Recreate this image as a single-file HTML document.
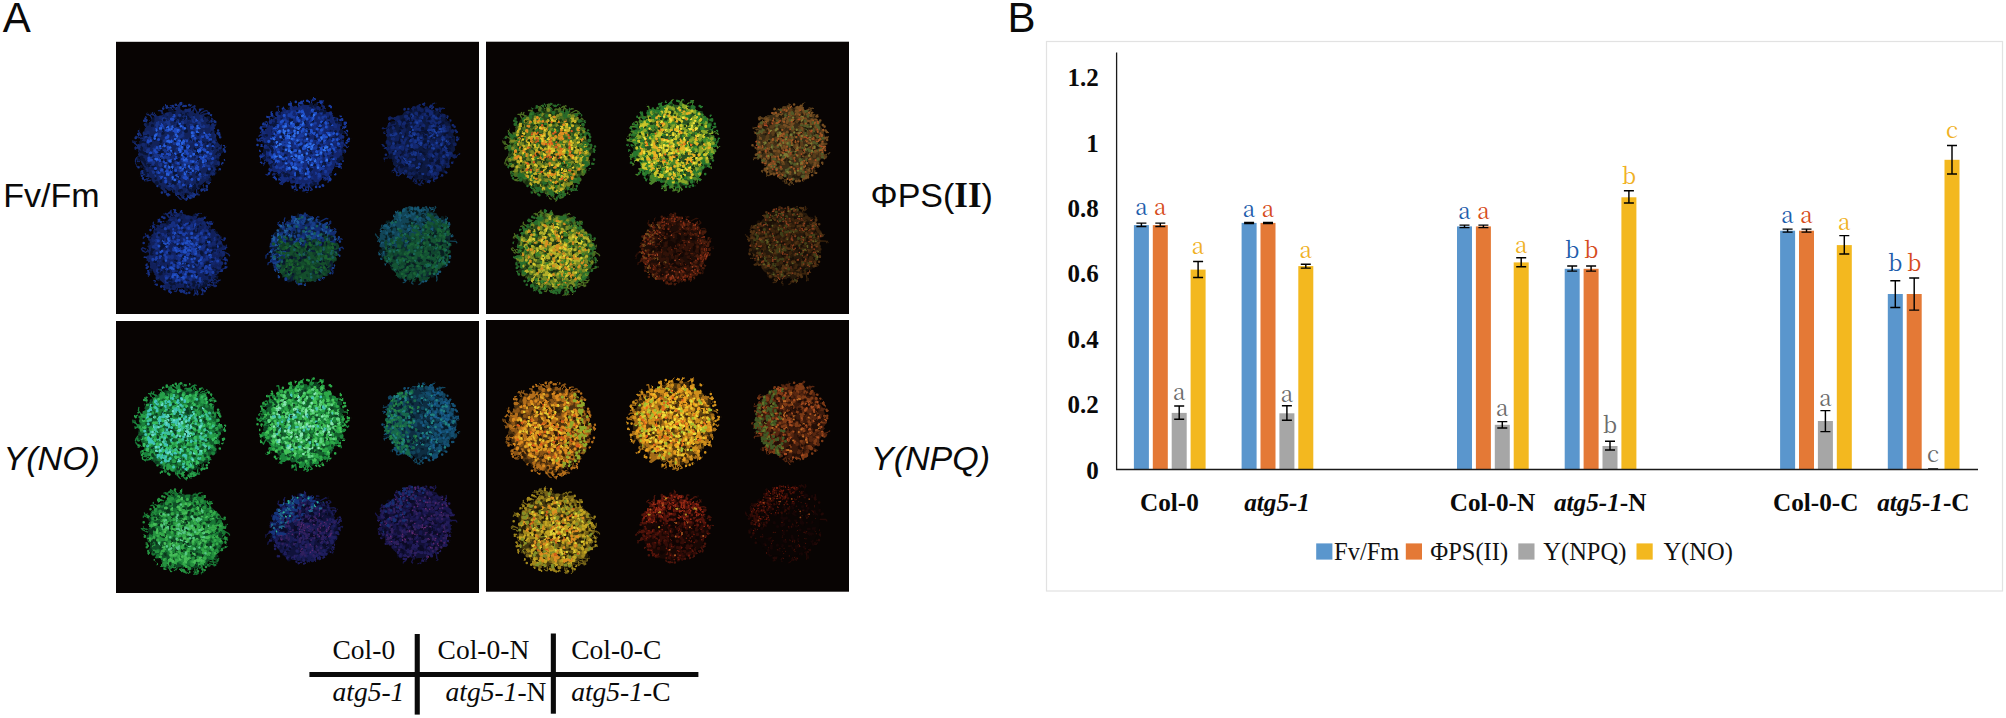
<!DOCTYPE html>
<html lang="en"><head><meta charset="utf-8"><title>Figure</title>
<style>
html,body{margin:0;padding:0;background:#fff;}
body{width:2006px;height:718px;overflow:hidden;}
svg{display:block;}
.sans{font-family:"Liberation Sans", sans-serif;fill:#0a0a0a;}
.serif{font-family:"Liberation Serif", serif;fill:#0a0a0a;}
.song{font-family:"Noto Serif CJK SC", "Liberation Serif", serif;font-weight:400;font-size:22.5px;text-anchor:middle;}
.ylab{font-family:"Liberation Serif", serif;font-weight:bold;font-size:25px;text-anchor:end;fill:#0a0a0a;}
.xlab{font-family:"Liberation Serif", serif;font-weight:bold;font-size:25.2px;text-anchor:middle;fill:#0a0a0a;}
.leg{font-family:"Liberation Serif", serif;font-size:24.5px;fill:#111;}
.tbl{font-family:"Liberation Serif", serif;font-size:27.5px;fill:#0a0a0a;}
.eb{stroke:#000;stroke-width:1.45;fill:none;}
</style></head><body>
<svg width="2006" height="718" viewBox="0 0 2006 718">
<rect width="2006" height="718" fill="#fff"/>

<defs><filter id="bl" x="0" y="0" width="100%" height="100%" color-interpolation-filters="sRGB"><feTurbulence type="fractalNoise" baseFrequency="0.16" numOctaves="2" seed="3" result="n"/><feDisplacementMap in="SourceGraphic" in2="n" scale="2.8" xChannelSelector="R" yChannelSelector="G"/><feGaussianBlur stdDeviation="0.6"/></filter></defs>
<rect x="116" y="41.8" width="363.0" height="272.2" fill="#080403"/>
<rect x="486" y="41.7" width="363.0" height="272.3" fill="#080403"/>
<rect x="116" y="321" width="363.0" height="272.0" fill="#080403"/>
<rect x="486" y="320" width="363.0" height="271.7" fill="#080403"/>
<g filter="url(#bl)" stroke-linecap="round" fill="none">
<rect x="116" y="41.8" width="363.0" height="272.2" fill="none" stroke="none"/>
<g transform="translate(179.4 150.7)"><path d="M39.9 0L39.7 3.9L40 8L36.9 11.2L37 15.3L34.9 18.7L33.5 22.4L30.9 25.3L29.1 29.1L25.5 31.1L22.7 33.9L18.9 35.4L16.4 39.6L12.3 40.5L8.3 41.9L4.3 43.3L0 42.4L-4.2 42.6L-7.8 39L-11.9 39.2L-15.2 36.7L-19.1 35.7L-22.8 34.1L-26.2 31.9L-27.8 27.8L-31.3 25.7L-32.4 21.6L-34.5 18.4L-36.2 15L-38.3 11.6L-38.8 7.7L-41.5 4.1L-40.1 0L-40.7 -4L-39.3 -7.8L-37.4 -11.3L-36.6 -15.2L-35.5 -19L-34.6 -23.1L-31.6 -26L-29.6 -29.6L-26.7 -32.5L-23 -34.5L-18.7 -35L-15.3 -36.9L-11.6 -38.4L-7.8 -39.2L-4 -40.2L0 -42.1L3.9 -39.6L7.8 -39.4L12.1 -39.8L15.5 -37.5L19.6 -36.6L23.9 -35.8L27.4 -33.4L29.3 -29.3L31.1 -25.5L34.1 -22.8L35 -18.7L36.2 -15L37.3 -11.3L38.6 -7.7L39.3 -3.9Z" fill="#12225a"/><path d="M14 -39.9L15.1 -45L16.8 -44.5M-17.3 -37L-17.2 -40.1L-19 -40.1M-30.6 27.2L-34 30L-35.5 28.9M-2.3 -41.7L1.1 -45.8L2.7 -46.7M1.2 43.6L5.7 48.8L7.1 49.9M-3.9 42.6L.1 47.9L1.8 48.6M-24.2 -33.8L-26.2 -36.5L-25.5 -38.2M-27.5 -31.9L-29.6 -36.3L-31.4 -36.2M30.5 -29.6L32.3 -32.4L33.6 -31.1M-16.2 37.2L-15 41.4L-13.6 42.5M-37.5 16.3L-43 13.9L-43.7 12.2M24 34.2L23 39.3L21.9 40.7M-22.8 -34.6L-28.5 -36.5L-27.8 -38.1M-3 -41.6L-7.3 -44.9L-9.1 -45M-35.4 20.2L-38.3 21.5L-38.6 23.3M-16.5 -37.4L-19.1 -40.3L-20.9 -40.1M-28.5 29.5L-32.4 30.2L-33.7 28.9M-.8 -41.8L-.9 -45.9L.8 -46.5M-6.6 -40.9L-10.2 -42.9L-12 -43M-15.7 37.4L-13.1 41.6L-14.8 41.9M9.6 42.6L13.1 46.9L11.3 47.3M-41.3 6L-43.5 9.1L-44 10.8M18.1 38.3L18.4 44.1L20.2 44.1M-38 -15L-41.1 -19.6L-40.5 -21.4M12.5 41.4L17.4 43.7L15.8 44.6M10.2 -40.8L13.2 -43.9L15 -44.2M-40.7 -4.8L-46.2 -7.9L-46.5 -9.7M19.3 -38.3L22.1 -41.9L23.9 -41.8M23.2 -36.4L29.3 -37.3L28.3 -38.8M21.3 -37.4L25.8 -39.9L27.6 -40M-41 -3.4L-44.2 -7.4L-44.5 -9.2M-40.9 -3.9L-44.2 -1.5L-44.4 -3.3M17.4 -38.9L15.3 -42.8L14.3 -44.3M-38.9 -11.9L-43.3 -14.4L-43.8 -12.7" stroke="#14286c" stroke-width="1.3" stroke-linejoin="round"/><path d="M4.3 -44.7h0M14.4 45.9h0M1.5 -46.6h0M38.2 -17.3h0M35.9 -28.7h0M-37 22h0M-41.1 -16.7h0M22.8 38.8h0M40.8 -13.5h0M-36.4 27.7h0M45.6 -4.1h0M42.9 13.2h0M13.8 43.5h0M32.2 -29.3h0M29.3 32.5h0M11.6 44.5h0M-6.6 -44.7h0M25 38.8h0M38.7 -20.1h0M22.1 39.3h0M-8.5 -42.3h0M-35.2 -29.9h0M3.6 45.3h0M6.3 -44.7h0M-40.8 16.5h0M9.9 -45.6h0M-37.4 25h0M45.5 .9h0M44.6 9h0M44.4 -1.3h0M35.1 -29.3h0M40.4 18.6h0M44.9 -.2h0M9.1 45.7h0M31.7 -35.4h0M10.8 47.2h0M-21.9 35.3h0M39.7 -17.4h0M-2.2 -43.2h0M-43.7 -12.8h0M27.5 38.1h0M-33.9 -32.1h0M-16.2 -42.1h0M15.5 44h0M4 45.1h0M-17.5 41.9h0M40 -15.6h0M-32.9 -29.5h0M-11.3 43.6h0M-10 44.7h0M20.7 -40.9h0M-35.1 23.8h0M7.3 48.1h0M-2.8 44.1h0M-3.6 -46h0M29.5 -37.3h0M27.4 35.4h0M-40.9 16.5h0M-12.7 -43.1h0M-12.6 -44.3h0" stroke="#183488" stroke-width="2.6"/><path d="M37.8 9.4h0M35.2 22.1h0M-11.3 5.8h0M15.5 12.7h0M-22.7 32.5h0M-1.9 -8.3h0M24 .7h0M-3.3 -28.3h0M28.6 9.4h0M29.7 19.8h0M17.6 31.2h0M14.6 38.1h0M-7.3 35.7h0M-32.3 -15.1h0M20.6 22.2h0M-7.6 19.1h0M25.4 12h0M-16.8 -18h0M12.3 19.6h0M1.7 -36.1h0M7.8 2.2h0M38.8 12h0M-7 17.5h0M1.9 1.9h0M9.1 40.3h0M1.9 -31.7h0M4.4 2.4h0M20.6 -12.5h0M-26.9 -13.9h0M15 4.8h0M1 27.9h0M6.5 -19.7h0M17.6 -15.3h0M9.1 -10.6h0M-31.5 23.1h0M41.6 1h0M7.7 -34.5h0M-16.2 17.1h0M5.6 5.1h0M18.5 21.8h0M28.8 -28.2h0M1.2 -6.3h0M4.1 31.7h0M37.8 -3.5h0M29.1 7.2h0M-30.3 -5.8h0M-19.3 -9.2h0M-7.5 .9h0M-37.8 6.8h0M-26.9 -30.2h0M25.2 13.3h0M-4.9 32.3h0M7.6 -36.6h0M23.1 -33.8h0M-10.8 21.1h0M-34.6 2.3h0M-12 -24.6h0M-29.3 15.3h0M9.6 21.9h0M-13.7 -34.5h0M-5.8 30.5h0M-18.9 .5h0M30.1 29.1h0M-32.9 -16.2h0M-5.8 -38.5h0M-27.4 14.8h0M-35.1 -9.2h0M-4.4 22.5h0M19.4 -1.1h0M-36.5 1h0M27.1 -2.7h0M9.9 22.3h0M29.1 -8h0M7.4 -30.3h0M-.2 9.2h0M-25.6 23.6h0M-38.5 -9h0M6 -26h0M-9.4 -40.7h0M16.6 8.4h0M37.5 4.4h0M14.2 -11.3h0M23.9 -9.7h0M-36.4 8.2h0M-33.7 24.3h0M16.6 -24.4h0M22.6 -.7h0M-33.1 2.9h0M36.3 -5.7h0M14.8 -33.9h0" stroke="#0a1434" stroke-width="4.2"/><path d="M26.9 24.2h0M-14.2 -9.7h0M-40.5 -3.3h0M39.6 3.7h0M16.9 -19.4h0M31.9 1.5h0M20.8 -26.6h0M1.9 20.9h0M32.7 -22.3h0M8.4 -7.3h0M-34.9 -17.5h0M-19 10h0M29.7 -10.5h0M27.7 14.6h0M27.1 -13.1h0M28.8 3.4h0M35.7 6h0M6.2 -28.8h0M28.3 6.7h0M-7.1 4.7h0M2.1 -5.4h0M9.5 -11.1h0M11.7 -9.1h0M-3 2.1h0M5.5 14.6h0M-31.7 24.5h0M-4.6 -9.9h0M-8.8 -19.4h0M-14.9 -27.8h0M27.3 -16.8h0M13.6 -14.6h0M-3.4 -25.6h0M4.8 25.1h0M7.9 23.8h0M9.1 -32.5h0M8.8 20.5h0M9.9 -40.4h0M-13.4 -27h0M27.5 -24.1h0M.8 26.8h0M12.3 -23.2h0M-23.8 -3.4h0M19.2 -13.2h0M18.2 6.5h0M35.2 19.4h0M27.8 -2.7h0M31.2 -4.4h0M-14.3 30.1h0M18.4 -7h0M14.9 8.6h0M27.1 7.5h0M27.6 -4.5h0M29.8 15.5h0M33.7 23.4h0M-24.6 -12.9h0M-1 -42.6h0M-7.1 -12.8h0M-11 35.2h0M-31.4 -10.1h0M-7.3 -30.6h0M-14.4 -23h0M21.1 -5.7h0M28.4 -12.7h0M1.1 -12.6h0M10.7 2.4h0M12.2 -32.5h0M25 26.8h0M-14.7 -25h0M3 36.1h0M-7.2 7.3h0M-7.9 26.7h0M20 9.1h0M10.5 8.9h0M-.6 42.5h0M31.2 -9h0M35 -15h0M-20.2 11.8h0M9.5 10.7h0M13 -12.5h0M-37.9 -11.4h0M-16.2 26h0M7.1 25.2h0M-5.1 -10.7h0M-24 17.8h0M-20.9 6.2h0M30.1 7.4h0M8.2 28.6h0M-27.3 21h0M-19.8 25.9h0M-33.2 19.5h0M22.1 -25.5h0M15.3 -22.1h0M15.7 14.9h0M21.8 -30.7h0M-36.1 -5.9h0M11.3 30.8h0M31.9 -5.1h0M-.2 32.7h0M-27.5 21.3h0M35.1 -7.6h0M31.4 4.7h0M6.7 -40.2h0M2 -28.1h0M11.1 -.7h0M40.5 -2.9h0M19.6 -7.8h0M2.3 -24.9h0M19.2 -13.1h0M.7 -16.7h0M.5 42h0M2.2 11h0M-19.2 -27.8h0M31 17.2h0M15.5 13.4h0M-21.8 -19.9h0M21.4 -16h0M15.9 28.7h0M-20.2 28.1h0M-34.9 -1.2h0M-6.6 15h0M-4.4 37.8h0M-21.6 -15.9h0M-6.3 35.6h0M38.6 12.3h0M22.1 -11.5h0M14 -29.6h0M-34.2 -2.2h0M7.2 39.7h0M-28.7 16.3h0M20.9 -11.9h0M13.1 -33.2h0M26.6 -15.8h0M18.8 8.9h0M-31.5 -18.2h0M-15 30.2h0M-20.6 -16h0M13 -29.5h0M3.2 27.7h0M17.2 27.4h0M3.5 30.8h0M22 -7.1h0M3.6 -14.6h0M4.3 -10.5h0M25.4 15.1h0M30 16.1h0M8.3 -30.6h0M-2 -23.5h0M-25.1 -21.4h0M-17.6 -20.4h0M8.7 -32.7h0M5.2 -5.7h0M-19.6 -18.2h0M11.3 -10.5h0M-8.1 24h0M-40.9 9.7h0M21.8 -34.2h0M-26.9 12.5h0M9.6 10.1h0M-12.6 -5.2h0M-30 4.3h0M33.6 16.6h0M-8.2 2.5h0M-29.9 11h0M15.9 -15.1h0M34.2 7.6h0M2.9 -6.8h0M-6.5 40h0M17.8 -7.2h0M-20.8 -26.4h0M-13.1 -9.6h0M19.5 26h0M-12.5 -36.1h0M33.5 -25.8h0M-19.2 -33.2h0M28.3 1.1h0M20.6 -13h0M21.2 16.8h0M-5.1 -29.9h0M-34.7 -11.3h0M-39.9 -2.7h0" stroke="#14286c" stroke-width="4.0"/><path d="M30 8.5h0M-8.3 2.8h0M8.7 5h0M-14.7 -9.8h0M1.2 17.9h0M-18.1 18.6h0M12.2 -25h0M-22.5 -25.5h0M-25.6 1.7h0M-26 11.7h0M-5.1 -7.3h0M-10.4 -26.2h0M-19.5 13.9h0M-13.9 -29.5h0M-9.3 -21.5h0M-28.3 6.1h0M-17.7 -21.6h0M15.7 -.5h0M-15.4 8.2h0M-18.9 14.6h0M.9 -13.6h0M30.1 -5.7h0M11.1 2.7h0M-17.3 8.2h0M12.5 16.9h0M-16.3 -30.7h0M-24.3 5.2h0M-.6 33.4h0M3.9 -32.3h0M-12.2 18.3h0M17 6.4h0M17.6 12.7h0M-7.1 -31.2h0M29 14.9h0M19.7 -27.9h0M-26.6 -1h0M-11 6.8h0M15.3 -33.4h0M-16.8 21.7h0M2.8 -15.3h0M-12.3 -12.9h0M13.8 12.2h0M-13.7 29.9h0M17.4 21.2h0M-4.5 27.7h0M9.8 12.6h0M5.8 35.4h0M-11 -27.5h0M-.4 -11.1h0M16.9 -21.3h0M2.5 14.2h0M29 -12.8h0M2.6 -9.1h0M3.4 -6.4h0M.2 -3.1h0M-21.7 -25h0M4.5 25.4h0M-2.1 -1.7h0M.8 36.4h0M3.3 -3.2h0M13 17.7h0M2.6 8.7h0M5.6 22.2h0M-3.1 -8.3h0M-3.5 17.9h0M-32 -.3h0M32.5 11.5h0M-21.8 21.4h0M-.2 16.7h0M-12.2 -28.9h0M-15 -31.9h0M-2.3 -8.3h0M24 8.5h0M-26.1 21.7h0M-21.9 -23.2h0M-5.5 -34.8h0M4.4 -22h0M20.3 -25.3h0M-5.1 27.6h0M21 -24.9h0M-21 3.6h0M-23.8 -15h0M-13.7 6.1h0M10.1 -1.2h0M4 -28.2h0M-14.5 -32.4h0M31 -15h0M22.7 -30.7h0M2.4 15h0M-15.3 -22.9h0M19 25.6h0M-3.3 -22h0M-29.2 9.6h0M-21.6 6.4h0M21.6 26.5h0M-34 -.8h0M.3 -.8h0M12.3 -11.1h0M23.9 14h0M-6.7 35.2h0M18.1 13h0M17.7 13h0M-2.1 -29.6h0M-10.9 20.8h0M34.6 -8.7h0M-20.4 -1.2h0M2 1h0M3.6 25.7h0M25.1 13h0M29.8 -13.2h0M-33.4 -13.1h0M25.5 24.5h0M.3 -35.4h0M-15.8 -32h0M26.3 14.2h0M-24.9 25.3h0M17.4 .9h0M-11 21.8h0M-29.5 -12.6h0M3.3 -17.7h0M-19.7 -15.2h0M-24.9 -1.7h0M13 -29.8h0M5 11.7h0M-31.2 -11.5h0M5.7 -2h0M24.2 -24.3h0M-7.8 -23.4h0M-11.9 8.7h0M-30.4 -1h0M-10.2 32.5h0M-21.9 -27.3h0M-10.3 34.5h0M-30.3 -8.6h0M21 2.4h0M-3.1 12h0M-14.8 .2h0M29.8 7.3h0M-4.1 -21.9h0M33 -.9h0M8.6 -25.9h0M-13.3 12.6h0M7.8 12.1h0M27.7 5.6h0M7.6 1.1h0M-4.6 -14.9h0M-14.8 18.2h0M.5 19.7h0M21.8 -12.5h0M-10.8 -29.3h0" stroke="#183488" stroke-width="3.6"/><path d="M-6.6 -27.4h0M-10.3 38.5h0M23.7 27.2h0M34 5.2h0M-16.1 38.1h0M-34 -26.3h0M38.2 6.1h0M11.3 28.5h0M41.2 -5.1h0M2.9 44.4h0M-28.9 22.3h0M10.1 39.8h0M16.5 34.1h0M27.8 31.2h0M-30.2 -6.7h0M19 38h0M4.7 39.1h0M-15.6 29h0M12.9 -38.2h0M35.5 15.3h0M-26.9 24.6h0M-34.8 -1.4h0M37.9 -6.4h0M10.4 42.5h0M1 41.8h0M3.5 40.1h0M24.9 -10.5h0M-29.2 -25.2h0M25.3 1.3h0M-1.7 38.5h0M-17.4 37h0M-26.2 25.9h0M28.1 -1.1h0M33.3 -15h0M-9.8 21.4h0M-14.3 24.9h0M-28 -1h0M-8.7 -35.9h0M17 -34.2h0M10.5 34.9h0M30.8 -12.4h0M36.2 10.5h0M29.1 -19.7h0M8.6 41.7h0M19.8 -24.4h0M-13 -23.6h0M34.9 -2.6h0M18.2 -37.6h0M-33.5 4.9h0M27.3 -5.4h0M27.6 -20.8h0M-6.8 -25.2h0M4 -37.9h0M30.1 -29.5h0M31.4 9.9h0M-17.7 23.2h0M23.9 12.7h0M8.3 -26.4h0M18.1 26.1h0M37 -4.7h0M-31 -24.1h0M19 34.5h0M-32.9 -11.6h0M11.7 -37.6h0M-14.1 -34.6h0M-22.5 -33h0M24.4 -35.6h0M-1 -41.9h0M23.4 23.8h0M8.8 -35.9h0" stroke="#12225a" stroke-width="3.4"/><path d="M22.1 1.7h0M-23.2 -12.8h0M9.1 35.2h0M33.2 -6.1h0M-24.7 15.7h0M-40.7 9h0M5.1 35.8h0M9.7 -2.7h0M39 2h0M-16 18.5h0M11 39.7h0M-21.7 8.8h0M15.4 36.4h0M1 13.7h0M14.5 40.2h0M-38.1 15.6h0M26.5 -4.7h0M18.6 -16.7h0M8.9 37.4h0M-34.3 20.4h0M9.3 -32.2h0M-23.7 -12.9h0M-1.4 30.9h0M-34.6 21.7h0M-11.9 33h0M18.6 -10.1h0M39.1 2.7h0M-18.5 1.2h0M2.5 -5.2h0M-16.3 -21.1h0M18 -.8h0M5.5 -3.4h0M-38.8 -10.4h0M-6.2 40h0M-9.2 3.5h0M-1.6 -6h0M9.4 15.5h0M-34.7 11h0M-37.8 -2.3h0M-18.9 -5h0M12 26.7h0M-15 18.8h0M32.2 18h0M27.3 -4.7h0M-1.2 4.6h0M13.9 38.9h0M-1.2 25h0M7.7 -34.4h0M17.5 23.6h0M18.5 8.3h0M9.5 22.1h0M-15 -30.6h0M-28.6 -7.7h0M-3.4 -30.2h0M31.4 -11.8h0M-18.5 30.2h0M15.7 -2.2h0M28.2 .6h0M28 22h0M19.3 1.7h0M19.9 35.4h0M-36.6 9.3h0M-1.6 -25.1h0M-24 19.1h0M-.5 4.7h0M-27.2 -25.3h0M15.1 34.5h0M-8.6 15.6h0M-30.5 14.4h0M28.4 -33.1h0" stroke="#0a1434" stroke-width="3.0"/><path d="M-21.9 9.6h0M13.2 -22.7h0M33.1 7.7h0M-2.8 24.9h0M21 6.5h0M7.9 -2.5h0M16.6 -10.7h0M-13.7 -6.1h0M-19.7 9.9h0M3.2 9.3h0M-23 1.6h0M30.6 -11.1h0M22.4 -6.2h0M-22.3 -21.2h0M21 -3.1h0M-31.3 -8.8h0M11.2 22.5h0M30.1 -16.9h0M-14 11.8h0M-17.8 3.8h0M4 34.2h0M-21.6 9.4h0M21.2 -8.9h0M29.9 18.3h0M7.4 -9.9h0M19.1 28.6h0M4.2 6.5h0M-6.5 -31.4h0M13.9 -17.8h0M-30.5 7.5h0M7.2 10.3h0M17.4 -30.6h0M-11.6 -20.3h0M31.3 3.1h0M16.6 17.8h0M.9 -5.3h0M16.4 -6.1h0M26.3 10.3h0M23.2 -14.1h0M2.7 -2.2h0M-3.7 19.7h0M-20.8 -11.2h0M5.3 16.9h0M-11.5 -13.9h0M18.6 18.9h0M-12.6 2.8h0M-.4 -20.5h0M-18.6 -3.6h0M-11.3 2.7h0M26.2 5.5h0M11.5 34.3h0M8.4 -4.8h0M-24.4 -.2h0M-8 19.5h0M23.6 9.2h0M5.4 .3h0M22.3 8.4h0M-20.4 21.8h0M-.2 31h0M-7.3 -10.1h0M-13.2 -12.9h0M28.3 1.3h0M-22.5 -3.1h0M-.6 -8h0M-8.3 9.6h0M7 .8h0M-10.9 -1.9h0M24.3 14.9h0M-17.2 -25.3h0M17.4 16h0M-8.4 21.3h0M6.5 27.7h0M16.4 10.6h0M12.5 28.6h0M-17.2 6.6h0M-15.3 10.8h0M14.2 4.1h0M-23.9 17.7h0M20.5 23.5h0M-13.6 31.3h0M-17.3 19.1h0M-28.9 -10h0M-30.5 9.6h0M-7.9 -31.7h0M21.3 7.8h0M-1.2 12.5h0M-10.5 3.8h0M1.2 -4.5h0M1 -.2h0M-12.5 20.4h0M-3.1 -19h0M20.3 -1.3h0M26.8 -15.4h0M-3.9 -21.3h0M-13.2 -20.9h0M-28 9.3h0M15.6 -12.4h0M-11.3 -3.3h0M25.5 -.5h0M-5.5 -34.7h0M28 -13.3h0M3 -23.7h0M6.4 26.2h0M-14.6 -6h0M-3.3 7h0M12 10.8h0M7.5 9.3h0M33.6 -4h0M-18.8 26.7h0M-14.1 28h0M-10.6 22.1h0M-28.8 2.1h0M-5.7 -19.3h0M2.4 20.3h0M4.8 26.9h0M6.2 -33.3h0M17.7 21.9h0M8.1 2.8h0M6.7 6.1h0M24 -1.4h0" stroke="#1e48bc" stroke-width="3.2"/><path d="M-38.6 1.2h0M29.5 21.7h0M31.1 -8.9h0M4.9 18.6h0M-26.7 -25h0M10.1 27.3h0M-33.6 13.9h0M13.8 13.8h0M4.4 .6h0M2.1 39.7h0M36.3 15.2h0M-9.5 13.2h0M3.1 -32.4h0M16.6 29.2h0M-24.9 -10.8h0M5.3 -2.2h0M11.3 -11.8h0M-28.5 4.7h0M15.4 3.6h0M5.9 -33.1h0M-23.8 27.9h0M-35.2 17.8h0M-6.9 10.5h0M1.6 -11h0M-13.8 9.4h0M-4.4 -9.7h0M-26.1 -32.2h0M17.5 2.2h0M8.1 43.7h0M17.4 -10.1h0M5.8 -23.6h0M2.3 -9.5h0M-31.4 -26.3h0M-4.1 26.6h0M-13.3 -6.5h0M6.3 5.5h0M-17.3 9.2h0M-34.2 12.1h0M-19.9 35.6h0M-1.6 -33h0M32.1 -18.4h0M33.1 -1.5h0M.7 40.4h0M17.9 22.3h0M-7.4 18.5h0" stroke="#0a1434" stroke-width="2.6"/><path d="M3.6 18.7h0M-4.4 -16.1h0M13.4 20h0M-22.5 -20.3h0M28.1 -3.8h0M8.9 -3.5h0M23.7 11.6h0M.6 -1h0M-23.8 8.3h0M-24.6 -12.1h0M-7.1 16.2h0M4.9 3.2h0M2.8 4.4h0M-9.1 -3.2h0M-.6 -7h0M2.8 -7h0M1.5 -24.4h0M6.7 8.6h0M-.2 .2h0M5.6 23.5h0M-1.5 -20.7h0M7.9 21.1h0M.7 1h0M-8 -9.3h0M-9 10.7h0M.3 -26.9h0M20 -22.8h0M-4.6 29.3h0M12.7 -17.4h0M16.7 -5.7h0M-4.2 3.2h0M-9.9 -8.6h0M11.2 17.6h0M-11.2 -23.7h0M2.6 -3.5h0M21 -.3h0M-1.9 -6.1h0M9.5 15.7h0M-18.9 -3.2h0M28.1 1.5h0M5.4 -22.4h0M-.1 -1.8h0M11.3 5.6h0M-9.9 10.2h0M-12 -9.5h0M-10.7 -9.5h0M-3.6 -11.4h0M4.2 -8.8h0M4.9 9.5h0M20 1.3h0M-14.1 15.7h0M-10.7 -9.9h0M-23.1 -16.1h0M1 17h0M-6.7 26.7h0M-6.9 -24.1h0M-14.9 -4.8h0M17.9 -22.4h0M14.5 3.4h0M-18.3 -22.3h0M3.3 3.7h0M-22.1 8.7h0M17.6 -19h0M-10 16.7h0M13.6 10.8h0M-2.2 -14.3h0M.5 -9.9h0M-8.2 -.1h0M14 -14.9h0M19.4 .2h0M5.5 14h0M-10.4 -21.2h0M-24.4 -14.8h0M-11.1 24h0M24.1 -18h0M12.6 -18.2h0M18.1 -24.7h0M23.9 7.2h0M-7.8 -21.7h0M13.1 -14.7h0" stroke="#2860de" stroke-width="2.6"/></g>
<g transform="translate(303.5 144.5)"><path d="M39.6 0L39.3 3.9L39.5 7.9L38.4 11.7L34.4 14.2L33 17.6L31.4 21L30.2 24.8L27.7 27.7L25.2 30.7L22.2 33.2L18.5 34.7L15.5 37.4L11.6 38.2L7.6 38.4L4.1 41.4L0 40.9L-3.9 39.7L-7.6 38.4L-11.8 38.8L-14.6 35.2L-18.2 34.1L-21.4 32L-25.2 30.7L-27.8 27.8L-31.2 25.6L-33.5 22.4L-34.8 18.6L-37.7 15.6L-37.7 11.4L-37.9 7.5L-39.8 3.9L-39 0L-39.3 -3.9L-39.5 -7.9L-38 -11.5L-36.7 -15.2L-34.6 -18.5L-33.7 -22.5L-29.9 -24.6L-27.5 -27.5L-24.8 -30.2L-22 -32.9L-17.7 -33.2L-14.4 -34.9L-10.9 -36.1L-7.5 -37.9L-3.8 -38.7L0 -39.8L3.9 -39.4L7.8 -39.3L11.9 -39.3L15.3 -37L19.3 -36L22.1 -33L26.2 -32L29.4 -29.4L31.5 -25.9L34.7 -23.2L36.3 -19.4L37 -15.3L38.6 -11.7L38 -7.6L40.5 -4Z" fill="#13256a"/><path d="M-29 -28.4L-33.6 -28.2L-35 -27M24.4 32.1L25.9 35.1L27.5 34.3M-38.6 -12.9L-41.5 -13L-43 -12.1M38.5 -12.4L42.7 -11.3L43.8 -9.9M-37.8 16.1L-40 20.5L-41 19M-38.9 11.8L-43 10.3L-43.8 11.8M-35.4 -19.3L-36.7 -22.9L-38.4 -22.3M-36.4 -17.4L-42.7 -17.9L-43.5 -16.3M-39.8 -9.5L-43.2 -9.6L-44.5 -8.3M-39 11.3L-42.8 13.5L-42.5 15.3M40.9 -.4L44 3.7L45.2 2.3M5.1 40.9L4.9 46.7L3.4 47.7M5.3 40.9L8.8 45.2L7.1 45.9M32.1 21.6L37.5 22.2L37.8 23.9M12.6 -39.7L18.3 -43.4L20.1 -43.7M19 -37L18 -41.8L19.7 -42.2M-16.9 35.9L-22.3 39.7L-23.9 38.9M24.6 32L24 36.1L23.5 37.9M-32.3 26.1L-35.8 30.7L-37.5 30M34.1 18.3L36.9 19.3L36.4 21.1M-40.6 -6.1L-46.2 -3.7L-46.2 -5.5M-35.3 -19.4L-41 -19.7L-40.2 -21.4M-40.9 -2.8L-45.9 -3.9L-46.7 -5.5M-18.1 35.3L-22.2 36.5L-23.7 35.5M-24 -32.3L-24.9 -38.1L-26.6 -37.7M2.8 41.2L1.7 45.8L3.5 45.8M-2 41.4L1 46.3L-.8 46.4M-33.2 -23L-34.3 -27.9L-36 -27.4M-8.1 40.1L-7.2 45.9L-9 46.1M-7.8 40.2L-10.2 43.4L-11.8 44.2M7.4 -40.6L8.5 -44.3L10 -45.2M-.5 -39.9L-1.3 -43.2L0 -44.4M-17.7 35.5L-23.6 38.5L-22.3 39.8M24.1 32.5L26 35.6L27.7 35.1" stroke="#152c7c" stroke-width="1.3" stroke-linejoin="round"/><path d="M-31.8 -31.9h0M-28.6 33.2h0M38.6 -25.2h0M-41.1 -14.4h0M-2.1 -42.4h0M-31.8 -30.2h0M17 -43.3h0M-41.9 .9h0M38.6 -23.8h0M-20.6 -35.8h0M26.2 -38.4h0M-40.3 11.5h0M39.5 16.1h0M-3.4 43.1h0M-12.6 -39h0M19.2 40.8h0M37.2 -20.1h0M-34.5 29h0M36.9 -24.5h0M31.7 29.7h0M-37.6 -18.9h0M-14.3 -40.1h0M35.7 22.1h0M37.3 -28.6h0M-39.9 -20.6h0M-31.3 -30h0M41.7 -17.7h0M20 -37.7h0M-42.6 12.2h0M-1.9 -41.3h0M39.8 -17h0M45.4 -5.6h0M-44.3 6.2h0M19.6 41.3h0M35.7 19.5h0M43.5 -13.4h0M-27.2 34.7h0M12.6 42.4h0M5.3 -43.2h0M-12.7 -40.9h0M-36.1 -27.7h0M16.2 42.2h0M-4.1 -41.2h0M41.3 -20.6h0M-4.5 -39.8h0M10.2 -45.1h0M27.6 -37.4h0M-46 .5h0M-42.4 18.2h0M35.7 22.2h0M3.7 -43.7h0M-10.9 42.2h0M44.9 -3.5h0M-7.7 -42.6h0M25.1 32.8h0M-42.5 -16.5h0M26.5 35.6h0M18.7 -41.8h0M43 -1.8h0M-22.9 34.5h0" stroke="#193a9c" stroke-width="2.6"/><path d="M-29.2 -11.6h0M-38.5 6.1h0M-38.5 -2.6h0M11.9 -38.8h0M36.5 -20.8h0M-3.3 26.1h0M20.4 -32h0M-40.1 -6.2h0M14.1 5.7h0M-39.4 -3.5h0M14.3 -32.6h0M34.8 15.4h0M21.6 11.3h0M15.7 17.5h0M20.7 32.6h0M8.4 40.2h0M12.7 -32.1h0M-32.9 -20.5h0M-30.4 7.1h0M-30.3 -12.9h0M15.8 -10.5h0M-30.8 13.9h0M10.6 30.3h0M31.6 -6h0M-18.8 -24.2h0M-4.8 12.5h0M-2.2 16.7h0M7.6 -37.2h0M-38.3 13.3h0M-19.9 33.4h0M-21.9 -24.1h0M17.3 -18.1h0M-16.4 32.2h0M22.7 10.3h0M-13.2 25.1h0M.5 -24.3h0M-9.6 -26.3h0M-19.3 -.5h0M28.9 -5.1h0M17.2 -34h0M-29 18.5h0M-9 14.1h0M22.9 4.9h0M17.8 -10.8h0M-10 -22.2h0M24.8 -27.4h0M7.3 4.7h0M-23.9 30h0M.2 2.8h0M33.6 -9.6h0M7.4 32.4h0M6.4 2.6h0M28.3 -14.5h0M20.4 19.3h0M-12.6 -19.4h0M14.2 -35.3h0M-24 -6.7h0M38.3 -12.3h0M23.9 -6.5h0M19.7 22.2h0M7.6 25.4h0M-2 28.5h0M18.4 -2.4h0M28.2 13.7h0M11.4 -31.7h0M-6.3 31.1h0M4 21.2h0M-11.8 32.9h0M-6 28.5h0M-21.1 -.6h0M-8.3 17.4h0M-16.6 15.7h0M.8 -20.1h0M38 13.1h0M-2.6 40.5h0M-37.1 -1.5h0M-6.9 -20.6h0M-26.8 -22.3h0M3.8 7h0M-10.3 -19.4h0M-11.4 -24.6h0M3.9 -14.4h0M3.3 -13.7h0M-3.7 -1h0M-21.9 32.5h0M-26.4 21.6h0M-28.1 -4h0M7.8 -40h0M8.6 37.4h0M-30.4 -19.2h0" stroke="#0b163a" stroke-width="4.2"/><path d="M-26.4 -11.8h0M31.7 14.1h0M23.8 -17.4h0M11.3 -18.2h0M-13.7 -3.2h0M-4.2 24.2h0M12 23.3h0M17.3 1.1h0M-5.9 2.5h0M14.8 24h0M15.6 20.7h0M-3.6 1.6h0M33.1 -24.9h0M-39.9 10.1h0M15.1 14.2h0M-24 22.6h0M3.1 7.7h0M40.8 6.8h0M-20 28.9h0M17.5 13.9h0M31.4 -5.1h0M24.5 -23.3h0M-2.4 15h0M25.8 18.6h0M-24.1 -6.4h0M-.3 18.5h0M23.9 5.6h0M-32.9 11.8h0M-3.6 21.4h0M23.4 -28.2h0M3.6 14h0M25.4 24.8h0M-24.9 -28.2h0M-13.9 14.5h0M-19.3 16.2h0M-16.6 33.9h0M26.4 15.6h0M-34.1 1.5h0M-15.9 14.2h0M12.5 38.7h0M19 -11.7h0M-17 -17.6h0M-17 -32.7h0M-7.6 -23.4h0M-20.2 35.1h0M-4.3 10h0M7.5 -19.9h0M4.3 40h0M-12.1 32.9h0M-28.7 8.1h0M16 -11.2h0M-24.5 19.1h0M-13.9 -19.2h0M8.7 3.7h0M-13.7 10.8h0M30.5 -25.8h0M7.8 -31.8h0M31.1 -20.2h0M-41.3 -5.8h0M24.8 29.6h0M-30.5 21.6h0M-5.2 34h0M18.3 -22.2h0M33.5 18.4h0M-33.2 25.1h0M-9.8 -20h0M-20.3 -12.6h0M-25.3 -10.8h0M2.9 -2.1h0M2.2 19.3h0M10.5 19.9h0M-33 -22.6h0M5.6 31h0M9.5 -1.6h0M17.6 -24.6h0M-39.2 -11.7h0M-4.8 -14.2h0M.2 -28.4h0M36.6 6.2h0M-21.5 -18h0M15 -2.4h0M-12.1 -36.7h0M38.4 -.9h0M-6 36.9h0M21.6 34.3h0M16.1 4.3h0M16 -13.9h0M.7 17.4h0M3.1 12.6h0M8.6 2h0M22.6 29.5h0M-8.6 -24.6h0M-1.8 41.8h0M-24.7 -7.7h0M-21.5 -13.8h0M-38.1 -3.4h0M-10.4 2.7h0M-24.7 -24.4h0M-23.4 18.3h0M-27.2 -10.7h0M21.7 20.3h0M-32.9 18.3h0M2.5 22.6h0M-7.5 -24.3h0M-25 17.3h0M31 -3h0M9 -27.5h0M-3 -4.7h0M-11 -34.2h0M-9.7 -1.6h0M-24.7 21.5h0M20.9 -26.2h0M26.2 24.5h0M8.8 32.8h0M-19 7.2h0M11.5 -16.2h0M-18.8 -25.6h0M-2.9 -28.2h0M10.8 -5h0M-24.8 27.6h0M-18 21.2h0M-20.9 3.4h0M-38.1 2h0M-2.8 37.2h0M-9.2 -33.3h0M-15.4 .1h0M-4 -23.6h0M6.8 -1.3h0M-8.7 15.4h0M-3.1 -8.1h0M39 -7.4h0M15.3 33.6h0M5.9 -10.7h0M5.9 -34.4h0M23.2 -1.3h0M-4 15.3h0M-34.4 2.6h0M9 7.7h0M-11.5 -29.2h0M23.6 -28.5h0M-20.6 32.8h0M2.7 0h0M-3.6 37.2h0M-3.2 -21.2h0M-3.5 -5.6h0M32 -18.3h0M5.4 -35.8h0M.1 40.3h0M-25 -23h0M-3 -36.2h0M15.6 7.2h0M12.7 -31.6h0M-25 16h0M-35.7 9h0M-28.8 -3.6h0M-10.8 -32.9h0M-9.1 1.2h0M-29.5 -26.9h0M-28.9 -15.7h0M13.5 38.9h0M26.3 -21.9h0M6 36.3h0M-30 -12.6h0M-20.3 30.6h0M18.6 -6.6h0M26.7 -4.1h0M-19.3 26.4h0M-7.7 33h0M.5 30.2h0M-32.5 17.7h0M29.8 -12.8h0M-12.6 -13h0M-2.4 -9.5h0M27.2 -31.3h0M-40.3 -5.4h0M-31.7 20.3h0M-10.1 27.9h0M10.5 38.3h0M11.7 -20.6h0M-26.3 -31.3h0" stroke="#152c7c" stroke-width="4.0"/><path d="M-20.4 .1h0M19.8 -6.2h0M-.1 -24.8h0M-7.4 19h0M-16.9 -2.6h0M-22 -12.8h0M18.7 -6.5h0M-26.2 -17.3h0M-19.8 -29.1h0M-5.2 20.6h0M-14.5 17.3h0M-6.1 -26h0M-22.5 -21h0M-5.9 -5.4h0M-26.2 13.4h0M-3.7 24.3h0M-5.9 1.2h0M17.1 -11.7h0M-17.6 -10.1h0M-3.2 34.1h0M14.5 1h0M16.2 -32.6h0M4 -2.2h0M19.5 23.7h0M-1.1 -8.8h0M1.6 -3.7h0M19.2 -15.4h0M-6.2 15.8h0M20.8 -1.9h0M-17.1 -24.2h0M-15.3 -13.7h0M-26.8 22.7h0M-23.9 8.7h0M-28.2 -4.5h0M19.2 3h0M-20.7 21.9h0M-23.1 24h0M9.5 23.9h0M27.2 17.9h0M6.3 -27.5h0M-4.2 12.4h0M-5.9 -24.5h0M.4 -25.5h0M17.5 -31.4h0M-2.5 19.7h0M14.3 18h0M35.5 -4.1h0M11.7 28.8h0M-30.2 5.1h0M-10.1 -19.8h0M-26.8 15.3h0M-18 -24.5h0M-11.3 -27.7h0M-2.3 20.3h0M-25.5 5.3h0M-17.5 -2.5h0M32.6 3.9h0M15.5 30h0M-.1 -13h0M11.8 -21.9h0M22.7 13.3h0M-13.8 -19.3h0M-9.7 -27.6h0M20.9 -8.3h0M20.3 -26.7h0M5.7 -.9h0M-13.4 -29h0M2.9 34.5h0M-1.1 -33.6h0M-20.9 9.8h0M17 23.5h0M-32.2 7.6h0M10.1 3.6h0M-11.5 -31.8h0M-17.4 .8h0M28.2 18.2h0M15 14.9h0M-2.5 28.4h0M15.3 -26.6h0M-20.7 -2h0M-8.7 -13.1h0M-6.6 6.3h0M21.7 -22.7h0M27.4 -9.6h0M-8.1 18.8h0M-25.7 13.8h0M7.7 -23.6h0M29.1 2.3h0M-16.5 -23.2h0M30.5 4.6h0M-16.3 24h0M-6.9 11.8h0M-27.1 -12.8h0M10.8 15h0M.3 -19.5h0M-20.9 -5.5h0M20 22.7h0M-17.2 -4.5h0M-5.4 -33.3h0M-28.5 3.2h0M16.7 13.4h0M14.2 -1.7h0M8.7 -18.7h0M31.5 3.8h0M22 27.1h0M-27.7 -9.5h0M25.3 19.5h0M-.4 -12.6h0M-10.9 7.5h0M9.8 10.3h0M-9.7 -10.9h0M-26.7 -17.8h0M-24.9 12.4h0M21.3 -26.9h0M-11.8 -18.1h0M-33.5 9.4h0M22.3 -27.2h0M19.5 -26.9h0M26.5 -10.9h0M-14.2 -12h0M13.1 18.6h0M-4.4 -7.8h0M11.7 -29.4h0M-5.2 14.1h0M8.8 14.1h0M16.4 6.8h0M20.2 -3h0M6.8 12.5h0M-13.2 -9.3h0M-10.7 9.8h0M-13.3 -29.7h0M.4 3h0M-31.9 12.4h0M-8 -31.2h0M9.3 -20.6h0M22.4 10h0M5.9 -13.9h0M31.2 6.9h0M36.2 1.2h0M-2.7 23.6h0M15.8 32.4h0M-30.6 1.7h0M8.2 2.1h0M-9.4 -4.3h0M27.9 6.5h0M12.4 3.6h0M25.7 9h0M-7.7 -4.5h0M-2.7 -4.3h0M10.1 28.3h0" stroke="#193a9c" stroke-width="3.6"/><path d="M29.6 19.2h0M24.5 -29.3h0M3.2 42h0M2.1 32.1h0M-24.5 -6.2h0M25.9 13.3h0M35.1 -18.3h0M10.9 31.7h0M-36 -10.5h0M-15.6 36.1h0M-10.1 -36.3h0M-29.2 -22.8h0M10.4 26.5h0M35.5 -1.1h0M36.1 -19.4h0M26.8 27.5h0M-36.3 -17.6h0M-25.4 13.9h0M7.4 37.6h0M-4 -28.4h0M-1.2 36.3h0M-9 30.3h0M14.4 -37.1h0M-36.5 3.5h0M-37.4 -13.2h0M24.7 16.5h0M11.4 24.1h0M28.7 21.9h0M3.3 37.3h0M-33.4 2.5h0M10.2 28.9h0M2.3 29.5h0M-4.1 36.7h0M5.1 -34.5h0M28.3 -21.1h0M-27.8 -18.1h0M19.2 27h0M-7.9 -35.9h0M6.7 -36.1h0M-31.8 -17.3h0M-9.3 -31.1h0M18.1 -18.9h0M-8.1 -37h0M-17.3 21.8h0M12.6 -26.2h0M5.6 34.6h0M15.5 -29.8h0M-21.7 -29.8h0M-17.2 31.1h0M-29.4 29.6h0M-23.3 26.1h0M12.6 -27.6h0M21.7 -25.6h0M19.6 -37.2h0M-28.1 18.9h0M27.7 10.6h0M38.6 .8h0M-36.7 -3.4h0M29.7 16.4h0M-9.3 30.9h0M14.4 -36.3h0M-15.4 -25.8h0M28.1 -15.7h0M-11.8 37.6h0M-20.1 28.5h0M-19.7 -34.1h0M33.5 4.8h0M-40.7 -9.2h0M-19.7 -28.5h0M-9.3 -30h0" stroke="#13256a" stroke-width="3.4"/><path d="M-12.6 7.3h0M-6.7 6.6h0M10.9 -11.4h0M-34.6 .5h0M-28.7 -19.6h0M-28.9 11.6h0M-14.4 22.6h0M19.4 20.9h0M-31.9 3.6h0M11.1 20.6h0M15.3 10.6h0M31.7 -25.5h0M-11.5 -21.5h0M11.3 39.2h0M-23.8 -30.9h0M11.7 38.5h0M11.7 -6h0M-30.7 -.2h0M-29.4 10.3h0M-21.4 -10.8h0M-2.3 -18.5h0M2.3 -14.6h0M14.3 -32.6h0M-14.9 30.6h0M16.7 -33.6h0M15.7 1.4h0M9.5 -23.2h0M1.4 32h0M32.9 -22.5h0M-3.4 2.1h0M3 -1.1h0M-18.1 11.1h0M2.2 26.3h0M9.4 -11.6h0M-32.3 20h0M-4.8 -20.1h0M24.5 2.7h0M-30.1 -26.9h0M-10 34.5h0M-15.8 -10.2h0M-38.9 8.7h0M37.8 -14.2h0M-28.4 -11.8h0M-28.9 20.9h0M-35.4 5.4h0M-31.4 -2.9h0M-13.2 -21h0M-18.7 31h0M2.9 40.4h0M-20.1 16.2h0M4.8 -8.4h0M25.6 16.3h0M40.1 8.1h0M18.8 -22h0M15.3 1.2h0M-17.1 29h0M34.5 16.5h0M35 3.3h0M32 -12.9h0M20.8 21.5h0M39.3 4.7h0M21.2 -24h0M26.9 30.3h0M12.7 38.9h0M37.7 -4h0M17.6 -33.6h0M-3.2 -28.1h0M-27.7 -23.9h0M6.3 13.2h0M8.3 -29.4h0" stroke="#0b163a" stroke-width="3.0"/><path d="M22.4 2.2h0M-2.4 13.8h0M-11.3 -20.6h0M1.1 1.9h0M-17.7 -9.9h0M10.5 -33.3h0M1.1 -27.5h0M8.7 19h0M-2.7 -19.2h0M-9.8 6.1h0M-9.2 14.9h0M22.6 -21.2h0M-25 8.5h0M20.1 -8h0M-17.2 -6.6h0M17.1 9.4h0M-21 -23.6h0M-7.9 10.7h0M-7.7 23.7h0M20.1 -8.8h0M12.8 -30h0M-34.7 -3.1h0M-10.3 -5.3h0M-3.4 25.4h0M4.8 27.3h0M4.1 -.2h0M34.9 -1h0M20.2 21.1h0M1.5 3.5h0M6.9 2.3h0M18 -14.4h0M-1.7 -32.8h0M4.4 29h0M-3.7 15.2h0M3.2 -13.6h0M18.3 4.8h0M13.7 -15.5h0M-8.1 29.2h0M28.3 -19h0M-.2 -15.1h0M-6.1 -16.4h0M13.1 7h0M-7.8 6h0M-16.3 -10.3h0M5 13.9h0M-10 -19.7h0M-19.3 -28.1h0M29.5 -11h0M7.9 -3.7h0M8.9 -34.3h0M26.6 5.1h0M-.2 -30.9h0M24.7 5.8h0M-17.4 18.8h0M14.5 21.1h0M-10.4 -9.2h0M-17.7 -20.4h0M-29.6 -10.4h0M9.7 -11h0M21.4 -4.5h0M13.3 -8.6h0M22.9 -7.5h0M-29.3 10.2h0M7.7 -14.2h0M17.7 4.1h0M-14.5 4.2h0M13.2 7.2h0M16.8 -19h0M33.9 -5h0M-1.8 11.9h0M30 15h0M9.4 -26.1h0M-30.8 12.5h0M-4.5 -23.9h0M-25.3 17.1h0M-29 -6.6h0M-8.4 20h0M-14 24.4h0M-27.1 16.9h0M-25.5 -19h0M22.7 -17.6h0M7.9 -12.9h0M-24.1 -12.3h0M-20.2 -17.9h0M-16.1 24.1h0M-20.1 14.4h0M-25.3 -11.9h0M-.6 -20.2h0M-29.4 12.7h0M-2.9 14.5h0M24.8 -11.2h0M23.1 16.3h0M5.7 32.3h0M17.6 17.3h0M-30.4 -6.2h0M33.6 -10.4h0M-15.9 -10.6h0M3.5 -25.6h0M-22.2 -22.7h0M-4.9 -33.1h0M4.9 5.3h0M-28.1 -16.7h0M30 4.9h0M-3.7 7.7h0M-20.6 14.2h0M17.1 -22.4h0M-7.9 -1h0M15.6 -4.4h0M-11.9 18.8h0M-15.6 1.1h0M-4.2 .3h0M29.6 -5h0M0 4.1h0M-16.5 13.5h0M-32.1 -6.6h0M-5.7 -27.2h0M4.1 24.3h0M-2.4 -.9h0M-1.4 -13.2h0M27.9 0h0" stroke="#2050c8" stroke-width="3.2"/><path d="M10.1 38.1h0M21.7 18.8h0M-20.3 -7.7h0M-31 -8.5h0M17.5 -20.9h0M-20.5 6.5h0M-36.8 -9.1h0M35.9 -3.3h0M17.6 26.9h0M28.6 6.1h0M-2.7 4.9h0M18.3 -4.2h0M-17.5 -11.9h0M-33.9 13h0M5.3 -13.7h0M20.5 3.7h0M-33.3 2.5h0M-5.6 -14.9h0M11.4 -33.1h0M28 8.3h0M25.6 -22.2h0M-4.3 30.5h0M-30.9 5.4h0M-6.2 -33.8h0M21.7 -33.6h0M-11.8 -10.2h0M-21.7 -4.8h0M-11.2 5.4h0M-19.9 3.1h0M-32.3 22.9h0M-33.1 -.6h0M-14.5 -9.1h0M15.1 4.1h0M27.1 -19.9h0M-7.4 -19.5h0M7.8 8.3h0M-8.5 -16.7h0M-31.2 7.9h0M5.9 4.7h0M8.5 24.9h0M-19.9 28.5h0M-15.3 -35.8h0M-28.5 -3.9h0M36.7 -12.9h0M.4 10.8h0" stroke="#0b163a" stroke-width="2.6"/><path d="M-9.9 22.9h0M3.6 -5.4h0M-27.1 2.2h0M-24.6 -12.8h0M-17.5 5.3h0M-15 -6.5h0M1.8 29.4h0M25.9 -9.4h0M20.7 5.6h0M14.1 10.2h0M-15.8 -8.8h0M-22.8 -.3h0M-5.1 -15.7h0M-7.1 24.2h0M-19.7 -12h0M5.1 17.6h0M-15.1 -13.9h0M7.9 4.5h0M-4.2 11.8h0M10.2 .6h0M-18.7 -18h0M3.4 9.1h0M-5.7 -11.4h0M-22.7 12.5h0M21.7 3.2h0M-18.4 -13.2h0M-1.4 -20.3h0M-8.3 -17h0M-23.7 11.9h0M-6 -4h0M-7.5 23.4h0M-7.3 11.4h0M-1.3 -28.5h0M17.7 8.1h0M-3.9 6.3h0M6.9 -.7h0M-13.7 6.5h0M-8.9 -11h0M23.4 15.4h0M-4.7 -16.9h0M-29.8 -5.1h0M-.8 -22h0M2.2 1.4h0M-25.1 .6h0M-14.5 1.7h0M-19.6 -14.6h0M-22.9 -7.6h0M-4.6 13.2h0M6.9 15.3h0M27.9 .3h0M-11 -21.8h0M-11.8 -5.7h0M-14.8 -7.3h0M-17.3 19.8h0M8.1 19.8h0M-26.7 -2.5h0M-10.4 22.8h0M3.2 .7h0M23.7 2.7h0M9.4 2.4h0M7.9 -19.8h0M-9.2 -8.3h0M-23.9 -13.4h0M3 15.3h0M-1.9 17.7h0M2.3 -10.1h0M-14.2 -1.9h0M17.9 -6.9h0M-11.8 12.4h0M-9 -13.7h0M-14.2 23.2h0M-1.4 10.6h0M10.6 -28.6h0M5.4 2.6h0M14.5 23.3h0M-28 12h0M11.6 16.8h0M-17.8 -18.2h0M-14.4 6.4h0M-12.3 7.9h0" stroke="#3070ea" stroke-width="2.6"/></g>
<g transform="translate(421.0 143.1)"><path d="M33.7 0L33.7 3.3L34.3 6.8L31.8 9.6L31.1 12.9L29.6 15.8L28.4 19L26.9 22L24.3 24.3L22.1 26.9L19 28.4L16.2 30.4L13.5 32.5L10.3 34L7.3 36.8L3.6 36.8L0 36.2L-3.6 36.4L-6.8 34L-9.7 31.9L-13.2 31.8L-16.5 30.8L-19.3 28.9L-21.4 26.1L-23.3 23.3L-26.7 21.9L-28.3 18.9L-30.1 16.1L-32.1 13.3L-32.4 9.8L-34.6 6.9L-33.9 3.3L-34.9 0L-34.5 -3.4L-34 -6.8L-33.2 -10.1L-32.8 -13.6L-31.3 -16.7L-29.5 -19.7L-26.9 -22.1L-25.9 -25.9L-22.7 -27.7L-18.8 -28.2L-16.7 -31.3L-13.5 -32.5L-9.8 -32.4L-6.8 -34.1L-3.4 -34.4L0 -35.8L3.4 -34.9L6.6 -33.3L10.3 -33.9L13.4 -32.4L17.1 -32.1L19.5 -29.2L22.9 -27.9L24.9 -24.9L27.1 -22.3L29.1 -19.5L30 -16L31.7 -13.1L33.1 -10L34.1 -6.8L34.3 -3.4Z" fill="#0d1940"/><path d="M-32 -15.8L-37.8 -14.6L-37.5 -16.3M-5 35.9L-7.9 38.1L-6.3 38.8M-27.2 -24.5L-31.3 -26.2L-32.6 -25M-31.4 14.8L-37 15L-36.5 16.7M19.6 -31.1L18.2 -35.1L20 -34.7M-24.2 24.9L-24.4 30.5L-24.1 32.3M-5.2 35.8L-4 40.1L-5.8 40.2M-23.4 25.8L-28.7 27.5L-28.6 29.2M1.4 37.4L-2.6 41.4L-1 42.1M-3.4 -35.3L-.6 -38.2L-2.2 -39M10.8 -34.1L12 -39.6L13.8 -40M-27.4 -24.2L-30.8 -24.5L-30.4 -26.3M-1.8 36.9L.9 39.6L2.4 40.6M31.6 14.8L35.7 13.2L35 14.9M32.3 12.6L37.5 10.9L38.7 9.6M18.2 -31.8L21.1 -34.9L22.9 -34.6M-17.9 29.8L-22.3 32.7L-23.9 32" stroke="#10205a" stroke-width="1.3" stroke-linejoin="round"/><path d="M-10.8 34.5h0M-12.5 33.4h0M11.9 -34.8h0M16 34.5h0M35.8 -11h0M12.1 37.3h0M31.8 -17.9h0M31.2 19.7h0M-36.5 -10.3h0M-12.6 -34.1h0M23.2 28.1h0M-25.6 27.4h0M36.1 -3h0M-38.5 2.3h0M13.3 35.5h0M-26.1 25.8h0M-16.5 -33.7h0M33.6 -16.4h0M-17.3 30.9h0M-36.2 4.7h0M7.9 37.6h0M-20.2 30.9h0M34.5 -12.5h0M8.7 38h0M21.2 32.3h0M-31.6 -23.8h0M26.4 -26.5h0M-16.3 -34.1h0M-24.1 29.1h0M14.9 35.1h0M3.1 -38.5h0M33.4 15.1h0M25.3 29.4h0M16.5 -33.5h0M9.1 -36.2h0M36.2 -5.5h0M29.3 -22.5h0M-35.1 11.7h0M32 -17.9h0M10 -37.2h0" stroke="#132870" stroke-width="2.6"/><path d="M21.1 -5.2h0M8.2 -21.3h0M-8.7 29.6h0M28.3 .1h0M13.3 -14.3h0M-12.5 -28.6h0M21.3 27.1h0M-20.3 9.6h0M29.9 -4h0M3 34h0M10.4 -10.5h0M.6 -31.4h0M-4.9 33.3h0M20.2 -17h0M25.5 -10.9h0M-15.9 5.5h0M-21.5 23.9h0M-27.4 -16.8h0M-15.8 21.4h0M-8.7 6.6h0M3.6 4.5h0M-9.1 -13.6h0M-7.6 16.7h0M26.2 22.5h0M-4.6 -34.8h0M7.1 .2h0M-16.5 -21h0M-17.8 -22.6h0M11.4 13.6h0M7.4 32.1h0M1.8 -6.5h0M-21.9 26.2h0M-6.5 16.4h0M7 33.4h0M15.8 24.2h0M3.4 3.5h0M-28.5 8.9h0M-25 8.7h0M20.4 26.4h0M.1 21.4h0M25 6.3h0M-10.1 -4.1h0M13.2 12.9h0M-7.7 -4.7h0M-16 18.9h0M14.9 18.6h0M16.9 25.3h0M8.1 29.8h0M7.1 -26.1h0M-22.1 14.8h0M18.5 7.7h0M4.1 -.7h0M-3 14h0M19.1 .2h0M23.3 9.1h0M-21.3 14.3h0M-18 15.7h0M11.3 7.5h0M28.2 .5h0M-19.4 -19.9h0M4.8 -11.2h0M-15 -21.9h0M-24.2 10.7h0M18.1 19.8h0M-10.1 -25.4h0M5.3 3.8h0M26.3 3.7h0M16.3 -14.7h0M-20.9 16.8h0M19.5 -26.9h0M15.1 23.7h0M-31.9 -15.9h0M-16.7 -8.3h0M2.1 -32.8h0M23.4 -1h0M-2.3 -10.2h0M24.1 -6.5h0M-13.2 21.7h0M21.8 27.4h0M14.9 19.1h0M-8.3 -8.7h0M-19.7 -16.1h0M10.9 1h0M-.2 -18.9h0M8.1 14.5h0M1.7 -13h0M8.5 26h0M29.6 2.5h0M20.9 -28h0M22.5 4.7h0" stroke="#091130" stroke-width="4.2"/><path d="M-18.9 -.4h0M12.2 -12.5h0M26.4 -15.6h0M-4.1 8.6h0M12.3 33.8h0M11.7 22.1h0M-7.1 -35.1h0M-5.3 2.8h0M-2.4 -34.1h0M19.9 -3.3h0M.9 -32.9h0M-24 -5.1h0M6.9 -33.7h0M11.1 25.4h0M-7 -2.3h0M-2 -1.8h0M-22.8 23.7h0M25.6 -7.1h0M-31.7 -16.9h0M-24.5 -4h0M-22.8 2.2h0M32.8 13.1h0M-17.9 -11.5h0M-25.8 -24.4h0M-26.4 -11.5h0M8.1 13.4h0M.8 -25h0M12.6 -10.2h0M25.1 8.9h0M-2.7 28.7h0M-16.6 -20h0M18.9 -21.4h0M20 -11.6h0M-20.7 -1.5h0M22.9 -27.4h0M10.1 9h0M-2.6 11.7h0M-27.8 -19.7h0M6.9 -25.8h0M-21.8 24.9h0M-24.6 10.5h0M8 -23.7h0M-11.1 30.6h0M15.2 13.9h0M25.8 -14h0M1.8 -14.1h0M5.3 -34.9h0M-30.7 9.3h0M-.4 -20.8h0M8.7 -29.6h0M-19.3 -1.2h0M-15 4.5h0M10.9 -26.2h0M8.4 12.3h0M13 -10.8h0M33.8 1.2h0M.3 0h0M9.7 -16.3h0M-33.2 -8.2h0M-21.7 5.4h0M-21.4 9.1h0M.9 14.7h0M-7.3 30.1h0M18.1 5.8h0M-13.9 -23.5h0M27.1 9h0M.4 -5.9h0M29.1 -5.3h0M25.2 10.2h0M-5.3 .2h0M16.9 -2.6h0M8.3 29.7h0M-.8 11.9h0M16.6 26.3h0M-9.5 -16.4h0M-13.3 -30.4h0M12.6 20.7h0M11.9 20.1h0M2.2 -28.6h0M29.6 12h0M5.7 -27h0M-23.1 -25.7h0M-2 13.8h0M.3 -6.6h0M16.6 -19h0M18.7 -9.1h0M-18 -8.8h0M25.3 -2.2h0M-9.9 34.5h0M21.6 -.1h0M-23.4 -6.9h0M-33 -12.7h0M-18.3 16.2h0M16.6 30.2h0M-13.4 18h0M31.3 -12h0M23.2 -6.2h0M-9.9 16.6h0M8.2 -13.5h0M6.4 -27.1h0M12.8 -31.4h0M-30.2 -18.6h0M17.6 -10.1h0M23.3 13.2h0M7.6 31.1h0M22.6 -13h0M-20.1 3.3h0M-17 -17.6h0M26.4 -13.2h0M26.6 20.2h0M-18.6 21.3h0M-14.3 10.6h0M6.6 -22.5h0M-19.8 24.6h0M10.6 23.6h0M-8.8 1.4h0M-20.9 28.6h0M21.1 -5h0M11 8h0M-.7 -26.5h0M-30.2 -17.6h0M-2.7 -22.6h0M-22.8 -22.8h0M10.5 -23.1h0M18.7 2h0M14 4.3h0M12 -24.2h0M-13.8 7.7h0M1 -19h0M-31.2 -18.5h0M3.1 3.2h0M-27 -1.1h0M-6.5 -9.6h0M1.3 11.7h0M19.8 15.9h0M.4 -32.5h0M10.9 -.7h0M23.1 18.4h0M-31.8 -10.4h0M6.1 22.8h0M15.5 -10.9h0M-5 8.4h0M-10.9 24.4h0M-21.6 3.1h0M-17.4 19.8h0M17 -3h0M-2.8 -36h0M-12.2 9.5h0M-23.1 25h0M23.5 -4.1h0M-24.4 6.2h0M15.6 31.7h0M-6.3 -25.5h0M-23.4 12.1h0M-17.6 13.8h0M-13.8 12.7h0M14 -18.2h0M19.1 26.3h0M-16.4 -13h0M19.8 19h0M-.7 14.8h0M-7.9 -33.7h0M-14.3 -4.7h0M-8.2 -14.5h0M11.9 9.6h0M-32.4 -8.2h0M-28.8 6.2h0M-20.7 11.1h0M-33.5 -1h0M20.3 9.3h0M5.9 1.4h0M27.2 23.1h0M-17.9 2.7h0M-7.3 -13.6h0M-21.5 4.6h0M-33.1 5.3h0M-31.9 .6h0M27.7 15.6h0M11.2 7.5h0M8.9 9h0" stroke="#10205a" stroke-width="4.0"/><path d="M8.7 -30.6h0M14.2 30.3h0M-14.2 6.6h0M16.7 -19h0M22.4 7.2h0M-16.6 -19.7h0M-15.2 -3h0M14 -17.3h0M-8.6 22.6h0M10.3 -20.9h0M-2.9 -19h0M-5.3 -2.2h0M.8 -15.9h0M9.2 -16.2h0M1 -4.2h0M-28.3 3.1h0M7 -29.4h0M-8.1 -2.9h0M30.8 -4.5h0M21.3 20h0M-6.9 4.1h0M-26.6 4.3h0M5.9 -32.3h0M22.3 7.3h0M-.4 -25.7h0M-10.9 -7.6h0M-7 -1.7h0M-18.3 5.8h0M-2.6 -21.4h0M28.1 .6h0M-23.2 5.1h0M2.7 -17.2h0M-5.7 -15.3h0M-10.6 -20.4h0M-22 -21.4h0M-21 -19.1h0M8.3 -30.3h0M-20.2 13.4h0M-19.7 -2.6h0M-27.8 -15.1h0M9.8 24h0M28.3 10h0M-21 -20.7h0M5.1 -7.5h0M-18.1 18.8h0M-27.8 -15.2h0M4.6 -28.6h0M9.2 -31.5h0M-7 16.5h0M-15.2 18.5h0M-15.3 11.6h0M-1.2 -13.5h0M24.6 -12.4h0M-17.2 -.3h0M-14.6 16.5h0M-26.4 -9.4h0M-6.7 -21.6h0M-4.5 -29.5h0M.2 -15.3h0M16.3 23.2h0M-3 -.5h0M17.9 -16.8h0M-9 1.5h0M21.5 18h0M-15.3 28.2h0M-5.5 -22.3h0M17.8 -25.2h0M14.7 -19.3h0M-8.3 -24.9h0M-3.9 -14.2h0M-1.5 10h0M-5.3 3h0M-22.9 17.5h0M13.9 17.2h0M-27.6 -4.2h0M11.4 -26h0M14.8 -25.8h0M-3 -8.7h0M-20.1 -11.9h0M18.7 24.4h0M22.1 -14.3h0M4.6 2.1h0M11.2 -30h0M-19.9 12.4h0M4.8 4.2h0M10.5 -6.3h0M-15.4 -26.6h0M-1.9 -2.3h0M-4 3.9h0M22.7 -17.3h0M12.1 2.3h0M-24.7 14.5h0M12.8 -21.4h0M8.9 17.2h0M8.1 -5.4h0M-6.3 -21.1h0M22.4 -6.6h0M11.4 31.2h0M-5.9 -.6h0M15.8 11h0M15.1 .3h0M10.9 25.9h0M18.7 -20.7h0M19.1 -27.2h0M11 -21.5h0M-29.1 4.4h0M10 11.8h0M-4.9 -29.8h0M10.4 -5h0M18.1 24.9h0M7.2 3.4h0M-.4 -2.1h0M16.2 2.8h0M9.1 -11.5h0M-.7 -.6h0M-17.3 17.4h0M24.5 6.8h0M-12.6 -24.4h0M-3.4 -17.7h0M7.7 -31.8h0" stroke="#132870" stroke-width="3.6"/><path d="M15 -11.6h0M-6.5 -6.4h0M-.7 24.8h0M6 3.7h0M18 -28h0M-4.7 -.6h0M-21.4 -.5h0M-7.8 -22.2h0M-12.2 -28.5h0M-30.3 -16h0M25.2 -22.9h0M13.8 -31h0M-12.2 -22.1h0M-1 30.4h0M8.4 -24.6h0M6.6 -29.4h0M-21.5 22.4h0M1.8 -15.1h0M13 9.3h0M-12.2 8.2h0M2 -14h0M10.6 -4.5h0M-21 -12h0M-30.2 13.1h0M.6 9.7h0M-10 -32.7h0M25.7 17.1h0M5.4 38h0M-28.3 -20.5h0M-1.3 -30.2h0M23.5 -8.4h0M16.7 -18.1h0M17.5 7.1h0M-32.2 13.3h0M11.2 24.1h0M3.5 10.9h0M-19.8 11.6h0M-19.3 23h0M-4.8 8.2h0M28.1 -21h0M-14.5 -17.5h0M14.6 -7.7h0M11.8 4.9h0M-19.7 23.9h0M9.2 -12.5h0M22 -20.1h0M-.5 9h0M2.6 10.1h0M29.1 -3.8h0M-24.2 25.3h0M28.3 7h0M-5.1 -6.5h0M1.1 -14.5h0M-29.7 -20.2h0M9 17.4h0M31.9 -4.9h0M-12.6 19.4h0M11.2 17.3h0M-25.9 -.2h0M-16.3 16.2h0M.4 20.2h0M.3 -4.7h0M-22 -2.9h0M17.1 -26.8h0M4.7 -6.6h0M-.8 -22.8h0M22.8 9.4h0M-15.6 21.8h0M-28.4 17.5h0M-3.7 27.2h0" stroke="#091130" stroke-width="3.0"/><path d="M12.6 -27h0M13 -13h0M-1.5 20.8h0M7.9 22.7h0M-9.3 -7.1h0M22.1 -14.7h0M-5.7 11.3h0M-24.9 -9.4h0M-14.1 19.4h0M15.2 -25.2h0M-8.6 11.1h0M-2.8 -5.3h0M.9 -25.3h0M20.5 .1h0M10.4 24.3h0M11 1.9h0M21.7 -5.4h0M11.4 -17.1h0M-1.6 .6h0M-2.2 24.3h0M-6.8 -9.7h0M-5.4 -1.2h0M-10.5 -2h0M-1.4 -22.3h0M-11.7 21.1h0M9.8 28.6h0M10.6 -13.4h0M22.8 -4h0M2.8 16.2h0M-20.9 4.1h0M-27.5 .3h0M25.3 4.7h0M-.2 11.2h0M-5.4 9.7h0M-.4 1.9h0M7.3 -1.9h0M-26.9 10.5h0M8 -13.2h0M11.4 4.9h0M-3.6 23.6h0M-13.2 2.7h0M10.6 28.1h0M-9.1 -27h0M-26.6 -8.1h0M-.7 -.2h0M1.8 30.7h0M.3 -5.4h0M-5 -21.2h0M22.5 13.5h0M23.1 -12.1h0M-2.7 -3.5h0M26.3 9h0M-.7 .6h0M17.6 -11h0M-9.4 2.5h0M12.2 13.1h0M26.8 12.1h0M-29.1 -8h0M-11.1 -10.5h0M-9.2 -28.4h0" stroke="#17348a" stroke-width="3.0"/><path d="M20.4 1.9h0M15.7 -.4h0M-15.8 16h0M12.8 5.4h0M-10.6 18.9h0M19.7 -14.2h0M13.2 -4.9h0M16.3 -7.6h0M-25.5 8.1h0M20.3 -11.7h0M-8.2 -13.2h0M9.3 -7.1h0M12.8 5.4h0M-9.5 -16h0M10.6 -8.8h0M21.2 -2.8h0M12.6 -11.7h0M-20.4 -9.7h0M-4.5 24.3h0M-3.8 -20.4h0M.2 .1h0M-5.6 -8.4h0M25.6 -1h0M14.5 -10.3h0M-18.2 -6.3h0" stroke="#1c40a0" stroke-width="2.4"/></g>
<g transform="translate(185.1 253.0)"><path d="M37.1 0L37.2 3.7L36 7.2L36.9 11.2L36.2 15L33.8 18.1L32.3 21.6L29 23.8L26.7 26.7L23.8 28.9L21.1 31.5L17.7 33.2L14.7 35.5L10.8 35.5L7.2 36.1L3.5 35.5L0 34.9L-3.4 34.7L-7 35.4L-10.6 35L-14.4 34.9L-18.3 34.3L-20.7 31.1L-23.4 28.5L-26.3 26.3L-28.7 23.6L-31.3 20.9L-32.7 17.5L-35.2 14.6L-34.4 10.4L-36.1 7.2L-37.4 3.7L-35.4 0L-36.3 -3.6L-37.2 -7.4L-35.3 -10.7L-34.5 -14.3L-33.8 -18.1L-30.7 -20.5L-29.8 -24.4L-26.4 -26.4L-23.9 -29.2L-20.1 -30.1L-17.3 -32.4L-14.9 -35.9L-11.2 -36.8L-7.7 -38.8L-3.8 -38.9L0 -37.5L3.7 -37.7L7.3 -36.8L10.8 -35.6L13.7 -33.2L17.5 -32.8L20.3 -30.3L22.1 -26.9L24.2 -24.2L27.6 -22.7L30.4 -20.3L32 -17.1L34.5 -14.3L36.7 -11.1L38.2 -7.6L37.4 -3.7Z" fill="#11205a"/><path d="M22.2 31.4L23.3 34.3L24.9 33.4M-37.3 -3L-42.5 -5.3L-43.7 -4M38.5 -4.4L41 -6L41.2 -7.8M-21.4 -31.4L-25.5 -32.8L-26.9 -31.7M35.5 16.6L40.7 15.1L42 14M-15.8 -35.5L-18.1 -38.6L-16.6 -39.6M-14.7 -36.2L-12.4 -40.2L-14 -41M27.5 27.3L29.1 33.6L30.7 32.9M24.8 -26L24.7 -31.5L26.5 -31.5M24.1 -26.7L25.8 -30.5L24.6 -31.7M11.4 36.3L13 41.3L11.4 42.1M9.6 36.6L10.4 41.7L8.7 42.1M-3.6 36.2L-1.9 39.4L-.2 40M28 26.8L32.8 28.3L34 27M10.7 -36.1L14.5 -39.4L16.3 -39.1M22.4 31.2L28.8 32.7L30.5 32.1M35.7 -14L39.2 -12.4L39.4 -14.2M38.5 -1.5L43.6 1.3L44.5 2.8M-27.6 -26.2L-31.9 -29L-31.7 -30.8M-16.1 -35.4L-19.3 -39.5L-21.1 -39.1M17.1 34.4L17.7 40.5L16.3 41.5M-35.6 -15.8L-40.1 -17.6L-40.7 -19.3M-12.2 -37.3L-16.2 -40.5L-14.5 -41.2M-37.3 -.1L-42.6 -2.5L-43.7 -3.9M-7.7 36L-8.9 38.6L-10.7 38.2M-36.2 -13.9L-41 -16.5L-41.8 -14.9M-10 -38L-15 -41.2L-14 -42.7M37.8 6.7L41.9 6.3L42.4 8M-30.4 -23.6L-32.5 -27L-34.2 -26.5M24.9 29.4L30.8 29.9L32.6 29.5" stroke="#13266a" stroke-width="1.3" stroke-linejoin="round"/><path d="M39.6 -14.4h0M-36.6 20.8h0M22.4 -30.2h0M-2.3 37.9h0M-26 -31.8h0M40.4 10.4h0M22.3 -30.5h0M26.7 -29.3h0M-22.8 -36h0M-38.6 11.3h0M-5.1 37.5h0M-31.6 -25.5h0M-37.3 13.7h0M-23.5 33.2h0M17.3 37h0M-20.6 36.5h0M-4 -42.1h0M-23.9 33.6h0M-10.2 -40.8h0M-41.4 -10h0M36.8 17.7h0M-.7 39.2h0M10.5 40.7h0M-37.7 -17.4h0M36 17.7h0M19.6 38.1h0M-28.3 31.8h0M-40.3 4.6h0M-10.1 -42.7h0M-36.8 18.8h0M-31.8 -25.2h0M40.6 7.1h0M4.2 39.8h0M-36.9 -15.3h0M23.5 -29.5h0M40 5.4h0M-15.8 38h0M39.9 -4.5h0M-14 39.8h0M10.6 -38.1h0M-15.5 38.7h0M-1.2 38.2h0M1.3 40.3h0M-20.7 -35.1h0M20.9 34.7h0M-4.2 -39.6h0M-34.6 -22.9h0M12.9 39h0M-26.3 -33.2h0M19.6 -35.3h0M-24.5 -32h0M-38.3 15h0M-4 38.8h0M-30.5 28.2h0M-36.2 21.5h0M40.6 14.2h0" stroke="#162f82" stroke-width="2.6"/><path d="M-1.9 6.6h0M-9.6 -3.4h0M9.5 -37h0M-21.8 -7.9h0M-17.1 -12.8h0M-7.1 18.9h0M11 26.1h0M11.1 -22.1h0M8.5 29.9h0M12.4 -25.3h0M31.3 24.4h0M-28.5 8.8h0M-.5 17.3h0M-18.6 34.4h0M-32.2 -3.4h0M0 19.2h0M11.5 28.6h0M29.1 16.1h0M2.6 26.1h0M-7.5 7.9h0M-20.9 1.9h0M-6.4 22.4h0M3.5 -6.3h0M-22.2 -8.9h0M6.1 35.7h0M32.9 -10.7h0M-17.5 -2.9h0M-17.4 19.2h0M-12.4 11h0M-6.8 -36.3h0M2.2 11.5h0M-21.6 .8h0M-17 6h0M7.7 -12.5h0M29.8 25.2h0M7 22.4h0M-7.3 16.5h0M23.7 -22h0M20.5 -8.9h0M-24 2.3h0M16 -14.8h0M-25.2 -6.6h0M-17.3 -6.3h0M-1.5 -23.4h0M31.2 18.7h0M-33.2 .5h0M-16.5 -16.5h0M-20.4 -12.4h0M-14.1 -13.9h0M-8.4 6.2h0M-5.3 -37.5h0M-1.7 15.8h0M16.5 -21.6h0M-34.2 17.7h0M-27.3 9.8h0M24.8 -12h0M23.8 -12.8h0M33.3 17.3h0M-16.9 -21.1h0M-6.1 -27.9h0M-10.5 31.7h0M38.7 .6h0M23.8 -21.4h0M-23 -26.2h0M-3.5 -31.7h0M-19.8 17.8h0M-5.8 10.1h0M20.4 12.6h0M-4.9 -26.5h0M3.6 -.5h0M19.4 19.3h0M-17.8 -30.3h0M32.4 17.8h0M35.8 .5h0M-4.8 -1.9h0M9.3 -36.4h0M-6.9 28.2h0M21.9 -14.8h0M-7.7 15.9h0M-5.7 21h0M-5.9 -6.6h0" stroke="#0a1434" stroke-width="4.2"/><path d="M-17 15.8h0M.5 21.5h0M-3.9 -39.2h0M-3.6 -1.6h0M14.1 29.9h0M37.2 -4.6h0M8 7.3h0M1.5 24.4h0M14.6 31.5h0M25.6 17.3h0M12.2 .5h0M5.6 -6.6h0M13.5 -13.4h0M19.3 -14.3h0M5.9 31.7h0M33.6 -8.8h0M28.4 6.4h0M-1.8 -18.8h0M13.7 9h0M-19.2 14.6h0M-20.5 -1.2h0M-16.3 -12.3h0M-14.7 -32.6h0M-14 -27h0M-3.2 16.3h0M19.9 -25.9h0M-25.9 8h0M24 -16.8h0M-6.7 -4.9h0M31 -18h0M17.6 -3.7h0M21.4 -11.4h0M-12.3 2.1h0M1.8 33h0M15.5 -13.9h0M28.5 10h0M-3.9 -21.2h0M-9.2 3.8h0M-20.9 -13.4h0M-4.6 29.7h0M9.2 -11.9h0M-15.8 -14.4h0M-6.6 20.5h0M-6.5 22.9h0M5 8.9h0M-29.8 -20.9h0M12.1 -7.6h0M-28.8 -19.6h0M34.9 -10.5h0M1.9 -35.6h0M6.8 -33.9h0M12.4 .1h0M-1.1 8.6h0M33.2 7h0M-10 18.8h0M8 -15.6h0M-15.6 -14.9h0M-23.5 -27.3h0M-25.3 -2.7h0M32.6 9.2h0M2.7 22.8h0M2.4 29.4h0M3 8h0M8.5 -1.4h0M26.4 26h0M11.1 -4.4h0M2.5 -14.1h0M3.9 30.5h0M36.3 10.3h0M14.1 -33.5h0M-25.9 10.1h0M6.7 -32.9h0M-14.2 5.3h0M-17.6 3h0M-17.8 19.2h0M32 -7h0M-27.4 -4h0M20.1 19.5h0M-3 -13.9h0M9.9 -29.8h0M24.4 25.3h0M-19.9 -11.9h0M20.3 -8.9h0M-4.9 12h0M13.1 15.7h0M18.5 7.1h0M-16.6 -1.4h0M17 28.5h0M31.7 .4h0M10.1 -22.8h0M3.7 25h0M-13.4 33.2h0M1.5 -20.6h0M17 -33.8h0M18.6 27.3h0M35.9 -3.4h0M-7.8 25.5h0M-9.9 -22.2h0M3.8 -25.6h0M-.8 15.8h0M-15.1 35.3h0M5.1 -9.2h0M20.4 25h0M-27 2.8h0M-6.2 -8.8h0M-31.9 -12.7h0M-16.3 1.7h0M5.6 -25.9h0M7.9 13h0M16.5 -21.2h0M30.6 .5h0M18.8 -30.1h0M28.9 -4.1h0M-8.3 -32.9h0M3.6 -2.3h0M-27.1 18.6h0M-1.5 29.9h0M11.2 -9.4h0M-17.2 8h0M33.7 14.8h0M1.5 13.7h0M21.1 18.1h0M21.3 -22.5h0M3.1 -35.6h0M-8.5 -38h0M7.7 -29.8h0M38 1.8h0M35.5 3h0M-5 13.1h0M12.5 27.9h0M29 19.4h0M-34.7 4.4h0M-14.3 -28.5h0M3.1 -23.4h0M28.4 -9.5h0M-26.4 -13.9h0M18.6 -28.4h0M-15.7 21.2h0M-27.6 24.3h0M37.8 -.3h0M20.8 -22.1h0M4.8 -23h0M25.4 -7.8h0M14.3 19.8h0M-32.8 11.2h0M36.4 .3h0M-20.4 33.5h0M3.8 6.8h0M4.9 -19.9h0M16.8 -11.5h0M14.6 34.5h0M.4 32.9h0M4.6 30h0M3.8 -24.9h0M-7 -34.6h0M-.3 -15.3h0M8.3 6.3h0M2.4 30.5h0M2.3 7.4h0M-11.8 11.5h0M-16.1 .2h0M23.4 15.3h0" stroke="#13266a" stroke-width="4.0"/><path d="M-26.7 10.3h0M-4.6 12.7h0M-28.3 -11.7h0M17.2 -5.1h0M-24.3 -1.9h0M22.1 18.6h0M18 7.5h0M12.5 2.1h0M9.8 -31.1h0M-11.8 26.3h0M-3.1 25.5h0M-10.2 -27.2h0M12.2 29h0M23.8 -9h0M-27.6 18.7h0M-19.1 23.6h0M-27.2 -16.4h0M-3.1 2.2h0M-24.7 17.5h0M2.1 -25h0M5.6 26.3h0M7.3 -24.4h0M-19.2 -.1h0M-12.9 3.5h0M-10.7 -4.4h0M28.9 -13.4h0M20.7 6.1h0M25.3 18.9h0M-6.3 24.8h0M-.2 -12.2h0M1.5 -.4h0M-28.9 -4.8h0M-14.9 -29.9h0M.4 22.8h0M-16.4 -25.6h0M-22.3 -18.4h0M17 12.5h0M12 -10.9h0M22.3 -1.1h0M16.3 -7.5h0M-27.4 17.1h0M-7.1 2.6h0M-17.1 -10.5h0M-11.7 16.8h0M15.1 -28h0M14.1 -18.7h0M6.4 -28h0M-17.6 -7.1h0M-12.2 24.4h0M17.9 -22.1h0M14 -4.9h0M8.3 23.9h0M28.2 -1.5h0M12.4 10.4h0M-1.4 27.4h0M-16.9 24.1h0M-6.9 -10.5h0M-26.4 -19.8h0M18.4 17.2h0M-11.9 -30.1h0M14 2.2h0M-15.7 4.1h0M8.1 -.8h0M14.9 14.4h0M1.7 -3.4h0M-11.5 -29.9h0M-12.6 -12.6h0M20.6 -15.6h0M11 -25.9h0M18.2 -12h0M-2.1 19h0M11.5 22.5h0M-6.6 13.7h0M26.4 -2.1h0M-31.5 -6.1h0M6.6 -19.8h0M-16 -14.6h0M19.3 -6.2h0M-8.7 24.5h0M-18.9 27.8h0M21 13.8h0M-6 8.6h0M-2 21.7h0M13.9 30.1h0M29.4 6.4h0M32.9 -4.5h0M18.4 -13.5h0M8.1 -7.7h0M-2.2 -25.2h0M-17.2 27.5h0M-5.4 -20.7h0M14.7 -5.3h0M32.3 -7.2h0M-27.5 -16.3h0M-17 -2.6h0M8.5 .7h0M7.4 22.9h0M-17.2 -6h0M-9.8 -11.3h0M-28.2 -12.3h0M24.9 22.1h0M31.5 -1.4h0M4.1 -25.9h0M15.8 -4.8h0M-13.6 9.8h0M21.9 -21.8h0M2.6 15.1h0M9.5 -15h0M-4.9 -8.1h0M-5.7 23.5h0M17.3 10.8h0M-31.9 7.5h0M-2.6 24.9h0M10.7 11.7h0M-19.2 -16.8h0M-29.1 -8.4h0M29.7 7h0M-13.1 26.9h0M-17.1 4.1h0M-5.5 19.3h0M-6.3 5.1h0M17.3 -16.2h0M-18 28.8h0M22.1 3.6h0M22.8 -3.6h0M-13.6 -27.2h0M-5.4 -4.8h0M7 23.1h0M-13.4 -12.5h0M-9.8 -4.9h0M-19.3 6.3h0M-6.9 -16.7h0M24.6 9.3h0M3.8 32.5h0M-1.3 -26.3h0" stroke="#162f82" stroke-width="3.6"/><path d="M7.2 34.1h0M-27.2 -26.8h0M-14.2 25.6h0M27.1 -13.5h0M-33.1 13.5h0M-1.7 -31.4h0M34.8 -15.8h0M-12.1 35.2h0M10.4 -35.2h0M-18.5 32.5h0M38.6 -6h0M-26.7 9.5h0M-29.8 -1.6h0M29.5 24.2h0M-28.5 2.7h0M32.7 19.1h0M-10.5 35.4h0M-12.5 33.9h0M33.8 -17.5h0M-31.6 -.2h0M20.4 25.5h0M35.7 -4.3h0M-37.8 6h0M28.9 -18.6h0M-8.2 24.5h0M25.2 13.5h0M17.2 23.9h0M6.2 -35.2h0M6.2 -32.8h0M-23.4 -28.1h0M35.5 2h0M-11.2 28h0M35.2 1.5h0M9.6 -35.6h0M26 11.6h0M-33.7 13.7h0M-37.4 4.1h0M10.9 27h0M17.7 -27h0M33.9 -7.4h0M-36.2 7.8h0M-5.6 -37.8h0M31.9 -1.6h0M36 4.6h0M-25 14.7h0M-11.1 33.5h0M-19.3 -21.1h0M22.8 -25.5h0M-35.4 -12.8h0M-33.5 9.9h0M-32.7 12h0M-35.7 -1.5h0M-23.8 -2h0M-1.9 -25h0M27.7 -22.5h0M28.9 -18.1h0M-18 34.7h0M26.5 5.1h0M13.8 -24.7h0M33.4 -5h0M-36 -7.4h0M34.6 12.6h0M29 17.1h0" stroke="#11205a" stroke-width="3.4"/><path d="M1.4 36.8h0M4 -29.6h0M23 9.9h0M13.2 30.5h0M22.2 21h0M-1.1 3.4h0M21.6 28.5h0M30 19.5h0M-4 22.2h0M34 -6.4h0M27 -.4h0M-27.6 1.2h0M-.3 6.2h0M-10.7 -10.6h0M9.3 13.2h0M1.4 36.8h0M-18.2 -9.9h0M-2.7 16.4h0M9.2 3.1h0M30.7 -5.6h0M-22.1 -13.2h0M3.5 21.2h0M5.1 -5h0M-13.6 31.3h0M-25.9 -18.1h0M-6.9 -34.7h0M14.9 -6.7h0M4.6 19.2h0M21.5 -10h0M-23.6 20.2h0M20.4 31.6h0M-9.2 20.3h0M15.4 -8.6h0M35.5 -6.9h0M11.5 9.8h0M-15.1 29.7h0M21.1 21.8h0M-6.9 22h0M-1.8 4.1h0M-3.3 -7.3h0M.1 34.4h0M-26.7 26.6h0M24.6 24.1h0M16.3 .2h0M-30.3 8.5h0M-9.6 -9.8h0M35.4 4.7h0M13.5 -5.4h0M4.4 19h0M.8 -3.4h0M-6.9 28.9h0M-3.2 17.9h0M-15.3 -30.6h0M-16.5 18.6h0M-25.1 21h0M-6 -7.5h0M14.9 35.3h0M9.4 -22h0M31.1 -7.1h0M-7.7 .5h0M20.3 28.3h0M-6.8 26.8h0M-21.2 8.1h0M.8 31.3h0M8.5 32.3h0M12.5 -26.6h0M31.3 -20.5h0M-15.4 .2h0M-4.7 -19.1h0M27.9 -4.9h0" stroke="#0a1434" stroke-width="3.0"/><path d="M-1.3 15.4h0M23.9 -19.1h0M-.5 -18.3h0M21.5 19.4h0M1.7 -5.8h0M-10.3 -10.9h0M-18.4 15.8h0M3.7 -24.7h0M-32.2 6.3h0M25.7 4.5h0M-5.9 -32.8h0M-18.7 25.1h0M-11.7 21.3h0M-20.5 -10.1h0M-26.4 -7.2h0M2.1 -30h0M9.5 -2h0M-28.9 6.4h0M10.8 -28h0M32.3 -6.5h0M27.9 19.4h0M-14.5 27h0M-18.1 -.8h0M-11.5 -16.1h0M-15.3 -8.7h0M9.9 1.2h0M25.6 11.7h0M12.4 -16.9h0M8.8 -7.5h0M8.3 19.1h0M25.5 -1.9h0M4.6 18.2h0M-26.8 -12.2h0M6.5 18.3h0M-8.8 28h0M16.3 18.6h0M-7.1 -27.9h0M8.4 -4.1h0M-7.2 -5h0M16.2 -19.8h0M-7.2 14.3h0M32.6 8h0M6.3 -19.6h0M-28.5 4.7h0M-1 -2.3h0M-13.2 10.4h0M-4.1 18.3h0M15.1 28h0M-9.3 21.3h0M-11.4 -3h0M-12 -20.4h0M-4.6 2.7h0M-2.8 -24.8h0M2.7 -5.5h0M13.8 -3.8h0M1.2 19h0M-8.2 -2.3h0M3.9 .8h0M-6.4 11.1h0M27.3 7.5h0M-24.5 3.5h0M-8.2 26.6h0M-4.1 -20.3h0M24.8 15.4h0M-20.3 2.2h0M-7.3 -12.8h0M16.5 4.7h0M1.1 -10.2h0M1.1 -19.5h0M10.1 22h0M-19.7 -24.3h0M.1 29.1h0M16.2 10.2h0M-1 5.2h0M20.8 -.4h0M-14.5 14.5h0M1.3 -10.2h0M-18.9 4.4h0M-28.1 .2h0M-.5 -1h0M.1 29.1h0M-1.4 -13.1h0M21.2 13.7h0M-3.6 -1.4h0M-11.2 13h0M-22.5 14.1h0M.2 23.8h0M15 25.7h0M20.3 15h0M20.9 -15.4h0M-8.8 22.1h0M-5.9 27.1h0M-3 -1.3h0M-12.5 -23.7h0M.6 29.8h0M-8.1 10.7h0M5.1 -6h0M12.5 -13.6h0M7.2 -4.2h0M-.2 -28.5h0M-1.9 8h0M-2.3 -10.2h0M6.8 -15.4h0M7.8 9.1h0M-6.1 -25.1h0M2.5 2h0M-1.5 -18.7h0M3.4 -9.2h0" stroke="#1b3ea6" stroke-width="3.2"/><path d="M-25.3 -.3h0M6.2 -32.9h0M26.6 6.6h0M-1.6 16.4h0M32.8 -15.7h0M11 35.6h0M12.5 -3.8h0M28.5 -1.9h0M20.7 -19.9h0M-25.8 17.9h0M-35.9 -9h0M11.6 20.8h0M17.7 15h0M-4.1 -38.8h0M-22.8 -5.5h0M2.9 13.4h0M23.3 .8h0M19.2 33.2h0M21.9 9.7h0M21.7 -4.1h0M15.6 -28h0M16.2 33.4h0M11.9 34.1h0M-6.3 -28.4h0M-33.5 -.9h0M-14.2 34.3h0M-24.8 13.9h0M-.2 10h0M-5 -6.2h0M-17.6 27.7h0M21.6 -5.6h0M-29.4 -21.4h0M17.3 1.5h0M-16 26.9h0M0 31.8h0M-9.4 10.8h0M-13.7 27.4h0M28.4 6.5h0M-34 -15.9h0M25 11.4h0M5.8 2.3h0M-24.3 -3.7h0M-3.3 29.6h0M4 31.7h0M-18 13.9h0" stroke="#0a1434" stroke-width="2.6"/><path d="M1.7 16h0M11.4 -9.4h0M2.3 5.3h0M-11.8 15.8h0M3.1 -2.6h0M-9.2 -3h0M.4 -9.9h0M15.6 6.7h0M.2 -1.6h0M.3 21.3h0M-26 -6.7h0M-12.2 22.7h0M6.6 6.3h0M7.2 -9.3h0M10.7 .6h0M-19.6 -6.2h0M-17.4 -10h0M11.3 24h0M9.5 5.5h0M0 -3.3h0M11.6 -1.8h0M-16.7 -14.4h0M-23 -1.9h0M6.3 -9.2h0M-21.8 -12.2h0M2.3 -11.9h0M10.3 24.4h0M1.7 -10h0M14 -6.3h0M.8 -4.4h0M-8.4 -1.5h0M-.5 5.4h0M6.9 23.1h0M-.2 4.1h0M8.4 13.8h0M.6 -.7h0M-5.7 -2.6h0M-.6 10.5h0M5.3 -2.5h0M-13.3 14.8h0M-7.6 -9h0M10.4 -15.3h0M-15.9 -12.2h0M-7.6 23.9h0M-10.3 21.8h0M-9.2 -5.1h0M24.2 -11h0M24.8 12.2h0M6.7 -19.5h0M-9.9 -19h0M-1.9 11.3h0M22.6 -3.4h0M4.6 -11.4h0M25.4 2.2h0M.4 -5.6h0M2 -14.9h0M15.1 -6.3h0M-24.6 -.8h0M11.2 -3.8h0M-.9 -.7h0M-2.4 -9.1h0M3.5 12.6h0M-20.6 -9.2h0M-.7 -1.9h0M.3 7.5h0M14 8h0M-1.5 25.4h0M-22.6 14.5h0M-5.3 10.3h0M-12.5 23.9h0M-19.2 7.6h0M-1.9 24.4h0" stroke="#2250c4" stroke-width="2.6"/></g>
<g transform="translate(304.4 249.8)"><path d="M33.8 0L33.5 3.3L31.1 6.2L31.4 9.5L29.3 12.1L28.9 15.5L26.4 17.7L25.3 20.8L22.1 22.1L19.7 24.1L18 26.9L15 28L11.8 28.4L9.1 29.9L6 30.3L3.2 32.1L0 31.7L-3.2 32.4L-6.2 31.3L-9.4 31.1L-12.7 30.6L-16.2 30.3L-18.8 28.2L-21.3 26L-23.4 23.4L-25.5 20.9L-27.6 18.4L-28.6 15.3L-29.6 12.3L-31.1 9.4L-32 6.4L-32.6 3.2L-32.1 0L-32 -3.2L-31.6 -6.3L-31.3 -9.5L-30.2 -12.5L-28.7 -15.4L-26.9 -18L-25.6 -21L-22.7 -22.7L-20.5 -24.9L-17.3 -25.8L-14.5 -27.1L-12.3 -29.8L-9.3 -30.6L-6.4 -32.2L-3.3 -33.1L0 -32.4L3.2 -32.8L6.4 -32.3L9 -29.6L12.2 -29.5L14.5 -27.2L18 -26.9L19.9 -24.2L22.9 -22.9L25.3 -20.8L27.3 -18.2L28.6 -15.3L30.6 -12.7L31.5 -9.6L32.3 -6.4L32.9 -3.2Z" fill="#0d2038"/><path d="M26.6 19.3L28.7 22.3L28.2 24M34.2 -1.2L37.8 -2.6L38.9 -1.1M25.7 -20.8L29.7 -21.3L31.3 -20.4M22.7 -23.9L26.5 -26.8L25.4 -28.2M-30.8 11.2L-36.2 13L-36.5 14.8M32.9 -9.4L35.2 -11.4L36.7 -10.5M-33 2.4L-38.4 5.5L-38.5 7.3M15.8 -28.2L21.8 -31.4L23.5 -30.9M-19.9 -25.5L-20.1 -30.2L-19.5 -32M-23.9 -22.4L-26.6 -26.4L-25.6 -28M11.6 -30L12.7 -33.1L14.5 -32.8" stroke="#122c70" stroke-width="1.3" stroke-linejoin="round"/><path d="M22.2 24.9h0M34.9 -.5h0M25.9 23.3h0M-29.3 20h0M-34.5 2.7h0M-12.6 -32.9h0M15.7 29.7h0M30.6 15.8h0M29.6 -18.2h0M-21.2 -26h0M30.6 -17.4h0M34.9 5h0M-33.7 -3.3h0M-32.6 10.3h0M-25.5 27.3h0M35.5 -8.2h0M34.4 -11.5h0M-31.9 -13.1h0M-24.8 -24.6h0M19.6 28.4h0M14.7 29.1h0M.6 -35.9h0M28.3 18.3h0M31 -18.1h0M35.1 .2h0M29.1 18.6h0M15.1 29.9h0M-3.3 33.9h0M-7.9 32.6h0M-5.6 34.3h0M22.4 -26.6h0M-33.2 11.2h0M10.6 30.7h0M.4 34.5h0" stroke="#173e88" stroke-width="2.6"/><path d="M-27.8 2.2h0M-8.7 -1h0M-29.4 10.5h0M-10 -25.9h0M-25.1 10.6h0M11.5 21.3h0M-3.8 -7h0M31.8 2.4h0M15.4 -12h0M5.1 22.1h0M-19.7 -19.4h0M14.4 20.5h0M6.3 -17.9h0M.6 20.8h0M-20.7 .5h0M-2.6 16.6h0M-20.4 24.9h0M4.1 -22.6h0M-8.5 2h0M-9.1 16.1h0M-18.6 18h0M24.4 -14.5h0M6.1 12.2h0M-13.6 -26.1h0M-5.9 -29.3h0M13.9 -28.8h0M5.6 -.4h0M-6.6 1.4h0M2.6 -8.4h0M8.2 -4.1h0M-30.7 -12.5h0M-27 .5h0M-12.3 -12.7h0M-20 14.2h0M22 18.7h0M-14.7 -15.9h0M19.1 -3.4h0M4.7 -12.8h0M21.1 22.5h0M-20.9 -3.1h0M24.8 -5.5h0M-.2 10h0M-3.8 -9.5h0M-18 -7.7h0M2.3 6.5h0M-21.2 -9.9h0M18 6.3h0M-3.5 -.5h0M-31.5 5h0M-20.8 -2.7h0M17.5 5h0M-7.6 -9.1h0M13.6 1.3h0M-10.3 -14.4h0M15.8 -17.3h0M-15.6 30.5h0M-3.8 25.8h0M22.7 16.1h0M16.2 -21.3h0M-.5 -22h0M-9.1 1h0M-6.6 -22.3h0M26.7 0h0M26.4 -4.6h0M-3.8 -7.2h0M-32.8 7h0M-24.6 -15.9h0M-16.7 21h0M14.5 22.1h0M22.3 24.1h0M4.9 8.6h0M-8.2 -14.7h0M-16.1 -13h0M19.8 11.3h0M9.3 7.5h0M-8.2 -1.7h0M10.8 8.1h0M7 -15.4h0M-5.4 -33.6h0M-23.2 10.7h0" stroke="#0a1628" stroke-width="4.2"/><path d="M-27.1 -13.2h0M11.6 -8.7h0M-12.5 -22.1h0M12.9 -24.8h0M-21.1 -10h0M-16.9 -18.5h0M4 -4.7h0M-4.9 -23.1h0M11.8 -20.7h0M5.9 -31.3h0M.1 -33.7h0M13.9 -4.9h0M-30.3 9.3h0M-29.9 10h0M-14.1 -19.7h0M-.7 -13.9h0M25.3 -19.6h0M19.1 -23.9h0M21.8 -15.3h0M20.5 -19.6h0M4.4 -18.2h0M-28.8 9.6h0M-25.7 9.2h0M22.1 -6.9h0M19 -21.6h0M15.1 -20.7h0M14 -17.2h0M-28 -11.3h0M6.6 -21.3h0M-3.7 -34.1h0M14.5 -8.4h0M-4.4 -28.2h0M-29.8 -11.6h0M1.1 -26.2h0M-22.4 -11.3h0M24.1 -8.3h0M-30.8 7h0M-14.4 -16.1h0M-2.4 -26h0M-18.8 -16.5h0M-10 -31.3h0M.7 -26.7h0M-6.1 -27.6h0M-11 -16.7h0M-28.4 -13.2h0M-28.3 11.6h0M-27.6 3.3h0M14.4 -22h0M.3 -33.4h0M-24.8 -6h0M.4 -16.4h0M-13.9 -27.4h0M3 -17.4h0M-1.2 -13.9h0M28 -16.5h0M-32.8 -5.6h0M10.5 -15.6h0M-21.1 7.7h0M-26.2 7.5h0M5.6 -25.7h0M9.9 -21.4h0M-28.1 12.7h0M-15.2 -23.9h0M3 -20.8h0M4.3 -30.8h0M-10.7 -20.6h0M-30.9 10h0M-14.3 -26.7h0M12.4 -7.6h0M-21 -13.3h0M-3.2 -12.7h0M-1 -5.8h0M-27.2 14h0M-25.7 .7h0M-15.8 -18.5h0M-29.9 9.1h0M-30.6 9.1h0M-4.4 -30.3h0M28.8 -7h0M-9.4 -7.8h0M-8.6 -8.9h0M-32.1 -4.7h0M-13.7 -18.8h0M-22.6 -17.7h0M29 -9.3h0M28.8 -16h0M11.3 -26.4h0M12.8 -20.8h0M4.4 -31.8h0M15.1 -12.9h0M-5.7 -22h0M-25.8 17.9h0M3.4 -13.8h0M25.8 -9.7h0M7.5 -32.1h0M-20.8 -21.5h0M-29.1 17h0M11.5 -15.6h0M6.9 -24.1h0M5.7 -12.6h0M-22.4 -12.4h0M-5.4 -13.9h0M-3.7 -22.9h0M24 -22.3h0M-25.4 -11.1h0M.3 -7.6h0M-16.5 -26.9h0M-11.7 -23.2h0M-19.7 2.8h0M19.1 -21.5h0M10.7 -24.3h0M9.6 -10.2h0M-.3 -16.5h0M-30.2 -5h0M-.5 -22.1h0M15.4 -5.4h0M-20.6 -12.7h0M-10.5 -20.6h0M6.2 -10.2h0M7.4 -11h0M-6 -25.9h0M-.8 -12.5h0M-12.4 -15.8h0M-30.2 12h0M-13.8 -16.3h0M21 -21h0M-24.2 9.9h0M-32.2 -.5h0M-15 -26h0M21.6 -15h0M-31.8 10.1h0M11.2 -7.3h0M-1.9 -31.6h0M14.1 -25.6h0M-15.6 -25.9h0M29.5 -16.8h0M5.8 -14.3h0M-20.9 -12.8h0M-14.6 -15.7h0M9.5 -25.3h0M-5.6 -20.2h0M12.5 -15.3h0M-21.6 9.7h0M-19.8 -7.3h0M13.5 -24.4h0M-6.7 -10.5h0M-1.3 -12.6h0M2.1 -16.1h0M12.6 -10.9h0M18.9 -9.5h0M-7.1 -6.4h0M-25.2 17h0M-26.9 10.8h0M2.4 -24h0M-25.6 -9.8h0M-13.4 -10.9h0M12.6 -16h0M2.7 -32.6h0M8.3 -10.5h0M13.6 -5.5h0M-2.8 -30.7h0M-8 -8h0M-12.1 -27.2h0M-24.4 6.1h0M-15.1 -17.6h0M-13 -15.2h0M-24.6 -18h0M29.5 -5.6h0M-5 -22h0M22.3 -20.5h0" stroke="#122c70" stroke-width="3.8"/><path d="M-26.1 12h0M-10.8 -31.7h0M-21.7 -22.9h0M19.4 -23.2h0M16.9 -12.5h0M28.7 -12.4h0M-23 -15.1h0M-29.2 -7.9h0M-22.2 -8.9h0M26.1 -8.5h0M-9.5 -23.5h0M22.1 -7.6h0M-10.1 -13.6h0M8.5 -24.8h0M-22.4 -8.2h0M.5 -31.1h0M9.3 -13.2h0M-19.8 2.5h0M25 -16.1h0M19.4 -19.4h0M-4.3 -7.5h0M14.8 -15h0M-15.2 -21.4h0M6.9 -27.8h0M-31.7 -8.6h0M-30.3 -13.9h0M-30.5 8h0M9.3 -25.3h0M-28.6 8.6h0M-7.3 -30.9h0M-28.9 13.5h0M-14.3 -13.3h0M-18.3 -16.9h0M19.1 -23.8h0M8.3 -31.6h0M-5.7 -10.7h0M-9.9 -13.1h0M-12.1 -30h0M23.1 -13.2h0M-23.5 -12.3h0M20.5 -23.9h0M-.3 -27.3h0M-19.6 4.4h0M9.3 -2.5h0M-2.5 -7.1h0M-7.6 -25.2h0M22.4 -15.9h0M15.4 -26h0M-25.6 10.2h0M-27.6 -15.7h0M-31.5 6.5h0M11.6 -14.9h0M29.9 -12.9h0M-23.1 -5.5h0M-31.9 1.8h0M-2.3 -27.8h0M-9.7 -18.2h0M9 -26.7h0M7.6 -23.5h0M-13 -11.7h0M12.6 -29.5h0M19.2 -24.4h0M-.9 -18.5h0M-9 -7.9h0M9 -26.1h0M6.4 -27.7h0M-18.5 29.8h0M-24.2 5.1h0M13.4 -17.6h0M-22.9 -15.4h0M-23.6 17.8h0M-5.9 -14.5h0M-1.4 -33.7h0M-29 -15.8h0M-22.4 -14.6h0M-5.4 -18.7h0M7.8 -11h0M-5.7 -24.5h0M22.6 -22.4h0M-30.9 2.7h0M-21.6 4.2h0M-.1 -28.7h0M-9.9 -26.9h0M14.1 -27.6h0M14.7 -10.2h0M-25 -6.1h0M-17.1 4.9h0M-29.7 3.8h0M.7 -27.8h0M-12 -14.5h0M25.2 -17.5h0M-1.7 -11.9h0M-18.5 -15.8h0M21.1 -25.4h0M-23.1 4.5h0M7.8 -22.3h0M7.5 -23.3h0M-15.2 -23.8h0M18.3 -12.6h0M7.3 -17.7h0M-28 .8h0M-24.9 16.1h0M-26.1 18.5h0M-25.1 -14.5h0M-31.5 -4.8h0M-19.3 -10.4h0M10.3 -12.6h0M20.7 -22.4h0M-14.1 -21h0M17.7 -13h0" stroke="#173e88" stroke-width="3.2"/><path d="M-8.1 -10h0M1.8 -17.7h0M-10.1 -17.5h0M23.6 -14.2h0M-4.3 -6.5h0M-15.4 -14.9h0M-23.8 -12.9h0M8.4 -15.7h0M-26.4 -15.8h0M-12.9 -13.6h0M-23.3 -23.8h0M-17.1 -24.3h0M-23 -7.5h0M-8.4 -29.8h0M13.7 -13.9h0M21.9 -17.9h0M-26.3 21.9h0M-6.3 -27h0M-24.4 4.6h0M-30.5 7.6h0M-30.3 -12.4h0M2.7 -14.2h0M-20 -18.7h0M-29.7 7.7h0M-20.7 -15h0M-6.3 -27.4h0M7.8 -21.6h0M-19.8 -18.9h0M-32.6 3.3h0M4.4 -30.3h0M6 -12.2h0M31 -10.7h0M-30.3 -11.4h0M-28.7 -4.8h0M-26.7 -19.3h0M-9.1 -28.2h0M-30.6 -10.2h0M-27.6 -15.4h0M6.9 -30.7h0M-19.9 -6.4h0M-30.5 -10h0M-26.4 -9.6h0M-17.7 -19.3h0M26.2 -19.1h0M17.5 -20.2h0" stroke="#1f5c9a" stroke-width="2.6"/><path d="M-19 17.5h0M26.9 7h0M15.5 -1.1h0M-2.6 16.6h0M31.3 -3.6h0M-17.7 15.7h0M-9.7 17.4h0M14.7 .7h0M-11.3 -2.8h0M15.2 -8.2h0M5 4.7h0M28.1 10.4h0M-12.8 2.5h0M26.9 -.2h0M27.7 -12h0M-16 27.8h0M-16 14.8h0M2 -.9h0M-11.6 24.3h0M16.6 26.2h0M-27.3 1.8h0M-5.2 19.2h0M-2.2 5.2h0M-5 13.9h0M-2.7 -.1h0M-24 14.6h0M-1.4 14h0M.5 29.5h0M-1.5 28.2h0M25.1 -5.6h0M30.6 9.7h0M28.4 2.9h0M-18.1 -2.9h0M-21 -5.8h0M-12.5 .2h0M1.4 17.1h0M.4 -1.1h0M-25.2 3h0M-14.3 -4.3h0M24.3 21.4h0M-21.1 23.6h0M16.4 3.8h0M.9 -3.6h0M9.4 -9h0M27.8 6.6h0M11.8 14.5h0M9.1 26.4h0M-20.2 26.7h0M15.6 8.9h0M9.3 -5.3h0M8.5 -2.4h0M-16 -5.6h0M5.9 13.8h0M-14.7 25.9h0M-6.7 31.8h0M5 -4.5h0M5.3 27.6h0M20.7 9.6h0M24.3 -2.5h0M-11.7 22.9h0M22.3 12.2h0M4.1 9.1h0M11.4 -10.5h0M29.1 -2.3h0M3.6 21h0M-5.8 -5.5h0M6.7 16.4h0M21.4 2.4h0M21.4 -7.5h0M-22.5 -1.7h0M2.7 10.6h0M-7.3 30.4h0M21.5 22.9h0M-17.3 9.6h0M21.3 -11.8h0M-20.5 -2.1h0M2.4 14.3h0M17.1 7.3h0M-10.4 18.2h0M13 22.6h0M13.2 14.5h0M28.2 11.3h0M-8 15h0M-3.6 31h0M21.2 24.6h0M29.9 -1.6h0M-24.9 3.3h0M-9 20.9h0M-10.5 -.4h0M-11.3 12.5h0M-15.5 5.3h0M14.9 -1.4h0M13.1 20.7h0M-1.3 10.6h0M4 11h0M-3.3 31.4h0M12 27.5h0M19.9 19.3h0M8.8 29.6h0M-1.8 23.7h0M-6.1 8.4h0M-7.4 22.9h0M-13.2 14.5h0M14.1 4.4h0M-7.9 25.9h0M10.6 26.3h0M-7.3 .4h0M18.7 14.6h0M-25.2 -12.6h0M29.1 7.7h0M20.5 -5.2h0M-20.7 16.5h0M21.7 2h0M33.1 -2.7h0M-3 2.7h0M25.2 4h0M-7.1 25.7h0M18.5 13.8h0M4.1 -8.7h0M8.9 -3.8h0M2.7 15.6h0M6.8 20.2h0M7.6 16.9h0M-19.5 20.9h0M-10.5 10.1h0M1.8 16.8h0M10 17.6h0M9 -7.9h0M3.8 11.2h0M-15.1 11.4h0M13.8 14.9h0M-12.6 12.8h0M11 21h0M10.3 19.3h0M10.3 29.9h0M-1.2 18.9h0M15.3 7.5h0M-9.3 1h0M-7.1 22.7h0M.6 30.8h0M21 -6.8h0M7.1 11.1h0M3.4 -9.1h0M4.2 25.1h0M7.3 24.4h0M24.7 15.5h0M13.8 -2.7h0M1.1 5.7h0M.7 9.9h0M1.7 23h0M24.1 -1.8h0M-14.8 5.1h0M12.4 7.4h0M4.1 18.7h0M-5.8 13.2h0M2.8 8.9h0M.6 25.7h0M1 12h0M10.2 28.5h0M23.5 -.6h0M-13.3 -.7h0M8.6 6.5h0M12.8 11h0M-17 -4.5h0M12.8 19.7h0M5.5 16.6h0M24.9 -13.6h0M10.5 10.4h0M-1.4 5h0M-10.8 5.4h0M26.9 9.5h0M-2.4 -.7h0M-23.6 -9.5h0M13.8 .6h0M-8.2 27h0M-6.8 2.6h0M7 11.5h0M7.7 4.5h0M13.3 -2.9h0M31.6 -3.8h0M-7.3 14.2h0M-10.9 -4.1h0M1 1.6h0M25.8 -5.9h0M-7.9 5.2h0M-13 3.6h0M-19.1 9.5h0M-22.4 7.8h0M6.1 23.2h0M11.5 -1.1h0M-23.1 -4h0M-24.9 -7.8h0M5.3 -10.3h0M11.9 15.2h0M-6.3 .6h0M-5.2 27h0M32.1 -5.2h0M-16.3 18.5h0M-9.7 28.7h0M9.7 3.8h0" stroke="#103e28" stroke-width="3.8"/><path d="M18.8 6.1h0M-6.3 5.9h0M5.4 26.3h0M-11.7 1.5h0M-26 15.9h0M27.7 9.8h0M10.8 -.2h0M10.1 13.8h0M15.2 19.7h0M19.7 -2.3h0M-25 2.7h0M29.9 -5.1h0M-20.8 3.4h0M7.1 18.6h0M6.9 19.2h0M2.3 22.5h0M29.7 8.8h0M4.8 0h0M4.2 30.3h0M-7 -4.5h0M-26.1 8.9h0M4 2.6h0M-17.5 -5.8h0M4.4 23.5h0M16.7 21.3h0M25.2 11.2h0M6.1 3.5h0M-30.9 -5.9h0M-1.7 16.5h0M3.8 9.2h0M21.1 17.7h0M-23.3 21.4h0M6.7 7.2h0M-3.8 26.2h0M11.5 9.8h0M1.1 -1.1h0M32 4.6h0M-15.8 24.5h0M-5.9 8.1h0M14.2 12h0M-7.8 28.7h0M-3.6 3.5h0M3.5 7.7h0M17.8 22.2h0M-6.7 23.3h0M-14.2 3.4h0M-5.4 21.5h0M-19.6 -12h0M-4.9 -2.4h0M17 8.1h0M16 13.3h0M24.2 -8h0M15.1 9.5h0M-8.5 3.6h0M5.1 8.3h0M16.5 .3h0M-.2 30.4h0M13.6 26.1h0M19 13.9h0M3.6 8h0M-23.9 15.7h0M-3.3 12.1h0M-13.1 -10.5h0M-21.8 21.5h0M-18.2 26h0M-7.6 19.5h0M25.6 1.4h0M4.6 8.7h0M.5 26.6h0M21.3 -7h0M9.8 -4.7h0M-11.8 -2.5h0M-14.6 11.5h0M32 -1.8h0M-18.5 14.2h0M3.5 28.6h0M-15.9 24.2h0M13.5 -6.4h0M-12.7 -.6h0M17 10.7h0M-7 4.4h0M-.7 14.1h0M-2.4 .6h0M8.9 -5.7h0M17.5 13.8h0M-17.9 6.3h0M-9.3 0h0M-6.7 1.2h0M1.8 -5.1h0M30.4 8.5h0M-4.9 23h0M16.2 -.8h0M8.1 6.4h0M1.4 8.9h0M.6 28.7h0M15.3 2h0M13.5 10.4h0M4 14.1h0M7.4 15.1h0M-21.6 20.8h0M-18.2 -11.4h0M22.6 16.3h0M-18.7 26.5h0M3.1 14h0M-13.3 4h0M-8.1 5.4h0M19.5 24.3h0M19.9 -13.9h0M-7.8 11.4h0M-23.3 18.1h0M-17.3 10.7h0M21.1 14h0M-3.2 2.7h0M-14.4 21.6h0M2.9 19.1h0M-7.3 1.7h0M3 29.7h0M-4.6 18.2h0M-1.9 13.8h0M19.8 15.1h0M6.1 30.3h0M-17.6 3.7h0M7.7 -1.6h0M21.2 20.5h0M-23.3 3.1h0M-17.1 -5.7h0M-5.2 3.9h0M.3 24.4h0M17.7 5h0M24.8 -3.3h0M6.8 3.4h0M-12.2 10h0M-16.5 21.7h0M28.2 2.2h0M5.4 24.6h0M-1.8 25.5h0M-7 -5.4h0M21.8 6.2h0M-4.4 26.6h0M-20.6 -1.1h0M10.6 8.5h0M-3.6 20.5h0M6 4.3h0M-18.9 -1.9h0M28.5 -5.4h0M25.8 -.4h0M23.7 0h0M7.2 16.1h0M17.5 6h0M22.3 -.8h0" stroke="#144e2c" stroke-width="3.4"/><path d="M-1.7 -7.8h0M21.5 -15h0M-33.5 -1.4h0M-24.3 17.8h0M-26.2 .1h0M-10.1 -17.9h0M21.4 16.1h0M22.9 -23.4h0M13.2 -25.9h0M-27 9.7h0M28.3 -11.4h0M-11.1 -15.1h0M-11.5 -12.2h0M-28.7 -15.8h0M-15.2 22.1h0M26.9 12.2h0M-18.3 18.5h0M-12.7 -23.9h0M1 -26.6h0M-25.4 14.3h0M18.2 -6.1h0M-23.9 -19h0M14.4 -29.2h0M28.1 -4.4h0M3.8 -2.9h0M33.5 .4h0M9.9 19.3h0M22.6 -6.4h0M25.3 -13h0M-21.3 -15.5h0M15.3 23.5h0M-2.2 21.5h0M-15.2 -28.6h0M12.3 -4h0M18.8 -13.7h0M26.9 -9.9h0M3 -.6h0M-4.2 10.6h0M17.1 -17h0M-29.7 2.8h0M16.1 11.7h0M2.9 -32.1h0M-20 10.6h0M23.8 -22.5h0M-11.6 24.5h0M-9.9 -10.2h0M-7.4 3.4h0M.7 30.5h0M5.3 -6.8h0M-18.7 -23.6h0M-28.9 -14.6h0M-14.7 -17.4h0M30.6 -2.6h0M1.8 -28h0M9.4 -6.2h0M-7.3 -31.9h0M1.1 7.5h0M-12.8 7.4h0M33.7 1.9h0M0 7.5h0" stroke="#0a1628" stroke-width="2.8"/><path d="M-7.8 -4.7h0M13.7 3.9h0M-16.9 -3h0M7.9 17.3h0M22.4 8.8h0M-14.1 9.3h0M26 9.3h0M-17.8 -1.8h0M-25.3 -3.7h0M1.2 -3.3h0M.9 10.6h0M-15.1 14.3h0M-4.6 18.5h0M-3.6 4.5h0M28.1 -2.9h0M-20.4 19.7h0M25.3 -2.1h0M-6.3 -2.7h0M11.7 19.4h0M28.5 -1.9h0M-18.2 16.9h0M-7 14.5h0M-17.2 11.1h0M-2.3 28.1h0M-11.3 17.4h0M-22.5 -7.6h0M16.5 1h0M27.9 4.5h0M21.4 6.4h0M12.6 2.1h0M12.2 -7.1h0M14.8 8.9h0M9.4 18.2h0M23.8 8.4h0M-13 10.6h0M-12.6 19.9h0M28.1 -5.8h0M-12.3 14.9h0M-15.6 14.2h0M-3.7 -10.3h0M14.7 -7.3h0M14.5 5.9h0M-13.6 23.4h0M19.7 17.7h0M-1.6 17.1h0M23.5 2.4h0M20.8 8h0M12.6 22.4h0M5.3 -5.8h0M5 12.8h0M6.2 -4.8h0M3.2 11.7h0M12.1 22.6h0M-5.6 18.7h0M16.6 17.9h0" stroke="#1a602e" stroke-width="2.8"/><path d="M-9.6 -6.2h0M-14.3 -4.1h0M3.3 -13h0M-26.1 -1.2h0M28.3 7.7h0M16.8 21.5h0M12.8 -6.4h0M22.3 -22.7h0M-.7 -18.4h0M-10 -.1h0M-22.8 2.7h0M-15.3 24.5h0M-1.1 -8.8h0M-26.8 15.1h0M-14.5 -22.9h0M27.8 1.3h0M5.9 .6h0M1.6 -21.8h0M13 11.4h0M16.9 9.1h0M31.4 2.9h0M-3.2 -9h0M10.2 -16.3h0M-.7 4.6h0M26.6 3.7h0M5.5 -10.5h0M8.5 12.4h0M19.2 -.3h0M5.3 -18.6h0M-30.1 6.9h0M4.8 7.8h0M16.9 -15.4h0M-4.6 4.7h0M-16.1 5.4h0M14.3 4.3h0M-22.6 11.9h0M5.4 -13.7h0M6.1 24.2h0M12.4 -4.4h0M15.8 -14.6h0M6.8 27.5h0M22.6 -10.3h0M-3.3 30.6h0M-7.6 -23.2h0M-4.9 -31h0M12.5 -23.7h0M-2.3 -32.5h0M-24.9 16.6h0M-20 -12.3h0M17.1 4.1h0" stroke="#185c5a" stroke-width="2.8"/></g>
<g transform="translate(416.2 243.9)"><path d="M33.8 0L33.6 3.3L32.4 6.5L31.2 9.5L30.7 12.7L29.6 15.8L27.9 18.6L26.7 21.9L24.5 24.5L21.8 26.5L19.1 28.6L16.9 31.6L13.4 32.4L10.1 33.3L7 35.1L3.4 34.7L0 35.4L-3.4 35L-6.7 33.9L-10.1 33.3L-14 33.8L-16.5 30.8L-19.5 29.2L-22.5 27.4L-24.5 24.5L-25.7 21.1L-28.5 19.1L-31 16.6L-31.5 13L-34.3 10.4L-34.1 6.8L-34.8 3.4L-35.6 0L-35.6 -3.5L-34.7 -6.9L-33.7 -10.2L-33.3 -13.8L-29.9 -16L-27.8 -18.6L-26 -21.3L-24 -24L-21.4 -26.1L-19.1 -28.6L-16 -30L-13.3 -32.1L-10 -32.9L-6.9 -34.9L-3.5 -35.7L0 -35.2L3.5 -35.6L7 -35.3L10.2 -33.5L13.6 -32.7L16.9 -31.5L20.4 -30.6L22.2 -27L25.4 -25.4L26.9 -22L29.4 -19.7L32.3 -17.3L33.7 -13.9L34 -10.3L34.2 -6.8L33.6 -3.3Z" fill="#0d2c30"/><path d="M6.5 35.4L4.3 39.7L2.7 40.6M29 -21.8L30.4 -25.9L30 -27.7M-9.4 35L-11.3 38.3L-13 38.7M-35.5 -4.1L-39.9 -8.3L-40.7 -9.9M-3 35.5L-4.6 39L-3.2 40.1M34 -2.8L39.8 -2.6L40.7 -1.1M-31.2 -16.8L-34.9 -17.2L-34.2 -18.8M-31.3 -16.6L-34.9 -15.5L-36 -14.1M19.8 29.9L20.9 35.4L20.3 37.1M17.2 -32.3L19.7 -35.7L19.1 -37.4" stroke="#114456" stroke-width="1.3" stroke-linejoin="round"/><path d="M-37.3 -3.4h0M9.7 37.1h0M36.4 -8.4h0M-11.4 35.8h0M-22 -28h0M-34.8 -12.5h0M-34.8 14.9h0M14.6 -35.7h0M17 -35.4h0M21.6 29.9h0M30 -24.1h0M30.3 21h0M1.9 -36.4h0M-36.7 8.8h0M29.5 21.5h0M9.9 -36.3h0M10.6 35.5h0M-36.6 10.3h0M33.7 12.5h0M-35.2 -11.8h0M32.8 18h0M29.6 -24.2h0M-30.4 20.6h0M-31.9 -17.5h0M7 37.6h0M33 -19.5h0M-10.4 36.2h0M9.7 35.7h0M29.8 -23.3h0M23.8 27.9h0M35.6 -7.8h0M-19.8 -31.5h0" stroke="#165672" stroke-width="2.6"/><path d="M-10.4 -7.9h0M-14.8 26h0M5.7 -15.3h0M18.6 9.8h0M-29.2 -2.4h0M6 15.1h0M21.8 -13.9h0M23.3 12.7h0M19.3 -27h0M12.3 24.1h0M11.9 17.8h0M15.1 -2.6h0M-28.2 2.9h0M.4 -32.6h0M26.1 12h0M-20.5 3.7h0M10.1 3.9h0M25.9 19.1h0M24.3 11.4h0M7.4 -17.4h0M-2 18.8h0M-7.6 -12h0M-33.1 13.2h0M-19.7 .9h0M6 -31.6h0M12.1 17.2h0M-11.1 -33.4h0M-15.7 33.4h0M16.3 -15.5h0M9.1 -22.8h0M8.4 -35h0M4.6 23.9h0M-17.4 31.8h0M-35.3 7.4h0M-29.4 -6.2h0M9.1 -7.6h0M-4.5 2.4h0M6.2 4h0M25.6 .1h0M-4.7 -21.1h0M20.6 -17.7h0M-3.4 -.9h0M-14.6 19.3h0M12.1 -25.3h0M28.2 -10.8h0M-11.8 -32.1h0M20.5 -11h0M-25.3 -14.7h0M7.9 -9.2h0M-29.8 -5.8h0M-2.8 9h0M-23.8 14.2h0M-17.3 17.2h0M-2.6 11.8h0M-27.6 -21.5h0M-18.8 -18.5h0M6.6 3.2h0M25.9 -25.7h0M-7.4 28h0M17.9 24.9h0M13.8 7.7h0M23 6.9h0M-16.5 -12.3h0M-3.8 23.4h0M15.3 31.8h0M-8.8 23.1h0M-14.8 23.8h0M3 5.2h0M-17.9 28.2h0M-13.4 -23.1h0M27.1 22h0M20.2 -6.2h0M-21.4 22h0M27.1 6.4h0M-17.8 -1.5h0M-31 8.5h0M-.6 19.6h0M16.7 .9h0M10 24.2h0M-21.2 -7.1h0" stroke="#091e20" stroke-width="4.2"/><path d="M-14.1 -13.1h0M-27.9 -13.2h0M-13.3 -17.2h0M-29.3 -15.9h0M-12 -25.6h0M-29.7 .8h0M3.2 -9.2h0M18 -25.3h0M-34.6 -6h0M20.7 -26.5h0M-14.3 -13.7h0M.5 -25.9h0M-11.2 -17.2h0M-12.8 -29.6h0M9.5 -32.8h0M3.8 -29.8h0M1.7 -23h0M-26.4 -1.5h0M-34.8 -8.2h0M-21.3 2.3h0M7.9 -9.5h0M23.1 -24.9h0M-1.5 -10.4h0M20.4 -26.6h0M18.9 -22.5h0M-6 -30.7h0M-11.2 -17.7h0M-34.8 1.6h0M13.8 -15h0M-7.4 -16.1h0M4 -16.9h0M-26 -18.6h0M-27.9 -12.1h0M-24.4 -10.9h0M-12.6 -12.4h0M-23.1 -10.8h0M3.2 -24.2h0M-6.4 -36.1h0M-10.6 -6.4h0M-30 -2.4h0M4.7 -19.2h0M-13.6 -3.9h0M27.9 -17.8h0M-11.9 -25.1h0M-15.3 -14.4h0M18.1 -20.6h0M-31.5 2.9h0M-4.1 -8.1h0M8.8 -22.3h0M6.9 -24.3h0M7.1 -17.8h0M22 -17.7h0M-19 -7.3h0M-9 -12.4h0M-.8 -14.8h0M10.4 -33h0M-27.8 -16.5h0M-29.5 -2.5h0M-17.9 -23.9h0M13.2 -28h0M-21.9 -14.2h0M-27.3 -.7h0M-1.4 -9.7h0M13.4 -23.4h0M3.6 -32.6h0M-12.7 -24.1h0M-18 -11.7h0M13.4 -17.6h0M14.2 -18.1h0M-31.5 -16.5h0M-29.2 -1.6h0M-17.3 -16.7h0M-33 11.2h0M-25.1 -20.2h0M-24 -2.9h0M-4.2 -9.1h0M-32 -5h0M17.8 -21.1h0M-6.2 -30.9h0M-18.7 .3h0M-15.8 -7.8h0M17.5 -18h0M-22.8 -5.7h0M-32.3 -12.3h0M-20.2 -7.4h0M-24.2 -18.6h0M-1.5 -23.9h0M-12.4 -33.5h0M-20.6 -26.5h0M15.3 -29h0M28.2 -20.8h0M-27.7 -19.6h0M17.3 -21.3h0M-33.5 -10.5h0M11.6 -17.5h0M-27.1 -10.5h0M8.9 -8.1h0M-19.8 -27.5h0M-33.9 -6.3h0M1.1 -5.7h0M13.1 -21.5h0M11.2 -34h0M-30.3 -9.5h0M-4.4 -14.6h0M-3.9 -30.7h0M-31.6 -1.2h0M-20.7 -20.1h0M12.2 -5.9h0M-18.7 -27.3h0M4.9 -12.3h0M-28.6 -7.5h0M-2.9 -24.7h0M-31.4 -3.4h0M-19.4 -.9h0M-3.7 -29.1h0M-6.2 -24.1h0M-19.2 -29.1h0M-.4 -18.1h0M-18.2 -3.7h0M-29 -5.4h0M-20.3 -9.7h0M.4 -27.4h0M-4.9 -10.8h0M2 -12.2h0M7.5 -34.7h0M7.5 -29.5h0M-13.2 -27.8h0M-9.9 -31.7h0M-21.8 -14.3h0M-8.6 8.3h0M-.6 -11.8h0M21.9 -19.5h0M-6.7 -31h0M-15.7 -2.2h0M19.3 -19.9h0M-12.6 -29.4h0M-31.3 -1.5h0M14 -20.9h0M-17.4 -16.8h0M-15.6 -20.4h0M10.4 -20.2h0M-13 -29.8h0M-12.8 -21.5h0M-18.1 -21.2h0M-16 -23.7h0M-.9 -25.3h0M-26.5 4.2h0M-15.5 -17.4h0M-23.4 -19.6h0M-26.8 -13.6h0M-18.8 -18.8h0M-22.7 -18.5h0M-24.9 2.1h0M-17.5 -30.6h0M.6 -19.9h0M6.6 -35.2h0M-21.7 -11.9h0M11.2 -29.5h0M-3 -28.3h0M-21.6 -11h0M2 -19.1h0M-.9 -35.5h0M-9.8 -34.9h0M-10.4 1.5h0M-4.9 -26.3h0M-25 -4.3h0M-20.6 -3.4h0M-30.7 2h0M-9.5 -22.9h0M-8.2 -22.8h0" stroke="#114456" stroke-width="3.8"/><path d="M3.9 -22.7h0M26.4 -18.2h0M-.7 -35h0M-25.6 -19.8h0M-2.8 -31.1h0M-2.5 -31.9h0M-16.4 -14.9h0M-29.9 .1h0M-1.9 -16.1h0M2.3 -34.9h0M13.2 -24.9h0M-27 -4.3h0M-3.4 -12.9h0M2 -32.7h0M-6.9 -28.4h0M23.7 -14.9h0M1.4 -16.8h0M-7.2 -34.1h0M16 -15.1h0M11.1 -20.8h0M-16.5 -26.5h0M8.6 -34.3h0M-20.5 -23.9h0M-26.4 -5.5h0M-8.9 -26.9h0M26 -23.6h0M-.1 -22.1h0M-28.3 -16.5h0M-25.9 2.8h0M-4.4 -31.5h0M3.4 -25.2h0M-.6 -25.2h0M-27.3 2.8h0M17.1 -18.7h0M5.2 -4.1h0M6.6 -29h0M-15.7 -28.7h0M-7.8 -14.7h0M-4.1 -30h0M-18.6 -2.6h0M-18.6 -1.8h0M-30.1 -18.4h0M-19.9 -3.3h0M-13.8 -18h0M-8.6 -1.8h0M12.1 -27.4h0M-7.4 -14.1h0M-27.8 15.6h0M16.9 -6.4h0M2.3 -32.5h0M-13 -7.9h0M-10 -28.9h0M-16.1 -23.7h0M-25.8 -3.7h0M-6.5 6.2h0M17.8 -11.7h0M5.1 -34.5h0M7.3 -11.7h0M-16.7 -14.4h0M.2 -20.6h0M-7 1.6h0M-4.3 -35.8h0M-3.1 -22.2h0M-23.8 -11.9h0M-29.5 -11.1h0M15.4 -25.6h0M-7.2 -30.4h0M-12.1 -34.5h0M7.7 -32.8h0M-12.9 -32.6h0M11.7 -25.3h0M-6.8 -17.8h0M-22.1 -19.2h0M-16.9 -30.5h0M6.5 -14.3h0M-27 -17.2h0M-34.3 -.8h0M-32.8 8.5h0M-10.2 -2h0M11 -21.5h0M-3.3 -22.2h0M-17.1 -6.1h0M-23.2 -22.1h0M-22.6 -1.2h0M-26.5 1.7h0M8.5 -17.2h0M-17.5 -9.3h0M7.1 -19.6h0M10.9 -26.6h0M4.2 -26h0" stroke="#165672" stroke-width="3.0"/><path d="M-24.6 20.7h0M23.7 15.9h0M-6.4 14.4h0M9.5 .2h0M-11.3 19.5h0M12.6 3.3h0M-16.4 32.4h0M10.3 7.5h0M7.8 -6.3h0M.1 3.2h0M-16.6 8.9h0M-9.5 -8.4h0M14.3 4.9h0M23.2 13.3h0M23.6 -22.6h0M-17.3 2h0M-20.7 10.1h0M-14.3 20.2h0M-19.2 18h0M-15.2 29h0M32 -12.7h0M20.7 -6.5h0M6.1 12.5h0M7.2 11.6h0M26.7 -5.8h0M28.8 2h0M14.3 27.2h0M-14.8 -9h0M27.4 1.4h0M20 -22.8h0M-2.5 9.7h0M1 22.7h0M1.9 4.5h0M4.5 35.8h0M-20 17.6h0M11 9.3h0M22.6 -8.2h0M-4.5 3.7h0M14.2 -7h0M-12.9 5.3h0M17.8 28.7h0M-22.5 17.6h0M-13.7 7.7h0M-16.5 -4.4h0M22.5 -20.7h0M27.6 15.6h0M12.6 2.6h0M-18.4 -1.3h0M-16.7 14h0M9.8 12.9h0M3.6 20h0M6.3 11.9h0M-5.2 1.5h0M-3.1 33.8h0M23.8 -20.5h0M1.2 24.7h0M-24.6 -3.2h0M28.1 10.6h0M16.5 8.1h0M-23 24.6h0M-2.8 32.1h0M-19.3 30.3h0M3.6 4h0M12.2 19h0M8.8 9.3h0M19.2 8.1h0M-15.1 6.1h0M20.7 -19.6h0M-19.1 8.2h0M-13.6 23.2h0M30.4 14.3h0M13.5 -17.6h0M-.3 -6.6h0M11.8 -3.6h0M16.1 19.3h0M-25 7.2h0M10.6 19.8h0M8.5 11.3h0M-7.1 -7.2h0M-11.1 8.7h0M-6.6 34.6h0M24.1 -8.2h0M23.6 12.8h0M16.3 -25.3h0M21 6.1h0M11.4 -4.9h0M28 -14.9h0M-20.4 19.6h0M12.2 -10.5h0M22.6 3h0M22.1 12.8h0M11 -8.3h0M-.5 9.2h0M-20.5 24.7h0M-13 31.5h0M1.8 6.5h0M26.9 3.6h0M-25.2 10.1h0M17.9 -18.7h0M19.6 16.6h0M-7.5 2.4h0M24.8 -7.3h0M5.7 -7.3h0M9.1 4.9h0M8.3 -1.5h0M-15.5 10.2h0M-3.9 -5.5h0M29.6 -17.1h0M22.7 -4.4h0M33.7 .7h0M27.5 -5.6h0M-5.8 33.2h0M-28.4 13h0M-3.1 3.4h0M7.7 -16.7h0M-30.4 1.8h0M-27.2 15.9h0M1.6 -17.4h0M2.8 23.7h0M-2.1 25.9h0M18.8 26.5h0M-24 12.2h0M19.6 16.4h0M18 19.3h0M15.6 -26.6h0M8 27.1h0M27 -10h0M8.3 19.7h0M15.7 -6.3h0M2.4 4.7h0M-12.8 10h0M.8 -17.5h0M21.1 -7.2h0M-15.8 15.7h0M6.6 18.8h0M13.9 -8.2h0M.8 8.6h0M29.8 11.5h0M17.7 10.2h0M5.1 4.8h0M-22.3 4.6h0M-4.6 .1h0M9.6 -10.2h0M3.8 18h0M20.5 .6h0M22.2 -5.5h0M-.6 28.8h0M16.7 -26.4h0M-3.8 14.8h0M20 -15.7h0M10.2 .8h0M8.5 18.4h0M-23.9 14.5h0M-3.6 29.6h0M18.7 -24.1h0M3.1 33.4h0M32.8 7.8h0M.6 -8.3h0M-30.5 6.8h0M-13 19.2h0M11 22.9h0M12.4 -12.4h0M-1.8 35.9h0M8.3 34.7h0M-14.6 21.3h0M12.7 19.2h0M28.7 -3.5h0M27 -7.2h0M28.1 -16.2h0M-.6 17.4h0M30.3 18.1h0M12.2 24.1h0M20.3 9.6h0M-17.3 25.4h0M-20.1 22.8h0M-25.6 14.5h0M19.2 21h0M26.2 -10.9h0M11.3 34.7h0M-30.2 15.9h0M12.2 13.6h0M6.5 1.8h0M-8.9 27.3h0M7.7 27.9h0M-3.3 -7.4h0M-26 2.6h0M10.3 8.4h0M13.5 23.9h0M20.5 -3.9h0M19 -18.5h0M20.3 9.3h0M-10.5 10.1h0M-6.2 26h0M12.3 -20.1h0M8.7 29.2h0M19.4 10.8h0M28.2 5.4h0M20.6 -4.4h0M-3.7 8.3h0M17.4 16h0M11 -.2h0M28.7 8.6h0M-19.4 30.1h0M-12.1 10h0M12 4.1h0M-2.5 31h0M7.6 -11.2h0M6 19.4h0M-3.8 16.8h0M-.1 13.6h0M-14.8 -.9h0M-19.8 26.7h0M-3.5 -2.2h0M24.2 22.1h0M-11.9 28.2h0M15.2 -11.7h0M14.3 14.6h0M11.5 25.9h0M-26.3 11.2h0M-7.1 31.9h0M-17.6 31.6h0M-30.3 -1.8h0M3.8 22.6h0M-5.8 15.7h0M-2.3 -2.8h0M16.1 -7.6h0M31.2 -17.4h0M28.2 -2.8h0M24.9 -8.6h0M17.3 -4.3h0" stroke="#10462e" stroke-width="3.8"/><path d="M.8 -3.2h0M15 -5h0M20.5 -20.5h0M-3.8 22.2h0M22.3 -11.7h0M26.7 4.7h0M-15.2 16.6h0M10.2 -6.2h0M-5.9 13.7h0M-15.9 9.2h0M-5.7 30.8h0M8 16.3h0M-10 8.2h0M-27.2 7.3h0M19.4 -23.1h0M-6.1 21.9h0M0 11.9h0M-5.1 3.5h0M10.8 -12.7h0M13.6 2.5h0M16.8 -11h0M-8.3 2.2h0M13.7 -28.6h0M24.5 -7.8h0M-15.3 -12.8h0M31.1 2.4h0M2.9 19.1h0M5.8 14.4h0M11.3 9.6h0M-23 5.7h0M-3.2 -9.2h0M6.9 1.6h0M7.6 1.9h0M-26.8 8.3h0M-1.7 34h0M11.4 -1.9h0M9.7 4.7h0M23.8 -12.3h0M-1.8 8.9h0M.7 -1.9h0M17 22.4h0M-16.6 6.4h0M-16.7 18.4h0M21 27.1h0M-4.2 -17.9h0M23.7 9.9h0M22.8 -13h0M.1 -13.1h0M27.8 -9.4h0M-7.6 4.2h0M1.2 9.5h0M28.4 19.6h0M8.2 30.8h0M4.4 29.2h0M-8.7 19.8h0M10 21.4h0M-18.5 -5.7h0M15.8 -20.1h0M12.2 -15.4h0M-12.2 26.8h0M-3.4 7.2h0M30.4 9.1h0M2.1 9.5h0M-30.8 13.6h0M-14 17.1h0M-13.4 22.7h0M-1 3.2h0M-27.6 11.7h0M-5.8 20.7h0M-20.9 20.6h0M3.1 32.3h0M14.6 -20.3h0M-15.7 23.5h0M1.8 -.9h0M14.5 19.4h0M11.4 -29.2h0M21.7 -13.7h0M4.1 27.9h0M23.4 -4.6h0M29.4 15.3h0M25.9 -15.2h0M3.2 11.7h0M-5.5 32.8h0M23.7 21.1h0M-12.4 33.5h0M-.9 13.6h0M23.1 8h0M29.5 7h0M31.8 -10.3h0M-.8 33.9h0M2.3 -11.1h0M11.5 -.6h0M31.2 12.2h0M-3.4 25.4h0M23.1 17.2h0M-24.6 13.1h0M-4.7 6.4h0M27.6 -4.3h0M21 27.3h0M23.6 9.1h0M30.5 15.1h0M14.8 13.9h0M-.4 1h0M18.2 -2h0M22.6 12.9h0M12 2.7h0M11.8 -21.5h0M-17.8 14.5h0M15.9 -2.9h0M3.2 -4.7h0M18.3 19.4h0M-4.1 21.5h0M23.2 21.2h0M-20.2 23h0M7.9 14.2h0M22.8 -12.7h0M1.6 -6.6h0M23.6 4.4h0M1.9 -9.4h0M-16.1 -13.4h0M-.4 31.3h0M-23.1 21.9h0M-19.5 27.2h0M.8 18.8h0M26.3 20.2h0M17.7 -3.1h0M18.9 11.6h0M28.1 -5h0M16.2 11.7h0M-4.1 -7.2h0M26.2 2.7h0M31.3 8.6h0M4.9 7.6h0M26.9 -6.7h0M-21.8 24.9h0M25.2 2.7h0M27 -19.1h0M9.6 10.8h0M2.2 -3.7h0M9.1 21.6h0M-23 21.3h0M-8.9 24.8h0M-26.1 17h0M10.9 14.8h0M23.5 -17.5h0M17.2 14.1h0M-4.2 -.2h0M21.9 24.3h0M-11.3 15.5h0M28.9 -18.9h0M17.8 29.2h0M7.1 13.2h0M22.6 23.2h0M-16.8 19.1h0M-25.3 6.6h0M-17.6 1.7h0M-2.7 -13.9h0M-7 14h0M-12.8 30.2h0M17.2 3.8h0M-9.2 18.1h0M11.8 9h0M4.3 8.5h0M5.5 28.1h0M-19.5 23.6h0M27.7 -13.3h0M-3.1 1.3h0M15.3 -10.5h0M-9 12.3h0M3.1 24.8h0" stroke="#145434" stroke-width="3.4"/><path d="M25.3 18.5h0M-24.3 23.5h0M28.4 16.4h0M26.5 8.5h0M16.9 -8.6h0M-21.7 -23h0M24.6 -16.1h0M1.1 -31.3h0M-22.2 14h0M17.1 11.7h0M26.9 10.6h0M-27.2 -19.5h0M-7.1 -31h0M-19.5 27.1h0M14.1 -9.8h0M-31.4 6.4h0M5.9 -28.3h0M-34.7 8.6h0M8.2 -20.9h0M30.1 -4h0M30.6 1h0M-30.5 -7.5h0M-6.9 20h0M-22.8 3.6h0M-25.3 19.2h0M13 -3.9h0M-8.1 -34.2h0M-8.9 20.6h0M-3.7 11h0M29.5 13.5h0M2.9 -15.5h0M-24.8 19.2h0M16 18.4h0M-2.9 -32.6h0M30.4 8.7h0M12.6 22.5h0M30.2 -1.8h0M-9.3 35.3h0M-10.1 17.6h0M-26.6 -10.2h0M.1 -30.6h0M-27.6 13.9h0M-24.6 23.3h0M25.8 3.4h0M.2 -21.8h0M12.6 17.3h0M-.9 35.3h0M-3.8 -22.3h0M8.6 -32.1h0M-27.5 2.7h0M30.8 -3.9h0M-30.2 -5.3h0M-25.4 -6.9h0M4.4 1.8h0M7.2 .7h0M-6.2 -23.9h0M26.1 -25.1h0M16 28h0M3.1 17.1h0M5.8 21.4h0" stroke="#091e20" stroke-width="2.8"/><path d="M7.9 27.4h0M-10.7 32h0M-.6 .8h0M-23.5 -1.1h0M9.3 7.5h0M20.4 -4.5h0M23.2 -3.2h0M24.2 3.3h0M7.8 -.3h0M8.5 -9.6h0M-6.9 17.3h0M-15.9 16.3h0M-13.5 14.7h0M11.9 20.2h0M.5 -9.2h0M-8.4 9.7h0M21.3 14h0M4.9 11h0M8.1 -.8h0M-6.2 2.5h0M-25.9 14.7h0M12.2 13.1h0M28.4 5.6h0M2.8 -2.4h0M27.3 -3h0M22.4 -13.2h0M26.2 19.2h0M6.1 12.8h0M2.5 31.6h0M-3.1 14.1h0M-17.3 7h0M-4.2 .7h0M1.4 22h0M-8.6 23.5h0M-14.2 -7.6h0M-7 8.1h0M2.2 2.2h0M25.1 15.2h0M-10.1 -2.9h0M9.6 -18.5h0M10.1 -16.9h0M-.2 -17.5h0M18 22.7h0M13.7 29.8h0M19.9 25.5h0M24.7 -12.2h0M-14.2 30h0M12.5 13.1h0M5.3 7.7h0M29.2 -16.2h0M16.4 23.8h0M31.3 -11.8h0M19.3 17.6h0M-10 26.3h0M28.1 -7.4h0M27 18.1h0M-30.7 4.8h0M12.6 -7h0M20.7 1.9h0M24.1 -8.4h0M30.8 -1.2h0M-11.2 10.1h0M-8.8 17.8h0M-1.8 29.6h0M22.3 -13.3h0" stroke="#1a6436" stroke-width="2.8"/><path d="M1.5 3.7h0M1.8 -.6h0M13.6 21.5h0M-1.2 -16.8h0M-24.2 -21.2h0M11.1 21.3h0M-2 10.1h0M-18 -14.9h0M29.2 -10.2h0M-15.9 -31.1h0M-20.6 -21.9h0M22 -23.5h0M20.5 22.6h0M-12.1 16.6h0M-26.2 7.3h0M27.1 13.6h0M27.3 17.7h0M1.2 -26.8h0M-19.1 16.3h0M-21.6 -2.8h0M-19.2 -5.8h0M32.2 -17.2h0M-26.6 .5h0M1.4 30.7h0M-25.8 .3h0M-29.1 17.5h0M5.3 3.5h0M28.8 19.2h0M23.6 17h0M-18.7 18.6h0M29.3 6.3h0M-1 6.8h0M-3.5 -5.7h0M7 -14h0M18 30.2h0M11.6 -9h0M18.9 -7.5h0M-27.3 14.1h0M-1.1 16.2h0M30.2 -20.8h0M19.8 4.3h0M-18.6 6.5h0M-11.1 -9.8h0M13.8 1.2h0M-20.9 26.2h0M20.7 21.8h0M2.1 -15.6h0M.2 32.4h0M33.1 .5h0M-4 -20.8h0M-22.1 7.7h0M7.1 -6.1h0M19.6 22.8h0M28.8 -15.3h0M28.9 -2.7h0" stroke="#186656" stroke-width="2.6"/></g>
</g>
<g filter="url(#bl)" stroke-linecap="round" fill="none">
<rect x="486" y="41.7" width="363.0" height="272.3" fill="none" stroke="none"/>
<g transform="translate(549.4 150.6)"><path d="M39.9 0L39.7 3.9L40 8L36.9 11.2L37 15.3L34.9 18.7L33.5 22.4L30.9 25.3L29.1 29.1L25.5 31.1L22.7 33.9L18.9 35.4L16.4 39.6L12.3 40.5L8.3 41.9L4.3 43.3L0 42.4L-4.2 42.6L-7.8 39L-11.9 39.2L-15.2 36.7L-19.1 35.7L-22.8 34.1L-26.2 31.9L-27.8 27.8L-31.3 25.7L-32.4 21.6L-34.5 18.4L-36.2 15L-38.3 11.6L-38.8 7.7L-41.5 4.1L-40.1 0L-40.7 -4L-39.3 -7.8L-37.4 -11.3L-36.6 -15.2L-35.5 -19L-34.6 -23.1L-31.6 -26L-29.6 -29.6L-26.7 -32.5L-23 -34.5L-18.7 -35L-15.3 -36.9L-11.6 -38.4L-7.8 -39.2L-4 -40.2L0 -42.1L3.9 -39.6L7.8 -39.4L12.1 -39.8L15.5 -37.5L19.6 -36.6L23.9 -35.8L27.4 -33.4L29.3 -29.3L31.1 -25.5L34.1 -22.8L35 -18.7L36.2 -15L37.3 -11.3L38.6 -7.7L39.3 -3.9Z" fill="#2c4a1c"/><path d="M14 -39.9L15.1 -45L16.8 -44.5M-17.3 -37L-17.2 -40.1L-19 -40.1M-30.6 27.2L-34 30L-35.5 28.9M-2.3 -41.7L1.1 -45.8L2.7 -46.7M1.2 43.6L5.7 48.8L7.1 49.9M-3.9 42.6L.1 47.9L1.8 48.6M-24.2 -33.8L-26.2 -36.5L-25.5 -38.2M-27.5 -31.9L-29.6 -36.3L-31.4 -36.2M30.5 -29.6L32.3 -32.4L33.6 -31.1M-16.2 37.2L-15 41.4L-13.6 42.5M-37.5 16.3L-43 13.9L-43.7 12.2M24 34.2L23 39.3L21.9 40.7M-22.8 -34.6L-28.5 -36.5L-27.8 -38.1M-3 -41.6L-7.3 -44.9L-9.1 -45M-35.4 20.2L-38.3 21.5L-38.6 23.3M-16.5 -37.4L-19.1 -40.3L-20.9 -40.1M-28.5 29.5L-32.4 30.2L-33.7 28.9M-.8 -41.8L-.9 -45.9L.8 -46.5M-6.6 -40.9L-10.2 -42.9L-12 -43M-15.7 37.4L-13.1 41.6L-14.8 41.9M9.6 42.6L13.1 46.9L11.3 47.3M-41.3 6L-43.5 9.1L-44 10.8M18.1 38.3L18.4 44.1L20.2 44.1M-38 -15L-41.1 -19.6L-40.5 -21.4M12.5 41.4L17.4 43.7L15.8 44.6M10.2 -40.8L13.2 -43.9L15 -44.2M-40.7 -4.8L-46.2 -7.9L-46.5 -9.7M19.3 -38.3L22.1 -41.9L23.9 -41.8M23.2 -36.4L29.3 -37.3L28.3 -38.8M21.3 -37.4L25.8 -39.9L27.6 -40M-41 -3.4L-44.2 -7.4L-44.5 -9.2M-40.9 -3.9L-44.2 -1.5L-44.4 -3.3M17.4 -38.9L15.3 -42.8L14.3 -44.3M-38.9 -11.9L-43.3 -14.4L-43.8 -12.7" stroke="#4a6e22" stroke-width="1.3" stroke-linejoin="round"/><path d="M4.3 -44.7h0M14.4 45.9h0M1.5 -46.6h0M38.2 -17.3h0M35.9 -28.7h0M-37 22h0M-41.1 -16.7h0M22.8 38.8h0M40.8 -13.5h0M-36.4 27.7h0M45.6 -4.1h0M42.9 13.2h0M13.8 43.5h0M32.2 -29.3h0M29.3 32.5h0M11.6 44.5h0M-6.6 -44.7h0M25 38.8h0M38.7 -20.1h0M22.1 39.3h0M-8.5 -42.3h0M-35.2 -29.9h0M3.6 45.3h0M6.3 -44.7h0M-40.8 16.5h0M9.9 -45.6h0M-37.4 25h0M45.5 .9h0M44.6 9h0M44.4 -1.3h0M35.1 -29.3h0M40.4 18.6h0M44.9 -.2h0M9.1 45.7h0M31.7 -35.4h0M10.8 47.2h0M-21.9 35.3h0M39.7 -17.4h0M-2.2 -43.2h0M-43.7 -12.8h0M27.5 38.1h0M-33.9 -32.1h0M-16.2 -42.1h0M15.5 44h0M4 45.1h0M-17.5 41.9h0M40 -15.6h0M-32.9 -29.5h0M-11.3 43.6h0M-10 44.7h0M20.7 -40.9h0M-35.1 23.8h0M7.3 48.1h0M-2.8 44.1h0M-3.6 -46h0M29.5 -37.3h0M27.4 35.4h0M-40.9 16.5h0M-12.7 -43.1h0M-12.6 -44.3h0" stroke="#276a2a" stroke-width="2.6"/><path d="M37.8 9.4h0M35.2 22.1h0M-11.3 5.8h0M15.5 12.7h0M-22.7 32.5h0M-1.9 -8.3h0M24 .7h0M-3.3 -28.3h0M28.6 9.4h0M29.7 19.8h0M17.6 31.2h0M14.6 38.1h0M-7.3 35.7h0M-32.3 -15.1h0M20.6 22.2h0M-7.6 19.1h0M25.4 12h0M-16.8 -18h0M12.3 19.6h0M1.7 -36.1h0M7.8 2.2h0M38.8 12h0M-7 17.5h0M1.9 1.9h0M9.1 40.3h0M1.9 -31.7h0M4.4 2.4h0M20.6 -12.5h0M-26.9 -13.9h0M15 4.8h0M1 27.9h0M6.5 -19.7h0M17.6 -15.3h0M9.1 -10.6h0M-31.5 23.1h0M41.6 1h0M7.7 -34.5h0M-16.2 17.1h0M5.6 5.1h0M18.5 21.8h0M28.8 -28.2h0M1.2 -6.3h0M4.1 31.7h0M37.8 -3.5h0M29.1 7.2h0M-30.3 -5.8h0M-19.3 -9.2h0M-7.5 .9h0M-37.8 6.8h0M-26.9 -30.2h0M25.2 13.3h0M-4.9 32.3h0M7.6 -36.6h0M23.1 -33.8h0M-10.8 21.1h0M-34.6 2.3h0M-12 -24.6h0M-29.3 15.3h0M9.6 21.9h0M-13.7 -34.5h0" stroke="#18300f" stroke-width="4.2"/><path d="M-5.8 30.5h0M-18.9 .5h0M30.1 29.1h0M-32.9 -16.2h0M-5.8 -38.5h0M-27.4 14.8h0M-35.1 -9.2h0M-4.4 22.5h0M19.4 -1.1h0M-36.5 1h0M27.1 -2.7h0M9.9 22.3h0M29.1 -8h0M7.4 -30.3h0M-.2 9.2h0M-25.6 23.6h0M-38.5 -9h0M6 -26h0M-9.4 -40.7h0M16.6 8.4h0M37.5 4.4h0M14.2 -11.3h0M23.9 -9.7h0M-36.4 8.2h0M-33.7 24.3h0M16.6 -24.4h0M22.6 -.7h0M-33.1 2.9h0M36.3 -5.7h0M14.8 -33.9h0M26.9 24.2h0M-14.2 -9.7h0M-40.5 -3.3h0M39.6 3.7h0M16.9 -19.4h0M31.9 1.5h0M20.8 -26.6h0M1.9 20.9h0M32.7 -22.3h0M8.4 -7.3h0M-34.9 -17.5h0M-19 10h0M29.7 -10.5h0M27.7 14.6h0M27.1 -13.1h0M28.8 3.4h0M35.7 6h0M6.2 -28.8h0M28.3 6.7h0M-7.1 4.7h0M2.1 -5.4h0M9.5 -11.1h0M11.7 -9.1h0M-3 2.1h0M5.5 14.6h0M-31.7 24.5h0M-4.6 -9.9h0M-8.8 -19.4h0M-14.9 -27.8h0M27.3 -16.8h0M13.6 -14.6h0M-3.4 -25.6h0M4.8 25.1h0M7.9 23.8h0M9.1 -32.5h0M8.8 20.5h0M9.9 -40.4h0M-13.4 -27h0M27.5 -24.1h0M.8 26.8h0M12.3 -23.2h0M-23.8 -3.4h0M19.2 -13.2h0M18.2 6.5h0M35.2 19.4h0M27.8 -2.7h0M31.2 -4.4h0M-14.3 30.1h0M18.4 -7h0M14.9 8.6h0M27.1 7.5h0M27.6 -4.5h0M29.8 15.5h0M33.7 23.4h0M-24.6 -12.9h0M-1 -42.6h0M-7.1 -12.8h0M-11 35.2h0M-31.4 -10.1h0M-7.3 -30.6h0M-14.4 -23h0M21.1 -5.7h0M28.4 -12.7h0M1.1 -12.6h0M10.7 2.4h0M12.2 -32.5h0M25 26.8h0M-14.7 -25h0M3 36.1h0M-7.2 7.3h0M-7.9 26.7h0M20 9.1h0M10.5 8.9h0M-.6 42.5h0M31.2 -9h0M35 -15h0M-20.2 11.8h0M9.5 10.7h0M13 -12.5h0M-37.9 -11.4h0M-16.2 26h0M7.1 25.2h0M-5.1 -10.7h0M-24 17.8h0M-20.9 6.2h0M30.1 7.4h0M8.2 28.6h0M-27.3 21h0M-19.8 25.9h0M-33.2 19.5h0M22.1 -25.5h0M15.3 -22.1h0M15.7 14.9h0M21.8 -30.7h0M-36.1 -5.9h0M11.3 30.8h0M31.9 -5.1h0M-.2 32.7h0M-27.5 21.3h0M35.1 -7.6h0M31.4 4.7h0M6.7 -40.2h0M2 -28.1h0M11.1 -.7h0M40.5 -2.9h0M19.6 -7.8h0M2.3 -24.9h0M19.2 -13.1h0M.7 -16.7h0M.5 42h0M2.2 11h0M-19.2 -27.8h0M31 17.2h0M15.5 13.4h0M-21.8 -19.9h0M21.4 -16h0M15.9 28.7h0M-20.2 28.1h0M-34.9 -1.2h0M-6.6 15h0M-4.4 37.8h0M-21.6 -15.9h0M-6.3 35.6h0M38.6 12.3h0M22.1 -11.5h0M14 -29.6h0M-34.2 -2.2h0M7.2 39.7h0M-28.7 16.3h0M20.9 -11.9h0M13.1 -33.2h0M26.6 -15.8h0M18.8 8.9h0M-31.5 -18.2h0M-15 30.2h0M-20.6 -16h0M13 -29.5h0M3.2 27.7h0M17.2 27.4h0M3.5 30.8h0M22 -7.1h0M3.6 -14.6h0M4.3 -10.5h0M25.4 15.1h0M30 16.1h0M8.3 -30.6h0M-2 -23.5h0M-25.1 -21.4h0M-17.6 -20.4h0M8.7 -32.7h0M5.2 -5.7h0M-19.6 -18.2h0M11.3 -10.5h0M-8.1 24h0M-40.9 9.7h0M21.8 -34.2h0M-26.9 12.5h0M9.6 10.1h0M-12.6 -5.2h0M-30 4.3h0M33.6 16.6h0M-8.2 2.5h0M-29.9 11h0M15.9 -15.1h0M34.2 7.6h0M2.9 -6.8h0M-6.5 40h0M17.8 -7.2h0M-20.8 -26.4h0M-13.1 -9.6h0" stroke="#4a6e22" stroke-width="4.2"/><path d="M-12.5 -36.1h0M33.5 -25.8h0M-19.2 -33.2h0M28.3 1.1h0M-34.7 -11.3h0M-39.9 -2.7h0M34.9 9.9h0M-21.4 22h0M-26.1 -29.6h0M-30.6 13.8h0M-23.3 16.7h0M-11.2 -25.7h0M35.1 -6.7h0M-18.9 -35.5h0M-.7 39h0M-8.2 -36.4h0M22.9 -32.5h0M-31.5 -1.2h0M17.7 -38.6h0M-19.9 25.6h0M-15.9 34.7h0M20.6 25.1h0M-5.3 32.7h0M6.7 41.1h0M-12.9 -32.3h0M-25.2 -29.1h0M.9 42.2h0M-37.3 -.4h0M37.5 13.3h0M-14.3 -33.7h0M-17.4 -36.8h0M28.5 10.1h0M-30.2 25.1h0M-6.4 -40.2h0M23.7 -29.6h0M-6.1 32.6h0M24.5 -29.1h0M4.7 -33.2h0M-16.7 -37.3h0M35.8 -17.3h0M26.1 -35.4h0M22.2 29.9h0M-3.9 -26.5h0M-34.2 11.2h0M25 30.7h0M-39.4 -.9h0M28.2 16.5h0M-7.7 40.6h0M-2.5 -34.8h0M39.8 -10h0M-24.8 -1.5h0M29.6 15.3h0M34.6 -15.3h0M-38.4 -15.1h0M29.5 28.3h0M.3 -40.9h0M-18.2 -36.9h0M30.8 16.6h0M-28.8 29.2h0M-34.3 -14.7h0M15.2 -34.8h0M-36.2 -13.3h0M-35.6 -1.2h0M-11.8 37.6h0M-25.3 -31.6h0M-11.8 39.8h0M-35.3 -10h0M34.8 8.5h0M-5 -26.4h0M38.4 -1.1h0M10.2 -30.7h0M32.5 6.6h0M25.9 -14.9h0M-12.6 -34.2h0M-6.6 -27.4h0M-10.3 38.5h0M23.7 27.2h0M34 5.2h0M-16.1 38.1h0M-34 -26.3h0M38.2 6.1h0M11.3 28.5h0M41.2 -5.1h0M2.9 44.4h0M-28.9 22.3h0M10.1 39.8h0M16.5 34.1h0M27.8 31.2h0M-30.2 -6.7h0M19 38h0M4.7 39.1h0M-15.6 29h0M12.9 -38.2h0M35.5 15.3h0M-26.9 24.6h0M-34.8 -1.4h0M37.9 -6.4h0M10.4 42.5h0M1 41.8h0M3.5 40.1h0M24.9 -10.5h0M-29.2 -25.2h0M25.3 1.3h0M-1.7 38.5h0M-17.4 37h0M-26.2 25.9h0M28.1 -1.1h0M33.3 -15h0M-9.8 21.4h0M-14.3 24.9h0M-28 -1h0M-8.7 -35.9h0M17 -34.2h0M10.5 34.9h0M30.8 -12.4h0M36.2 10.5h0M29.1 -19.7h0M8.6 41.7h0M19.8 -24.4h0M-13 -23.6h0M34.9 -2.6h0M18.2 -37.6h0M-33.5 4.9h0M27.3 -5.4h0M27.6 -20.8h0M-6.8 -25.2h0M4 -37.9h0M30.1 -29.5h0M31.4 9.9h0M-17.7 23.2h0" stroke="#276a2a" stroke-width="4.0"/><path d="M22.8 12.1h0M-15.1 6.4h0M-20.3 15.3h0M24 24.1h0M7.9 -25.2h0M16.7 9h0M-9.7 18h0M17.4 25.1h0M-9.7 -28.1h0M17.3 13.7h0M35.7 -4.5h0M-30 -23.3h0M18.4 33.4h0M1.2 -21.1h0M-31.7 -11.2h0M-28.3 -.2h0M-8.5 -11.6h0M-16.4 9.2h0M11.3 -36.3h0M-16.7 11.8h0M-13.6 -33.4h0M-21.8 -31.9h0M-.6 -6.8h0M-2.8 14.4h0M20.6 -4.9h0M23.7 -34.5h0M-1 -40.6h0M-12.7 20h0M-31.6 15.7h0M22.5 22.8h0M8.5 -34.6h0M20.9 1.6h0M-22.1 -12.2h0M8.7 33.8h0M31.9 -5.9h0M-23.6 15h0M-39.4 8.7h0M4.9 34.4h0M8.9 -2.5h0M37.7 1.9h0M-15.2 17.6h0M10.6 38.4h0M-20.6 8.3h0M14.9 35.1h0M.9 12.7h0M14 38.9h0M-36.9 15.1h0M25.2 -4.4h0M17.7 -15.9h0M8.6 36.1h0M-33.2 19.7h0M8.9 -30.9h0M-22.6 -12.3h0M-1.3 29.6h0M-33.6 21h0M-11.5 31.7h0M17.5 -9.5h0M37.8 2.6h0M-17.3 1.2h0M2.3 -4.7h0M-15.5 -20.1h0M16.8 -.7h0M4.9 -3.1h0M-37.6 -10.1h0M-6 38.7h0M-8.4 3.2h0M-1.4 -5.4h0M8.8 14.5h0M-33.4 10.6h0M-36.5 -2.3h0M-17.8 -4.7h0M11.4 25.5h0M-14.2 17.8h0M31.1 17.4h0M26 -4.5h0M-1.1 4.1h0M13.4 37.6h0M-1.2 23.7h0M7.5 -33.1h0M16.7 22.6h0M17.4 7.8h0M9 20.9h0M-14.4 -29.4h0M-27.4 -7.3h0M-3.3 -28.9h0M30.3 -11.3h0M-17.8 29.1h0M14.7 -2h0M27 .6h0M27 21.2h0M18.1 1.6h0M19.3 34.3h0M-35.3 9h0M-1.5 -23.8h0M-23 18.3h0M-.4 4.2h0M-26.2 -24.3h0M14.6 33.3h0M-8.1 14.6h0M-29.3 13.8h0M27.6 -32.1h0M-26.1 11.4h0M15.7 -26.9h0M37.6 8.7h0M-3.3 29.6h0M25.3 7.9h0M10.8 -3.4h0M20.2 -13.1h0M-17.4 -7.7h0M-23.8 11.9h0M4.3 12.5h0M-27.6 1.9h0M35 -12.7h0M26.7 -7.4h0M-25.8 -24.6h0M25.4 -3.8h0M-35.8 -10h0M13.4 26.8h0M34.1 -19.1h0M-17.3 14.5h0M-22 4.7h0M4.6 39.2h0M-25.8 11.2h0M25.4 -10.6h0M33.9 20.7h0M9.7 -12.9h0M21.8 32.6h0M5.8 9h0M-7.4 -36h0M16.9 -21.6h0M-35.1 8.7h0M9.4 13.4h0M19.9 -34.9h0M-13.9 -24.3h0M35.9 3.5h0M19.8 21.2h0M1.3 -7.7h0M20.3 -7.6h0M30.6 12h0M27.2 -16.5h0M4.2 -3.3h0M-4.5 24.1h0M-24.9 -13.4h0M6.6 21.2h0M-14.3 -17.2h0M22 22.2h0M-16.3 3.6h0M-.5 -25h0M-22.9 -4.4h0M-14.8 3.6h0M30.7 6.4h0M13 38.9h0M11.3 -6.4h0M-29.1 -.2h0M-9.7 23.6h0M27.8 10.9h0M7.8 .5h0M26.5 10h0M-23.6 25.2h0M-.2 36h0M-9.5 -13.2h0M-16.4 -16h0M33 1.5h0M-27 -3.7h0M-.8 -11.1h0M-10.8 12.4h0M9.8 1.1h0M-14.4 -2.5h0M28.3 17.4h0M-19.9 -29.2h0M20.8 19.1h0M-10 25.5h0M7.7 32.6h0M20.1 12.9h0M14.5 33h0M-21.3 8.1h0M-18.9 13.3h0M18 5.1h0M-27.7 20.5h0M23.6 27.1h0" stroke="#7e8a22" stroke-width="3.8"/><path d="M-16 36.7h0M-21.3 23.6h0M-34.6 -11.9h0M-36.3 11.4h0M-9.3 -37.5h0M26.7 9.8h0M-1.7 17.5h0M-14.8 5.4h0M2 -7.4h0M2.2 -.5h0M-15.6 25.4h0M-4 -24.6h0M26 -1.7h0M31.9 -18.4h0M-5 -27h0M-16.4 -26h0M-33.8 11.2h0M20.1 -16h0M-15.8 -4.6h0M31.4 -.7h0M-6.5 -40.6h0M33.3 -15.8h0M3.8 -29.7h0M7.8 32.3h0M-19.5 -8.1h0M-4.9 10.5h0M16 14.4h0M10.5 13.1h0M39.5 -4.7h0M-22.2 31.5h0M-16.7 33.3h0M-13.2 27.4h0M-34.8 2.5h0M-7.4 -24.7h0M3.1 26.3h0M6 33.1h0M7.3 -39.3h0M21.5 26.6h0M12 4.2h0M9.9 8.9h0M29.8 -1.8h0M-38.6 1.2h0M29.5 21.7h0M31.1 -8.9h0M4.9 18.6h0M-26.7 -25h0M10.1 27.3h0M-33.6 13.9h0M13.8 13.8h0M4.4 .6h0" stroke="#18300f" stroke-width="3.0"/><path d="M1.9 36.5h0M33.6 14.1h0M-8 11.2h0M2.8 -29.3h0M15 26.5h0M-22.2 -9.6h0M4.1 -1.6h0M9.5 -9.9h0M-25.5 4.2h0M13 3.1h0M5.4 -30.1h0M-21.9 25.6h0M-32.5 16.4h0M-5.7 8.6h0M1.3 -9h0M-11.7 7.9h0M-3.6 -7.9h0M-24.2 -29.8h0M14.9 1.9h0M7.5 40.6h0M15 -8.7h0M5.1 -20.8h0M1.9 -7.6h0M-29 -24.3h0M-3.6 23.6h0M-11.2 -5.4h0M5 4.4h0M-15 7.9h0M-31.3 11.1h0M-18.5 33h0M-1.4 -29.9h0M29.5 -16.9h0M30 -1.4h0M.7 37.2h0M16 19.9h0M-6.4 16h0M4.9 25.9h0M-6.2 -22.6h0M17.9 26.5h0M-29 -26.1h0M36.3 -4.9h0M13.6 -5.3h0M30.9 15.2h0M1.2 -2.2h0M-31.4 11h0M-32 -15.8h0M-9.9 22.5h0M8 5.3h0M4.7 7.4h0M-13.8 -4.9h0M-1 -11.2h0M4.5 -11.2h0M2 -32.3h0M10 12.9h0M-.5 .4h0M7.4 31.4h0M-2.1 -28.1h0M10.7 28.4h0M1.4 2.1h0M-11.9 -13.8h0M-12.9 15.4h0M.4 -35.2h0M25.7 -29.4h0M-5.9 37.8h0M17.3 -23.7h0M23.1 -7.9h0M-7.1 5.3h0M-14.5 -12.5h0M15.3 23.9h0M-14.6 -30.9h0M4.5 -6.1h0M28.4 -.4h0M-3 -9.9h0M13.1 21.7h0M-25.9 -4.4h0M36.4 1.9h0M7.3 -30h0M-.2 -3.5h0M16.5 8.2h0M-14.2 14.6h0M-17.2 -13.6h0M-15.5 -13.7h0M-5.2 -16.8h0M6.5 -13.5h0M7.4 14.4h0M27.2 1.8h0M-19 21.2h0M-15.4 -14.3h0M-30 -21h0M1.4 23.9h0M-8.7 34.7h0M-9.1 -31.7h0M-21.1 -6.7h0M23.2 -29.1h0M20.7 4.9h0M-23.7 -28.9h0M5.7 6.3h0M-29.4 11.6h0M23.2 -25.1h0M-13.7 22.8h0M18.9 15.1h0M-3.2 -20.5h0M.7 -15.1h0M-12.8 -.1h0M19.2 -20.3h0M26.5 .3h0M7.9 20h0M-13.8 -28.1h0M-31.6 -19.2h0M-14.5 31.3h0M30.8 -23.1h0M17.1 -24.6h0M23.4 -31.8h0M31.4 9.4h0M-10.3 -29h0M18 -20.2h0M4.2 26.2h0M-34.5 4.6h0M.1 -5.1h0M-4 -1.7h0M28.5 -21h0M-28.2 12.5h0M-19.9 -12.9h0M-22.8 -19.6h0M12 39.1h0M-.3 -4.6h0M-9.4 29.2h0M28.6 -15h0M13.3 -16.9h0M0 -18.3h0M11.7 -1.3h0M13.1 33.7h0M15.1 1h0M-14 27.1h0M6.6 40.5h0M-.2 -16.8h0M1.2 -25.5h0M9.4 1.7h0M31.6 -1h0M-18.1 28.8h0M16 5.6h0M-8 -2.5h0M-16.1 -16.5h0M27.1 11.1h0M-21.9 26.8h0M19.9 .2h0M-6.1 8.6h0M36.8 .9h0M23.9 20.9h0M4.2 37.9h0M-4.6 -19.7h0M26.5 8h0M26.1 -15.7h0M10.5 -4.7h0M-31.8 -6.1h0M30.1 14h0M31.8 6.3h0M-11.3 -3.9h0M-17.2 25.6h0M-11.3 31.6h0" stroke="#c4b226" stroke-width="3.3"/><path d="M23.5 4.8h0M-23.4 12.4h0M-20.5 -24.3h0M-29.9 -12.3h0M6.1 -19h0M-8.5 -23.1h0M-13 28h0M-18.8 15.7h0M-27.3 -14.5h0M-28.6 6.9h0M-17.3 -9.1h0M-3.6 -27.9h0M10.3 -29.2h0M-21.8 -1.8h0M-5 -6.5h0M2.2 -12.5h0M1.2 20.4h0M-6.7 -29.3h0M-13.1 2.4h0M6 16.7h0M28.5 5.7h0M9.8 -15.7h0M5.4 23.1h0M24.6 23.3h0M-1.1 24.8h0M12.1 -20.5h0M-6.1 21.5h0M16.6 30.2h0M7.4 3.6h0M-28.7 8.2h0M-5.4 -15.7h0M-12.9 -21.9h0M21.9 5.5h0M6.5 31.8h0M13.3 -11.8h0M10.1 -12.4h0M-25 1.6h0M-7 -7.7h0M-21.2 14.7h0M31.9 -10.3h0M.4 -4.6h0M12 27.8h0M6.3 -14.1h0M-13.1 7.2h0M-6.3 -.2h0M-30 -9.2h0M-32.1 6.1h0M4 5.9h0M12.2 1.5h0M15.8 -29.5h0M-33.7 .8h0M21.4 1.7h0M-14.5 -17.6h0M23.2 7.4h0M8.2 .1h0M.4 -9.5h0M-22.6 -20h0M-23 5h0M-4.8 7.1h0M.3 12.8h0M29.1 -20.7h0M-.4 4.1h0M14.5 11.6h0M-5.7 -9.5h0M20.5 -7h0M-25.7 -.8h0M-2.5 1.4h0M30.6 1.9h0M-8.7 6.8h0M3 22.9h0M-16.3 5.8h0M-12 19.5h0M-.3 14.7h0M1.6 -6.9h0M-12 -33h0M8.5 -5.8h0M-11 -12.4h0M-23.2 26.3h0M.8 30.1h0M-18 -12.2h0M3 .8h0M11.5 -17.7h0M21.8 26.9h0M-8.3 -15.4h0M-2.4 1.3h0M12.8 -1.3h0M4.9 -33.7h0M-10.6 -29.8h0M4.4 8.8h0M13.3 -17.1h0M-33.9 7.5h0M1.5 23h0M-31 5.7h0M12.3 -14.2h0M10.9 3.2h0M10.9 .8h0M-19.9 -28.4h0M-6.5 -12h0M16.7 -17.8h0M-7.6 -22h0M6 5.6h0M29.6 18.7h0M-12.5 -17.2h0M-29 -3.8h0M-10.5 1.7h0M-26.5 19.5h0M14.2 -25.8h0M.1 35.1h0M-21.6 17.3h0M13.7 4.5h0" stroke="#e08c20" stroke-width="3.0"/><path d="M-15.5 11.7h0M19.7 -12.4h0M-10.8 22h0M2.3 -8h0M6.8 2h0M21 3.4h0M7.1 -3.4h0M20.4 -9.1h0M20 -2.6h0M19.7 20h0M2.9 -6.9h0M22.3 -19.5h0M8.3 6.5h0M.6 6.6h0M-23.4 -12.1h0M-21.7 19.5h0M-25.3 2h0M-13.6 -8.9h0M.7 -10.8h0M-2.1 5.9h0M11.6 -3.3h0M2.4 -28.5h0M10.6 3.8h0M-20 -2.6h0M-.3 -6.7h0M-3.1 -5.5h0M13.8 22h0M-11.1 -9.7h0M9.4 6.9h0M-18.5 19.3h0M6.7 -8.5h0M-12.7 -12.3h0M3.8 -17h0M-8 21.3h0M.3 .9h0M-.5 -1.4h0M-1.3 -22.2h0M.7 -.4h0M-12.8 -6.2h0M20.7 -3.9h0M12.5 27.9h0M-7.2 -25.4h0M21 .2h0M19.1 -15.3h0M-18.3 -17.1h0M11.2 -1.8h0M5.5 -18.4h0M-21.5 12.8h0M-11.9 -17.8h0M-13.7 4.1h0" stroke="#dc5a1e" stroke-width="2.4"/><path d="M-27.7 -3h0M-8 10h0M19.4 6.8h0M-30.7 1.4h0M-18.5 15.8h0M4.9 5.3h0M4.1 -27.4h0M8.9 -9.9h0M-23.3 16.1h0M-12.2 3.1h0M4.2 21.7h0M-26 -12.6h0M-12.9 -36.1h0M6.1 35.4h0M-12.3 -25.5h0M-23.6 -29.2h0M8.4 33.3h0M12.5 10.9h0M-27.7 -16.4h0M-11.8 35h0M-8.4 18.6h0M-3.9 34.6h0M-8 34.3h0M32.3 -23.4h0M-10.7 -15.9h0M12.2 -30h0M29 -1.8h0M-3.8 8.9h0M-20.8 -9.9h0M8.3 6.2h0M29.6 -16h0M-28.2 12.9h0M26.1 26.3h0M5.5 38.9h0M-28.4 -29.5h0M-26.7 19.3h0M-24.4 -16.1h0M19.4 -27h0M16.3 21h0M-37.3 -6.1h0M23.1 21.3h0M16.8 4.5h0M-25.5 -11.1h0M-15.9 -20.2h0M-.2 -27.8h0M23.9 -27.3h0M-19.6 11.7h0M-12.6 25.8h0M10 -25.7h0M-4.9 -38.7h0M12.3 32.2h0M-6.3 23h0M8.9 -30.7h0M14.4 39.8h0M-4.7 -20.6h0" stroke="#18300f" stroke-width="2.6"/><path d="M-12.8 7h0M30.5 5.4h0M-24.3 -12.2h0M17.5 1.7h0M-17.3 -28.2h0M-31.1 -10.8h0M34.3 -4.1h0M18.7 -10.5h0M-39.3 13.2h0M-19.9 -3.8h0M12.5 24.7h0M17.4 12h0M7.4 19.4h0M-8.2 -31.4h0M7 1.3h0M14.3 5.7h0M-12.3 -6.1h0M28.5 14.2h0M-16.5 28.4h0M-14 8h0M-39.5 -4.5h0M35.2 21.2h0M.1 35.8h0M-11.3 21.3h0M31.7 -17h0M11.3 15.7h0M-4.2 -26.7h0M-12.5 -20.5h0M13.4 12.6h0M11.2 26h0M-.4 -22h0M6.8 35.9h0M-35.1 -7.8h0M-7.2 5.4h0M12.1 -3.8h0M13.9 41.1h0M-.5 31h0M-9.3 -9.5h0M8 -19.8h0M34.5 21.5h0M27.6 6.2h0M29.6 15.3h0M5.2 -6.7h0M-21.1 21.7h0M-25.2 4.7h0M19.4 13.9h0M20.2 -34.3h0M26.3 28.6h0M18.7 16.2h0M11.5 -8.4h0M-37.6 7.1h0M1 32.2h0M-2.2 -10.9h0M-9.3 -35.9h0M-24.7 27.6h0M37.9 -5.4h0M32.5 -4.9h0M2.9 -20.8h0M-18.3 -36.2h0M34.9 -21.5h0" stroke="#347a2a" stroke-width="2.8"/><path d="M-18.6 4.5h0M-9.2 -22.7h0M-7.1 -14.3h0M-7.2 -11.6h0M-1.5 -12.2h0M3 -30.4h0M-28.3 10.2h0M26.7 -3.1h0M-24.1 -1.5h0M-21.9 16.1h0M21.7 -9.2h0M-7 -9.7h0M22.2 -5.4h0M23.6 16.9h0M22.7 -2.5h0M8.5 22h0M4.7 .2h0M11.9 -22.4h0M-5.1 -15.1h0M16.4 20.4h0M27.5 -12.5h0M-5.2 3.9h0M23.7 6.9h0M-22.2 21.9h0M-28.9 7.3h0M-26.5 -11.1h0M-14.8 -5.5h0M27.1 7h0M.1 22.3h0M12.4 25.8h0M-.8 -2.2h0M4.1 6.9h0M14.7 .4h0M20.2 -22.5h0M3.9 32h0M11.8 6.9h0M3.7 7.9h0M8.4 24.1h0M2 -1.6h0M-4.3 4.5h0M-4.8 19.5h0M15.1 6.2h0M8.7 15h0M2.6 14.8h0M-20.5 15.7h0M-25.3 -17h0M-13.9 14.3h0M28.6 -8.1h0M-.5 -12h0M-21.2 -5.2h0M-26 2.3h0M-20.1 -4.5h0M12.7 18.4h0M2.5 .8h0M-16.3 8.7h0M-3.9 16.6h0M-4.6 -20.6h0M-20.8 -7.8h0M17.7 -26.2h0M15.6 -20.3h0" stroke="#e6cc2e" stroke-width="2.6"/></g>
<g transform="translate(673.5 144.4)"><path d="M39.6 0L39.3 3.9L39.5 7.9L38.4 11.7L34.4 14.2L33 17.6L31.4 21L30.2 24.8L27.7 27.7L25.2 30.7L22.2 33.2L18.5 34.7L15.5 37.4L11.6 38.2L7.6 38.4L4.1 41.4L0 40.9L-3.9 39.7L-7.6 38.4L-11.8 38.8L-14.6 35.2L-18.2 34.1L-21.4 32L-25.2 30.7L-27.8 27.8L-31.2 25.6L-33.5 22.4L-34.8 18.6L-37.7 15.6L-37.7 11.4L-37.9 7.5L-39.8 3.9L-39 0L-39.3 -3.9L-39.5 -7.9L-38 -11.5L-36.7 -15.2L-34.6 -18.5L-33.7 -22.5L-29.9 -24.6L-27.5 -27.5L-24.8 -30.2L-22 -32.9L-17.7 -33.2L-14.4 -34.9L-10.9 -36.1L-7.5 -37.9L-3.8 -38.7L0 -39.8L3.9 -39.4L7.8 -39.3L11.9 -39.3L15.3 -37L19.3 -36L22.1 -33L26.2 -32L29.4 -29.4L31.5 -25.9L34.7 -23.2L36.3 -19.4L37 -15.3L38.6 -11.7L38 -7.6L40.5 -4Z" fill="#2a5222"/><path d="M-29 -28.4L-33.6 -28.2L-35 -27M24.4 32.1L25.9 35.1L27.5 34.3M-38.6 -12.9L-41.5 -13L-43 -12.1M38.5 -12.4L42.7 -11.3L43.8 -9.9M-37.8 16.1L-40 20.5L-41 19M-38.9 11.8L-43 10.3L-43.8 11.8M-35.4 -19.3L-36.7 -22.9L-38.4 -22.3M-36.4 -17.4L-42.7 -17.9L-43.5 -16.3M-39.8 -9.5L-43.2 -9.6L-44.5 -8.3M-39 11.3L-42.8 13.5L-42.5 15.3M40.9 -.4L44 3.7L45.2 2.3M5.1 40.9L4.9 46.7L3.4 47.7M5.3 40.9L8.8 45.2L7.1 45.9M32.1 21.6L37.5 22.2L37.8 23.9M12.6 -39.7L18.3 -43.4L20.1 -43.7M19 -37L18 -41.8L19.7 -42.2M-16.9 35.9L-22.3 39.7L-23.9 38.9M24.6 32L24 36.1L23.5 37.9M-32.3 26.1L-35.8 30.7L-37.5 30M34.1 18.3L36.9 19.3L36.4 21.1M-40.6 -6.1L-46.2 -3.7L-46.2 -5.5M-35.3 -19.4L-41 -19.7L-40.2 -21.4M-40.9 -2.8L-45.9 -3.9L-46.7 -5.5M-18.1 35.3L-22.2 36.5L-23.7 35.5M-24 -32.3L-24.9 -38.1L-26.6 -37.7M2.8 41.2L1.7 45.8L3.5 45.8M-2 41.4L1 46.3L-.8 46.4M-33.2 -23L-34.3 -27.9L-36 -27.4M-8.1 40.1L-7.2 45.9L-9 46.1M-7.8 40.2L-10.2 43.4L-11.8 44.2M7.4 -40.6L8.5 -44.3L10 -45.2M-.5 -39.9L-1.3 -43.2L0 -44.4M-17.7 35.5L-23.6 38.5L-22.3 39.8M24.1 32.5L26 35.6L27.7 35.1" stroke="#4a842a" stroke-width="1.3" stroke-linejoin="round"/><path d="M-31.8 -31.9h0M-28.6 33.2h0M38.6 -25.2h0M-41.1 -14.4h0M-2.1 -42.4h0M-31.8 -30.2h0M17 -43.3h0M-41.9 .9h0M38.6 -23.8h0M-20.6 -35.8h0M26.2 -38.4h0M-40.3 11.5h0M39.5 16.1h0M-3.4 43.1h0M-12.6 -39h0M19.2 40.8h0M37.2 -20.1h0M-34.5 29h0M36.9 -24.5h0M31.7 29.7h0M-37.6 -18.9h0M-14.3 -40.1h0M35.7 22.1h0M37.3 -28.6h0M-39.9 -20.6h0M-31.3 -30h0M41.7 -17.7h0M20 -37.7h0M-42.6 12.2h0M-1.9 -41.3h0M39.8 -17h0M45.4 -5.6h0M-44.3 6.2h0M19.6 41.3h0M35.7 19.5h0M43.5 -13.4h0M-27.2 34.7h0M12.6 42.4h0M5.3 -43.2h0M-12.7 -40.9h0M-36.1 -27.7h0M16.2 42.2h0M-4.1 -41.2h0M41.3 -20.6h0M-4.5 -39.8h0M10.2 -45.1h0M27.6 -37.4h0M-46 .5h0M-42.4 18.2h0M35.7 22.2h0M3.7 -43.7h0M-10.9 42.2h0M44.9 -3.5h0M-7.7 -42.6h0M25.1 32.8h0M-42.5 -16.5h0M26.5 35.6h0M18.7 -41.8h0M43 -1.8h0M-22.9 34.5h0" stroke="#26762e" stroke-width="2.6"/><path d="M-29.2 -11.6h0M-38.5 6.1h0M-38.5 -2.6h0M11.9 -38.8h0M36.5 -20.8h0M-3.3 26.1h0M20.4 -32h0M-40.1 -6.2h0M14.1 5.7h0M-39.4 -3.5h0M14.3 -32.6h0M34.8 15.4h0M21.6 11.3h0M15.7 17.5h0M20.7 32.6h0M8.4 40.2h0M12.7 -32.1h0M-32.9 -20.5h0M-30.4 7.1h0M-30.3 -12.9h0M15.8 -10.5h0M-30.8 13.9h0M10.6 30.3h0M31.6 -6h0M-18.8 -24.2h0M-4.8 12.5h0M-2.2 16.7h0M7.6 -37.2h0M-38.3 13.3h0M-19.9 33.4h0M-21.9 -24.1h0M17.3 -18.1h0M-16.4 32.2h0M22.7 10.3h0M-13.2 25.1h0M.5 -24.3h0M-9.6 -26.3h0M-19.3 -.5h0M28.9 -5.1h0M17.2 -34h0M-29 18.5h0M-9 14.1h0M22.9 4.9h0M17.8 -10.8h0M-10 -22.2h0M24.8 -27.4h0M7.3 4.7h0M-23.9 30h0M.2 2.8h0M33.6 -9.6h0M7.4 32.4h0M6.4 2.6h0M28.3 -14.5h0M20.4 19.3h0M-12.6 -19.4h0M14.2 -35.3h0M-24 -6.7h0M38.3 -12.3h0M23.9 -6.5h0M19.7 22.2h0" stroke="#163616" stroke-width="4.2"/><path d="M7.6 25.4h0M-2 28.5h0M18.4 -2.4h0M28.2 13.7h0M11.4 -31.7h0M-6.3 31.1h0M4 21.2h0M-11.8 32.9h0M-6 28.5h0M-21.1 -.6h0M-8.3 17.4h0M-16.6 15.7h0M.8 -20.1h0M38 13.1h0M-2.6 40.5h0M-37.1 -1.5h0M-6.9 -20.6h0M-26.8 -22.3h0M3.8 7h0M-10.3 -19.4h0M-11.4 -24.6h0M3.9 -14.4h0M3.3 -13.7h0M-3.7 -1h0M-21.9 32.5h0M-26.4 21.6h0M-28.1 -4h0M7.8 -40h0M8.6 37.4h0M-30.4 -19.2h0M-26.4 -11.8h0M31.7 14.1h0M23.8 -17.4h0M11.3 -18.2h0M-13.7 -3.2h0M-4.2 24.2h0M12 23.3h0M17.3 1.1h0M-5.9 2.5h0M14.8 24h0M15.6 20.7h0M-3.6 1.6h0M33.1 -24.9h0M-39.9 10.1h0M15.1 14.2h0M-24 22.6h0M3.1 7.7h0M40.8 6.8h0M-20 28.9h0M17.5 13.9h0M31.4 -5.1h0M24.5 -23.3h0M-2.4 15h0M25.8 18.6h0M-24.1 -6.4h0M-.3 18.5h0M23.9 5.6h0M-32.9 11.8h0M-3.6 21.4h0M23.4 -28.2h0M3.6 14h0M25.4 24.8h0M-24.9 -28.2h0M-13.9 14.5h0M-19.3 16.2h0M-16.6 33.9h0M26.4 15.6h0M-34.1 1.5h0M-15.9 14.2h0M12.5 38.7h0M19 -11.7h0M-17 -17.6h0M-17 -32.7h0M-7.6 -23.4h0M-20.2 35.1h0M-4.3 10h0M7.5 -19.9h0M4.3 40h0M-12.1 32.9h0M-28.7 8.1h0M16 -11.2h0M-24.5 19.1h0M-13.9 -19.2h0M8.7 3.7h0M-13.7 10.8h0M30.5 -25.8h0M7.8 -31.8h0M31.1 -20.2h0M-41.3 -5.8h0M24.8 29.6h0M-30.5 21.6h0M-5.2 34h0M18.3 -22.2h0M33.5 18.4h0M-33.2 25.1h0M-9.8 -20h0M-20.3 -12.6h0M-25.3 -10.8h0M2.9 -2.1h0M2.2 19.3h0M10.5 19.9h0M-33 -22.6h0M5.6 31h0M9.5 -1.6h0M17.6 -24.6h0M-39.2 -11.7h0M-4.8 -14.2h0M.2 -28.4h0M36.6 6.2h0M-21.5 -18h0M15 -2.4h0M-12.1 -36.7h0M38.4 -.9h0M-6 36.9h0M21.6 34.3h0M16.1 4.3h0M16 -13.9h0M.7 17.4h0M3.1 12.6h0M8.6 2h0M22.6 29.5h0M-8.6 -24.6h0M-1.8 41.8h0M-24.7 -7.7h0M-21.5 -13.8h0M-38.1 -3.4h0M-10.4 2.7h0M-24.7 -24.4h0M-23.4 18.3h0M-27.2 -10.7h0M21.7 20.3h0M-32.9 18.3h0M2.5 22.6h0M-7.5 -24.3h0M-25 17.3h0M31 -3h0M9 -27.5h0M-3 -4.7h0M-11 -34.2h0M-9.7 -1.6h0M-24.7 21.5h0M20.9 -26.2h0M26.2 24.5h0M8.8 32.8h0M-19 7.2h0M11.5 -16.2h0M-18.8 -25.6h0M-2.9 -28.2h0M10.8 -5h0M-24.8 27.6h0M-18 21.2h0M-20.9 3.4h0M-38.1 2h0M-2.8 37.2h0M-9.2 -33.3h0M-15.4 .1h0M-4 -23.6h0M6.8 -1.3h0M-8.7 15.4h0M-3.1 -8.1h0M39 -7.4h0M15.3 33.6h0M5.9 -10.7h0M5.9 -34.4h0M23.2 -1.3h0M-4 15.3h0M-34.4 2.6h0M9 7.7h0M-11.5 -29.2h0M23.6 -28.5h0M-20.6 32.8h0M2.7 0h0M-3.6 37.2h0M-3.2 -21.2h0M-3.5 -5.6h0M32 -18.3h0M5.4 -35.8h0M.1 40.3h0M-25 -23h0M-3 -36.2h0M15.6 7.2h0M12.7 -31.6h0M-25 16h0M-35.7 9h0M-28.8 -3.6h0M-10.8 -32.9h0M-9.1 1.2h0M-29.5 -26.9h0M-28.9 -15.7h0M13.5 38.9h0M26.3 -21.9h0M6 36.3h0M-30 -12.6h0M-20.3 30.6h0M18.6 -6.6h0M26.7 -4.1h0M-19.3 26.4h0M-7.7 33h0M.5 30.2h0M-32.5 17.7h0" stroke="#4a842a" stroke-width="4.2"/><path d="M27.2 -31.3h0M-40.3 -5.4h0M-31.7 20.3h0M-10.1 27.9h0M10.5 38.3h0M-26.3 -31.3h0M-22.8 -33.5h0M-7.2 -30.6h0M-26.2 -24.5h0M-30.7 15.7h0M-3.7 39.5h0M18.7 -37.5h0M-20 -28.3h0M-31 26.2h0M-28.4 10.3h0M-24.2 25.7h0M-26.8 27.9h0M11.3 28.4h0M31.4 20.7h0M-7 -28.9h0M20.2 -36.2h0M17.1 21.6h0M40.9 -4.7h0M-35.2 6h0M-31.3 17.9h0M-13.1 -32.3h0M37.9 4.5h0M18 34.8h0M14.1 -26.1h0M-11.3 -32.2h0M25.1 -10h0M23.6 -31h0M-15.5 -33.7h0M3.4 40h0M-1.3 -38.9h0M19.9 27.6h0M-37.4 8.8h0M-13.2 -36.6h0M32.5 21h0M18.1 17.9h0M25.3 -26.5h0M32.2 -11.3h0M-30.2 16.2h0M9.2 -28.2h0M34.2 2.7h0M-19.4 -27.3h0M35.7 5.4h0M-19.1 28.1h0M-31.7 -14.9h0M23.4 26.5h0M-6.2 -38.4h0M-33.5 3.8h0M36.7 4.4h0M25.3 31.3h0M-32.5 -11.2h0M29.4 22.6h0M-31.1 -20.7h0M24.7 -31.2h0M-38.7 10.9h0M25.8 -31.4h0M22.7 -31.3h0M31.1 -12.8h0M15.7 22.4h0M13.6 -34.4h0M-15.4 -34.4h0M-36.9 14.4h0M-9.3 -36.1h0M26.6 11.9h0M36.3 8h0M41.6 1.4h0M18.2 37.3h0M-35.8 2h0M32.8 7.6h0M30.2 10.5h0M11.8 33.2h0M29.6 19.2h0M24.5 -29.3h0M3.2 42h0M2.1 32.1h0M-24.5 -6.2h0M25.9 13.3h0M35.1 -18.3h0M10.9 31.7h0M-36 -10.5h0M-15.6 36.1h0M-10.1 -36.3h0M-29.2 -22.8h0M10.4 26.5h0M35.5 -1.1h0M36.1 -19.4h0M26.8 27.5h0M-36.3 -17.6h0M-25.4 13.9h0M7.4 37.6h0M-4 -28.4h0M-1.2 36.3h0M-9 30.3h0M14.4 -37.1h0M-36.5 3.5h0M-37.4 -13.2h0M24.7 16.5h0M11.4 24.1h0M28.7 21.9h0M3.3 37.3h0M-33.4 2.5h0M10.2 28.9h0M2.3 29.5h0M-4.1 36.7h0M5.1 -34.5h0M28.3 -21.1h0M-27.8 -18.1h0M19.2 27h0M-7.9 -35.9h0M6.7 -36.1h0M-31.8 -17.3h0M-9.3 -31.1h0M18.1 -18.9h0M-8.1 -37h0M-17.3 21.8h0M12.6 -26.2h0M5.6 34.6h0M15.5 -29.8h0M-21.7 -29.8h0M-17.2 31.1h0M-29.4 29.6h0M-23.3 26.1h0M12.6 -27.6h0M21.7 -25.6h0M19.6 -37.2h0M-28.1 18.9h0M27.7 10.6h0M38.6 .8h0M-36.7 -3.4h0M29.7 16.4h0M-9.3 30.9h0M14.4 -36.3h0M-15.4 -25.8h0M28.1 -15.7h0M-11.8 37.6h0M-20.1 28.5h0M-19.7 -34.1h0M33.5 4.8h0M-40.7 -9.2h0M-19.7 -28.5h0M-9.3 -30h0M-34.6 .5h0M-28.7 -19.6h0M-28.9 11.6h0M-31.9 3.6h0M31.7 -25.5h0M11.3 39.2h0M-23.8 -30.9h0M11.7 38.5h0M-30.7 -.2h0M-29.4 10.3h0M14.3 -32.6h0M16.7 -33.6h0M1.4 32h0M32.9 -22.5h0M-32.3 20h0M-30.1 -26.9h0M-10 34.5h0M-38.9 8.7h0M37.8 -14.2h0M-28.4 -11.8h0M-28.9 20.9h0M-35.4 5.4h0M-31.4 -2.9h0M-18.7 31h0M2.9 40.4h0" stroke="#26762e" stroke-width="4.0"/><path d="M-19.1 15.4h0M4.3 -7.7h0M24.5 15.6h0M38.8 7.8h0M17.9 -21h0M14.3 1.1h0M-16.4 27.9h0M33.4 15.9h0M33.7 3.1h0M30.8 -12.4h0M19.9 20.6h0M38.1 4.6h0M20.3 -23h0M26.1 29.4h0M12.3 37.7h0M36.4 -3.9h0M17 -32.4h0M-3.1 -26.9h0M-26.7 -23.1h0M5.9 12.3h0M7.9 -28.2h0M26.9 2.6h0M-3.1 17.7h0M-13.4 -24.5h0M1.8 3h0M-21.5 -12h0M11.9 -37.9h0M1.2 -32.1h0M10.6 23h0M-3.3 -23.3h0M-12.9 8h0M-11.4 18.5h0M26.1 -24.5h0M-29.4 10h0M24.3 -9.6h0M-21.2 -8.1h0M20.8 11.4h0M-24.1 -27h0M-10.1 13.7h0M-9.1 28h0M24.2 -10.6h0M14.7 -34.4h0M-39.4 -3.5h0M-13.5 -7h0M-4 30.1h0M5.6 31.9h0M6.2 -.3h0M39.5 -1.2h0M23.4 24.4h0M2.3 5.4h0M9.5 3.2h0M21.7 -17.3h0M-1.9 -37.4h0M5.1 33.7h0M-4.7 19.2h0M4.1 -17.4h0M22.4 5.9h0M16.7 -18.9h0M-9.4 33.7h0M32.2 -21.6h0M-.3 -19.1h0M-7.6 -20.2h0M16.5 8.8h0M-10.5 8.1h0M-19.9 -12.6h0M6.4 17.7h0M-12 -23.6h0M-21.8 -31.9h0M33.9 -12.6h0M10.8 -5h0M10.1 -38.9h0M31.1 6h0M-.2 -35.5h0M29.2 6.8h0M-20.6 22.2h0M17.1 24.9h0M-13.3 -11.8h0M-20.8 -23.9h0M-34.1 -11.9h0M12.4 -14h0M25.8 -5.4h0M16.8 -10.9h0M27.2 -8.9h0M-33.8 11.7h0M9.6 -17.9h0M21.8 5.1h0M-18.4 5.3h0M16.6 9h0M20 -22.5h0M38.4 -5.7h0M-2.4 15.6h0M33.9 17h0M11 -30.6h0M-35.1 14.3h0M-5.3 -28.2h0M-29.3 19.8h0M-33.6 -7.6h0M-10.1 24.1h0M-16.3 28.3h0M-31.1 19.4h0M-29.2 -21.8h0M26.4 -20.6h0M10 -16.3h0M-28.3 -14.4h0M-23.7 -21h0M-18.6 27.9h0M-23.9 17.2h0M-29.5 -13.9h0M-.8 -24.5h0M-33.7 14.5h0M-3.7 18.4h0M29.1 -13.1h0M26.7 18.9h0M6.5 37h0M20.8 20.4h0M-35 -7.1h0M38 -11.8h0M-19.5 -13h0M4.2 -30.2h0M-25.5 -26.1h0M-5.5 -37.5h0M6.8 7.3h0M-32.1 -19.1h0M34.6 5.7h0M-5.1 10.5h0M-24.4 16.9h0M20 -26.2h0M-10.9 -1.3h0M19.6 -5.5h0M-14.3 22.6h0M-19.7 1.3h0M-6.3 .5h0M34.2 -5.8h0M.1 6.2h0M-20 16.4h0M-36.7 -7.5h0M-6.6 -31.5h0M4.9 28.9h0M-3.8 -1.5h0M-1.8 -16.9h0M32.6 0h0M9.8 36.9h0M20.7 18h0M-19.2 -7.3h0M-29.7 -8.2h0M16.7 -19.9h0M-19.4 6.1h0M-35.5 -8.8h0M34.6 -3.2h0M16.9 25.8h0M27.3 5.8h0M-2.5 4.4h0M17.2 -3.9h0M-16.6 -11.2h0M-32.7 12.5h0M5 -12.8h0M19.3 3.5h0M-32.1 2.4h0M-5.2 -14h0M11 -31.9h0M26.8 7.9h0M24.6 -21.3h0M-4.1 29.2h0M-29.6 5.2h0M-5.9 -32.6h0M21 -32.5h0M-11.1 -9.5h0M-20.5 -4.5h0M-10.3 5h0M-18.8 2.9h0M-31.2 22.1h0M-31.8 -.6h0M-13.6 -8.5h0M14.1 3.8h0M26 -19.1h0M-7 -18.5h0M7.2 7.7h0M-8 -15.7h0M-29.9 7.6h0M5.4 4.3h0" stroke="#8aa628" stroke-width="3.8"/><path d="M8.5 24.9h0M-19.9 28.5h0M-15.3 -35.8h0M-28.5 -3.9h0M36.7 -12.9h0M.4 10.8h0M-14.1 32.7h0M7 -10.6h0M-38.2 3.1h0M-34.4 -18h0M-27 8.2h0M-23.8 -10.2h0M2.5 40.8h0M36.4 -13.2h0M30.6 8.3h0M21.7 15.8h0M-24.4 -13.5h0M-33.5 -.5h0M-7.9 -24.5h0M-10.2 34.6h0M-28.7 -17.5h0M7.9 27.2h0M-22.6 -20.9h0M14.1 8.1h0M-7.1 19.7h0M18 1.1h0M-26.6 -25.6h0M6 16.3h0M-9.5 -19h0M-32.5 17.9h0M32.1 4.7h0M-27 -19.3h0M-2 -30.3h0M-12.5 -25.8h0M-33.7 16.9h0M-11.4 -7.7h0M-10.8 33.6h0M-12.1 18.8h0M-1.8 -39.5h0M26.7 12.2h0M-7.3 12h0M13.3 -1.3h0M-22.1 10.6h0M-14.5 -18h0M32.3 21.3h0M-7.2 -26h0M-41.1 -7.1h0M-1.1 -32.3h0M5.3 3.3h0M-36 .8h0" stroke="#163616" stroke-width="3.0"/><path d="M-20.7 2.5h0M-25.9 -19.2h0M-30.3 -10.1h0M-6.6 19h0M9.7 21.4h0M36.2 .4h0M-14.4 -28.6h0M-17.2 -8.3h0M-20.7 -10.2h0M-22.6 25.8h0M10.9 26.6h0M-34.8 -3.3h0M-13.7 29.8h0M5.7 1.3h0M31.4 3.6h0M14.3 3.6h0M10.7 -26.8h0M-13.5 -12.1h0M-30.9 -17.3h0M4.2 21.7h0M-2.6 24.6h0M3.4 -15.2h0M-20.4 -2.8h0M24.5 -9.5h0M-16.5 17.3h0M-12.7 -19.1h0M-18.3 30.1h0M-2.1 15.9h0M13.6 -36.6h0M8.8 4.2h0M18.8 30.2h0M-35.8 15.3h0M15.8 22.7h0M-23.4 -23.9h0M-20.4 9.1h0M-17.7 11.4h0M-32.9 -17.5h0M-7.5 -2.6h0M-9.3 19h0M-4.1 16.9h0M25.8 10.3h0M31.9 10.4h0M-16.8 28.4h0M-36.7 3.6h0M12.6 -18.1h0M8.1 -23.1h0M35.1 -1.1h0M-30 23h0M-2.5 14.4h0M-.3 -11h0M-24.1 9.7h0M-7.8 -32.8h0M18.8 14.2h0M-6.3 -29.3h0M33.5 13.7h0M7.7 32.1h0M-31.2 -11.5h0M-.2 37.5h0M.4 -27.6h0M3.8 -17.6h0M-29.9 20.5h0M36 .6h0M11 30.6h0M-10.5 -19.5h0M-30.2 -19.7h0M-23.7 -26.5h0M-7 22.5h0M32.4 -18.1h0M-6.3 5h0M-6.9 -35.5h0M1.1 30.8h0M-29 -19.3h0M-.9 5.2h0M2 -14.9h0M-12.9 .7h0M-28.1 -21.8h0M-15.1 12.8h0M6.3 20.5h0M-26.9 24h0M13.9 3.6h0M22.4 -5h0M25.7 -10.2h0M11 7.6h0M6.8 25.9h0M3 6.9h0M27.7 13.8h0M17.6 33.2h0M8.5 -2.4h0M-15.8 24.3h0M-3.7 24.2h0M-3.9 8.8h0M-9.3 5.8h0M11.1 -6.1h0M-14.9 -9.2h0M-26.5 -20.2h0M2.2 -5.7h0M25.6 -30.4h0M31.1 10.3h0M-5.3 2.3h0M18.3 25.7h0M14.5 15h0M13.6 -9.2h0M14.1 4.6h0M-10.5 -14.4h0M-23 -6.6h0M3.3 -27.1h0M-2.5 -3.5h0M34.1 8.5h0M31.8 4h0M30.3 -8.7h0M26.3 20.6h0M-31.1 14.2h0M11.4 -11.5h0M-27.7 19.7h0M7.6 -18.9h0M-15.3 6.1h0M-14.5 -14.3h0M-2.6 -15.1h0M5.9 34h0M-15.4 32.2h0M11.1 4h0M-29 23.7h0M21.7 -2h0M5.6 25h0M3.9 18.9h0M4.7 -36.5h0M23.3 -.6h0M9.1 17.9h0M26.2 14.4h0M-14.2 -10.7h0M-26 7.4h0M-2.8 -22.7h0M5.3 -10.4h0M-12.1 -10.8h0M18.5 -33.6h0M-12.6 32.4h0M-23.5 9.7h0M-25.2 7.4h0M9.9 2.3h0M16.2 22.1h0M-22.7 21.7h0M-25.9 13h0M22.4 -27h0M-1.5 -1.2h0M-9.2 6.9h0M8.3 5.8h0M-.5 7.9h0M3.4 -26.1h0M6.2 -25h0M3.4 32.4h0M13.4 -25.6h0M27.1 -24.9h0M-3.9 -31.9h0M-8.5 7.9h0M-11.7 -32.2h0M30.2 -7.7h0M-16 17.4h0M22.4 18.5h0M-11.2 30.9h0M-3.2 29.7h0" stroke="#ccc62a" stroke-width="3.3"/><path d="M-16.9 -26.6h0M-10.4 17.1h0M-8.7 -29.7h0M23.1 12.6h0M7.3 4.1h0M-1.9 -15h0M25.5 17.3h0M-11.6 10.9h0M-31.6 3.8h0M-27.3 .5h0M2.6 -27.9h0M-3.2 -8.9h0M-18.3 2.5h0M17.6 27.7h0M-25.8 14.9h0M-26.7 -9.4h0M-6 4.7h0M-32.3 9h0M15.6 24.2h0M20.6 11h0M-1.3 33.2h0M-14.3 -17.6h0M18.4 13.9h0M-9.4 -19.2h0M8.5 3.4h0M3.3 -22.2h0M-1.9 -25h0M13.3 18.2h0M15.7 9.4h0M-11.4 -4.9h0M-10.9 -14.3h0M10.1 21.2h0M12.4 15.5h0M11.4 5.3h0M-21 23.9h0M35.3 3.3h0M6.2 -13h0M-30 -6.3h0M6.4 -34.5h0M19.2 9.3h0M-16.2 -22.3h0M-10.2 -13.8h0M-18.9 -11.7h0M-16 26.4h0M-18.8 9.1h0M14.8 27.2h0M30.2 0h0M-32.8 9.1h0M7.2 -3.6h0M-7.7 -3.9h0M-31.3 6.9h0M-16.1 -19.7h0M-24 14.5h0M17.3 16h0M26.4 19.9h0M22.9 -8.8h0M23.8 -.5h0M-3.4 13.2h0M-9.8 20.4h0M13.7 -30.9h0M19.7 -14.1h0M8.7 -30.8h0M-.7 12.3h0M.7 29.9h0M-21.7 19.6h0M9.9 -2.4h0M4.5 -1.5h0M-2.9 23.9h0M-8.4 .8h0M1.1 21.8h0M-19.1 11.4h0M-13.4 -15.7h0M-12.4 9.4h0M-16.5 -2.3h0M-5.6 34h0M29.4 4.2h0M-6.1 25.4h0M-1.8 -26.7h0M22.4 -6.2h0M20.5 19.7h0M.3 8.6h0M10.5 -1h0M-15.3 16.4h0M-13.7 -28.9h0M25.1 10.8h0M30 3.4h0M-9.6 -4.7h0M7.4 -4.6h0M-18.9 .6h0M-4.3 -29h0M-22.8 6.4h0M-2 2.1h0M17.4 13.6h0M-14.3 5.5h0M10.8 1.6h0M-8.8 -29.5h0M7.8 -11.6h0M-16.6 3.4h0M-17 -5.6h0M3.1 17.9h0M-27.5 -2h0M10.7 -3.2h0M-2.5 14.8h0M15.2 15.8h0M-17.1 10.9h0M-19.5 -.8h0M15.8 -31.4h0M-18 14.1h0M2.2 -14.9h0M10.6 -33.6h0" stroke="#e8b024" stroke-width="3.0"/><path d="M-11.6 -20.6h0M-7 18.7h0M-13.6 -14h0M18.5 .9h0M-27.3 -.2h0M1.5 12.2h0M18.3 17.7h0M-.6 1.1h0M-9.6 15.8h0M10.8 -.5h0M-20.5 13.8h0M4.7 7.1h0M-6.2 -4.5h0M-4.6 -.3h0M12.6 -25.1h0M-28.7 -4.9h0M14.5 -3.1h0M6 -12.4h0M14.5 -2.5h0M3.5 11.4h0M7.3 13.5h0M-18 -11h0M3.4 4.3h0M-8.3 10h0M7.9 .8h0" stroke="#e2701f" stroke-width="2.2"/><path d="M23.9 -20.5h0M-6.7 4.1h0M-18.6 -12.8h0M-33.6 -10.4h0M3.2 12.5h0M-8.2 34.4h0M2.1 -29.4h0M-2.7 -8.4h0M2.2 3.2h0M14.6 -20h0M-23.4 -26.6h0M3.8 32.3h0M28 20.6h0M18.4 25.3h0M-15 22.4h0M-13 8.8h0M9.7 32.3h0M-12.7 -19h0M-36 12.9h0M19.2 22.4h0M13.4 26.6h0M25.9 1h0M-16.2 -1.2h0M-8.9 20.8h0M6.2 -21.5h0M-13.3 -35.6h0M25.7 18h0M6.8 39.1h0M-27.5 -9.5h0M22.8 -16.6h0M36.5 12.7h0M-14.3 -15.8h0M11.4 -18.2h0M-13.9 27.8h0M-15.5 30.7h0M6.5 14.6h0M16.1 21.5h0M-21.1 -12.2h0M-5.9 -30h0M20.8 13.8h0M11.7 28.1h0M-14.2 11.8h0M29 -1.8h0M28.1 21h0M14.5 -36.4h0M23.1 11.8h0M-23.5 -12.1h0M28.1 -32.1h0M36.4 -13.1h0M-29.8 -5.4h0M3 36.6h0M25 -26.4h0M11.7 16.9h0M28.5 -19.4h0M-39.5 2h0" stroke="#163616" stroke-width="2.6"/><path d="M-8 31.5h0M-7.1 40.6h0M35.6 -18.9h0M-19.4 32.4h0M-20.7 -17.9h0M-21.5 11.3h0M-25.2 19.5h0M17.6 -16.6h0M12.9 7.3h0M29.2 23h0M-21.4 -7.2h0M-7.7 -.5h0M-37 -6.1h0M-38.9 -2.3h0M-24.2 -.1h0M22.9 -10.8h0M-31.4 -15.3h0M38.5 9.9h0M25.2 -27.2h0M-20.1 -10.2h0M31.1 -3.6h0M-19.5 26.8h0M-10.7 24.9h0M10.3 -8h0M-7.8 -22.4h0M-11.8 27.7h0M-13.5 -30.2h0M9.6 26.7h0M12.4 1.6h0M32.6 -6.2h0M9.6 -8.4h0M30.6 3.2h0M5.1 9.7h0M25.6 -27.5h0M-22.5 -9.5h0M-8.1 -9.2h0M-13.3 -31.3h0M19.7 5h0M-.8 -21.2h0M-15.8 -36.2h0M23.7 -24.9h0M-29.9 29.2h0M-24.7 -22.2h0M-5.4 22.6h0M-24.8 -18.6h0M35.2 -4.1h0M-15.7 18.8h0M-10.3 -9.3h0M15.2 -8.8h0M-25.2 -22.3h0M7.9 -29.9h0M-33 18.7h0M-.6 35.8h0M28.9 -29.6h0M-39.4 -2.1h0M-30 2.7h0M6.6 12.9h0M-3.6 17.4h0M5.7 32.8h0M15.2 5.8h0M-6 -.3h0M-30.6 -5.7h0M-33.9 -13.1h0M30.5 -22.3h0M29.7 -15.8h0M-21.1 6.4h0M22.2 2.8h0M-8.3 19.7h0M-26.4 -15.7h0M-7.6 -27.5h0" stroke="#36882e" stroke-width="2.8"/><path d="M18.3 -16h0M14.3 -1.4h0M11.4 -6.3h0M-6.5 -9.7h0M13.4 5.6h0M16.2 6h0M-5.7 -3.1h0M.6 28.1h0M-7.1 27.2h0M7.5 -15.6h0M8.6 25.9h0M16.5 -15.2h0M-12.6 -22.6h0M-14.1 2.8h0M-6.3 5.5h0M-8.4 .6h0M4.4 -17.6h0M-.1 2h0M12 24.4h0M3.8 -12.4h0M-1.6 8.9h0M-23.9 -15.8h0M-29.3 8.5h0M0 .1h0M-11.9 3.2h0M-13.2 10.7h0M2.5 -8.5h0M23.3 -16.2h0M-13.5 9.6h0M22.7 -14.7h0M-3.4 -25.7h0M-29.1 -6.4h0M3.7 -17.4h0M-9.4 -27.6h0M-19.1 18.3h0M16.3 22.8h0M20.4 18.7h0M12.8 4.3h0M14.3 5.8h0M4.7 15.6h0M20.2 -21.1h0M22.9 13.9h0M-9.3 -3.3h0M9.6 -26.7h0M17.5 -25.4h0M-.2 -9.5h0M21.8 -23.7h0M-7.2 -13.2h0M-6 23.1h0M-29.2 7.4h0M-5.8 1.1h0M5.2 9.1h0M18.6 -18.6h0M-1.1 -4.2h0M24.3 -8.6h0M-9.3 2.8h0M-24.3 18.1h0M13.4 26.4h0M-21.8 -.5h0M-2.6 -24.2h0" stroke="#f0e23a" stroke-width="2.6"/></g>
<g transform="translate(791.0 143.0)"><path d="M33.7 0L33.7 3.3L34.3 6.8L31.8 9.6L31.1 12.9L29.6 15.8L28.4 19L26.9 22L24.3 24.3L22.1 26.9L19 28.4L16.2 30.4L13.5 32.5L10.3 34L7.3 36.8L3.6 36.8L0 36.2L-3.6 36.4L-6.8 34L-9.7 31.9L-13.2 31.8L-16.5 30.8L-19.3 28.9L-21.4 26.1L-23.3 23.3L-26.7 21.9L-28.3 18.9L-30.1 16.1L-32.1 13.3L-32.4 9.8L-34.6 6.9L-33.9 3.3L-34.9 0L-34.5 -3.4L-34 -6.8L-33.2 -10.1L-32.8 -13.6L-31.3 -16.7L-29.5 -19.7L-26.9 -22.1L-25.9 -25.9L-22.7 -27.7L-18.8 -28.2L-16.7 -31.3L-13.5 -32.5L-9.8 -32.4L-6.8 -34.1L-3.4 -34.4L0 -35.8L3.4 -34.9L6.6 -33.3L10.3 -33.9L13.4 -32.4L17.1 -32.1L19.5 -29.2L22.9 -27.9L24.9 -24.9L27.1 -22.3L29.1 -19.5L30 -16L31.7 -13.1L33.1 -10L34.1 -6.8L34.3 -3.4Z" fill="#3b2d16"/><path d="M-32 -15.8L-37.8 -14.6L-37.5 -16.3M-5 35.9L-7.9 38.1L-6.3 38.8M-27.2 -24.5L-31.3 -26.2L-32.6 -25M-31.4 14.8L-37 15L-36.5 16.7M19.6 -31.1L18.2 -35.1L20 -34.7M-24.2 24.9L-24.4 30.5L-24.1 32.3M-5.2 35.8L-4 40.1L-5.8 40.2M-23.4 25.8L-28.7 27.5L-28.6 29.2M1.4 37.4L-2.6 41.4L-1 42.1M-3.4 -35.3L-.6 -38.2L-2.2 -39M10.8 -34.1L12 -39.6L13.8 -40M-27.4 -24.2L-30.8 -24.5L-30.4 -26.3M-1.8 36.9L.9 39.6L2.4 40.6M31.6 14.8L35.7 13.2L35 14.9M32.3 12.6L37.5 10.9L38.7 9.6M18.2 -31.8L21.1 -34.9L22.9 -34.6M-17.9 29.8L-22.3 32.7L-23.9 32" stroke="#593d1a" stroke-width="1.3" stroke-linejoin="round"/><path d="M-10.8 34.5h0M-12.5 33.4h0M11.9 -34.8h0M16 34.5h0M35.8 -11h0M12.1 37.3h0M31.8 -17.9h0M31.2 19.7h0M-36.5 -10.3h0M-12.6 -34.1h0M23.2 28.1h0M-25.6 27.4h0M36.1 -3h0M-38.5 2.3h0M13.3 35.5h0M-26.1 25.8h0M-16.5 -33.7h0M33.6 -16.4h0M-17.3 30.9h0M-36.2 4.7h0M7.9 37.6h0M-20.2 30.9h0M34.5 -12.5h0M8.7 38h0M21.2 32.3h0M-31.6 -23.8h0M26.4 -26.5h0M-16.3 -34.1h0M-24.1 29.1h0M14.9 35.1h0M3.1 -38.5h0M33.4 15.1h0M25.3 29.4h0M16.5 -33.5h0M9.1 -36.2h0M36.2 -5.5h0M29.3 -22.5h0M-35.1 11.7h0M32 -17.9h0M10 -37.2h0" stroke="#754d21" stroke-width="2.6"/><path d="M21.1 -5.2h0M8.2 -21.3h0M-8.7 29.6h0M28.3 .1h0M13.3 -14.3h0M-12.5 -28.6h0M21.3 27.1h0M-20.3 9.6h0M29.9 -4h0M3 34h0M10.4 -10.5h0M.6 -31.4h0M-4.9 33.3h0M20.2 -17h0M25.5 -10.9h0M-15.9 5.5h0M-21.5 23.9h0M-27.4 -16.8h0M-15.8 21.4h0M-8.7 6.6h0M3.6 4.5h0M-9.1 -13.6h0M-7.6 16.7h0M26.2 22.5h0M-4.6 -34.8h0M7.1 .2h0M-16.5 -21h0M-17.8 -22.6h0M11.4 13.6h0M7.4 32.1h0M1.8 -6.5h0M-21.9 26.2h0M-6.5 16.4h0M7 33.4h0M15.8 24.2h0M3.4 3.5h0M-28.5 8.9h0M-25 8.7h0M20.4 26.4h0M.1 21.4h0M25 6.3h0M-10.1 -4.1h0M13.2 12.9h0M-7.7 -4.7h0M-16 18.9h0M14.9 18.6h0M16.9 25.3h0M8.1 29.8h0M7.1 -26.1h0M-22.1 14.8h0M18.5 7.7h0M4.1 -.7h0M-3 14h0M19.1 .2h0M23.3 9.1h0M-21.3 14.3h0M-18 15.7h0M11.3 7.5h0M28.2 .5h0M-19.4 -19.9h0M4.8 -11.2h0M-15 -21.9h0M-24.2 10.7h0M18.1 19.8h0M-10.1 -25.4h0M5.3 3.8h0M26.3 3.7h0M16.3 -14.7h0M-20.9 16.8h0M19.5 -26.9h0M15.1 23.7h0M-31.9 -15.9h0M-16.7 -8.3h0M2.1 -32.8h0M23.4 -1h0M-2.3 -10.2h0M24.1 -6.5h0M-13.2 21.7h0M21.8 27.4h0M14.9 19.1h0" stroke="#241a0c" stroke-width="4.0"/><path d="M-8.3 -8.7h0M-19.7 -16.1h0M10.9 1h0M-.2 -18.9h0M8.1 14.5h0M1.7 -13h0M8.5 26h0M29.6 2.5h0M20.9 -28h0M22.5 4.7h0M-18.9 -.4h0M12.2 -12.5h0M26.4 -15.6h0M-4.1 8.6h0M12.3 33.8h0M11.7 22.1h0M-7.1 -35.1h0M-5.3 2.8h0M-2.4 -34.1h0M19.9 -3.3h0M.9 -32.9h0M-24 -5.1h0M6.9 -33.7h0M11.1 25.4h0M-7 -2.3h0M-2 -1.8h0M-22.8 23.7h0M25.6 -7.1h0M-31.7 -16.9h0M-24.5 -4h0M-22.8 2.2h0M32.8 13.1h0M-17.9 -11.5h0M-25.8 -24.4h0M-26.4 -11.5h0M8.1 13.4h0M.8 -25h0M12.6 -10.2h0M25.1 8.9h0M-2.7 28.7h0M-16.6 -20h0M18.9 -21.4h0M20 -11.6h0M-20.7 -1.5h0M22.9 -27.4h0M10.1 9h0M-2.6 11.7h0M-27.8 -19.7h0M6.9 -25.8h0M-21.8 24.9h0M-24.6 10.5h0M8 -23.7h0M-11.1 30.6h0M15.2 13.9h0M25.8 -14h0M1.8 -14.1h0M5.3 -34.9h0M-30.7 9.3h0M-.4 -20.8h0M8.7 -29.6h0M-19.3 -1.2h0M-15 4.5h0M10.9 -26.2h0M8.4 12.3h0M13 -10.8h0M33.8 1.2h0M.3 0h0M9.7 -16.3h0M-33.2 -8.2h0M-21.7 5.4h0M-21.4 9.1h0M.9 14.7h0M-7.3 30.1h0M18.1 5.8h0M-13.9 -23.5h0M27.1 9h0M.4 -5.9h0M29.1 -5.3h0M25.2 10.2h0M-5.3 .2h0M16.9 -2.6h0M8.3 29.7h0M-.8 11.9h0M16.6 26.3h0M-9.5 -16.4h0M-13.3 -30.4h0M12.6 20.7h0M11.9 20.1h0M2.2 -28.6h0M29.6 12h0M5.7 -27h0M-23.1 -25.7h0M-2 13.8h0M.3 -6.6h0M16.6 -19h0M18.7 -9.1h0M-18 -8.8h0M25.3 -2.2h0M-9.9 34.5h0M21.6 -.1h0M-23.4 -6.9h0M-33 -12.7h0M-18.3 16.2h0M16.6 30.2h0M-13.4 18h0M31.3 -12h0M23.2 -6.2h0M-9.9 16.6h0M8.2 -13.5h0M6.4 -27.1h0M12.8 -31.4h0M-30.2 -18.6h0M17.6 -10.1h0M23.3 13.2h0M7.6 31.1h0M22.6 -13h0M-20.1 3.3h0M-17 -17.6h0M26.4 -13.2h0M26.6 20.2h0M-18.6 21.3h0M-14.3 10.6h0M6.6 -22.5h0M-19.8 24.6h0M10.6 23.6h0M-8.8 1.4h0M-20.9 28.6h0M21.1 -5h0M11 8h0M-.7 -26.5h0M-30.2 -17.6h0M-2.7 -22.6h0M-22.8 -22.8h0M10.5 -23.1h0M18.7 2h0M14 4.3h0M12 -24.2h0M-13.8 7.7h0M1 -19h0M-31.2 -18.5h0M3.1 3.2h0M-27 -1.1h0M-6.5 -9.6h0M1.3 11.7h0M19.8 15.9h0M.4 -32.5h0M10.9 -.7h0M23.1 18.4h0M-31.8 -10.4h0M6.1 22.8h0M15.5 -10.9h0M-5 8.4h0M-10.9 24.4h0M-21.6 3.1h0M-17.4 19.8h0M17 -3h0M-2.8 -36h0M-12.2 9.5h0M-23.1 25h0M23.5 -4.1h0M-24.4 6.2h0M15.6 31.7h0M-6.3 -25.5h0M-23.4 12.1h0M-17.6 13.8h0M-13.8 12.7h0M14 -18.2h0M19.1 26.3h0M-16.4 -13h0M19.8 19h0M-.7 14.8h0M-7.9 -33.7h0M-14.3 -4.7h0M-8.2 -14.5h0M11.9 9.6h0M-32.4 -8.2h0M-28.8 6.2h0M-20.7 11.1h0M-33.5 -1h0M20.3 9.3h0M5.9 1.4h0M27.2 23.1h0M-17.9 2.7h0M-7.3 -13.6h0M-21.5 4.6h0M-33.1 5.3h0M-31.9 .6h0M27.7 15.6h0M11.2 7.5h0M8.9 9h0" stroke="#593d1a" stroke-width="3.8"/><path d="M9.6 -33.8h0M15.6 33.3h0M-16.7 7.8h0M18.9 -21.5h0M25.4 8.2h0M-18.7 -22.2h0M-17.8 -3.5h0M16 -19.8h0M-9.7 25.5h0M11.7 -23.8h0M-3.4 -22h0M-6.8 -2.8h0M.9 -18.7h0M10.6 -18.8h0M1.3 -5.5h0M-31.5 3.5h0M7.7 -32.6h0M-10 -3.6h0M34 -5h0M23.7 22.2h0M-8.7 5.2h0M-29.8 4.8h0M6.5 -35.6h0M25.3 8.3h0M-.4 -28.9h0M-13.1 -9.1h0M-8.8 -2.1h0M-21.2 6.7h0M-3 -24.5h0M31.3 .7h0M-26.3 5.8h0M3.2 -20.1h0M-6.6 -17.9h0M-12.1 -23.1h0M-24.4 -23.7h0M-23.5 -21.4h0M9.1 -33.5h0M-22.8 15.1h0M-22.7 -2.9h0M-30.7 -16.7h0M11 27.1h0M31.3 11.1h0M-23.4 -23h0M6.3 -9.3h0M-20.3 21.1h0M-30.8 -16.8h0M5.1 -31.8h0M10.1 -34.7h0M-8.1 19.2h0M-17.2 20.9h0M-17.7 13.4h0M-1.5 -16.1h0M27.4 -13.9h0M-20.1 -.3h0M-16.6 18.8h0M-29.4 -10.4h0M-7.6 -24.6h0M-5 -32.8h0M.3 -18h0M18.2 25.9h0M-4.1 -.7h0M20.3 -19h0M-11.1 1.8h0M24 20h0M-16.8 31.1h0M-6.2 -25.3h0M19.7 -28h0M16.7 -21.9h0M-9.4 -27.9h0M-4.7 -16.8h0M-1.9 12.3h0M-6.7 3.9h0M-25.4 19.4h0M15.8 19.6h0M-30.7 -4.7h0M12.8 -29h0M16.5 -28.7h0M-3.7 -10.8h0M-22.9 -13.5h0M20.7 27h0M24.7 -16h0M5.9 2.7h0M12.4 -33.1h0M-22.5 14.1h0M6.1 5.3h0M12.6 -7.6h0M-17.1 -29.4h0M-2.5 -3.2h0M-5.2 5h0M25.3 -19.3h0M14.5 2.8h0M-27.4 16.2h0M14.5 -24.2h0M10.3 19.9h0M9.9 -6.6h0M-7.2 -24.1h0M25.3 -7.5h0M12.5 34.5h0M-7.6 -.7h0M18.3 12.7h0M17.9 .3h0M12.2 29h0M20.9 -23.2h0M21.1 -30h0M12.4 -24.4h0M-32.4 4.9h0M11.8 13.9h0M-5.4 -33h0M12.6 -6h0M20.1 27.5h0M9 4.2h0M-.6 -3h0M18.9 3.3h0M10.8 -13.6h0M-1.1 -1h0M-19.5 19.6h0M27.5 7.6h0M-14.1 -27.3h0M-3.9 -20.6h0M8.5 -35h0M15 -11.6h0M-6.5 -6.4h0M-.7 24.8h0M6 3.7h0M18 -28h0M-4.7 -.6h0M-21.4 -.5h0M-7.8 -22.2h0M-12.2 -28.5h0M-30.3 -16h0M25.2 -22.9h0M13.8 -31h0M-12.2 -22.1h0M-1 30.4h0M8.4 -24.6h0M6.6 -29.4h0M-21.5 22.4h0M1.8 -15.1h0M13 9.3h0M-12.2 8.2h0M2 -14h0M10.6 -4.5h0M-21 -12h0M-30.2 13.1h0M.6 9.7h0M-10 -32.7h0M25.7 17.1h0M5.4 38h0M-28.3 -20.5h0M-1.3 -30.2h0" stroke="#754d21" stroke-width="3.2"/><path d="M23.5 -8.4h0M16.7 -18.1h0M17.5 7.1h0M-32.2 13.3h0M11.2 24.1h0M3.5 10.9h0M-19.8 11.6h0M-19.3 23h0M-4.8 8.2h0M28.1 -21h0M-14.5 -17.5h0M14.6 -7.7h0M11.8 4.9h0M-19.7 23.9h0M9.2 -12.5h0M22 -20.1h0M-.5 9h0M2.6 10.1h0M29.1 -3.8h0M-24.2 25.3h0M28.3 7h0M-5.1 -6.5h0M1.1 -14.5h0M-29.7 -20.2h0M9 17.4h0M31.9 -4.9h0M-12.6 19.4h0M11.2 17.3h0M-25.9 -.2h0M-16.3 16.2h0M.4 20.2h0M.3 -4.7h0M-22 -2.9h0M17.1 -26.8h0M4.7 -6.6h0M-.8 -22.8h0M22.8 9.4h0M-15.6 21.8h0M-28.4 17.5h0M-3.7 27.2h0M14.8 -31.8h0M16.6 -16.6h0M-1.9 26.1h0M9.7 27.7h0M-12.8 -9.8h0M26.4 -17.6h0M-7.6 15.2h0M-29.7 -11.2h0M-17.1 23.6h0M18 -29.7h0M-11.4 14.7h0M-4.3 -8.1h0M1.1 -30.5h0M25.5 .1h0M12.5 29.2h0M15.1 2.6h0M26.6 -6.6h0M14.3 -21.4h0M-3 1.2h0M-2.7 29.6h0M-9.3 -13.3h0M-8.3 -1.8h0M-14.6 -2.8h0M-1.7 -27.5h0M-14.2 25.5h0M11.5 33.7h0M13.8 -17.3h0M27.8 -4.9h0M3.7 21.2h0M-26 5.1h0M-32.7 .4h0M30.3 5.6h0M-.3 15.5h0M-7.4 13.4h0M-.8 3.6h0M10.7 -2.9h0M-31.7 12.3h0M10.5 -17.4h0M15.4 6.6h0M-4.4 28.8h0M-17.7 3.6h0M12.5 33.1h0M-10.7 -31.9h0M-31.5 -9.6h0M-1.5 -.5h0M2.1 36.1h0M.4 -8.4h0M-6.2 -26.1h0M27 16.2h0M27.5 -14.4h0M-4.3 -5.7h0M31.1 10.6h0M-1.4 1.2h0M21.9 -13.7h0M-13.2 3.6h0M15.6 16.7h0M31.4 14.2h0M-34 -9.3h0M-14.6 -13.9h0M-10.8 -33.2h0M28.2 2.6h0M22.7 -.6h0M-21.5 21.7h0M18.9 7.9h0M-14.6 25.9h0M26.5 -19.1h0M19.4 -7.2h0M22.9 -10.7h0M-33.7 10.8h0M27.4 -15.8h0M-11.9 -19.2h0M14.1 -10.8h0M18.8 8h0M-13.4 -22.5h0M15.7 -13h0M29.1 -3.9h0M18 -16.8h0M-27.8 -13.3h0M-6 32.7h0M-5.2 -28.2h0" stroke="#525928" stroke-width="3.2"/><path d="M.6 .3h0M-8.7 -13.2h0M34.2 -1.3h0M20.5 -14.5h0M-25.4 -8.8h0M23.2 -9.5h0M11.4 7.1h0M2.4 10.3h0M-16.6 28.3h0M-24.1 -12.5h0M20.4 11.3h0M15.2 4.1h0M-20.4 -19.6h0M3.3 -21.4h0M.7 4.1h0M-10.4 -13.3h0M-14 -32.4h0M-28.6 9.1h0M-2.4 17.4h0M17.4 -19.7h0M-26.6 -15.1h0M14.6 -11.9h0M-26.9 -17.3h0M27.7 -3.5h0M-6.7 7.5h0M-13.2 -2.2h0M-2.4 19.2h0M-21.9 -2h0M-14.4 -7.9h0M-12 -31.1h0M20.3 26.6h0M-11.2 -20.4h0M-33.6 -11.8h0M14.7 11.5h0M17.8 2.6h0M5.3 -7.9h0M-11.1 14.7h0M11.4 -28.4h0M-7.8 -26.3h0M-20 7.6h0M19.3 23.6h0M4.8 -3h0M-22.9 -17.5h0M11 15.3h0M23.7 -5.1h0" stroke="#241a0c" stroke-width="2.6"/><path d="M30.3 -7.9h0M-3.7 36h0M2.9 25.7h0M34.2 7.3h0M-13.7 -3.4h0M-18.1 -3.8h0M34.1 4.6h0M-25.4 8.7h0M.3 -35.5h0M-10.6 -8.9h0M-1.1 36.8h0M-8.8 -13.1h0M-7 10.3h0M-31.4 9.2h0M-14 30.1h0M-20.8 -10.8h0M-33.6 10h0M1.1 -23h0M8.5 -28.2h0M16.2 20.1h0M-8.3 16.3h0M26.8 22.5h0M-8.1 -2.3h0M-6.9 -21.1h0M-8.7 -8.8h0M-10.9 -6.4h0M32.2 -13.1h0M11.4 -24.3h0M-4.8 7.1h0M-3.9 3.7h0M-6.2 14.6h0M-20.7 -11.5h0M24 -19.5h0M-18.1 -22.6h0M.8 -3.2h0M26.8 -11.1h0M-13.1 -8.5h0M-12.9 14.6h0M32.1 5.5h0M-23.7 25.5h0M-11.9 16.3h0M-14.2 26.4h0M-21.9 21.9h0M31.2 -8.2h0M2.5 -23h0M.5 24.2h0M28.9 7.2h0M31.5 -1.5h0M-23.5 5.5h0M31.6 9.3h0M.7 0h0M-8.5 9.6h0M-18.5 -2.9h0M-2.6 -34.7h0M5.3 -5.8h0M-9 17.2h0M-15.7 13.8h0M29.5 -9.6h0M-5.6 13.9h0M29.2 -4h0M11.4 -24.3h0M-13.7 -19.8h0M15.8 -1.6h0M-7.5 7.3h0M-.5 -6.1h0M26.1 -2.5h0M-.3 -2.1h0M-28.6 19.5h0M4.5 -.9h0M3.7 28.2h0M-12.1 -21h0M19.2 16h0M22.2 5.2h0M.8 36.1h0M-16.2 21h0M11.6 19.9h0M27 -19.8h0M4 -28.8h0M14.7 -19.4h0M-15.1 -30.1h0M-17.5 -24.5h0M20.7 10.6h0M14.3 5.6h0M-5.9 -24.7h0M-28.4 3.1h0M6.8 7.1h0M17.8 -30.7h0M13.2 23.9h0M-26.9 21.6h0M-10.8 .3h0M-25.3 13.6h0M-1.2 6h0M-4.4 -32.1h0M-4.1 7.2h0M-13.2 2.4h0M-31.7 -.9h0M-25.1 -20h0M-12.4 -4.3h0M11.1 19.2h0M22.3 24.2h0M7.2 -1.4h0M3.4 14.8h0M20.7 -12.4h0M30.7 7.1h0M-1.4 7.8h0M-8.6 31.1h0M-13.4 -13.8h0M22.5 -4.1h0M-19.6 23.6h0M10.4 -4h0M28 -2.8h0M-8.8 -7h0M20.2 .3h0M33 4.9h0M-7.2 -9.3h0M-8.6 32h0M13.3 17.8h0M-18.9 -29.9h0M11 21h0M22.4 -22.3h0" stroke="#9e5624" stroke-width="2.2"/><path d="M8.1 -9.9h0M-18.4 5.3h0M18.8 -5.6h0M-11 -10.3h0M6.9 27.6h0M-6.3 12h0M-13 -8h0M.8 -22.2h0M20.2 .8h0M1.5 -16.4h0M-1.2 18.6h0M-3.4 13.3h0M-11.6 1.4h0M10.6 -26h0M11.1 -22.3h0M15.8 -7.7h0M6.3 12.6h0M15.2 2.2h0M19.8 -2.7h0M-13 -6.7h0M-13.9 -14.2h0M6.4 4.4h0M18.2 12.6h0M4.6 8h0M-2.4 8.8h0M-15.2 -12.7h0M10.4 20.3h0M6.4 20.7h0M19.8 -16.4h0M-7.4 -.2h0M23.5 3.8h0M2.1 -25.4h0M5.7 -13.3h0M-22.7 12.9h0M-3.4 .3h0M21.2 7.8h0M4.1 29.7h0M-25.6 -.2h0M-20 -12.1h0M-10.1 12.1h0M-2.6 29h0M1.2 1.7h0M-10.4 3.3h0M10.9 -7.1h0M-5.1 -3.7h0M-4.5 12.2h0M13.9 6.3h0M-.2 -8h0M10.1 25.5h0M3.3 -10.6h0" stroke="#7c7933" stroke-width="2.4"/><path d="M14.8 28.9h0M-25 12.8h0M-.2 10.8h0M-.8 -13.8h0M-10.1 24h0M28.9 2.7h0M-4.5 -5.8h0M-18.7 -19.5h0M14 -6.1h0M-25.6 -17.6h0M13.1 7h0M15.5 -5.4h0M-34.4 2.2h0M28.7 -6.9h0M-26.4 -17.8h0M-32.4 -16.4h0M-25.1 7.2h0M-32.5 4.2h0M9.4 -10.3h0M7.7 -8.1h0M-20.4 21.2h0M-14.5 27.4h0M-10.9 -22.2h0M17.7 -4.9h0M-34.8 -1.4h0M-23.9 -16.9h0M20.1 -11.6h0M-18.3 26.1h0M-10.4 -30.8h0M-2.4 -26.9h0M9.1 -32.8h0M4 17.8h0M5.5 11.7h0M26.4 -13.5h0M30.5 3.4h0M-5.3 7.4h0M8.6 -23.7h0M.6 -21.3h0M-17.6 18.4h0M-7.5 -33.2h0M6.9 25.8h0M10.5 11.1h0M-22.2 -9.8h0M-11.7 33.1h0M26.8 -21.3h0M24.5 17h0M-8.6 -2.4h0M21.1 25.7h0M-16.5 23.8h0M-33.8 10.5h0" stroke="#b04923" stroke-width="1.8"/></g>
<g transform="translate(555.1 252.9)"><path d="M37.1 0L37.2 3.7L36 7.2L36.9 11.2L36.2 15L33.8 18.1L32.3 21.6L29 23.8L26.7 26.7L23.8 28.9L21.1 31.5L17.7 33.2L14.7 35.5L10.8 35.5L7.2 36.1L3.5 35.5L0 34.9L-3.4 34.7L-7 35.4L-10.6 35L-14.4 34.9L-18.3 34.3L-20.7 31.1L-23.4 28.5L-26.3 26.3L-28.7 23.6L-31.3 20.9L-32.7 17.5L-35.2 14.6L-34.4 10.4L-36.1 7.2L-37.4 3.7L-35.4 0L-36.3 -3.6L-37.2 -7.4L-35.3 -10.7L-34.5 -14.3L-33.8 -18.1L-30.7 -20.5L-29.8 -24.4L-26.4 -26.4L-23.9 -29.2L-20.1 -30.1L-17.3 -32.4L-14.9 -35.9L-11.2 -36.8L-7.7 -38.8L-3.8 -38.9L0 -37.5L3.7 -37.7L7.3 -36.8L10.8 -35.6L13.7 -33.2L17.5 -32.8L20.3 -30.3L22.1 -26.9L24.2 -24.2L27.6 -22.7L30.4 -20.3L32 -17.1L34.5 -14.3L36.7 -11.1L38.2 -7.6L37.4 -3.7Z" fill="#2e481a"/><path d="M22.2 31.4L23.3 34.3L24.9 33.4M-37.3 -3L-42.5 -5.3L-43.7 -4M38.5 -4.4L41 -6L41.2 -7.8M-21.4 -31.4L-25.5 -32.8L-26.9 -31.7M35.5 16.6L40.7 15.1L42 14M-15.8 -35.5L-18.1 -38.6L-16.6 -39.6M-14.7 -36.2L-12.4 -40.2L-14 -41M27.5 27.3L29.1 33.6L30.7 32.9M24.8 -26L24.7 -31.5L26.5 -31.5M24.1 -26.7L25.8 -30.5L24.6 -31.7M11.4 36.3L13 41.3L11.4 42.1M9.6 36.6L10.4 41.7L8.7 42.1M-3.6 36.2L-1.9 39.4L-.2 40M28 26.8L32.8 28.3L34 27M10.7 -36.1L14.5 -39.4L16.3 -39.1M22.4 31.2L28.8 32.7L30.5 32.1M35.7 -14L39.2 -12.4L39.4 -14.2M38.5 -1.5L43.6 1.3L44.5 2.8M-27.6 -26.2L-31.9 -29L-31.7 -30.8M-16.1 -35.4L-19.3 -39.5L-21.1 -39.1M17.1 34.4L17.7 40.5L16.3 41.5M-35.6 -15.8L-40.1 -17.6L-40.7 -19.3M-12.2 -37.3L-16.2 -40.5L-14.5 -41.2M-37.3 -.1L-42.6 -2.5L-43.7 -3.9M-7.7 36L-8.9 38.6L-10.7 38.2M-36.2 -13.9L-41 -16.5L-41.8 -14.9M-10 -38L-15 -41.2L-14 -42.7M37.8 6.7L41.9 6.3L42.4 8M-30.4 -23.6L-32.5 -27L-34.2 -26.5M24.9 29.4L30.8 29.9L32.6 29.5" stroke="#4a6c20" stroke-width="1.3" stroke-linejoin="round"/><path d="M39.6 -14.4h0M-36.6 20.8h0M22.4 -30.2h0M-2.3 37.9h0M-26 -31.8h0M40.4 10.4h0M22.3 -30.5h0M26.7 -29.3h0M-22.8 -36h0M-38.6 11.3h0M-5.1 37.5h0M-31.6 -25.5h0M-37.3 13.7h0M-23.5 33.2h0M17.3 37h0M-20.6 36.5h0M-4 -42.1h0M-23.9 33.6h0M-10.2 -40.8h0M-41.4 -10h0M36.8 17.7h0M-.7 39.2h0M10.5 40.7h0M-37.7 -17.4h0M36 17.7h0M19.6 38.1h0M-28.3 31.8h0M-40.3 4.6h0M-10.1 -42.7h0M-36.8 18.8h0M-31.8 -25.2h0M40.6 7.1h0M4.2 39.8h0M-36.9 -15.3h0M23.5 -29.5h0M40 5.4h0M-15.8 38h0M39.9 -4.5h0M-14 39.8h0M10.6 -38.1h0M-15.5 38.7h0M-1.2 38.2h0M1.3 40.3h0M-20.7 -35.1h0M20.9 34.7h0M-4.2 -39.6h0M-34.6 -22.9h0M12.9 39h0M-26.3 -33.2h0M19.6 -35.3h0M-24.5 -32h0M-38.3 15h0M-4 38.8h0M-30.5 28.2h0M-36.2 21.5h0M40.6 14.2h0" stroke="#286c2c" stroke-width="2.6"/><path d="M-1.9 6.6h0M-9.6 -3.4h0M9.5 -37h0M-21.8 -7.9h0M-17.1 -12.8h0M-7.1 18.9h0M11 26.1h0M11.1 -22.1h0M8.5 29.9h0M12.4 -25.3h0M31.3 24.4h0M-28.5 8.8h0M-.5 17.3h0M-18.6 34.4h0M-32.2 -3.4h0M0 19.2h0M11.5 28.6h0M29.1 16.1h0M2.6 26.1h0M-7.5 7.9h0M-20.9 1.9h0M-6.4 22.4h0M3.5 -6.3h0M-22.2 -8.9h0M6.1 35.7h0M32.9 -10.7h0M-17.5 -2.9h0M-17.4 19.2h0M-12.4 11h0M-6.8 -36.3h0M2.2 11.5h0M-21.6 .8h0M-17 6h0M7.7 -12.5h0M29.8 25.2h0M7 22.4h0M-7.3 16.5h0M23.7 -22h0M20.5 -8.9h0M-24 2.3h0M16 -14.8h0M-25.2 -6.6h0M-17.3 -6.3h0M-1.5 -23.4h0M31.2 18.7h0M-33.2 .5h0M-16.5 -16.5h0M-20.4 -12.4h0M-14.1 -13.9h0M-8.4 6.2h0M-5.3 -37.5h0M-1.7 15.8h0M16.5 -21.6h0M-34.2 17.7h0M-27.3 9.8h0M24.8 -12h0M23.8 -12.8h0M33.3 17.3h0M-16.9 -21.1h0M-6.1 -27.9h0" stroke="#1a3012" stroke-width="4.2"/><path d="M-10.5 31.7h0M38.7 .6h0M23.8 -21.4h0M-23 -26.2h0M-3.5 -31.7h0M-19.8 17.8h0M-5.8 10.1h0M20.4 12.6h0M-4.9 -26.5h0M3.6 -.5h0M19.4 19.3h0M-17.8 -30.3h0M32.4 17.8h0M35.8 .5h0M-4.8 -1.9h0M9.3 -36.4h0M-6.9 28.2h0M21.9 -14.8h0M-7.7 15.9h0M-5.7 21h0M-5.9 -6.6h0M-17 15.8h0M.5 21.5h0M-3.9 -39.2h0M-3.6 -1.6h0M14.1 29.9h0M37.2 -4.6h0M8 7.3h0M1.5 24.4h0M14.6 31.5h0M25.6 17.3h0M12.2 .5h0M5.6 -6.6h0M13.5 -13.4h0M19.3 -14.3h0M5.9 31.7h0M33.6 -8.8h0M28.4 6.4h0M-1.8 -18.8h0M13.7 9h0M-19.2 14.6h0M-20.5 -1.2h0M-16.3 -12.3h0M-14.7 -32.6h0M-14 -27h0M-3.2 16.3h0M19.9 -25.9h0M-25.9 8h0M24 -16.8h0M-6.7 -4.9h0M31 -18h0M17.6 -3.7h0M21.4 -11.4h0M-12.3 2.1h0M1.8 33h0M15.5 -13.9h0M28.5 10h0M-3.9 -21.2h0M-9.2 3.8h0M-20.9 -13.4h0M-4.6 29.7h0M9.2 -11.9h0M-15.8 -14.4h0M-6.6 20.5h0M-6.5 22.9h0M5 8.9h0M-29.8 -20.9h0M12.1 -7.6h0M-28.8 -19.6h0M34.9 -10.5h0M1.9 -35.6h0M6.8 -33.9h0M12.4 .1h0M-1.1 8.6h0M33.2 7h0M-10 18.8h0M8 -15.6h0M-15.6 -14.9h0M-23.5 -27.3h0M-25.3 -2.7h0M32.6 9.2h0M2.7 22.8h0M2.4 29.4h0M3 8h0M8.5 -1.4h0M26.4 26h0M11.1 -4.4h0M2.5 -14.1h0M3.9 30.5h0M36.3 10.3h0M14.1 -33.5h0M-25.9 10.1h0M6.7 -32.9h0M-14.2 5.3h0M-17.6 3h0M-17.8 19.2h0M32 -7h0M-27.4 -4h0M20.1 19.5h0M-3 -13.9h0M9.9 -29.8h0M24.4 25.3h0M-19.9 -11.9h0M20.3 -8.9h0M-4.9 12h0M13.1 15.7h0M18.5 7.1h0M-16.6 -1.4h0M17 28.5h0M31.7 .4h0M10.1 -22.8h0M3.7 25h0M-13.4 33.2h0M1.5 -20.6h0M17 -33.8h0M18.6 27.3h0M35.9 -3.4h0M-7.8 25.5h0M-9.9 -22.2h0M3.8 -25.6h0M-.8 15.8h0M-15.1 35.3h0M5.1 -9.2h0M20.4 25h0M-27 2.8h0M-6.2 -8.8h0M-31.9 -12.7h0M-16.3 1.7h0M5.6 -25.9h0M7.9 13h0M16.5 -21.2h0M30.6 .5h0M18.8 -30.1h0M28.9 -4.1h0M-8.3 -32.9h0M3.6 -2.3h0M-27.1 18.6h0M-1.5 29.9h0M11.2 -9.4h0M-17.2 8h0M33.7 14.8h0M1.5 13.7h0M21.1 18.1h0M21.3 -22.5h0M3.1 -35.6h0M-8.5 -38h0M7.7 -29.8h0M38 1.8h0M35.5 3h0M-5 13.1h0M12.5 27.9h0M29 19.4h0M-34.7 4.4h0M-14.3 -28.5h0M3.1 -23.4h0M28.4 -9.5h0M-26.4 -13.9h0M18.6 -28.4h0M-15.7 21.2h0M-27.6 24.3h0M37.8 -.3h0M20.8 -22.1h0M4.8 -23h0M25.4 -7.8h0M14.3 19.8h0M-32.8 11.2h0M36.4 .3h0M-20.4 33.5h0M3.8 6.8h0M4.9 -19.9h0M16.8 -11.5h0M14.6 34.5h0M.4 32.9h0M4.6 30h0M3.8 -24.9h0M-7 -34.6h0M-.3 -15.3h0M8.3 6.3h0M2.4 30.5h0M2.3 7.4h0M-11.8 11.5h0M-16.1 .2h0M23.4 15.3h0M-31.2 12h0M-5.7 15.9h0M-33 -13.6h0M21 -6.2h0M-28.8 -2.3h0M25.9 21.8h0M21.9 9.1h0M15.7 2.6h0M11.3 -35.8h0M-13.8 30.7h0M-3.7 30h0M-12 -31.8h0M14.2 33.6h0M28.2 -10.6h0M-31.8 21.5h0M-22.3 27.5h0M-31.5 -19h0" stroke="#4a6c20" stroke-width="4.2"/><path d="M-28.6 20.3h0M2.5 -29.5h0M33.4 -15.4h0M29.3 21.9h0M-33.6 -5.6h0M-17.2 -34.5h0M-19.1 -29.8h0M-26 -21.5h0M26.7 -1.3h0M-31.7 19.8h0M17.4 -32.4h0M16.7 -22.2h0M7.5 -32.7h0M-14.3 28.6h0M20.8 -25.7h0M33.1 -1.8h0M-19.7 28.2h0M-30.4 -22.9h0M-13.7 -34.8h0M-13.4 -34.7h0M24.2 -18.3h0M12.8 -30.2h0M31.2 -2.4h0M-36.4 -7.1h0M-19.2 -17.5h0M-21.8 32.1h0M-2.4 25.9h0M16 34.7h0M34.2 7.4h0M38 -5.2h0M21.9 -16h0M-2.5 -29.9h0M-19.9 31.8h0M37.4 -8.3h0M-31.9 -18.9h0M8.8 27.2h0M-32.8 -14.3h0M28.8 25.6h0M36.5 -1.6h0M4.9 -30.5h0M25.3 -25.1h0M-6.7 27.8h0M20.9 13h0M-36.8 8.6h0M-3.1 29.4h0M-22.7 -19.9h0M-33.8 -9.7h0M34.5 8.2h0M-15.3 31.3h0M-20.8 33.2h0M27.2 -4.3h0M-15.8 -31.7h0M8.4 27.4h0M29 11h0M4.4 37.4h0M-1.5 -31h0M7.2 34.1h0M-27.2 -26.8h0M-14.2 25.6h0M27.1 -13.5h0M-33.1 13.5h0M-1.7 -31.4h0M34.8 -15.8h0M-12.1 35.2h0M10.4 -35.2h0M-18.5 32.5h0M38.6 -6h0M-26.7 9.5h0M-29.8 -1.6h0M29.5 24.2h0M-28.5 2.7h0M32.7 19.1h0M-10.5 35.4h0M-12.5 33.9h0M33.8 -17.5h0M-31.6 -.2h0M20.4 25.5h0M35.7 -4.3h0M-37.8 6h0M28.9 -18.6h0M-8.2 24.5h0M25.2 13.5h0M17.2 23.9h0M6.2 -35.2h0M6.2 -32.8h0M-23.4 -28.1h0M35.5 2h0M-11.2 28h0M35.2 1.5h0M9.6 -35.6h0M26 11.6h0M-33.7 13.7h0M-37.4 4.1h0M10.9 27h0M17.7 -27h0M33.9 -7.4h0M-36.2 7.8h0M-5.6 -37.8h0M31.9 -1.6h0M36 4.6h0M-25 14.7h0M-11.1 33.5h0M-19.3 -21.1h0M22.8 -25.5h0M-35.4 -12.8h0M-33.5 9.9h0M-32.7 12h0M-35.7 -1.5h0M-23.8 -2h0M-1.9 -25h0M27.7 -22.5h0M28.9 -18.1h0M-18 34.7h0M26.5 5.1h0M13.8 -24.7h0M33.4 -5h0M-36 -7.4h0M34.6 12.6h0M29 17.1h0M1.4 36.8h0M21.6 28.5h0M30 19.5h0M34 -6.4h0M27 -.4h0M1.4 36.8h0M30.7 -5.6h0M3.5 21.2h0M-13.6 31.3h0M-6.9 -34.7h0M-23.6 20.2h0M20.4 31.6h0M35.5 -6.9h0M-15.1 29.7h0M21.1 21.8h0M.1 34.4h0M-26.7 26.6h0M24.6 24.1h0M-30.3 8.5h0M35.4 4.7h0M-6.9 28.9h0" stroke="#286c2c" stroke-width="4.0"/><path d="M-3 16.9h0M-14.8 -29.5h0M-15.7 17.7h0M-24.2 20.2h0M-5.5 -6.9h0M14.4 34.2h0M8.9 -20.9h0M29.9 -6.8h0M-7 .5h0M19.6 27.3h0M-6.5 25.6h0M-20.1 7.7h0M.7 30.2h0M8.1 31.1h0M12 -25.5h0M30.4 -19.8h0M-14.4 .2h0M-4.5 -18h0M26.7 -4.7h0M-1.6 19.2h0M27.1 -21.7h0M-.6 -22.5h0M24.8 22.4h0M2.4 -8.3h0M-12.9 -13.7h0M-21.7 18.6h0M4.4 -29h0M-36.4 7.1h0M30 5.3h0M-6.7 -37.2h0M-21.3 28.7h0M-13.8 25.2h0M-24.4 -12h0M-30.7 -8.4h0M2.4 -34.4h0M12.7 -2.6h0M-33.1 7.3h0M12.3 -32h0M36.7 -7.4h0M31.5 21.9h0M-16.6 30.9h0M-22.1 -1h0M-13.9 -19.5h0M-18.9 -10.7h0M13.2 1.6h0M29.7 13.6h0M14.9 -20.2h0M11.4 -9.7h0M10 23h0M29.8 -2.2h0M5.7 22.1h0M-30.9 -14h0M7.9 22.2h0M-10.1 32.1h0M19.2 21.9h0M-8.2 -32.3h0M11.2 -5.5h0M-9.8 -6.8h0M18.8 -23h0M-9 17.8h0M36.8 9h0M7.6 -23.5h0M-32.8 5.4h0M-1.6 -3.6h0M-16.3 12.8h0M-4.9 22.2h0M17.2 31.9h0M-11.1 25.2h0M-14.8 -3.9h0M-14.2 -24.2h0M-6.6 4h0M-3.3 -29.2h0M3.8 -7.7h0M17.5 -4.8h0M1.4 23h0M-11.2 -3.1h0M5.9 1.3h0M-8.3 14.3h0M31.6 8.6h0M-28.7 4.1h0M-9.5 30.7h0M-4.9 -24.6h0M28.6 17.8h0M-24.4 2.7h0M-9.2 -16.1h0M20.4 5.8h0M1.4 -13.5h0M1.3 -23.6h0M11.9 26h0M-22.4 -27.7h0M.1 33.3h0M19.8 12.5h0M-1.5 7.4h0M25.1 -.5h0M-17.5 17.5h0M1.7 -13.4h0M-22.9 5.3h0M-32.4 .3h0M-.8 -1.8h0M.1 33.2h0M-1.8 -16.8h0M24.9 16.1h0M-5.4 -2.1h0M-13.9 16.1h0M-26.2 16.4h0M.3 27.9h0M17.3 29.5h0M23.8 17.7h0M24.3 -17.8h0M-10.3 26.1h0M-6.8 31.2h0M-4.6 -2.1h0M-14.5 -27.6h0M.7 34h0M-10.4 13.6h0M6.9 -8.2h0M15.1 -16.4h0M9.7 -5.7h0M-.3 -32.9h0M-2.6 10.8h0M-3 -13.5h0M8.4 -19h0M10.1 11.7h0M-7.2 -29.4h0M3.9 3.1h0M-1.8 -22.9h0M4.6 -12.2h0M-24.2 -.3h0M5.9 -31.7h0M25.4 6.3h0M-1.5 15.4h0M31.8 -15.2h0M10.7 34.5h0M11.6 -3.5h0M27.3 -1.8h0M19.8 -19.1h0M-24.8 17.2h0M-34.7 -8.7h0M11 19.8h0M16.8 14.2h0M-4 -37.6h0M-21.6 -5.2h0M2.7 12.5h0M22.1 .8h0M18.6 32.2h0M20.8 9.2h0M20.5 -3.9h0M15.1 -27h0M15.7 32.3h0M11.5 33h0M-6.1 -27.1h0M-32.3 -.9h0M-13.7 33.2h0M-23.8 13.4h0M-.2 9.2h0M-4.5 -5.7h0M-16.9 26.7h0M20.5 -5.3h0M-28.4 -20.7h0M16.2 1.4h0M-15.4 25.9h0M0 30.7h0M-8.8 10.1h0M-13.2 26.3h0M27.2 6.2h0M-32.9 -15.4h0M23.9 10.9h0M5.2 2.1h0M-23.1 -3.5h0M-3.2 28.4h0M3.8 30.6h0M-17.1 13.2h0M2.5 23.8h0M17.1 -14.1h0M4.2 9.7h0M-17 22.7h0M6 -5.1h0M-15.2 -4.9h0M.6 -16.2h0M23.2 9.9h0" stroke="#7a8c24" stroke-width="3.8"/><path d="M.4 -4.2h0M.4 31h0M-36.2 -9.4h0M-17.1 31.9h0M11.9 11.3h0M12 -15.5h0M18.4 1h0M-29.1 -9.2h0M-26 -14.9h0M15.8 33.5h0M16.3 9.6h0M0 -7.5h0M19.6 -3h0M-24.3 -20.9h0M-33 -2.7h0M10.7 -15.5h0M-31 -17.3h0M3.9 -19.8h0M14.5 34.1h0M2.9 -17.4h0M22.1 -10h0M1.6 -9.3h0M-15.1 -2.6h0M-1 10.7h0M9.8 33h0M-.4 8.7h0M13.2 21.6h0M1.9 -2.1h0M-11.2 -5.1h0M-1 18h0M10.5 -4.9h0M-19.9 22h0M-12.8 -15.1h0M15.6 -23h0M-23.7 -18.2h0M-10.7 33.7h0M-14.8 31.2h0M-15.9 -8.9h0M33.7 -15.3h0M34.5 17h0M9.8 -28.7h0M-14.6 -27.9h0M-3.2 18.9h0M32.7 -4.9h0M7.6 -19h0M35.8 3.1h0M.8 -11.2h0M3.2 -23.7h0M23.5 -9.8h0M-34.7 -1.2h0" stroke="#1a3012" stroke-width="3.0"/><path d="M16.4 -5.5h0M-1.8 -1.5h0M-3.7 -13.9h0M5.1 18.1h0M-27.3 -12.2h0M-1.4 -3.6h0M.4 11.7h0M19.6 11.2h0M-2 32.8h0M-29.1 18.6h0M-7.8 15.1h0M-16.1 30.9h0M-25.7 10.2h0M-2.5 31.7h0M-28.8 7.2h0M.6 -2.9h0M31.5 3.5h0M-18.1 -4.2h0M-24.2 -13.4h0M-12.1 13.3h0M12.4 22.2h0M-15.7 17.7h0M8.9 -20.7h0M-5.3 -34.4h0M30.2 -8h0M-.1 -6.6h0M-21 -22.1h0M-25.3 -11.7h0M-30.2 -7.1h0M19.7 -3.2h0M20.6 -16.3h0M18.5 19.8h0M31.5 17.2h0M-17.9 20.7h0M-9.5 -3.6h0M-7.2 2.7h0M24.7 6.4h0M-22.8 -6.7h0M-11.8 -4.9h0M-12.2 9.7h0M10.8 -18.4h0M-8.7 19.8h0M-11.9 -15.9h0M-32.2 13.2h0M16.4 -14.8h0M-28.6 -4.7h0M25.1 26.1h0M-8.5 21.8h0M-12 9.4h0M-4.8 -3.5h0M-23.3 18h0M12.3 8.5h0M.9 27.9h0M-26.8 -22.2h0M-.2 .5h0M2.1 -7.3h0M6.2 3.9h0M1.1 14.3h0M-9.9 -22.6h0M-10.6 -19.5h0M-26.5 -10.6h0M-20 6.9h0M-3.2 .9h0M17.9 -17.7h0M-24.7 -15.4h0M-11.1 21.9h0M-29.1 -8.1h0M21 -26h0M10.4 -9.4h0M14.6 -.4h0M-20.1 22h0M-5 11.2h0M7.6 9.1h0M-8.6 -11.6h0M8.7 5h0M24.7 1.2h0M4.9 -5.6h0M6.8 18.9h0M-10 3h0M-10.7 -9.8h0M-12 -14.9h0M-22.5 -.1h0M-3.8 -26.3h0M1.2 3.7h0M32.4 -14.3h0M-27.9 17.9h0M-1.5 .5h0M-13.7 -20.5h0M10.2 1.6h0M3.1 21.1h0M-27.4 -5.1h0M15.9 -13.6h0M27.3 7.9h0M10 19.5h0M-28.6 18.8h0M-4.6 -9.6h0M18.9 8.6h0M-12.4 -28.1h0M2.9 14.3h0M-16.6 26.9h0M-17.8 .9h0M12.7 16.1h0M-22.7 27.7h0M33.9 -2.3h0M-22.5 -13.8h0M32 -4.2h0M-21 -18.2h0M20.6 -11.4h0M13.3 -11.3h0M-2 10.9h0M22.1 6.9h0M5.7 5.6h0M19.9 8h0M-17.2 17.6h0M7.1 -24.6h0M-1.3 -5.4h0M8.3 4.7h0M17.3 -22.2h0M-9.2 -9.8h0M-14.3 -4.2h0M-21.5 25.2h0M6.7 -5h0M-11.6 17h0M-.7 .2h0M23.9 7.6h0M13.3 20.7h0M-8.1 -25.4h0M-32.9 -13h0M12.4 5.5h0M.6 25h0M17 9.4h0M28.3 -3.4h0M-5.8 -.2h0M-27.6 18.1h0M5.9 13.7h0M-4.9 15.5h0M-2.5 -12.7h0M-6.8 1.1h0M29 -15.8h0M29.3 -15h0M-20.4 11.9h0M-5.1 -17.7h0M-.7 -18.2h0M-3.2 -4.3h0M2.9 1.3h0M-12.3 18h0M8.4 26.9h0M-1 4.9h0M33.8 -11.9h0M25.1 -4.7h0M-14.2 11.7h0M14.5 -15.1h0M23.4 25.1h0M-6.4 5h0M14.9 26.4h0M-.9 5.3h0M20.2 2h0M-16.4 -23.8h0M12.7 -3.6h0M4.7 -31.5h0" stroke="#b4b02a" stroke-width="3.3"/><path d="M-26 4.9h0M10 30.2h0M9.1 -2h0M-23.6 -18.2h0M20.6 -16.1h0M-24.3 -3.4h0M26.6 -17.7h0M-16.6 19.2h0M23.6 -19.9h0M8.5 .8h0M-21 -1h0M8.5 26h0M7 21.6h0M-2.1 2.7h0M-.9 8h0M5.3 -9.7h0M23.5 14.1h0M-11.4 6.7h0M-25.6 -21.6h0M1.9 -5.5h0M12.2 4.5h0M-9.9 -15.1h0M5.8 -5.3h0M5 6.9h0M2 -32.8h0M16.4 10.8h0M16.1 11.1h0M30.5 12.1h0M-13.3 15.7h0M2.5 -12.3h0M9 -6.9h0M-5.1 -8h0M3.8 -5.6h0M-2.5 -29.1h0M17.9 2.5h0M-13.5 -10.4h0M6.5 -16h0M-32.3 1.7h0M-9.2 -6.8h0M-30.4 -12h0M-32.2 1.9h0M7.7 24.3h0M-1.6 21.5h0M-24.7 9.1h0M4.6 -1.1h0M3.8 31.6h0M2.1 -7.2h0M-2.1 -3h0M9.4 -29.1h0M-9.5 -27h0M17.4 22h0M-16.3 -25.3h0M2.4 -15.1h0M18.4 15h0M8.5 4.1h0M-13.8 -6.7h0M16.4 6.2h0M-15.7 -13.2h0M-1.8 -25.4h0M-1.8 12.8h0M8.1 22.2h0M-29.1 -12h0M-9 29.7h0M-11.2 -2.1h0M10.4 -4.9h0M-1.2 -3.1h0M.2 -21.4h0M14.5 20.5h0M28 8.7h0M18.5 3.2h0M24.3 -1.7h0M22.5 -19.6h0M22.6 5.7h0M16.5 23.9h0M-4 24h0M20.4 26.2h0M7.5 21.9h0M-2.4 -28.9h0M-8 -10.9h0M-14.4 3.2h0M-7.6 27.1h0M2.9 -5.3h0M-12.3 -14h0M24.6 -5.8h0M-9.1 -9.1h0M-10.3 -27.5h0M27 10h0M8.1 -5.6h0M14.2 12.4h0M30.8 -3.3h0M1.1 -18.2h0M-1.5 5.9h0M17.4 15.4h0M6.2 11.6h0M24.4 13.1h0M2.8 15.4h0M2.4 -2.8h0M11.5 15.5h0M4.2 -32.3h0M-19.9 -10.6h0M-27.5 -3.2h0M-3.8 1.7h0M12.3 -11.1h0M8.6 9.6h0M6.9 -20.9h0M10.4 14.6h0M17.9 -10.4h0M-7.9 -8.2h0M19.5 5.2h0M-1.1 12.9h0" stroke="#d49020" stroke-width="3.0"/><path d="M35.8 -1.6h0M-18.5 15.7h0M-23 -25.9h0M15.8 -28.3h0M18.2 24.9h0M-18.2 18h0M-7.5 -.9h0M9.7 10.3h0M-8.8 -17.9h0M-25.1 -20.1h0M-18.3 -22.3h0M-20 29.5h0M-16.1 35.1h0M-22.7 -22.6h0M25.2 2.2h0M-1.6 -36.1h0M2.9 11.1h0M-1.8 3h0M18.4 -5.7h0M1 24.6h0M18.9 13.9h0M-3.1 25.1h0M10 36.7h0M16.7 -.2h0M-24.1 11.1h0M-17.8 -20.1h0M-1.7 -8.4h0M-27.2 21.1h0M-4 -29.3h0M-27.3 15.2h0M34.3 9.2h0M-12.7 29.7h0M9 -19.6h0M-32.3 -2.3h0M38.5 6.3h0M-27.6 13.9h0M-31.5 -8.5h0M32 -4.6h0M16.7 -27.9h0M-25.7 -19.9h0M-5 -28.5h0M-19.6 32.6h0M-27.9 22.5h0M12.8 -36.1h0M-4.8 -30.7h0M3.1 5.2h0M-25.6 -6.4h0M-37.4 8.8h0M-9.2 1.6h0M-30.5 -10.4h0M-14.9 26.3h0M9.1 -14.3h0M14.4 25.8h0M21.9 -18.1h0M2.8 -20.1h0" stroke="#1a3012" stroke-width="2.6"/><path d="M9.1 22h0M-18.5 2.2h0M-28.4 -4.8h0M2.3 29.5h0M10.9 19.2h0M-3.9 -38.9h0M-8.1 10.7h0M-7.8 -29.2h0M-15.9 -27.8h0M11.3 -17.6h0M-16 -30h0M-29.4 -13.2h0M7.3 9.7h0M9.6 -2.5h0M15.4 -20h0M-18.2 26.5h0M28.2 1.5h0M-12.9 30.4h0M29.1 22.9h0M12.4 -11.4h0M4.9 22.8h0M9.2 31.2h0M10.7 -30.6h0M7.8 25.1h0M-1.5 -17h0M-15.1 2.6h0M-9.4 2.4h0M11 36.6h0M13.2 12.6h0M9.7 7.9h0M14.8 -25.3h0M17.7 9.7h0M25.1 18.8h0M-3.6 16.5h0M16.1 35.6h0M27 7.4h0M14.3 -6.5h0M-10 34.1h0M11.2 -13h0M16.9 16.3h0M-14.4 -36.9h0M-35.5 5.3h0M-10 -3h0M8.9 28.1h0M-17 1.2h0M-14.7 9.5h0M25.7 27.8h0M-5.8 -30.2h0M16.3 -7.7h0M-.3 31.3h0M6.7 34.4h0M-12.8 28.5h0M32.4 21.2h0M9.4 -19.4h0M21.4 -26.5h0M-34.7 -2.1h0M24.9 -4.6h0M-25.1 -9.3h0M-24.7 16.3h0M10.6 32.5h0" stroke="#3a802c" stroke-width="2.8"/><path d="M-14.8 -6.5h0M-21.5 11h0M3.9 14.2h0M14.3 16.7h0M8 16.9h0M-11.7 7.2h0M-12.8 -12.9h0M5 -4.6h0M26.9 -11.5h0M21 19.7h0M-8.8 -23.6h0M5.5 -20.7h0M2.2 -24.8h0M5.1 -11.3h0M8.7 -4.5h0M14.8 -3.6h0M-3.3 -22.9h0M21.5 3.4h0M4.6 -19.7h0M26.3 5.2h0M-5.7 21.3h0M-3.7 -2.4h0M3.1 -24.9h0M11.2 10.3h0M-3.8 22.7h0M-2.6 9.7h0M11.4 23.4h0M-21.3 -13.9h0M11 -7.5h0M-13.5 -11.9h0M15 6.8h0M25.8 -9.5h0M23.6 -9.6h0M-13.3 13h0M.1 -25.6h0M15.9 7.5h0M2.7 -16.6h0M-7.4 12.6h0M3.4 8.2h0M-12.1 2.9h0M3.7 15.5h0M13.8 6.3h0M20.9 -14.3h0M4.8 4.7h0M-6.2 24.7h0M-13.3 5.7h0M-9.9 5h0M-7.1 14.6h0M9.1 3.1h0M-10 -15.5h0M18.1 -16h0M-9.9 5.3h0M-17.5 -2.2h0M13.1 13.5h0M9.6 -8.3h0M-5.9 22.4h0M2.5 -28.8h0M-2.1 -21.1h0M10.3 -3.5h0M-25.7 -13.3h0" stroke="#dcd030" stroke-width="2.6"/></g>
<g transform="translate(674.4 249.7)"><path d="M33.8 0L33.5 3.3L31.1 6.2L31.4 9.5L29.3 12.1L28.9 15.5L26.4 17.7L25.3 20.8L22.1 22.1L19.7 24.1L18 26.9L15 28L11.8 28.4L9.1 29.9L6 30.3L3.2 32.1L0 31.7L-3.2 32.4L-6.2 31.3L-9.4 31.1L-12.7 30.6L-16.2 30.3L-18.8 28.2L-21.3 26L-23.4 23.4L-25.5 20.9L-27.6 18.4L-28.6 15.3L-29.6 12.3L-31.1 9.4L-32 6.4L-32.6 3.2L-32.1 0L-32 -3.2L-31.6 -6.3L-31.3 -9.5L-30.2 -12.5L-28.7 -15.4L-26.9 -18L-25.6 -21L-22.7 -22.7L-20.5 -24.9L-17.3 -25.8L-14.5 -27.1L-12.3 -29.8L-9.3 -30.6L-6.4 -32.2L-3.3 -33.1L0 -32.4L3.2 -32.8L6.4 -32.3L9 -29.6L12.2 -29.5L14.5 -27.2L18 -26.9L19.9 -24.2L22.9 -22.9L25.3 -20.8L27.3 -18.2L28.6 -15.3L30.6 -12.7L31.5 -9.6L32.3 -6.4L32.9 -3.2Z" fill="#1f0d07"/><path d="M26.6 19.3L28.7 22.3L28.2 24M34.2 -1.2L37.8 -2.6L38.9 -1.1M25.7 -20.8L29.7 -21.3L31.3 -20.4M22.7 -23.9L26.5 -26.8L25.4 -28.2M-30.8 11.2L-36.2 13L-36.5 14.8M32.9 -9.4L35.2 -11.4L36.7 -10.5M-33 2.4L-38.4 5.5L-38.5 7.3M15.8 -28.2L21.8 -31.4L23.5 -30.9M-19.9 -25.5L-20.1 -30.2L-19.5 -32M-23.9 -22.4L-26.6 -26.4L-25.6 -28M11.6 -30L12.7 -33.1L14.5 -32.8" stroke="#311208" stroke-width="1.3" stroke-linejoin="round"/><path d="M22.2 24.9h0M34.9 -.5h0M25.9 23.3h0M-29.3 20h0M-34.5 2.7h0M-12.6 -32.9h0M15.7 29.7h0M30.6 15.8h0M29.6 -18.2h0M-21.2 -26h0M30.6 -17.4h0M34.9 5h0M-33.7 -3.3h0M-32.6 10.3h0M-25.5 27.3h0M35.5 -8.2h0M34.4 -11.5h0M-31.9 -13.1h0M-24.8 -24.6h0M19.6 28.4h0M14.7 29.1h0M.6 -35.9h0M28.3 18.3h0M31 -18.1h0M35.1 .2h0M29.1 18.6h0M15.1 29.9h0M-3.3 33.9h0M-7.9 32.6h0M-5.6 34.3h0M22.4 -26.6h0M-33.2 11.2h0M10.6 30.7h0M.4 34.5h0" stroke="#491c0c" stroke-width="2.6"/><path d="M-21.6 1.8h0M-5.4 -.6h0M-23.5 8.4h0M-7.8 -20.2h0M-19.4 8.2h0M8.7 16.3h0M-2.3 -4.2h0M25.4 1.9h0M11.2 -8.7h0M3.8 16.6h0M-15.3 -15.1h0M11 15.7h0M4.6 -13h0M.4 15.3h0M-15.2 .3h0M-1.9 11.7h0M-16.1 19.8h0M3.1 -17h0M-5.3 1.2h0M-6.5 11.5h0M-14.1 13.6h0M19 -11.3h0M4.1 8.3h0M-10.7 -20.7h0M-4.7 -23.1h0M11.2 -23.1h0M3.2 -.2h0M-3.9 .8h0M1.6 -5.2h0M5.1 -2.6h0M-24.8 -10.1h0M-20.9 .4h0M-8.7 -9h0M-15.1 10.7h0M17.2 14.7h0M-10.9 -11.8h0M13.7 -2.4h0M3.2 -8.7h0M16.8 17.9h0M-15.4 -2.3h0M18.8 -4.2h0M-.1 6.3h0M-2.4 -6.1h0M-13.1 -5.6h0M1.4 3.9h0M-16 -7.4h0M13 4.6h0M-1.8 -.2h0M-25.2 4h0M-15.3 -2h0M12.5 3.6h0M-5 -6h0M9.2 .9h0M-7.3 -10.3h0M11.9 -13h0M-12.6 24.6h0M-2.9 19.8h0M17.7 12.6h0M12.5 -16.5h0M-.3 -16.3h0M-5.7 .6h0M-5 -16.7h0M20.5 0h0M20.2 -3.5h0M-2.3 -4.4h0M-26.5 5.7h0M-19.4 -12.5h0M-12.8 16h0M11.2 17.1h0M17.9 19.4h0M3.1 5.5h0M-5.8 -10.4h0M-11.8 -9.5h0M14.8 8.5h0M6.1 4.9h0M-5 -1.1h0M7.3 5.5h0M5 -10.9h0M-4.3 -27.1h0M-17.8 8.2h0M11.6 -6.6h0M-21.5 -10.4h0M7.9 -6h0M-9.6 -17h0M-13.9 1.3h0M23.1 10h0M10.1 -19.4h0M5.1 4.1h0M9.5 21.2h0M-5.5 .6h0" stroke="#130704" stroke-width="4.2"/><path d="M-21.1 -10h0M-16.9 -18.5h0M4 -4.7h0M-6.7 12.8h0M-4.9 -23.1h0M13.5 18h0M11.8 -20.7h0M13 -1.9h0M23 6.5h0M7.6 -4.1h0M5.9 -31.3h0M.1 -33.7h0M13.9 -4.9h0M-1 28.3h0M-8.7 -4.5h0M4 23.2h0M8.2 14.5h0M15 24.7h0M-30.3 9.3h0M-17.3 6.4h0M10.1 -8.3h0M8.1 31.3h0M-3.2 16.3h0M28.4 3.2h0M23 -6.8h0M-19.4 15.1h0M-23.7 4.1h0M17 17.6h0M6.3 1.9h0M33.1 3.8h0M-3.6 27h0M-14.7 5.9h0M3.6 5.3h0M21.8 13h0M-29.9 10h0M-14.1 -19.7h0M-14.1 4.6h0M-1.9 7.6h0M-15.9 20.4h0M10.3 23.5h0M17.1 22.2h0M27.2 8.8h0M-.7 -13.9h0M25.3 -19.6h0M13.8 7.4h0M28.2 -2h0M16.5 -2.9h0M-16.1 28.2h0M-14.7 16h0M19.1 -23.9h0M15.7 -6h0M21.8 -15.3h0M7.1 23.6h0M20.5 -19.6h0M6.6 27h0M7.3 14.7h0M12.3 .2h0M1.9 8.6h0M4.4 -18.2h0M-28.8 9.6h0M-19.5 7.2h0M-25.2 -6.4h0M-6.9 4.9h0M5.3 20.6h0M21.3 21.6h0M-25.7 9.2h0M-20.3 19.1h0M-6.6 22.3h0M22.1 -6.9h0M-13 -9.9h0M-21.1 15.4h0M4 27.1h0M-19.8 6.6h0M19 -21.6h0M-16.4 5.2h0M15.1 -20.7h0M14 -17.2h0M22.1 1.9h0M5.1 30h0M-7.1 9h0M3 13.2h0M-28 -11.3h0M6.6 -21.3h0M-6.7 11.7h0M22.8 -3.3h0M31.2 8.1h0M-8 16.5h0M14.9 19.2h0M3.3 .8h0M-3.7 -34.1h0M1.9 6.5h0M-12.6 2.2h0M-3.1 3.8h0M30.2 -4h0M-11.4 9.5h0M14.5 -8.4h0M3.9 31.9h0M-2.5 1.4h0M-4.4 -28.2h0M-29.8 -11.6h0M-4.4 2.7h0M-7.7 4.4h0M8.9 27.7h0M12 4.1h0M-2.6 18.3h0M-22.8 22.1h0M-8.2 -6.7h0M22.8 1.2h0M1.1 -26.2h0M-22.4 -11.3h0M24.1 -8.3h0M-30.8 7h0M-14.4 -16.1h0M-2.4 -26h0M18.4 4.5h0M3.1 19.5h0M-8 8.7h0M-18.8 -16.5h0M-10 -31.3h0M-20.9 3.6h0M22.8 -.3h0M.7 -26.7h0M-6.1 -27.6h0M12.9 26h0M-5.2 29.7h0M27.2 0h0M-11 -16.7h0M-28.4 -13.2h0M-25.6 -7h0M-5.6 -.5h0M19.8 25.4h0M-13.7 8.6h0M-9.8 14.6h0M-1.1 18.3h0M18.1 -5.1h0M-28.3 11.6h0M6.8 10h0M-9.9 5h0M28.1 12h0M-27.6 3.3h0M-4.2 26.3h0M8.5 12.1h0M14.4 -22h0M-21.2 9.4h0M6.2 19.2h0M.3 -33.4h0M-20 17.7h0M-9.3 4.4h0M-13.6 11.3h0M-24.8 -6h0M9.6 -1.4h0M27.7 -1h0M.4 -16.4h0M12.9 17.9h0M25.1 -7.5h0M-13.9 -27.4h0M3 -17.4h0M5.9 -1.6h0M-1.2 -13.9h0M-4.6 -2.1h0M-15.7 3.2h0M28 -16.5h0M-32.8 -5.6h0M10.5 -15.6h0M-8.5 -12h0M-17.1 4.4h0M12.7 20h0M-21.1 7.7h0M-18.3 -11.8h0M-26.2 7.5h0M12.7 3.6h0M5.6 -25.7h0M-18.1 20h0M8.9 18.4h0M-16.4 20.1h0M9.9 -21.4h0M12.8 -7.9h0M15.5 -8.2h0M9.6 27.9h0M-21.7 5.9h0" stroke="#311208" stroke-width="3.6"/><path d="M2 24.6h0M19.6 21.7h0M-28.1 12.6h0M-15.3 -24h0M-7.7 22.4h0M31.9 3.6h0M29 8.6h0M23.3 -2.9h0M4.3 -30.7h0M-19 24.8h0M16.9 24.6h0M26.7 8.1h0M-30.7 9.9h0M6.7 23.7h0M-3.5 27.3h0M23.9 8.1h0M-14.3 -26.6h0M27.9 13.5h0M17.7 14.3h0M33.9 -5.7h0M-27.2 13.9h0M-26.1 .7h0M27.8 3.9h0M-29.8 9.1h0M27.3 13.7h0M-30.4 9.1h0M-16.7 28.9h0M-4.4 -30.3h0M9.8 27.4h0M29 -7.1h0M-9.3 27.3h0M-.7 31.2h0M-31.9 -4.7h0M-22.7 -17.8h0M29.1 -9.3h0M23.2 18.3h0M28.6 -15.9h0M8.3 21.4h0M24.2 7.2h0M13.1 -21.2h0M4.3 -31.7h0M20.1 12.4h0M20.9 24.2h0M-25.7 17.9h0M-19.6 24.9h0M26.1 -9.8h0M27.2 11.6h0M7.4 -31.8h0M-20.8 -21.5h0M-28.8 16.9h0M1.9 27.3h0M33.7 -4.7h0M7.2 25.1h0M7 -24.5h0M18 25.3h0M29.3 8.3h0M-9.6 29.4h0M31.2 -7.7h0M-11.9 28.8h0M12.4 26.5h0M-22.8 -12.6h0M26.2 5h0M26.6 8.1h0M23.8 -22.1h0M-25.6 -11.2h0M-16.4 -26.7h0M23 23.3h0M-11.9 -23.6h0M-20.5 2.9h0M19.2 -21.6h0M10.8 -24.6h0M-30.2 -5h0M22.3 6.2h0M-19.5 19.4h0M-21.1 -13h0M-10.7 -21.1h0M33.5 -3.8h0M24.6 21h0M19.6 16.5h0M-14.7 28.9h0M-30 11.9h0M11.1 18.3h0M21.1 -21h0M-24.5 10.1h0M-32 -.5h0M-15 -26h0M21.9 -15.2h0M-31.5 10h0M23.1 17.1h0M-1.9 -31.5h0M14.1 -25.7h0M-15.6 -25.9h0M29.2 -16.7h0M-14.7 20.2h0M-17.4 23.3h0M33.5 -7.1h0M9.6 -25.5h0M-5.9 -20.9h0M-22.1 9.9h0M27.5 2.2h0M-20.5 -7.5h0M30.9 2.3h0M13.6 -24.5h0M26.2 15.1h0M2 22.6h0M-1.1 28.4h0M20.1 15.9h0M21.4 12.6h0M9.4 22.4h0M-25.3 17.1h0" stroke="#491c0c" stroke-width="2.8"/><path d="M-27.4 11h0M12.8 26.7h0M31.1 4.5h0M-1.7 27.9h0M-26.4 -10.1h0M23.6 9.9h0M2.6 -32.5h0M-2.8 -31.1h0M-2.7 28.4h0M-21 19.6h0M-3.4 30h0M-12.2 -27.5h0M19.5 22.3h0M-25.6 6.4h0M-16 -18.7h0M23.4 9h0M16.2 24.9h0M.7 30.6h0M-1.9 28.6h0M-14.3 -16.7h0M-24.8 -18.2h0M30.1 -5.7h0M26.9 16.3h0M26.9 -6.5h0M-10.7 31h0M22.5 -20.7h0M16.9 27.1h0M-26.6 12.2h0M-10.7 -31.4h0M-21.7 -22.9h0M10.4 29.7h0M19.6 -23.5h0M-8.1 26.2h0M29 -12.6h0M32 7.4h0M28.8 9.8h0M-23.7 -15.5h0M-29.4 -8h0M8.5 22.1h0M-23.5 -9.4h0M27.1 -8.8h0M-9.9 -24.6h0M23.7 -8.1h0M10.2 27.4h0M21.5 10.6h0M8.8 -25.7h0M-23.7 -8.7h0M.5 -31.4h0M30 .2h0M25.4 -16.3h0M7.6 29.5h0M20 -20h0M16.1 -16.3h0M-15.7 -22.2h0M28 11.4h0M-31.4 -8.6h0M-30 -13.8h0M-30.6 8h0M9.6 -26.1h0M-28.9 8.7h0M31.3 8.8h0M-4.2 27.9h0M32.7 5.8h0M-7.3 -31h0M-4.1 28.7h0M-28.8 13.5h0M-15.8 -14.6h0M-19.2 -17.8h0M19.3 -24h0M8.2 -31.3h0M30.1 .3h0M30.6 5.1h0M-20.5 16.9h0M3.5 28.2h0M-12.1 -29.8h0M-26 11.5h0M11.3 19h0M24 -13.7h0M-24.4 -12.8h0M20.6 -24h0M-.3 -28.3h0M-21.5 4.8h0M20.9 23.1h0M-8 -26.2h0M15.6 -26.2h0M-3.8 29.5h0M-26.3 10.5h0M16.3 13.2h0M-27.6 -15.8h0M26.4 5.6h0M-31.4 6.5h0M32 -.8h0M10.8 25.7h0M4.4 27.4h0M.1 21.7h0M29.9 -12.9h0M-24.5 -5.8h0M33.7 3.1h0M-31.9 1.8h0M-2.4 -28.7h0M9.2 -27.3h0M-8 28h0M-28.5 -11.8h0M30.2 6.2h0M-14.6 -13.2h0M15.6 27.2h0M12.5 -29.4h0M24.3 20.6h0M19.2 -24.6h0M27.2 6.8h0M-21.9 25h0M9.2 -26.8h0M6.5 -28.3h0M26.7 8h0M-18.4 29.5h0M-25.5 5.3h0M-23.6 -15.9h0M20.5 19.8h0M-24.1 18.2h0M-1.3 -33.5h0M21.6 16.6h0M-28.8 -15.6h0M-23.2 -15.1h0M7.2 20.7h0M-6 -20.6h0M-24.1 8.1h0M30.7 5h0M-6 -25.7h0M22.6 -22.4h0M-31.1 2.7h0" stroke="#8c2f16" stroke-width="1.7"/><path d="M-23.3 4.5h0M-6.1 24.6h0M-.1 -29.5h0M-2.1 20.8h0M-10.1 -27.5h0M14.2 -27.6h0M-.8 28.3h0M16.5 -11.4h0M-26 -6.3h0M-15.1 12.7h0M17.8 20.6h0M-19.2 5.5h0M.7 10.6h0M-23.8 -6.1h0M-30.1 3.9h0M-16.9 4.6h0M.7 -28.6h0M.5 29.8h0M32.2 6.5h0M4.9 9.2h0M5 22.4h0M-15.3 14h0M14.6 -7.8h0M-17.4 26.6h0M18 17.1h0M-13.3 -16.1h0M25.4 -17.6h0M-7.6 25.7h0M-15.6 -10.9h0M-2 -14.5h0M-1.8 25.8h0M-19.5 -16.7h0M21 -25.2h0M-24.5 4.8h0M8.3 -23.6h0" stroke="#a14223" stroke-width="1.7"/><path d="M-18.8 28.5h0M-15.5 -24.2h0M-28.7 .8h0M-25.3 16.4h0M-26.2 18.5h0M-25.6 -14.8h0M-15.4 14.5h0M-31.4 -4.8h0M-20.8 -11.2h0M-14.7 -21.9h0M-9.7 -11.9h0M-16.7 -16.2h0M-24.6 -13.3h0M-14.1 -7.7h0M-26.6 -15.9h0M-23.1 -23.6h0M-17.3 -24.6h0M-26.7 18.3h0M-24.2 -8h0M-9.8 12.6h0M-21 2h0M-26.1 21.8h0M-19.9 8.8h0M-25.7 4.8h0M-30.6 7.6h0M-30.1 -12.3h0M-20.6 -19.3h0M-29.9 7.8h0M-24.9 4.5h0M-21.6 -15.7h0M-21.2 26.4h0M-20.4 -19.5h0M-32.5 3.3h0M-30.2 -11.4h0M-29.2 -4.9h0M-26.5 -19.1h0M-16.8 8.6h0M-30.4 -10.1h0M-27.6 -15.4h0M-21.6 -7h0" stroke="#72491b" stroke-width="2.2"/><path d="M-17.9 3.6h0M-30.5 -10h0M-26.4 -9.6h0M-17.7 -19.3h0M13.6 26h0M26.2 -19.1h0M17.5 -20.2h0M10.5 -26h0M6.6 -25.4h0M-.6 -12.3h0M-19.4 17.8h0M-1.8 -24.4h0M12.8 -25.6h0M-30.2 4.5h0M-9.7 -12.9h0M-12.1 -21.2h0M27.5 7.2h0M4.9 -15.3h0M-1.1 -28.1h0M15.8 -1.2h0M-2.6 16.9h0M-4.2 -18.1h0M31.9 -3.7h0M-18.1 16h0M-9.9 17.8h0M15 .8h0M-11.6 -2.9h0M15.5 -8.3h0M5.1 4.8h0M28.7 10.7h0M-12.5 -24.3h0M-13 2.6h0M3.6 -30h0M27.5 -.2h0M-15.2 -17.6h0M28.2 -12.2h0M-16.3 28.3h0M-10.8 -23.8h0M-16.4 15.1h0M20.7 -16.2h0M2 -1h0M-20.4 -4.8h0M-7.4 -16.6h0M-11.8 24.8h0M17 26.7h0M-27.9 1.9h0M-5.3 19.6h0M-2.3 5.3h0M-5.1 14.2h0M-2.8 -.1h0M-24.5 14.9h0M-1.5 14.3h0M.5 30.1h0M18.6 -26.2h0M-1.5 28.8h0M-11.5 -14.2h0M25.6 -5.8h0M-30.5 12.9h0M-10 -27h0M-25.1 24.7h0M-14.5 -26.9h0M31.3 9.9h0M14.2 -21.9h0M29 3h0M-18.5 -2.9h0M19.2 -15h0M-21.4 -5.9h0M-12.2 -30.7h0M-21.1 -12.1h0M9.3 -16.2h0M-12.8 .2h0M-32.2 -4.2h0M1.5 17.5h0M-13 -9.3h0M.4 -1.2h0M-25.8 3.1h0M-14.6 -4.3h0M24.8 21.9h0M-31.7 7.6h0M-22.8 -13.5h0M-21.6 24.1h0M16.7 3.8h0M.9 -3.7h0M9.6 -9.2h0M28.3 6.7h0M12.1 14.8h0M17.6 -15.7h0M-11.2 -24.7h0M9.3 26.9h0M-22.3 -9.8h0M-20.6 27.2h0M13.1 -16h0M15.9 9.1h0M-10.4 -20.3h0M9.5 -5.4h0M24 -11h0M8.7 -2.4h0M-16.3 -5.7h0M6 14.1h0M-15 26.4h0M-6.8 32.5h0M9.7 -4.1h0M6.7 -20.3h0M-21 -24.2h0M9.9 -6.8h0M5.1 -32.1h0M-20.6 -15.3h0M9.3 -21.8h0M5.1 -4.6h0M-23.9 -15.2h0" stroke="#62210d" stroke-width="1.6"/></g>
<g transform="translate(786.2 243.8)"><path d="M33.8 0L33.6 3.3L32.4 6.5L31.2 9.5L30.7 12.7L29.6 15.8L27.9 18.6L26.7 21.9L24.5 24.5L21.8 26.5L19.1 28.6L16.9 31.6L13.4 32.4L10.1 33.3L7 35.1L3.4 34.7L0 35.4L-3.4 35L-6.7 33.9L-10.1 33.3L-14 33.8L-16.5 30.8L-19.5 29.2L-22.5 27.4L-24.5 24.5L-25.7 21.1L-28.5 19.1L-31 16.6L-31.5 13L-34.3 10.4L-34.1 6.8L-34.8 3.4L-35.6 0L-35.6 -3.5L-34.7 -6.9L-33.7 -10.2L-33.3 -13.8L-29.9 -16L-27.8 -18.6L-26 -21.3L-24 -24L-21.4 -26.1L-19.1 -28.6L-16 -30L-13.3 -32.1L-10 -32.9L-6.9 -34.9L-3.5 -35.7L0 -35.2L3.5 -35.6L7 -35.3L10.2 -33.5L13.6 -32.7L16.9 -31.5L20.4 -30.6L22.2 -27L25.4 -25.4L26.9 -22L29.4 -19.7L32.3 -17.3L33.7 -13.9L34 -10.3L34.2 -6.8L33.6 -3.3Z" fill="#26190b"/><path d="M6.5 35.4L4.3 39.7L2.7 40.6M29 -21.8L30.4 -25.9L30 -27.7M-9.4 35L-11.3 38.3L-13 38.7M-35.5 -4.1L-39.9 -8.3L-40.7 -9.9M-3 35.5L-4.6 39L-3.2 40.1M34 -2.8L39.8 -2.6L40.7 -1.1M-31.2 -16.8L-34.9 -17.2L-34.2 -18.8M-31.3 -16.6L-34.9 -15.5L-36 -14.1M19.8 29.9L20.9 35.4L20.3 37.1M17.2 -32.3L19.7 -35.7L19.1 -37.4" stroke="#3a230d" stroke-width="1.3" stroke-linejoin="round"/><path d="M-37.3 -3.4h0M9.7 37.1h0M36.4 -8.4h0M-11.4 35.8h0M-22 -28h0M-34.8 -12.5h0M-34.8 14.9h0M14.6 -35.7h0M17 -35.4h0M21.6 29.9h0M30 -24.1h0M30.3 21h0M1.9 -36.4h0M-36.7 8.8h0M29.5 21.5h0M9.9 -36.3h0M10.6 35.5h0M-36.6 10.3h0M33.7 12.5h0M-35.2 -11.8h0M32.8 18h0M29.6 -24.2h0M-30.4 20.6h0M-31.9 -17.5h0M7 37.6h0M33 -19.5h0M-10.4 36.2h0M9.7 35.7h0M29.8 -23.3h0M23.8 27.9h0M35.6 -7.8h0M-19.8 -31.5h0" stroke="#4f3113" stroke-width="2.6"/><path d="M-10.4 -7.9h0M-14.8 26h0M5.7 -15.3h0M18.6 9.8h0M-29.2 -2.4h0M6 15.1h0M21.8 -13.9h0M23.3 12.7h0M19.3 -27h0M12.3 24.1h0M11.9 17.8h0M15.1 -2.6h0M-28.2 2.9h0M.4 -32.6h0M26.1 12h0M-20.5 3.7h0M10.1 3.9h0M25.9 19.1h0M24.3 11.4h0M7.4 -17.4h0M-2 18.8h0M-7.6 -12h0M-33.1 13.2h0M-19.7 .9h0M6 -31.6h0M12.1 17.2h0M-11.1 -33.4h0M-15.7 33.4h0M16.3 -15.5h0M9.1 -22.8h0M8.4 -35h0M4.6 23.9h0M-17.4 31.8h0M-35.3 7.4h0M-29.4 -6.2h0M9.1 -7.6h0M-4.5 2.4h0M6.2 4h0M25.6 .1h0M-4.7 -21.1h0M20.6 -17.7h0M-3.4 -.9h0M-14.6 19.3h0M12.1 -25.3h0M28.2 -10.8h0M-11.8 -32.1h0M20.5 -11h0M-25.3 -14.7h0M7.9 -9.2h0M-29.8 -5.8h0M-2.8 9h0M-23.8 14.2h0M-17.3 17.2h0M-2.6 11.8h0M-27.6 -21.5h0M-18.8 -18.5h0M6.6 3.2h0M25.9 -25.7h0M-7.4 28h0M17.9 24.9h0M13.8 7.7h0M23 6.9h0M-16.5 -12.3h0M-3.8 23.4h0M15.3 31.8h0M-8.8 23.1h0M-14.8 23.8h0M3 5.2h0M-17.9 28.2h0M-13.4 -23.1h0M27.1 22h0M20.2 -6.2h0M-21.4 22h0M27.1 6.4h0M-17.8 -1.5h0M-31 8.5h0M-.6 19.6h0M16.7 .9h0M10 24.2h0M-21.2 -7.1h0" stroke="#180f07" stroke-width="4.2"/><path d="M-14.1 -13.1h0M-27.9 -13.2h0M-13.3 -17.2h0M-17.3 16.8h0M-29.3 -15.9h0M-12 -25.6h0M-29.7 .8h0M7.2 17.8h0M-24.3 6.3h0M5.8 26.2h0M33.5 -11.8h0M3.2 -9.2h0M-4.4 -4.4h0M3.1 -1.4h0M-2.5 -14.5h0M-11.9 .6h0M17.3 -11.9h0M-2.5 2.3h0M18 -25.3h0M28.6 -9.1h0M-34.6 -6h0M20.7 -26.5h0M15 -.1h0M30.4 -7.6h0M9.4 -1.5h0M.3 -4.2h0M-2 -3.5h0M-8.6 4.4h0M-14.3 -13.7h0M.4 -21.7h0M15.6 27.9h0M23.1 -5.7h0M.5 -25.9h0M-11.2 -17.2h0M-27.8 1.1h0M-12.8 -29.6h0M31.1 -5.3h0M19.5 13.2h0M9.5 -32.8h0M3.8 -29.8h0M29.4 16.2h0M9.3 24h0M24.5 13.7h0M-2.4 30.8h0M-22.3 18h0M-4.8 19h0M-19.1 12.8h0M25.6 -2.7h0M-18.1 12.8h0M29 16.8h0M1.7 -23h0M22 20.3h0M4.4 9.1h0M32.7 8.4h0M18.8 5.7h0M18.4 27.7h0M-26.4 -1.5h0M5.5 2.3h0M-34.8 -8.2h0M22.2 19.2h0M-21.3 2.3h0M28.7 16.8h0M23.4 8h0M7.9 -9.5h0M-29.1 12.8h0M26.6 4.2h0M23.1 -24.9h0M-5.5 -16h0M-1.5 -10.4h0M2.8 14.5h0M19.9 -5.3h0M28.6 21.7h0M10 21.5h0M-13.4 .2h0M20.4 -26.6h0M24.3 -1.5h0M-22.9 23.8h0M18.9 -22.5h0M25.6 -3.5h0M22.6 -3.2h0M31.8 -12.7h0M-13.5 8.9h0M-6 -30.7h0M-10.8 18.9h0M-11.2 -17.7h0M2.4 4.2h0M-14.7 21.6h0M-34.8 1.6h0M13.8 -15h0M-7.4 -16.1h0M4 -16.9h0M-26 -18.6h0M-27.9 -12.1h0M18.6 29.1h0M-24.4 -10.9h0M-21.4 4.8h0M-4.8 -10h0M-12.6 -12.4h0M-18.6 20.5h0M-23.1 -10.8h0M3.2 -24.2h0M-6.4 -36.1h0M-10.6 -6.4h0M-30 -2.4h0M-28 -1.3h0M29.6 7.5h0M-22 10.2h0M-15.7 16.9h0M24.5 -11.4h0M-1.3 2.6h0M17.7 19.9h0M1.3 18.3h0M.7 25.5h0M-23.5 0h0M4.7 -19.2h0M32.9 2.6h0M-13.6 -3.9h0M32.9 -2.7h0M-15.3 5.3h0M23 -9.7h0M15.4 29.2h0M23.7 -12.5h0M-15.4 32.8h0M18.2 -5.4h0M-20.9 13.4h0M27.9 -17.8h0M-11.9 -25.1h0M11.9 -.3h0M-10.1 16.1h0M9.3 -20.5h0M-15.3 -14.4h0M2.1 -7.9h0M18.1 -20.6h0M.5 .8h0M-31.5 2.9h0M-4.1 -8.1h0M7.9 -12.1h0M30.1 -15.1h0M24.1 15.6h0M17 -5.1h0M8.8 -22.3h0M6.9 -24.3h0M7.1 -17.8h0M22 -17.7h0M-19 -7.3h0M-9 -12.4h0M26.9 11h0M-18 -.8h0M-28.4 19.5h0M-.8 -14.8h0M8.6 .6h0M10.4 -33h0M28.5 10.8h0M18.6 .5h0M-5.7 30.4h0M-8 -6.9h0M19.8 1.7h0M9.1 -20.9h0M-27.8 -16.5h0M-.1 -3.9h0M-35.7 5.9h0M-29.5 -2.5h0M27.4 17.7h0M10.8 -11.9h0M4.5 -14.8h0M20.6 17.8h0M-17.9 -23.9h0M15.7 4.5h0M1.8 -.1h0M13.2 -28h0M27.7 -4h0M25.1 5.8h0M-21.2 17.4h0M-8.4 19.3h0M15.1 -12.2h0M-11.3 25.4h0M-1.8 15.4h0M-21.9 -14.2h0M-27.3 -.7h0M-1.5 -15.7h0M4.3 10.2h0M-10.3 10.2h0M-2.5 27.1h0M-1.4 -9.7h0M.3 -4.5h0M-12.6 24.9h0M33.6 5.4h0M13.4 -23.4h0M10.3 -23.2h0M28.5 -15.5h0" stroke="#3a230d" stroke-width="3.6"/><path d="M-26.2 20.8h0M-9.1 27.8h0M-24.8 -5.1h0M-23.7 7h0M3.6 -32.6h0M-11.4 8.9h0M1.1 -11.2h0M28.8 14.9h0M-12.7 -24.1h0M-18 -11.7h0M8.3 18.3h0M19.6 -8.2h0M8.8 11h0M15.1 -4.3h0M-15.4 23.8h0M-3.7 27.2h0M13.4 -17.6h0M29.6 -19.8h0M14.2 -18.1h0M-3.6 24.5h0M-31.5 -16.5h0M26.6 -15.1h0M-29.2 -1.6h0M-17.3 -16.7h0M-16.7 12.5h0M-33 11.2h0M-25.1 -20.2h0M-26.9 2.6h0M-20.6 23.3h0M19.5 -14.7h0M-8.1 5.4h0M17 13.3h0M31.6 -6.3h0M-10.3 8.3h0M8.9 29.6h0M12.4 26.1h0M-28.6 9.3h0M14.7 31.5h0M6.9 -13.9h0M-24.8 12.7h0M21.9 19.7h0M.6 23.2h0M29.1 1.9h0M.3 21.3h0M22.2 6.2h0M-24 -2.9h0M-27.1 20.8h0M-22.3 19.3h0M4.9 29.5h0M-4.2 -9.1h0M9.9 -.7h0M-8.1 33h0M-32 -5h0M-13 12.9h0M17.8 -21.1h0M-1.4 31.7h0M-6.2 -30.9h0M28.8 19h0M-18.7 .3h0M14.3 -29.9h0M15.4 32.9h0M-6.2 -17.8h0M20.3 -10.8h0M-15.8 -7.8h0M3.7 -19.1h0M17.5 -18h0M-6.3 28.1h0M3.4 -10.7h0M16.6 9.2h0M-22.8 -5.7h0M-5.3 29.6h0M8.3 -12.8h0M-10.7 32.2h0M-32.3 -12.3h0M-20.2 -7.4h0M-24.2 -18.6h0M-1.5 -23.9h0M-24.7 7.6h0M-12.4 -33.5h0M6.1 18.3h0M-8.7 26.9h0M-20.6 -26.5h0M-16.1 32.4h0M15.3 -29h0M-20.7 21.2h0M.9 29.5h0M31.8 -.5h0M-2.9 22.2h0M28.2 -20.8h0M-6.4 15.9h0M30.7 1.3h0M.6 13.5h0M27.6 22.2h0M-19 19.6h0M.7 24.4h0M-15.6 6.7h0M21 -9.1h0M-27.7 -19.6h0M31.5 7.5h0M-25.5 10.4h0M2.3 4.8h0M-11.5 6.8h0M2.2 29h0M34.6 -10h0M17.3 -21.3h0M-33.5 -10.5h0M11.6 -17.5h0M-27.1 -10.5h0M8.9 -8.1h0M-4.7 31.7h0M-6.4 3.7h0M12 30.4h0M-8.9 27.8h0M20.1 -15.6h0M16.2 18h0M16.2 21.2h0M-19.8 -27.5h0M-18 29.3h0M-17 -2.3h0M-.2 3.6h0M26.4 2.6h0M1.6 23.1h0M-1.6 23.7h0M-33.9 -6.3h0M30.7 13h0M1.1 -5.7h0M13.1 -21.5h0M-1.7 31.7h0M26.2 -18.8h0M-26.4 10.6h0" stroke="#4f3113" stroke-width="3.0"/><path d="M11.2 -34h0M-30.3 -9.5h0M-12.7 20.3h0M5.7 5.4h0M13.5 1.6h0M-4.4 -14.6h0M-3.9 -30.7h0M-26.4 9.1h0M27.2 -17.7h0M-3.2 28.1h0M-10.4 20.6h0M-31.6 -1.2h0M-20.7 -20.1h0M12.2 -5.9h0M19.5 -.2h0M-18.7 -27.3h0M-9.3 6.8h0M15.8 -1.9h0M-11.9 16h0M4.9 -12.3h0M-28.6 -7.5h0M-20 17.2h0M-8.5 16.9h0M-10.2 14h0M-2.9 -24.7h0M-31.4 -3.4h0M-12.6 2.8h0M-19.4 -.9h0M-3.7 -29.1h0M-6.2 -24.1h0M-21 13.8h0M-24.2 -2.5h0M-3.6 5.4h0M9.1 35.7h0M-19.2 -29.1h0M-.4 -18.1h0M-18.2 -3.7h0M28.4 10.5h0M-3.4 32h0M-3.5 15.1h0M-6.4 1.8h0M-29 -5.4h0M22.3 21.1h0M18.1 -6.8h0M-18.7 22h0M-20.3 -9.7h0M17 19.1h0M.4 -27.4h0M-4.9 -10.8h0M2 -12.2h0M28.1 -6.7h0M24.4 19.2h0M-13.3 29.6h0M17.2 6.2h0M-9.9 25.2h0M3.6 13.3h0M7.5 -34.7h0M7.5 -29.5h0M-4 -9.4h0M2.6 25.4h0M-5.7 15.8h0M29.4 12.4h0M-2.3 3.8h0M19.8 25.6h0M12.8 -4.8h0M-9.2 -1.7h0M-13.2 -27.8h0M10.1 -13.4h0M-4 8.3h0M15.2 10.5h0M26.8 -8.9h0M-9.9 -31.7h0M-1 6.1h0M-21.8 -14.3h0M-8.6 8.3h0M-.6 -11.8h0M21.9 -19.5h0M23.9 -8h0M30.7 15h0M12.2 -4.2h0" stroke="#3f3f18" stroke-width="3.0"/><path d="M-6.7 -31h0M17.4 15.7h0M16.2 12.3h0M-9.9 1.7h0M27.2 15.2h0M-15.7 -2.2h0M20.5 26.2h0M-20.7 19.4h0M19.3 -19.9h0M-12.6 -29.4h0M-1.2 29.9h0M-26.5 18.7h0M10.9 33.5h0M-31.3 -1.5h0M14 -20.9h0M-26.6 15.1h0M-17.4 -16.8h0M-24.3 7.2h0M27.9 3.5h0M10.4 3.2h0M25.1 24.3h0M25.6 -26.1h0M-15.6 -20.4h0M16.6 .3h0M15.7 24.9h0M18.2 -7.8h0M-17.1 26.6h0M-24 8.4h0M10.4 -20.2h0M-13 -29.8h0M-12.8 -21.5h0M-18.1 -21.2h0M-16 -23.7h0M-24.9 14.6h0M8.9 -25.8h0M2.5 2.4h0M-.9 -25.3h0M-14 12.8h0M30.3 -7.5h0M-26.5 4.2h0M-15.5 -17.4h0M10.2 16.2h0M-13.1 7.8h0M16.9 15.6h0M-4 10.2h0M-11 18.5h0M21.3 -4.6h0M-23.4 -19.6h0M21.9 -20h0M16.7 28.1h0" stroke="#180f07" stroke-width="2.8"/><path d="M-26.8 -13.6h0M-18.8 -18.8h0M-22.7 -18.5h0M11.2 16.1h0M-24.9 2.1h0M-7.9 33.3h0M-17.5 -30.6h0M-28.1 16h0M.6 -19.9h0M6.6 -35.2h0M28 5.4h0M29.5 -19h0M-21.7 -11.9h0M32 -7.5h0M6.4 -3.5h0M-4.7 28h0M-13.6 8.3h0M-4.6 -2.1h0M-27.9 14.7h0M9 -7.4h0M11.2 -29.5h0M-3 -28.3h0M-21.6 -11h0M2 -19.1h0M25.2 -6.9h0M-3.3 8.4h0M-.9 -35.5h0M-18.3 20.9h0M-9.8 -34.9h0M25.9 -4h0M-10.4 1.5h0M16.4 -1.3h0M.5 -9h0M5.1 4h0M29.1 8.5h0M-4.9 -26.3h0M16.1 12h0M6.2 -4.4h0M-25 -4.3h0M-20.6 -3.4h0M6.2 2h0M5.3 -5.5h0M-3.8 9.4h0M-30.7 2h0M16.4 -13.7h0M-3.4 10.3h0M-9.5 -22.9h0M-8.2 -22.8h0M3.9 -22.7h0M21.6 20.8h0M19.5 15.4h0M26.4 -18.2h0M-.7 -35h0M6.2 4.2h0M-13.9 13.9h0M7.8 5.8h0M12.3 15.8h0M9.5 -14.5h0M21.1 11.1h0M1 18.5h0M14.5 24.7h0M-25.6 -19.8h0M-11 16.5h0M-2.8 -31.1h0M-2 33.1h0M-12.9 -3.1h0M-2.5 -31.9h0M-16.4 -14.9h0M-35.9 1.9h0M14.1 24.3h0M-29.9 .1h0M-1.9 -16.1h0M2.3 -34.9h0M13.2 -24.9h0M-27 -4.3h0M13.5 -13.8h0M-1.3 10.2h0M25.2 -10.6h0M-25.5 13.3h0M-3.4 -12.9h0M2 -32.7h0M18.3 -20.1h0M-24.5 18.4h0M-6.9 -28.4h0M-9.9 -3.3h0M26.2 -15.1h0M9.2 -21h0M23.7 -14.9h0M1.4 -16.8h0M-12.5 -6.1h0M-7.2 -34.1h0M24.9 17.8h0M-13.5 -9.9h0M16 -15.1h0M11.1 -20.8h0M30.6 -17.2h0M-16.5 -26.5h0M-13.6 11.1h0M-11.1 16.5h0M27.3 8.5h0M27.9 19.8h0M-29.2 12h0M8.6 -34.3h0M13.9 4.3h0M-13.5 17.1h0M-20.5 -23.9h0M-6.6 8.5h0M9.1 4.5h0M-26.4 -5.5h0M-1.4 .4h0M22.3 22.6h0M17.4 20.3h0M15.3 -7.1h0M-8.9 -26.9h0M9.7 9.9h0M.9 10.9h0M26 -23.6h0M12.1 33.8h0M18.8 17.1h0M-.1 -22.1h0M-28.3 -16.5h0M2.6 15.5h0M-6.7 34.6h0M-25.9 2.8h0M34.4 -7.3h0M17 -4.1h0M-8.2 30.7h0M22.8 -3.2h0M-18.2 22.3h0M-4.4 -31.5h0M23.8 -7.1h0M3.4 -25.2h0M6.4 29.4h0M27.5 -2.3h0M-.6 -25.2h0M-27.3 2.8h0M17.1 -18.7h0M5.2 -4.1h0M6.6 -29h0M-15.7 -28.7h0" stroke="#843a1b" stroke-width="1.7"/><path d="M18.9 6h0M-7.8 -14.7h0M-17.3 3.7h0M-29.5 4.8h0M-4.1 -30h0M-20.4 15.3h0M33.1 8.1h0M-17.5 19.4h0M-18.6 -2.6h0M-18.6 -1.8h0M-30.1 -18.4h0M-19.9 -3.3h0M-16.4 1.2h0M-13.8 -18h0M20.9 -14.4h0M-21.8 20.5h0M-8.6 -1.8h0M11.2 10.5h0M.6 21.3h0M-9 2.6h0M1.2 -4.4h0M27 -2.5h0M31.3 12.5h0M-16.8 6.4h0M29.7 -2.6h0M-13.3 22.8h0M12.1 -27.4h0M-7.4 -14.1h0M-27.8 15.6h0M16.9 -6.4h0M21.2 2.2h0M-12.4 30.7h0M2.3 -32.5h0M-13 -7.9h0M-10 -28.9h0M-16.1 -23.7h0M-25.8 -3.7h0M-6.5 6.2h0M17.8 -11.7h0M-14.8 7.6h0M5.1 -34.5h0M2.7 32.1h0M6.5 19.6h0M-4.6 30.7h0M7.3 -11.7h0" stroke="#5d5d24" stroke-width="1.9"/><path d="M-7.4 34.7h0M-13.3 17.3h0M-16.7 -14.4h0M-.2 24.4h0M13.2 8.6h0M17.1 7h0M.2 -20.6h0M-9.4 .9h0M-7 1.6h0M30.7 2.9h0M-4.3 -35.8h0M15.8 -23.9h0M-3.1 -22.2h0M-23.8 -11.9h0M4.8 24.1h0M-6.6 7.4h0M-29.5 -11.1h0M23.8 27.1h0M15.4 -25.6h0M-7.2 -30.4h0M21.9 28.9h0M-12.1 -34.5h0M7.7 -32.8h0M-31.3 16h0M18.8 -14.5h0M5.8 -6.9h0M-12.9 -32.6h0M25.7 .4h0M24.8 -23.2h0M3.6 -10.8h0M18.1 -20.5h0M11.7 -25.3h0M-6.8 -17.8h0M-21 12.5h0M-3.2 34.7h0M30.6 11.3h0M-23 17.2h0M-24 9.5h0M-22.1 -19.2h0M7.2 1.2h0M-2.5 5.1h0M34.4 -8.1h0M-2.3 17.5h0M-23.3 17.8h0M25.6 2.5h0" stroke="#974223" stroke-width="1.5"/></g>
</g>
<g filter="url(#bl)" stroke-linecap="round" fill="none">
<rect x="116" y="321" width="363.0" height="272.0" fill="none" stroke="none"/>
<g transform="translate(179.4 429.9)"><path d="M39.9 0L39.7 3.9L40 8L36.9 11.2L37 15.3L34.9 18.7L33.5 22.4L30.9 25.3L29.1 29.1L25.5 31.1L22.7 33.9L18.9 35.4L16.4 39.6L12.3 40.5L8.3 41.9L4.3 43.3L0 42.4L-4.2 42.6L-7.8 39L-11.9 39.2L-15.2 36.7L-19.1 35.7L-22.8 34.1L-26.2 31.9L-27.8 27.8L-31.3 25.7L-32.4 21.6L-34.5 18.4L-36.2 15L-38.3 11.6L-38.8 7.7L-41.5 4.1L-40.1 0L-40.7 -4L-39.3 -7.8L-37.4 -11.3L-36.6 -15.2L-35.5 -19L-34.6 -23.1L-31.6 -26L-29.6 -29.6L-26.7 -32.5L-23 -34.5L-18.7 -35L-15.3 -36.9L-11.6 -38.4L-7.8 -39.2L-4 -40.2L0 -42.1L3.9 -39.6L7.8 -39.4L12.1 -39.8L15.5 -37.5L19.6 -36.6L23.9 -35.8L27.4 -33.4L29.3 -29.3L31.1 -25.5L34.1 -22.8L35 -18.7L36.2 -15L37.3 -11.3L38.6 -7.7L39.3 -3.9Z" fill="#125a2c"/><path d="M14 -39.9L15.1 -45L16.8 -44.5M-17.3 -37L-17.2 -40.1L-19 -40.1M-30.6 27.2L-34 30L-35.5 28.9M-2.3 -41.7L1.1 -45.8L2.7 -46.7M1.2 43.6L5.7 48.8L7.1 49.9M-3.9 42.6L.1 47.9L1.8 48.6M-24.2 -33.8L-26.2 -36.5L-25.5 -38.2M-27.5 -31.9L-29.6 -36.3L-31.4 -36.2M30.5 -29.6L32.3 -32.4L33.6 -31.1M-16.2 37.2L-15 41.4L-13.6 42.5M-37.5 16.3L-43 13.9L-43.7 12.2M24 34.2L23 39.3L21.9 40.7M-22.8 -34.6L-28.5 -36.5L-27.8 -38.1M-3 -41.6L-7.3 -44.9L-9.1 -45M-35.4 20.2L-38.3 21.5L-38.6 23.3M-16.5 -37.4L-19.1 -40.3L-20.9 -40.1M-28.5 29.5L-32.4 30.2L-33.7 28.9M-.8 -41.8L-.9 -45.9L.8 -46.5M-6.6 -40.9L-10.2 -42.9L-12 -43M-15.7 37.4L-13.1 41.6L-14.8 41.9M9.6 42.6L13.1 46.9L11.3 47.3M-41.3 6L-43.5 9.1L-44 10.8M18.1 38.3L18.4 44.1L20.2 44.1M-38 -15L-41.1 -19.6L-40.5 -21.4M12.5 41.4L17.4 43.7L15.8 44.6M10.2 -40.8L13.2 -43.9L15 -44.2M-40.7 -4.8L-46.2 -7.9L-46.5 -9.7M19.3 -38.3L22.1 -41.9L23.9 -41.8M23.2 -36.4L29.3 -37.3L28.3 -38.8M21.3 -37.4L25.8 -39.9L27.6 -40M-41 -3.4L-44.2 -7.4L-44.5 -9.2M-40.9 -3.9L-44.2 -1.5L-44.4 -3.3M17.4 -38.9L15.3 -42.8L14.3 -44.3M-38.9 -11.9L-43.3 -14.4L-43.8 -12.7" stroke="#1a823c" stroke-width="1.3" stroke-linejoin="round"/><path d="M4.3 -44.7h0M14.4 45.9h0M1.5 -46.6h0M38.2 -17.3h0M35.9 -28.7h0M-37 22h0M-41.1 -16.7h0M22.8 38.8h0M40.8 -13.5h0M-36.4 27.7h0M45.6 -4.1h0M42.9 13.2h0M13.8 43.5h0M32.2 -29.3h0M29.3 32.5h0M11.6 44.5h0M-6.6 -44.7h0M25 38.8h0M38.7 -20.1h0M22.1 39.3h0M-8.5 -42.3h0M-35.2 -29.9h0M3.6 45.3h0M6.3 -44.7h0M-40.8 16.5h0M9.9 -45.6h0M-37.4 25h0M45.5 .9h0M44.6 9h0M44.4 -1.3h0M35.1 -29.3h0M40.4 18.6h0M44.9 -.2h0M9.1 45.7h0M31.7 -35.4h0M10.8 47.2h0M-21.9 35.3h0M39.7 -17.4h0M-2.2 -43.2h0M-43.7 -12.8h0M27.5 38.1h0M-33.9 -32.1h0M-16.2 -42.1h0M15.5 44h0M4 45.1h0M-17.5 41.9h0M40 -15.6h0M-32.9 -29.5h0M-11.3 43.6h0M-10 44.7h0M20.7 -40.9h0M-35.1 23.8h0M7.3 48.1h0M-2.8 44.1h0M-3.6 -46h0M29.5 -37.3h0M27.4 35.4h0M-40.9 16.5h0M-12.7 -43.1h0M-12.6 -44.3h0" stroke="#279e4a" stroke-width="2.6"/><path d="M37.8 9.4h0M35.2 22.1h0M-11.3 5.8h0M15.5 12.7h0M-22.7 32.5h0M-1.9 -8.3h0M24 .7h0M-3.3 -28.3h0M28.6 9.4h0M29.7 19.8h0M17.6 31.2h0M14.6 38.1h0M-7.3 35.7h0M-32.3 -15.1h0M20.6 22.2h0M-7.6 19.1h0M25.4 12h0M-16.8 -18h0M12.3 19.6h0M1.7 -36.1h0M7.8 2.2h0M38.8 12h0M-7 17.5h0M1.9 1.9h0M9.1 40.3h0M1.9 -31.7h0M4.4 2.4h0M20.6 -12.5h0M-26.9 -13.9h0M15 4.8h0M1 27.9h0M6.5 -19.7h0M17.6 -15.3h0M9.1 -10.6h0M-31.5 23.1h0M41.6 1h0M7.7 -34.5h0M-16.2 17.1h0M5.6 5.1h0M18.5 21.8h0M28.8 -28.2h0M1.2 -6.3h0M4.1 31.7h0M37.8 -3.5h0M29.1 7.2h0M-30.3 -5.8h0M-19.3 -9.2h0M-7.5 .9h0M-37.8 6.8h0M-26.9 -30.2h0M25.2 13.3h0M-4.9 32.3h0M7.6 -36.6h0M23.1 -33.8h0M-10.8 21.1h0M-34.6 2.3h0M-12 -24.6h0M-29.3 15.3h0M9.6 21.9h0M-13.7 -34.5h0" stroke="#0c3a20" stroke-width="4.2"/><path d="M-5.8 30.5h0M-18.9 .5h0M30.1 29.1h0M-32.9 -16.2h0M-5.8 -38.5h0M-27.4 14.8h0M-35.1 -9.2h0M-4.4 22.5h0M19.4 -1.1h0M-36.5 1h0M27.1 -2.7h0M9.9 22.3h0M29.1 -8h0M7.4 -30.3h0M-.2 9.2h0M-25.6 23.6h0M-38.5 -9h0M6 -26h0M-9.4 -40.7h0M16.6 8.4h0M37.5 4.4h0M14.2 -11.3h0M23.9 -9.7h0M-36.4 8.2h0M-33.7 24.3h0M16.6 -24.4h0M22.6 -.7h0M-33.1 2.9h0M36.3 -5.7h0M14.8 -33.9h0M26.9 24.2h0M-14.2 -9.7h0M-40.5 -3.3h0M39.6 3.7h0M16.9 -19.4h0M31.9 1.5h0M20.8 -26.6h0M1.9 20.9h0M32.7 -22.3h0M8.4 -7.3h0M-34.9 -17.5h0M-19 10h0M29.7 -10.5h0M27.7 14.6h0M27.1 -13.1h0M28.8 3.4h0M35.7 6h0M6.2 -28.8h0M28.3 6.7h0M-7.1 4.7h0M2.1 -5.4h0M9.5 -11.1h0M11.7 -9.1h0M-3 2.1h0M5.5 14.6h0M-31.7 24.5h0M-4.6 -9.9h0M-8.8 -19.4h0M-14.9 -27.8h0M27.3 -16.8h0M13.6 -14.6h0M-3.4 -25.6h0M4.8 25.1h0M7.9 23.8h0M9.1 -32.5h0M8.8 20.5h0M9.9 -40.4h0M-13.4 -27h0M27.5 -24.1h0M.8 26.8h0M12.3 -23.2h0M-23.8 -3.4h0M19.2 -13.2h0M18.2 6.5h0M35.2 19.4h0M27.8 -2.7h0M31.2 -4.4h0M-14.3 30.1h0M18.4 -7h0M14.9 8.6h0M27.1 7.5h0M27.6 -4.5h0M29.8 15.5h0M33.7 23.4h0M-24.6 -12.9h0M-1 -42.6h0M-7.1 -12.8h0M-11 35.2h0M-31.4 -10.1h0M-7.3 -30.6h0M-14.4 -23h0M21.1 -5.7h0M28.4 -12.7h0M1.1 -12.6h0M10.7 2.4h0M12.2 -32.5h0M25 26.8h0M-14.7 -25h0M3 36.1h0M-7.2 7.3h0M-7.9 26.7h0M20 9.1h0M10.5 8.9h0M-.6 42.5h0M31.2 -9h0M35 -15h0M-20.2 11.8h0M9.5 10.7h0M13 -12.5h0M-37.9 -11.4h0M-16.2 26h0M7.1 25.2h0M-5.1 -10.7h0M-24 17.8h0M-20.9 6.2h0M30.1 7.4h0M8.2 28.6h0M-27.3 21h0M-19.8 25.9h0M-33.2 19.5h0M22.1 -25.5h0M15.3 -22.1h0M15.7 14.9h0M21.8 -30.7h0M-36.1 -5.9h0M11.3 30.8h0M31.9 -5.1h0M-.2 32.7h0M-27.5 21.3h0M35.1 -7.6h0M31.4 4.7h0M6.7 -40.2h0M2 -28.1h0M11.1 -.7h0M40.5 -2.9h0M19.6 -7.8h0M2.3 -24.9h0M19.2 -13.1h0M.7 -16.7h0M.5 42h0M2.2 11h0M-19.2 -27.8h0M31 17.2h0M15.5 13.4h0M-21.8 -19.9h0M21.4 -16h0M15.9 28.7h0M-20.2 28.1h0M-34.9 -1.2h0M-6.6 15h0M-4.4 37.8h0M-21.6 -15.9h0M-6.3 35.6h0M38.6 12.3h0M22.1 -11.5h0M14 -29.6h0M-34.2 -2.2h0M7.2 39.7h0M-28.7 16.3h0M20.9 -11.9h0M13.1 -33.2h0M26.6 -15.8h0M18.8 8.9h0M-31.5 -18.2h0M-15 30.2h0M-20.6 -16h0M13 -29.5h0M3.2 27.7h0M17.2 27.4h0M3.5 30.8h0M22 -7.1h0M3.6 -14.6h0M4.3 -10.5h0M25.4 15.1h0M30 16.1h0M8.3 -30.6h0M-2 -23.5h0M-25.1 -21.4h0M-17.6 -20.4h0M8.7 -32.7h0M5.2 -5.7h0M-19.6 -18.2h0M11.3 -10.5h0M-8.1 24h0M-40.9 9.7h0M21.8 -34.2h0M-26.9 12.5h0M9.6 10.1h0M-12.6 -5.2h0M-30 4.3h0M33.6 16.6h0M-8.2 2.5h0M-29.9 11h0M15.9 -15.1h0M34.2 7.6h0M2.9 -6.8h0M-6.5 40h0M17.8 -7.2h0M-20.8 -26.4h0M-13.1 -9.6h0" stroke="#1a823c" stroke-width="4.2"/><path d="M18.7 25h0M-12 -34.9h0M32.4 -25h0M-18.5 -32.1h0M27 1.1h0M19.5 -12.4h0M20.2 16h0M-4.9 -28.6h0M-33.5 -10.9h0M-38.6 -2.6h0M33.7 9.6h0M-10 3.4h0M10.4 6h0M-17.1 -11.4h0M1.4 20.9h0M-20.5 21.1h0M13.8 -28.4h0M-25.2 -28.6h0M-29.2 2h0M-29.4 13.3h0M-6.1 -8.8h0M-11.8 -29.6h0M-22.3 15.9h0M-15.7 -33.2h0M-10.7 -24.5h0M-32 6.9h0M-20.1 -24.5h0M18.4 -.6h0M-17.9 9.5h0M-21.6 16.7h0M1.1 -16h0M33.9 -6.5h0M13.1 3.2h0M-20 9.5h0M14.4 19.5h0M-18.3 -34.3h0M-27.7 6h0M-.7 37.6h0M4.4 -36.3h0M-14 21h0M19.7 7.5h0M20.2 14.5h0M-7.9 -35.1h0M32.6 16.7h0M22.1 -31.3h0M-30.2 -1.2h0M-13 8h0M17.1 -37.4h0M-19.1 24.6h0M3.3 -17.9h0M-14.3 -15h0M16 14.1h0M-15.4 33.5h0M19.8 24.1h0M-5.1 31.4h0M11.5 14.7h0M6.5 39.7h0M-12.4 -31.1h0M-.4 -13.3h0M19.2 -24.2h0M3 16.7h0M32.6 -14.4h0M3.2 -10.9h0M4.1 -7.8h0M.3 -4h0M-24.3 -28.1h0M5.2 29h0M-2.7 -2.2h0M.9 40.8h0M4.1 -4h0M14.9 20.4h0M3.1 10.5h0M6.5 25.5h0M-3.7 -10h0M-4.1 20.7h0M-36 -.4h0M36.3 12.9h0M-24.5 24.1h0M-.2 19.6h0M-13.8 -32.5h0M-16.8 -35.6h0M-2.7 -10h0M27.3 9.7h0M-29.2 24.3h0M-24.6 -26.1h0M-6.2 -38.9h0M5 -25.2h0M22.9 -28.5h0M-5.8 31.3h0M23.6 -28h0M-24.2 4.1h0M-27 -17h0M-16.1 7.2h0M12.1 -1.5h0M4.5 -31.9h0M-16.2 -36.2h0M34.6 -16.8h0M25.3 -34.3h0M2.9 17.6h0M-17.4 -25.9h0M21.4 28.8h0M-3.7 -25.2h0M-33 10.8h0M-24.7 7.3h0M24.2 29.7h0M-38.1 -.9h0M.3 -1.1h0M14.3 -12.9h0M27 15.8h0M-7.5 39.3h0M20.7 15h0M20.3 14.9h0M-2.4 -33.5h0M-12.5 23.8h0M38.6 -9.7h0M-23.5 -1.4h0M2.6 1.3h0M4.1 29.3h0M28.4 14.8h0M33.4 -14.8h0M-37.3 -14.6h0M28.5 27.4h0M.3 -39.6h0M-17.6 -35.8h0M29.7 16h0M-27.9 28.2h0M20.2 1h0M-12.5 24.8h0M-33.1 -14.2h0M3.9 -20.6h0M-22.5 -17.4h0M-28.4 -1.9h0M14.6 -33.6h0M5.9 13.9h0M-35 -12.9h0M7 -2.4h0M27.1 -27.3h0M-8.9 -26.7h0M-13.9 10.2h0M-34.3 -1.2h0M-11.4 36.4h0M-24.5 -30.5h0M-11.5 38.6h0M-34 -9.7h0M24.1 2.7h0M-3.7 14.2h0M-17.4 .2h0M33.6 8.2h0M-4.7 -25.1h0M37.1 -1h0M9.8 -29.5h0M-15.4 14.6h0M9.2 14.3h0M31.3 6.3h0M9.2 1.3h0M-5.4 -17.4h0M-16.9 20.8h0M.5 22.9h0M24.8 -14.3h0M-12.2 -33h0M-6.3 -26.1h0M-10 37.2h0M22.8 26.2h0M-21.9 8.7h0M32.7 5h0M17.1 -20.1h0M-6.5 -10.8h0M2.9 4.7h0M-15.6 36.9h0M-6.1 13.7h0M-33 -25.5h0M37 5.9h0M18.8 -17.4h0M10.8 27.3h0M40 -5h0M2.5 -5.1h0M6 15.9h0M2.8 43h0M-27.9 21.5h0M-4.3 -7.5h0" stroke="#279e4a" stroke-width="3.8"/><path d="M10.1 39.8h0M3.6 -17.2h0M8.5 -17.5h0M16.5 34.1h0M-1.3 .2h0M21.3 -4.3h0M-.6 10.5h0M17.8 -12.8h0M27.8 31.2h0M15.1 26.2h0M12.5 -19.6h0M8.2 -6h0M-3.5 5h0M-30.2 -6.7h0M19 38h0M-14 11.7h0M-6 -26h0M4.7 39.1h0M18.5 -9.3h0M-15.6 29h0M12.9 -38.2h0M15.9 .7h0M7.7 -3.1h0M35.5 15.3h0M-26.9 24.6h0M-34.8 -1.4h0M37.9 -6.4h0M.3 -8.8h0M10.4 42.5h0M-21.1 6.4h0M1 41.8h0M3.5 40.1h0M23.8 -16.7h0M24.9 -10.5h0M14.9 7.9h0M-22.9 23.2h0M-29.2 -25.2h0M25.3 1.3h0M-1.7 38.5h0M.2 -14.7h0M20.6 -8.4h0M25.7 25.7h0M17.6 -11.1h0M1.1 -10.8h0M10.6 6.3h0M-17.4 37h0M-12 -2.8h0M-26.2 25.9h0M28.1 -1.1h0M33.3 -15h0" stroke="#0c3a20" stroke-width="3.0"/><path d="M-5.1 20.6h0M17.1 -9.1h0M-8.6 18.8h0M-18.1 -27.4h0M-12.8 22.3h0M-8.2 17.9h0M13.1 -7.2h0M-25 -.9h0M-8 -33h0M15.6 -31.4h0M9.5 31.8h0M1.1 -12.9h0M28.1 -11.2h0M33.4 9.7h0M26.6 -18h0M8 38.6h0M-19.1 25.5h0M17.7 -21.9h0M-7.5 -15.2h0M-2.9 16.7h0M-10.5 -3.7h0M6.5 8.9h0M16.7 21.6h0M-11.6 -21h0M3 21h0M24.5 13.8h0M-4.8 6.7h0M31.8 -2.3h0M11.9 18.9h0M16.8 -34.8h0M19.9 -1.9h0M-1.7 -8.7h0M-23.9 -6.9h0M24.1 7h0M15.4 21.1h0M.3 9.9h0M-3.8 27h0M-16.9 21.2h0M-5.9 -5h0M-3.8 -18.3h0M-30.4 4.5h0M24.4 -4.8h0M8.9 20.8h0M-13.2 3.5h0M25.1 -19h0M-6 -22.3h0M3.7 -34.8h0M27.9 -27.3h0M-27.1 5.9h0M1.8 -18.6h0M12.2 4.6h0M-16.4 -9.1h0M28.5 9h0M5.4 -10.9h0M-15.9 20.8h0M21.3 11.3h0M-13.7 5.9h0M-18.9 14.2h0M22.7 22.8h0M7.3 -23.5h0M15.3 8.2h0M-9 16.6h0M16.4 23.6h0M-9.1 -26.5h0M16 12.6h0M34 -4.3h0M-28.5 -22.2h0M17.5 31.8h0M1.1 -19.4h0M-30.1 -10.6h0M-26.6 -.2h0M-7.6 -10.5h0M-15 8.4h0M10.8 -34.6h0M-15.4 10.9h0M-12.9 -31.8h0M-20.8 -30.5h0M-.5 -5.9h0M-2.5 13h0M19.1 -4.5h0M22.7 -33h0M-1 -38.9h0M-11.8 18.6h0M-30 14.9h0M21.2 21.6h0M8 -32.9h0M19.3 1.5h0M-20.6 -11.3h0M8.3 32h0M30.2 -5.6h0M-22.2 14.1h0M-37.7 8.3h0M4.7 32.6h0M7.8 -2.2h0M36 1.9h0M-14.1 16.3h0M10.2 36.6h0M-19.1 7.7h0M14.2 33.5h0M.8 11.3h0M13.4 37.3h0M-35.3 14.5h0M23.5 -4.1h0M16.4 -14.7h0M8.1 34.3h0M-31.7 18.9h0M8.4 -29.1h0M-21.1 -11.5h0M-1.2 27.7h0M-32.1 20.1h0M-10.9 30.1h0M16.2 -8.8h0M36.1 2.5h0M-15.8 1.1h0M1.9 -4h0M-14.5 -18.7h0M15.3 -.7h0M4.2 -2.6h0M-35.9 -9.6h0M-5.7 37h0M-7.4 2.8h0M-1.2 -4.6h0M8 13.2h0M-31.8 10.1h0M-34.8 -2.2h0M-16.3 -4.3h0M10.7 23.9h0M-13.2 16.5h0M29.6 16.6h0M24.3 -4.2h0M-.9 3.5h0M12.8 35.9h0M-1.1 22h0M7.1 -31.3h0M15.6 21.1h0M16 7.2h0M8.3 19.4h0M-13.6 -27.9h0M-25.7 -6.9h0M-3.1 -27.1h0M28.7 -10.7h0M-16.9 27.6h0M13.3 -1.8h0M25.2 .6h0M25.6 20.1h0M16.6 1.5h0M18.4 32.7h0M-33.6 8.5h0M-1.4 -22.1h0M-21.6 17.2h0M-.3 3.5h0M-24.9 -23.1h0M13.8 31.6h0M-7.4 13.3h0M-27.7 13.1h0M26.4 -30.7h0M-24.5 10.7h0M14.8 -25.3h0M36 8.3h0M-3.1 27.8h0" stroke="#36be60" stroke-width="3.3"/><path d="M21 6.5h0M7.9 -2.5h0M16.6 -10.7h0M-13.7 -6.1h0M-19.7 9.9h0M3.2 9.3h0M-23 1.6h0M30.6 -11.1h0M22.4 -6.2h0M-22.3 -21.2h0M21 -3.1h0M-31.3 -8.8h0M11.2 22.5h0M30.1 -16.9h0M-14 11.8h0M-17.8 3.8h0M4 34.2h0M-21.6 9.4h0M21.2 -8.9h0M29.9 18.3h0M7.4 -9.9h0M19.1 28.6h0M4.2 6.5h0M-6.5 -31.4h0M13.9 -17.8h0M-30.5 7.5h0M7.2 10.3h0M17.4 -30.6h0M-11.6 -20.3h0M31.3 3.1h0M16.6 17.8h0M.9 -5.3h0M16.4 -6.1h0M26.3 10.3h0M23.2 -14.1h0M2.7 -2.2h0M-3.7 19.7h0M-20.8 -11.2h0M5.3 16.9h0M-11.5 -13.9h0M18.6 18.9h0M-12.6 2.8h0M-.4 -20.5h0M-18.6 -3.6h0M-11.3 2.7h0M26.2 5.5h0M11.5 34.3h0M8.4 -4.8h0M-24.4 -.2h0M-8 19.5h0M23.6 9.2h0M5.4 .3h0M22.3 8.4h0M-20.4 21.8h0M-.2 31h0M-7.3 -10.1h0M-13.2 -12.9h0M28.3 1.3h0M-22.5 -3.1h0M-.6 -8h0M-8.3 9.6h0M7 .8h0M-10.9 -1.9h0M24.3 14.9h0M-17.2 -25.3h0M17.4 16h0M-8.4 21.3h0M6.5 27.7h0M16.4 10.6h0M12.5 28.6h0M-17.2 6.6h0M-15.3 10.8h0M14.2 4.1h0M-23.9 17.7h0M20.5 23.5h0M-13.6 31.3h0M-17.3 19.1h0M-28.9 -10h0M-30.5 9.6h0M-7.9 -31.7h0M21.3 7.8h0M-1.2 12.5h0M-10.5 3.8h0M1.2 -4.5h0M1 -.2h0M-12.5 20.4h0M-3.1 -19h0M20.3 -1.3h0M26.8 -15.4h0M-3.9 -21.3h0M-13.2 -20.9h0M-28 9.3h0M15.6 -12.4h0M-11.3 -3.3h0M25.5 -.5h0M-5.5 -34.7h0M28 -13.3h0M3 -23.7h0M6.4 26.2h0M-14.6 -6h0M-3.3 7h0M12 10.8h0M7.5 9.3h0M33.6 -4h0M-18.8 26.7h0M-14.1 28h0M-10.6 22.1h0M-28.8 2.1h0M-5.7 -19.3h0M2.4 20.3h0" stroke="#3cc09a" stroke-width="3.0"/><path d="M-34.7 1.1h0M-23.8 -22.3h0M-30.1 12.4h0M11.6 11.6h0M-7.8 10.9h0M-21.7 -9.4h0M9.3 -9.7h0M-24.9 4.1h0M5.3 -29.4h0M-21.4 25h0M-31.8 16.1h0M-3.5 -7.7h0M-23.7 -29.2h0M5 -20.3h0M-28.4 -23.8h0M-3.5 23.1h0M-10.9 -5.3h0M-14.6 7.8h0M-30.6 10.9h0M-18.1 32.3h0M-1.4 -29.3h0M4.8 25.3h0M-28.3 -25.5h0M-30.7 10.7h0M-31.3 -15.4h0M-9.7 22h0M4.6 7.2h0M-13.5 -4.8h0M-1 -11h0M4.4 -10.9h0M2 -31.6h0M-.5 .4h0M-2 -27.5h0M-11.6 -13.5h0M-12.6 15.1h0M-5.8 37h0M-6.9 5.2h0M-2.9 -9.7h0M-25.3 -4.3h0M-13.9 14.3h0M-16.8 -13.3h0M-15.2 -13.4h0M-5.1 -16.4h0M6.4 -13.2h0M-18.6 20.8h0M-15.1 -14h0M-29.3 -20.5h0M-20.6 -6.6h0M-23.2 -28.3h0M-28.8 11.3h0M-13.4 22.3h0M-3.1 -20h0M.7 -14.8h0M-12.5 -.1h0M-13.5 -27.5h0M-30.9 -18.8h0M-14.2 30.6h0M-10.1 -28.3h0M4.1 25.6h0M-33.7 4.5h0M-27.6 12.3h0M-19.5 -12.6h0M-22.3 -19.2h0M-.2 -4.5h0M-9.2 28.6h0M0 -17.9h0M11.4 -1.2h0M-13.7 26.5h0M6.4 39.7h0M1.2 -24.9h0M-17.7 28.2h0M-7.8 -2.4h0M-15.8 -16.2h0M-21.5 26.2h0M4.1 37.1h0M-31.1 -6h0M-11 -3.8h0M-16.8 25.1h0M-11.1 30.9h0M-25.4 13.5h0M-22 -26h0M-31.9 -13.1h0M-9.2 -25.2h0M-14 30h0M-20.6 17.2h0M-29.3 -15.6h0M-30.8 7.5h0M-19.3 -10.1h0M-24.1 -2h0M-6 -7.8h0M2.5 -14.5h0M1.3 22.7h0M-7.2 -31.5h0M-15.1 2.7h0M5.9 25.5h0M-6.7 23.7h0M8.9 4.3h0M-30.9 8.8h0M-14.1 -23.8h0M11.5 -14.1h0" stroke="#40c4b8" stroke-width="3.0"/><path d="M-31 2h0M-10.1 -11.1h0M-26.1 18h0M37.5 -12.1h0M.7 -7.6h0M14.5 33.5h0M8.5 -19h0M-17.6 9.8h0M-9.8 -.3h0M-35.7 -10.9h0M-38.1 7.3h0M6.1 9h0M17 2h0M18.7 -35h0M-39.7 1h0M27.1 2.2h0M-18.3 -22.2h0M28.7 9.2h0M12.2 .2h0M.6 -13.9h0M-27.2 -24.1h0M-28.8 6.2h0M-7.1 10.4h0M.4 17.9h0M33.9 -24.1h0M-.6 6.9h0M18.9 15.1h0M-8.1 -13.5h0M25.9 -8.8h0M-31.7 -.9h0M-4.4 2.5h0M36.6 2.2h0M-12.3 9.6h0M3.9 29.1h0M-21.5 7.7h0M-15 24.4h0M-.3 20.1h0M2.5 -10.6h0M-14 -38.5h0M12.2 -8.3h0M-14.7 -16.6h0M-27.1 30.8h0M.9 36.5h0M-22.9 -15.5h0M5.3 1.4h0M14.8 -22.7h0M25.6 31.6h0M-10.9 -20.2h0M-4.3 2.3h0M17.7 -1.7h0M5.8 -39.8h0M-12.6 -35.4h0M6.4 12.7h0M17 -21.8h0M-39.8 8.8h0" stroke="#0c3a20" stroke-width="2.6"/><path d="M1.2 19.4h0M-27 5h0M10.3 -11.8h0M8.7 2.5h0M8.7 .6h0M-17.5 -24.9h0M-5.3 -9.7h0M14.2 -15.1h0M-6.4 -18.7h0M4.6 4.4h0M26.1 16.5h0M-10.5 -14.5h0M-25.2 -3.3h0M-8.3 1.3h0M-23.2 17.1h0M12.3 -22.3h0M.1 30.8h0M-18.7 14.9h0M11.2 3.7h0M-16 12.1h0M20.7 -13.1h0M-11.4 23.3h0M2.2 -7.7h0M6.5 1.9h0M21.9 3.6h0M6.8 -3.3h0M21.4 -9.5h0M20.7 -2.7h0M21 21.3h0M2.8 -6.6h0M23.8 -20.8h0M8.2 6.4h0M.6 6.3h0M-24.9 -12.8h0M-23.2 20.9h0M-26.7 2.1h0M-13.9 -9h0M.7 -10.6h0M-2 5.6h0M11.5 -3.3h0M2.5 -30.4h0M10.5 3.8h0M-20.8 -2.7h0M-.3 -6.3h0M-3 -5.2h0M14.7 23.3h0M-11.2 -9.8h0M9.4 6.8h0M-19.7 20.6h0M6.6 -8.3h0M-13 -12.5h0M3.9 -17.4h0M-8.4 22.3h0M.2 .7h0M-.4 -1.2h0M-1.3 -23.2h0M.5 -.3h0M-12.9 -6.3h0M21.6 -4.1h0M13.4 29.9h0" stroke="#66dcc8" stroke-width="2.6"/></g>
<g transform="translate(303.5 423.7)"><path d="M39.6 0L39.3 3.9L39.5 7.9L38.4 11.7L34.4 14.2L33 17.6L31.4 21L30.2 24.8L27.7 27.7L25.2 30.7L22.2 33.2L18.5 34.7L15.5 37.4L11.6 38.2L7.6 38.4L4.1 41.4L0 40.9L-3.9 39.7L-7.6 38.4L-11.8 38.8L-14.6 35.2L-18.2 34.1L-21.4 32L-25.2 30.7L-27.8 27.8L-31.2 25.6L-33.5 22.4L-34.8 18.6L-37.7 15.6L-37.7 11.4L-37.9 7.5L-39.8 3.9L-39 0L-39.3 -3.9L-39.5 -7.9L-38 -11.5L-36.7 -15.2L-34.6 -18.5L-33.7 -22.5L-29.9 -24.6L-27.5 -27.5L-24.8 -30.2L-22 -32.9L-17.7 -33.2L-14.4 -34.9L-10.9 -36.1L-7.5 -37.9L-3.8 -38.7L0 -39.8L3.9 -39.4L7.8 -39.3L11.9 -39.3L15.3 -37L19.3 -36L22.1 -33L26.2 -32L29.4 -29.4L31.5 -25.9L34.7 -23.2L36.3 -19.4L37 -15.3L38.6 -11.7L38 -7.6L40.5 -4Z" fill="#135e2c"/><path d="M-29 -28.4L-33.6 -28.2L-35 -27M24.4 32.1L25.9 35.1L27.5 34.3M-38.6 -12.9L-41.5 -13L-43 -12.1M38.5 -12.4L42.7 -11.3L43.8 -9.9M-37.8 16.1L-40 20.5L-41 19M-38.9 11.8L-43 10.3L-43.8 11.8M-35.4 -19.3L-36.7 -22.9L-38.4 -22.3M-36.4 -17.4L-42.7 -17.9L-43.5 -16.3M-39.8 -9.5L-43.2 -9.6L-44.5 -8.3M-39 11.3L-42.8 13.5L-42.5 15.3M40.9 -.4L44 3.7L45.2 2.3M5.1 40.9L4.9 46.7L3.4 47.7M5.3 40.9L8.8 45.2L7.1 45.9M32.1 21.6L37.5 22.2L37.8 23.9M12.6 -39.7L18.3 -43.4L20.1 -43.7M19 -37L18 -41.8L19.7 -42.2M-16.9 35.9L-22.3 39.7L-23.9 38.9M24.6 32L24 36.1L23.5 37.9M-32.3 26.1L-35.8 30.7L-37.5 30M34.1 18.3L36.9 19.3L36.4 21.1M-40.6 -6.1L-46.2 -3.7L-46.2 -5.5M-35.3 -19.4L-41 -19.7L-40.2 -21.4M-40.9 -2.8L-45.9 -3.9L-46.7 -5.5M-18.1 35.3L-22.2 36.5L-23.7 35.5M-24 -32.3L-24.9 -38.1L-26.6 -37.7M2.8 41.2L1.7 45.8L3.5 45.8M-2 41.4L1 46.3L-.8 46.4M-33.2 -23L-34.3 -27.9L-36 -27.4M-8.1 40.1L-7.2 45.9L-9 46.1M-7.8 40.2L-10.2 43.4L-11.8 44.2M7.4 -40.6L8.5 -44.3L10 -45.2M-.5 -39.9L-1.3 -43.2L0 -44.4M-17.7 35.5L-23.6 38.5L-22.3 39.8M24.1 32.5L26 35.6L27.7 35.1" stroke="#1c883c" stroke-width="1.3" stroke-linejoin="round"/><path d="M-31.8 -31.9h0M-28.6 33.2h0M38.6 -25.2h0M-41.1 -14.4h0M-2.1 -42.4h0M-31.8 -30.2h0M17 -43.3h0M-41.9 .9h0M38.6 -23.8h0M-20.6 -35.8h0M26.2 -38.4h0M-40.3 11.5h0M39.5 16.1h0M-3.4 43.1h0M-12.6 -39h0M19.2 40.8h0M37.2 -20.1h0M-34.5 29h0M36.9 -24.5h0M31.7 29.7h0M-37.6 -18.9h0M-14.3 -40.1h0M35.7 22.1h0M37.3 -28.6h0M-39.9 -20.6h0M-31.3 -30h0M41.7 -17.7h0M20 -37.7h0M-42.6 12.2h0M-1.9 -41.3h0M39.8 -17h0M45.4 -5.6h0M-44.3 6.2h0M19.6 41.3h0M35.7 19.5h0M43.5 -13.4h0M-27.2 34.7h0M12.6 42.4h0M5.3 -43.2h0M-12.7 -40.9h0M-36.1 -27.7h0M16.2 42.2h0M-4.1 -41.2h0M41.3 -20.6h0M-4.5 -39.8h0M10.2 -45.1h0M27.6 -37.4h0M-46 .5h0M-42.4 18.2h0M35.7 22.2h0M3.7 -43.7h0M-10.9 42.2h0M44.9 -3.5h0M-7.7 -42.6h0M25.1 32.8h0M-42.5 -16.5h0M26.5 35.6h0M18.7 -41.8h0M43 -1.8h0M-22.9 34.5h0" stroke="#2ca848" stroke-width="2.6"/><path d="M-29.2 -11.6h0M-38.5 6.1h0M-38.5 -2.6h0M11.9 -38.8h0M36.5 -20.8h0M-3.3 26.1h0M20.4 -32h0M-40.1 -6.2h0M14.1 5.7h0M-39.4 -3.5h0M14.3 -32.6h0M34.8 15.4h0M21.6 11.3h0M15.7 17.5h0M20.7 32.6h0M8.4 40.2h0M12.7 -32.1h0M-32.9 -20.5h0M-30.4 7.1h0M-30.3 -12.9h0M15.8 -10.5h0M-30.8 13.9h0M10.6 30.3h0M31.6 -6h0M-18.8 -24.2h0M-4.8 12.5h0M-2.2 16.7h0M7.6 -37.2h0M-38.3 13.3h0M-19.9 33.4h0M-21.9 -24.1h0M17.3 -18.1h0M-16.4 32.2h0M22.7 10.3h0M-13.2 25.1h0M.5 -24.3h0M-9.6 -26.3h0M-19.3 -.5h0M28.9 -5.1h0M17.2 -34h0M-29 18.5h0M-9 14.1h0M22.9 4.9h0M17.8 -10.8h0M-10 -22.2h0M24.8 -27.4h0M7.3 4.7h0M-23.9 30h0M.2 2.8h0M33.6 -9.6h0M7.4 32.4h0M6.4 2.6h0M28.3 -14.5h0M20.4 19.3h0M-12.6 -19.4h0M14.2 -35.3h0M-24 -6.7h0M38.3 -12.3h0M23.9 -6.5h0M19.7 22.2h0" stroke="#0d4022" stroke-width="4.2"/><path d="M7.6 25.4h0M-2 28.5h0M18.4 -2.4h0M28.2 13.7h0M11.4 -31.7h0M-6.3 31.1h0M4 21.2h0M-11.8 32.9h0M-6 28.5h0M-21.1 -.6h0M-8.3 17.4h0M-16.6 15.7h0M.8 -20.1h0M38 13.1h0M-2.6 40.5h0M-37.1 -1.5h0M-6.9 -20.6h0M-26.8 -22.3h0M3.8 7h0M-10.3 -19.4h0M-11.4 -24.6h0M3.9 -14.4h0M3.3 -13.7h0M-3.7 -1h0M-21.9 32.5h0M-26.4 21.6h0M-28.1 -4h0M7.8 -40h0M8.6 37.4h0M-30.4 -19.2h0M-26.4 -11.8h0M31.7 14.1h0M23.8 -17.4h0M11.3 -18.2h0M-13.7 -3.2h0M-4.2 24.2h0M12 23.3h0M17.3 1.1h0M-5.9 2.5h0M14.8 24h0M15.6 20.7h0M-3.6 1.6h0M33.1 -24.9h0M-39.9 10.1h0M15.1 14.2h0M-24 22.6h0M3.1 7.7h0M40.8 6.8h0M-20 28.9h0M17.5 13.9h0M31.4 -5.1h0M24.5 -23.3h0M-2.4 15h0M25.8 18.6h0M-24.1 -6.4h0M-.3 18.5h0M23.9 5.6h0M-32.9 11.8h0M-3.6 21.4h0M23.4 -28.2h0M3.6 14h0M25.4 24.8h0M-24.9 -28.2h0M-13.9 14.5h0M-19.3 16.2h0M-16.6 33.9h0M26.4 15.6h0M-34.1 1.5h0M-15.9 14.2h0M12.5 38.7h0M19 -11.7h0M-17 -17.6h0M-17 -32.7h0M-7.6 -23.4h0M-20.2 35.1h0M-4.3 10h0M7.5 -19.9h0M4.3 40h0M-12.1 32.9h0M-28.7 8.1h0M16 -11.2h0M-24.5 19.1h0M-13.9 -19.2h0M8.7 3.7h0M-13.7 10.8h0M30.5 -25.8h0M7.8 -31.8h0M31.1 -20.2h0M-41.3 -5.8h0M24.8 29.6h0M-30.5 21.6h0M-5.2 34h0M18.3 -22.2h0M33.5 18.4h0M-33.2 25.1h0M-9.8 -20h0M-20.3 -12.6h0M-25.3 -10.8h0M2.9 -2.1h0M2.2 19.3h0M10.5 19.9h0M-33 -22.6h0M5.6 31h0M9.5 -1.6h0M17.6 -24.6h0M-39.2 -11.7h0M-4.8 -14.2h0M.2 -28.4h0M36.6 6.2h0M-21.5 -18h0M15 -2.4h0M-12.1 -36.7h0M38.4 -.9h0M-6 36.9h0M21.6 34.3h0M16.1 4.3h0M16 -13.9h0M.7 17.4h0M3.1 12.6h0M8.6 2h0M22.6 29.5h0M-8.6 -24.6h0M-1.8 41.8h0M-24.7 -7.7h0M-21.5 -13.8h0M-38.1 -3.4h0M-10.4 2.7h0M-24.7 -24.4h0M-23.4 18.3h0M-27.2 -10.7h0M21.7 20.3h0M-32.9 18.3h0M2.5 22.6h0M-7.5 -24.3h0M-25 17.3h0M31 -3h0M9 -27.5h0M-3 -4.7h0M-11 -34.2h0M-9.7 -1.6h0M-24.7 21.5h0M20.9 -26.2h0M26.2 24.5h0M8.8 32.8h0M-19 7.2h0M11.5 -16.2h0M-18.8 -25.6h0M-2.9 -28.2h0M10.8 -5h0M-24.8 27.6h0M-18 21.2h0M-20.9 3.4h0M-38.1 2h0M-2.8 37.2h0M-9.2 -33.3h0M-15.4 .1h0M-4 -23.6h0M6.8 -1.3h0M-8.7 15.4h0M-3.1 -8.1h0M39 -7.4h0M15.3 33.6h0M5.9 -10.7h0M5.9 -34.4h0M23.2 -1.3h0M-4 15.3h0M-34.4 2.6h0M9 7.7h0M-11.5 -29.2h0M23.6 -28.5h0M-20.6 32.8h0M2.7 0h0M-3.6 37.2h0M-3.2 -21.2h0M-3.5 -5.6h0M32 -18.3h0M5.4 -35.8h0M.1 40.3h0M-25 -23h0M-3 -36.2h0M15.6 7.2h0M12.7 -31.6h0M-25 16h0M-35.7 9h0M-28.8 -3.6h0M-10.8 -32.9h0M-9.1 1.2h0M-29.5 -26.9h0M-28.9 -15.7h0M13.5 38.9h0M26.3 -21.9h0M6 36.3h0M-30 -12.6h0M-20.3 30.6h0M18.6 -6.6h0M26.7 -4.1h0M-19.3 26.4h0M-7.7 33h0M.5 30.2h0M-32.5 17.7h0" stroke="#1c883c" stroke-width="4.2"/><path d="M28.6 -12.3h0M-11.8 -12.2h0M-2.2 -8.7h0M26.3 -30.3h0M-39 -5.3h0M-30.5 19.6h0M-9.7 26.7h0M10.2 37.1h0M11.1 -19.6h0M-25.4 -30.3h0M-23.5 .1h0M22.8 -7.1h0M-.1 -28.3h0M-8.5 21.9h0M-19.6 -3.1h0M-25 -14.5h0M21.5 -7.5h0M-29.5 -19.4h0M-22.1 -32.5h0M-6 23.7h0M-16.6 19.8h0M-6.9 -29.4h0M-25.3 -23.6h0M-7.2 -6.5h0M-29.6 15.1h0M-4.3 27.8h0M-7.2 1.5h0M19.7 -13.5h0M-20.2 -11.7h0M-3.6 38.2h0M17 1.1h0M18.1 -36.4h0M5 -2.7h0M22 26.7h0M-1.4 -10.6h0M2 -4.7h0M21.9 -17.6h0M-7.2 18.3h0M23.9 -2.2h0M-19.3 -27.2h0M-17.6 -15.7h0M-30 25.4h0M-27.2 9.9h0M-31.9 -5.1h0M22.2 3.5h0M-23.4 24.7h0M-25.9 26.9h0M10.8 27.2h0M30.4 20h0M7.2 -31.1h0M-5 14.6h0M-6.7 -27.8h0M.4 -29h0M19.6 -35.1h0M-2.8 22.8h0M16.3 20.6h0M39.6 -4.6h0M13.1 32.5h0M-34 5.7h0M-11.6 -22.7h0M-30.2 17.2h0M-20.2 -27.6h0M-12.7 -31.1h0M-2.7 23.4h0M-28.9 6h0M-20.3 -2.9h0M36.6 4.3h0M17.4 33.7h0M-.2 -15.3h0M13.4 -25h0M25.7 15.1h0M-15.7 -22h0M-10.9 -31.1h0M23.9 -9.5h0M22.8 -30h0M7 -1.1h0M-15 -32.6h0M3.3 38.7h0M-1.3 -37.6h0M-23.9 11.2h0M19.2 26.6h0M-36.2 8.6h0M12 4.3h0M-12.8 -35.5h0M-20.2 .9h0M31.5 20.4h0M17.2 17.1h0M-2.9 32.2h0M17.3 -29.9h0M-23.8 -2.3h0M-10.2 -15.3h0M-7.9 7.6h0M24.4 -25.6h0M31 -10.8h0M-9.3 21.6h0M-29 15.6h0M8.8 -26.9h0M32.9 2.6h0M-18.6 -26.2h0M34.4 5.2h0M-18.4 27h0M-8.1 13.9h0M-30.6 -14.4h0M12.5 17.4h0M.3 -22.5h0M-24 -6.3h0M22.6 25.5h0M-20 -5.2h0M-6 -37.2h0M-32.2 3.6h0M19.1 15.4h0M16.6 -2h0M10.1 -21.6h0M35.4 4.2h0M24.5 30.3h0M-31.3 -10.8h0M28.4 21.9h0M-.5 -14.8h0M-12.8 8.9h0M11.5 12.1h0M-11.3 -12.8h0M-30 -20h0M-28.2 14h0M23.9 -30.2h0M-13.6 -20.8h0M-37.5 10.6h0M25 -30.4h0M21.9 -30.2h0M29.9 -12.3h0M-16.4 -13.8h0M15 21.3h0M-5.3 -9.3h0M13.2 -33.1h0M-6 16.5h0M10.3 16.4h0M19 7.9h0M23.3 -3.5h0M8 14.7h0M-15.3 -10.8h0M-12.5 11.5h0M-14.9 -33.3h0M.6 3.8h0M-35.7 13.9h0M-9 -35h0M10.7 -23.6h0M25.5 11.4h0M6.9 -16.3h0M35.1 7.7h0M40.4 1.4h0M-3 27h0M17.7 36.2h0M-34.5 1.9h0M9.9 2.5h0M-11.2 -5.1h0M31.6 7.3h0M14.7 4.2h0M29 10.1h0M-9.3 -5.4h0M-3.3 -5.3h0M11.3 32h0M28.5 18.5h0M23.7 -28.2h0M3.1 40.8h0M25.3 -1.6h0M-22.8 19.1h0M6 -15.4h0M15.7 11.4h0M13.9 7.1h0M19 .6h0M2 30.8h0M-16.9 19.1h0M-23.2 -5.9h0M15.5 -8.7h0M24.9 12.7h0M33.9 -17.7h0M10.5 30.5h0M-8.1 -19.5h0M-34.8 -10.1h0M24.1 19.3h0M-15.1 35h0" stroke="#2ca848" stroke-width="3.8"/><path d="M-10.1 -36.3h0M24.9 -22.8h0M-3.4 14.7h0M-19.8 21.8h0M-29.2 -22.8h0M10.4 26.5h0M10 -19.9h0M0 -23.2h0M7.7 14.3h0M-.9 -29.1h0M-2.5 -2.1h0M1.7 -33.2h0M-17.4 -10.4h0M17.4 6.1h0M13 -6.4h0M35.5 -1.1h0M36.1 -19.4h0M26.8 27.5h0M-36.3 -17.6h0M16.3 26.7h0M-25.4 13.9h0M7.4 37.6h0M-5.1 -13.1h0M11.1 20.2h0M-23.3 20.3h0M-4 -28.4h0M-1.2 36.3h0M-9 30.3h0M32.2 1.7h0M14.4 -37.1h0M22.4 1.2h0M-36.5 3.5h0M-6 -26.3h0M-9.3 -17.5h0M3.1 20.9h0M-37.4 -13.2h0M29.8 13.7h0M-20.7 26.7h0M-23.1 4.7h0M24.7 16.5h0M11.4 24.1h0M28.7 21.9h0M3.3 37.3h0M19.6 20.2h0M-33.4 2.5h0M4.3 23h0M10.3 4.2h0M10.2 28.9h0M2.3 29.5h0M-4.1 36.7h0" stroke="#0d4022" stroke-width="3.0"/><path d="M13.2 -12.7h0M4.6 -31.5h0M25.8 -19.2h0M-25.3 -16.5h0M10.7 -1.8h0M-21 -7h0M17.2 7.9h0M-3 17.5h0M5.2 20.5h0M17.4 24.5h0M-7.3 -33.1h0M6.1 -33.1h0M0 17.1h0M2.9 22h0M-29.2 -15.9h0M-20.6 -19.8h0M-8.4 -28.3h0M18.8 10.7h0M-15.5 7.3h0M16 -16.8h0M-28 -14.5h0M-7.5 -34.3h0M-15.5 19.5h0M11.2 -23.5h0M5.1 31.6h0M14 -27h0M12.5 15h0M-7.3 .3h0M-13.8 14.2h0M4.4 23h0M19.1 17.5h0M-19.9 -27.4h0M1 2.3h0M-15.8 28.5h0M-27.3 27.5h0M-21.3 23.9h0M11.3 -24.8h0M20.4 -18.8h0M11.3 -12.5h0M19.7 -23.2h0M18.2 -34.5h0M-25.6 17.1h0M1.3 -5.1h0M8.6 4.8h0M-18.8 -10.2h0M-.5 -27.7h0M5.9 -1.1h0M25 9.6h0M1.8 -24h0M-9 22.5h0M35.6 .7h0M-33.7 -3.1h0M27.1 15h0M-8.5 28h0M13.3 -33.4h0M-13.9 -23.3h0M25.4 -14.2h0M-10.9 34.8h0M-17 2.9h0M3.1 5h0M-8.4 24.1h0M-18.4 26.1h0M-24 7.5h0M6.9 -17.5h0M-18.2 -31.6h0M12.9 4.5h0M30.5 4.4h0M11.2 -21.2h0M16.8 18.7h0M15.5 9h0M-2.9 4.3h0M-29.1 6.5h0M12.5 -17.6h0M-37.9 -8.6h0M19.8 1.3h0M-18 -26h0M-7.7 -16.1h0M-8.5 -27.2h0M-10.5 6.1h0M-5.4 5.3h0M9.2 -9.6h0M-31.5 .5h0M-26.2 -17.9h0M-26.1 10.4h0M-12.8 20.2h0M17.4 18.8h0M-28.9 3.3h0M9.7 18.1h0M13.2 9.1h0M29.3 -23.6h0M-10.1 -19h0M10.5 36.3h0M-22 -28.6h0M10.8 35.7h0M9.7 -4.9h0M-27.6 -.1h0M-26.5 9.3h0M-18.9 -9.5h0M-2 -15.9h0M1.9 -12.3h0M13.1 -29.7h0M-13.6 27.9h0M15.3 -30.8h0M13.2 1.1h0M8.4 -20.4h0M1.3 28.9h0M30.4 -20.8h0M-2.5 1.6h0M2.1 -.8h0M-15.7 9.6h0M1.9 23.3h0M7.9 -9.7h0M-29.7 18.4h0M-4.2 -17.5h0M21.6 2.3h0M-27.9 -24.9h0M-9.1 31.7h0M-13.6 -8.8h0M-36 8.1h0M35.1 -13.2h0M-25.6 -10.6h0M-26.4 19.1h0M-32.5 5h0M-28.3 -2.6h0M-11.6 -18.6h0M-17.2 28.5h0M2.7 37.4h0M-17.8 14.4h0M3.8 -6.7h0M23.1 14.8h0M37.2 7.5h0M16.8 -19.7h0M12.9 1h0M-15.6 26.5h0M31.9 15.2h0M31.9 3h0M29.2 -11.8h0M18.7 19.4h0M36.4 4.4h0M19.1 -21.6h0M25 28.2h0M11.7 36.1h0M34.7 -3.7h0M16.2 -30.9h0M-2.9 -25.2h0M-25.4 -21.9h0M5.3 11h0M7.4 -26.5h0M25.2 2.5h0M-2.8 16.2h0M-12.6 -23h0M1.5 2.5h0M-20 -11.2h0M11.4 -36.2h0M1.2 -30.4h0M9.9 21.5h0M-3.1 -21.8h0M-11.7 7.2h0M-10.5 17.1h0M24.8 -23.2h0" stroke="#44c45a" stroke-width="3.3"/><path d="M-25 8.5h0M20.1 -8h0M-17.2 -6.6h0M17.1 9.4h0M-21 -23.6h0M-7.9 10.7h0M-7.7 23.7h0M20.1 -8.8h0M12.8 -30h0M-34.7 -3.1h0M-10.3 -5.3h0M-3.4 25.4h0M4.8 27.3h0M4.1 -.2h0M34.9 -1h0M20.2 21.1h0M1.5 3.5h0M6.9 2.3h0M18 -14.4h0M-1.7 -32.8h0M4.4 29h0M-3.7 15.2h0M3.2 -13.6h0M18.3 4.8h0M13.7 -15.5h0M-8.1 29.2h0M28.3 -19h0M-.2 -15.1h0M-6.1 -16.4h0M13.1 7h0M-7.8 6h0M-16.3 -10.3h0M5 13.9h0M-10 -19.7h0M-19.3 -28.1h0M29.5 -11h0M7.9 -3.7h0M8.9 -34.3h0M26.6 5.1h0M-.2 -30.9h0M24.7 5.8h0M-17.4 18.8h0M14.5 21.1h0M-10.4 -9.2h0M-17.7 -20.4h0M-29.6 -10.4h0M9.7 -11h0M21.4 -4.5h0M13.3 -8.6h0M22.9 -7.5h0M-29.3 10.2h0M7.7 -14.2h0M17.7 4.1h0M-14.5 4.2h0M13.2 7.2h0M16.8 -19h0M33.9 -5h0M-1.8 11.9h0M30 15h0M9.4 -26.1h0M-30.8 12.5h0M-4.5 -23.9h0M-25.3 17.1h0M-29 -6.6h0M-8.4 20h0M-14 24.4h0M-27.1 16.9h0M-25.5 -19h0M22.7 -17.6h0M7.9 -12.9h0M-24.1 -12.3h0M-20.2 -17.9h0M-16.1 24.1h0M-20.1 14.4h0M-25.3 -11.9h0M-.6 -20.2h0M-29.4 12.7h0M-2.9 14.5h0M24.8 -11.2h0M23.1 16.3h0M5.7 32.3h0M17.6 17.3h0M-30.4 -6.2h0M33.6 -10.4h0M-15.9 -10.6h0M3.5 -25.6h0M-22.2 -22.7h0M-4.9 -33.1h0M4.9 5.3h0M-28.1 -16.7h0M30 4.9h0M-3.7 7.7h0M-20.6 14.2h0M17.1 -22.4h0M-7.9 -1h0M15.6 -4.4h0M-11.9 18.8h0M-15.6 1.1h0M-4.2 .3h0M29.6 -5h0M0 4.1h0M-16.5 13.5h0M-32.1 -6.6h0M-5.7 -27.2h0M4.1 24.3h0M-2.4 -.9h0M-1.4 -13.2h0M27.9 0h0M8.6 32.4h0M17.4 15.1h0" stroke="#60d482" stroke-width="3.0"/><path d="M-14.4 -5.5h0M-23.8 -6.5h0M12.9 -15.4h0M-14.5 4.6h0M-29.1 -7.2h0M28.2 -2.6h0M13.5 20.6h0M21.6 4.6h0M-1.5 2.7h0M12.6 -2.9h0M-12.4 -8.4h0M-26.6 10.2h0M3.5 -9h0M14.4 2.6h0M-25.8 2h0M-3.8 -10.1h0M8.9 -25.8h0M21.1 6.3h0M19.7 -17.1h0M-3.3 23.1h0M-23.6 4.2h0M-4.8 -26.6h0M17.3 -26.8h0M-7.9 -6.8h0M-15.4 -3.4h0M-7.1 3.4h0M-13.9 2.2h0M-25.7 18.2h0M-25.5 -.5h0M-9.8 -6.2h0M10.1 2.7h0M20.9 -15.3h0M-5.3 -13.9h0M4.9 5.2h0M-5.9 -11.6h0M-23.9 6.1h0M3.4 2.7h0M6.3 18.4h0M-15.6 22.3h0M-12.3 -28.8h0M-21.4 -2.9h0M29.3 -10.3h0M.3 6.7h0M-11.1 25.7h0M4.5 -6.8h0" stroke="#46c6b6" stroke-width="2.8"/><path d="M-38.2 3.1h0M-34.4 -18h0M-27 8.2h0M-23.8 -10.2h0M2.5 40.8h0M36.4 -13.2h0M30.6 8.3h0M21.7 15.8h0M-24.4 -13.5h0M-33.5 -.5h0M-7.9 -24.5h0M-10.2 34.6h0M-28.7 -17.5h0M7.9 27.2h0M-22.6 -20.9h0M14.1 8.1h0M-7.1 19.7h0M18 1.1h0M-26.6 -25.6h0M6 16.3h0M-9.5 -19h0M-32.5 17.9h0M32.1 4.7h0M-27 -19.3h0M-2 -30.3h0M-12.5 -25.8h0M-33.7 16.9h0M-11.4 -7.7h0M-10.8 33.6h0M-12.1 18.8h0M-1.8 -39.5h0M26.7 12.2h0M-7.3 12h0M13.3 -1.3h0M-22.1 10.6h0M-14.5 -18h0M32.3 21.3h0M-7.2 -26h0M-41.1 -7.1h0M-1.1 -32.3h0M5.3 3.3h0M-36 .8h0M-23.5 2.8h0M-28.3 -21h0M-33.1 -11h0M-7.5 21.6h0M10.9 24.1h0M39.2 .4h0M-15.7 -31.2h0M-19.7 -9.5h0M-23.3 -11.5h0M-24.6 28.1h0M12.1 29.4h0M-37.9 -3.6h0M-14.9 32.5h0" stroke="#0d4022" stroke-width="2.6"/><path d="M3.3 .7h0M24.7 2.8h0M9.8 2.5h0M8.2 -20.6h0M-9.6 -8.6h0M-24.9 -13.9h0M3.1 15.9h0M-2 18.5h0M2.4 -10.5h0M-14.8 -2h0M18.6 -7.2h0M-12.3 12.9h0M-9.4 -14.3h0M-14.8 24.2h0M-1.5 11.1h0M11.1 -29.7h0M5.7 2.7h0M15.1 24.3h0M-29.1 12.5h0M12.1 17.5h0M-18.6 -19h0M-15 6.7h0M-12.9 8.3h0M-26.7 -14.2h0M-4.6 -1.6h0M-6.8 14h0M-2.9 12h0M19.9 7.9h0M25.4 8.3h0M-13.3 22.6h0M-29.7 2.9h0M9.2 -13.3h0M6.1 -17.2h0M28.1 -.9h0M-24.3 18.6h0M-1.7 9.8h0M-.2 -7.1h0M-18.3 7.4h0M-6.2 -26.4h0M14.1 10.7h0M-5 -23.1h0M27.2 11.1h0M6.1 25.4h0M-24.8 -9.1h0M-.2 30.3h0M.3 -21.3h0M2.7 -12.5h0M-24 16.4h0M29 .5h0M8.7 24.1h0M-7.8 -14.4h0M-24.3 -15.9h0M-19 -21.3h0M-5.2 16.8h0M26.2 -14.6h0M-3.8 3.1h0M-5.6 -28.9h0M.9 24h0M-23.3 -15.5h0M-.5 3h0" stroke="#88e6b4" stroke-width="2.6"/></g>
<g transform="translate(421.0 422.3)"><path d="M33.7 0L33.7 3.3L34.3 6.8L31.8 9.6L31.1 12.9L29.6 15.8L28.4 19L26.9 22L24.3 24.3L22.1 26.9L19 28.4L16.2 30.4L13.5 32.5L10.3 34L7.3 36.8L3.6 36.8L0 36.2L-3.6 36.4L-6.8 34L-9.7 31.9L-13.2 31.8L-16.5 30.8L-19.3 28.9L-21.4 26.1L-23.3 23.3L-26.7 21.9L-28.3 18.9L-30.1 16.1L-32.1 13.3L-32.4 9.8L-34.6 6.9L-33.9 3.3L-34.9 0L-34.5 -3.4L-34 -6.8L-33.2 -10.1L-32.8 -13.6L-31.3 -16.7L-29.5 -19.7L-26.9 -22.1L-25.9 -25.9L-22.7 -27.7L-18.8 -28.2L-16.7 -31.3L-13.5 -32.5L-9.8 -32.4L-6.8 -34.1L-3.4 -34.4L0 -35.8L3.4 -34.9L6.6 -33.3L10.3 -33.9L13.4 -32.4L17.1 -32.1L19.5 -29.2L22.9 -27.9L24.9 -24.9L27.1 -22.3L29.1 -19.5L30 -16L31.7 -13.1L33.1 -10L34.1 -6.8L34.3 -3.4Z" fill="#0e2d41"/><path d="M-32 -15.8L-37.8 -14.6L-37.5 -16.3M-5 35.9L-7.9 38.1L-6.3 38.8M-27.2 -24.5L-31.3 -26.2L-32.6 -25M-31.4 14.8L-37 15L-36.5 16.7M19.6 -31.1L18.2 -35.1L20 -34.7M-24.2 24.9L-24.4 30.5L-24.1 32.3M-5.2 35.8L-4 40.1L-5.8 40.2M-23.4 25.8L-28.7 27.5L-28.6 29.2M1.4 37.4L-2.6 41.4L-1 42.1M-3.4 -35.3L-.6 -38.2L-2.2 -39M10.8 -34.1L12 -39.6L13.8 -40M-27.4 -24.2L-30.8 -24.5L-30.4 -26.3M-1.8 36.9L.9 39.6L2.4 40.6M31.6 14.8L35.7 13.2L35 14.9M32.3 12.6L37.5 10.9L38.7 9.6M18.2 -31.8L21.1 -34.9L22.9 -34.6M-17.9 29.8L-22.3 32.7L-23.9 32" stroke="#11445d" stroke-width="1.3" stroke-linejoin="round"/><path d="M-10.8 34.5h0M-12.5 33.4h0M11.9 -34.8h0M16 34.5h0M35.8 -11h0M12.1 37.3h0M31.8 -17.9h0M31.2 19.7h0M-36.5 -10.3h0M-12.6 -34.1h0M23.2 28.1h0M-25.6 27.4h0M36.1 -3h0M-38.5 2.3h0M13.3 35.5h0M-26.1 25.8h0M-16.5 -33.7h0M33.6 -16.4h0M-17.3 30.9h0M-36.2 4.7h0M7.9 37.6h0M-20.2 30.9h0M34.5 -12.5h0M8.7 38h0M21.2 32.3h0M-31.6 -23.8h0M26.4 -26.5h0M-16.3 -34.1h0M-24.1 29.1h0M14.9 35.1h0M3.1 -38.5h0M33.4 15.1h0M25.3 29.4h0M16.5 -33.5h0M9.1 -36.2h0M36.2 -5.5h0M29.3 -22.5h0M-35.1 11.7h0M32 -17.9h0M10 -37.2h0" stroke="#144f72" stroke-width="2.6"/><path d="M21.1 -5.2h0M8.2 -21.3h0M-8.7 29.6h0M28.3 .1h0M13.3 -14.3h0M-12.5 -28.6h0M21.3 27.1h0M-20.3 9.6h0M29.9 -4h0M3 34h0M10.4 -10.5h0M.6 -31.4h0M-4.9 33.3h0M20.2 -17h0M25.5 -10.9h0M-15.9 5.5h0M-21.5 23.9h0M-27.4 -16.8h0M-15.8 21.4h0M-8.7 6.6h0M3.6 4.5h0M-9.1 -13.6h0M-7.6 16.7h0M26.2 22.5h0M-4.6 -34.8h0M7.1 .2h0M-16.5 -21h0M-17.8 -22.6h0M11.4 13.6h0M7.4 32.1h0M1.8 -6.5h0M-21.9 26.2h0M-6.5 16.4h0M7 33.4h0M15.8 24.2h0M3.4 3.5h0M-28.5 8.9h0M-25 8.7h0M20.4 26.4h0M.1 21.4h0M25 6.3h0M-10.1 -4.1h0M13.2 12.9h0M-7.7 -4.7h0M-16 18.9h0M14.9 18.6h0M16.9 25.3h0M8.1 29.8h0M7.1 -26.1h0M-22.1 14.8h0M18.5 7.7h0M4.1 -.7h0M-3 14h0M19.1 .2h0M23.3 9.1h0M-21.3 14.3h0M-18 15.7h0M11.3 7.5h0M28.2 .5h0M-19.4 -19.9h0M4.8 -11.2h0M-15 -21.9h0M-24.2 10.7h0M18.1 19.8h0M-10.1 -25.4h0M5.3 3.8h0M26.3 3.7h0M16.3 -14.7h0M-20.9 16.8h0M19.5 -26.9h0M15.1 23.7h0M-31.9 -15.9h0M-16.7 -8.3h0M2.1 -32.8h0M23.4 -1h0M-2.3 -10.2h0M24.1 -6.5h0M-13.2 21.7h0M21.8 27.4h0M14.9 19.1h0M-8.3 -8.7h0M-19.7 -16.1h0M10.9 1h0M-.2 -18.9h0M8.1 14.5h0M1.7 -13h0M8.5 26h0M29.6 2.5h0M20.9 -28h0M22.5 4.7h0" stroke="#081d2c" stroke-width="4.2"/><path d="M-18.9 -.4h0M12.2 -12.5h0M26.4 -15.6h0M-4.1 8.6h0M12.3 33.8h0M11.7 22.1h0M-7.1 -35.1h0M-5.3 2.8h0M-2.4 -34.1h0M19.9 -3.3h0M.9 -32.9h0M-24 -5.1h0M6.9 -33.7h0M11.1 25.4h0M-7 -2.3h0M-2 -1.8h0M-22.8 23.7h0M25.6 -7.1h0M-31.7 -16.9h0M-24.5 -4h0M-22.8 2.2h0M32.8 13.1h0M-17.9 -11.5h0M-25.8 -24.4h0M-26.4 -11.5h0M8.1 13.4h0M.8 -25h0M12.6 -10.2h0M25.1 8.9h0M-2.7 28.7h0M-16.6 -20h0M18.9 -21.4h0M20 -11.6h0M-20.7 -1.5h0M22.9 -27.4h0M10.1 9h0M-2.6 11.7h0M-27.8 -19.7h0M6.9 -25.8h0M-21.8 24.9h0M-24.6 10.5h0M8 -23.7h0M-11.1 30.6h0M15.2 13.9h0M25.8 -14h0M1.8 -14.1h0M5.3 -34.9h0M-30.7 9.3h0M-.4 -20.8h0M8.7 -29.6h0M-19.3 -1.2h0M-15 4.5h0M10.9 -26.2h0M8.4 12.3h0M13 -10.8h0M33.8 1.2h0M.3 0h0M9.7 -16.3h0M-33.2 -8.2h0M-21.7 5.4h0M-21.4 9.1h0M.9 14.7h0M-7.3 30.1h0M18.1 5.8h0M-13.9 -23.5h0M27.1 9h0M.4 -5.9h0M29.1 -5.3h0M25.2 10.2h0M-5.3 .2h0M16.9 -2.6h0M8.3 29.7h0M-.8 11.9h0M16.6 26.3h0M-9.5 -16.4h0M-13.3 -30.4h0M12.6 20.7h0M11.9 20.1h0M2.2 -28.6h0M29.6 12h0M5.7 -27h0M-23.1 -25.7h0M-2 13.8h0M.3 -6.6h0M16.6 -19h0M18.7 -9.1h0M-18 -8.8h0M25.3 -2.2h0M-9.9 34.5h0M21.6 -.1h0M-23.4 -6.9h0M-33 -12.7h0M-18.3 16.2h0M16.6 30.2h0M-13.4 18h0M31.3 -12h0M23.2 -6.2h0M-9.9 16.6h0M8.2 -13.5h0M6.4 -27.1h0M12.8 -31.4h0M-30.2 -18.6h0M17.6 -10.1h0M23.3 13.2h0M7.6 31.1h0M22.6 -13h0M-20.1 3.3h0M-17 -17.6h0M26.4 -13.2h0M26.6 20.2h0M-18.6 21.3h0M-14.3 10.6h0M6.6 -22.5h0M-19.8 24.6h0M10.6 23.6h0M-8.8 1.4h0M-20.9 28.6h0M21.1 -5h0M11 8h0M-.7 -26.5h0M-30.2 -17.6h0M-2.7 -22.6h0M-22.8 -22.8h0M10.5 -23.1h0M18.7 2h0M14 4.3h0M12 -24.2h0M-13.8 7.7h0M1 -19h0M-31.2 -18.5h0M3.1 3.2h0M-27 -1.1h0M-6.5 -9.6h0M1.3 11.7h0M19.8 15.9h0M.4 -32.5h0M10.9 -.7h0M23.1 18.4h0M-31.8 -10.4h0M6.1 22.8h0M15.5 -10.9h0M-5 8.4h0M-10.9 24.4h0M-21.6 3.1h0M-17.4 19.8h0M17 -3h0M-2.8 -36h0M-12.2 9.5h0M-23.1 25h0M23.5 -4.1h0M-24.4 6.2h0M15.6 31.7h0M-6.3 -25.5h0M-23.4 12.1h0M-17.6 13.8h0M-13.8 12.7h0M14 -18.2h0M19.1 26.3h0M-16.4 -13h0M19.8 19h0M-.7 14.8h0M-7.9 -33.7h0M-14.3 -4.7h0M-8.2 -14.5h0M11.9 9.6h0M-32.4 -8.2h0M-28.8 6.2h0M-20.7 11.1h0M-33.5 -1h0M20.3 9.3h0M5.9 1.4h0M27.2 23.1h0M-17.9 2.7h0M-7.3 -13.6h0M-21.5 4.6h0M-33.1 5.3h0M-31.9 .6h0M27.7 15.6h0M11.2 7.5h0M8.9 9h0" stroke="#11445d" stroke-width="3.8"/><path d="M9.5 -33.4h0M15.4 33h0M18.7 -21.3h0M25.1 8.1h0M15.8 -19.6h0M10.5 -18.6h0M33.7 -4.9h0M23.5 22h0M25 8.2h0M31 .7h0M31 11h0M6.2 -9.2h0M10 -34.3h0M27.2 -13.7h0M18 25.6h0M20.1 -18.8h0M23.7 19.8h0M19.5 -27.7h0M16.5 -21.6h0M16.3 -28.4h0M20.5 26.8h0M24.5 -15.8h0M12.3 -32.8h0M25 -19.1h0M14.3 2.7h0M10.2 19.7h0M25.1 -7.4h0M12.4 34.1h0M18.1 12.5h0M20.7 -23h0M20.9 -29.7h0M12.3 -24.1h0M11.7 13.8h0M19.9 27.2h0M8.9 4.2h0M18.7 3.3h0M10.7 -13.5h0M27.2 7.6h0M8.4 -34.6h0M14.8 -11.5h0M17.8 -27.8h0M24.9 -22.6h0M13.7 -30.7h0M6.5 -29.1h0M10.5 -4.5h0M25.5 17h0M23.3 -8.3h0M17.4 7.1h0M11 23.8h0M27.9 -20.7h0M14.5 -7.6h0M11.7 4.9h0M21.8 -19.9h0M28.8 -3.7h0M28 6.9h0M31.5 -4.8h0M11.1 17.1h0M.4 20h0M.3 -4.6h0M16.9 -26.5h0M22.6 9.3h0M16.4 -16.5h0M26.1 -17.4h0M17.8 -29.4h0M25.3 .1h0M15 2.6h0M26.3 -6.6h0M14.2 -21.2h0M13.6 -17.2h0M27.5 -4.8h0M30 5.6h0M15.2 6.5h0M12.4 32.8h0M2 35.8h0M26.7 16h0M27.2 -14.2h0M30.8 10.5h0M21.6 -13.5h0M15.5 16.5h0M31.1 14.1h0M27.9 2.6h0M22.5 -.6h0M18.7 7.8h0M26.3 -18.9h0M19.2 -7.1h0M22.7 -10.6h0M27.1 -15.6h0M13.9 -10.7h0M18.6 7.9h0M15.5 -12.9h0M28.8 -3.9h0M17.8 -16.6h0M.6 .3h0M33.8 -1.3h0M20.3 -14.4h0M23 -9.4h0M20.2 11.1h0M15.1 4.1h0M17.2 -19.5h0M14.4 -11.8h0M27.5 -3.5h0M20.1 26.4h0M14.5 11.4h0M17.6 2.6h0M5.2 -7.9h0M19.1 23.4h0M10.9 15.2h0M23.5 -5h0M30 -7.9h0M33.9 7.2h0M33.8 4.5h0M1.1 -22.7h0M8.4 -27.9h0M16 19.9h0M26.5 22.3h0M31.9 -12.9h0M23.8 -19.4h0M26.6 -11h0M31.8 5.5h0M30.9 -8.1h0M28.6 7.1h0M31.2 -1.5h0M31.3 9.2h0M5.3 -5.8h0M29.2 -9.5h0M28.9 -4h0M11.3 -24h0M25.8 -2.4h0M4.4 -.9h0M19 15.9h0" stroke="#144f72" stroke-width="3.2"/><path d="M21.3 5h0M11.1 19.1h0M25.9 -19h0M14.1 -18.6h0M19.8 10.2h0M17 -29.5h0M12.6 23h0M21.4 23.2h0M3.3 14.2h0M19.8 -11.9h0M29.4 6.8h0M21.6 -3.9h0M10 -3.9h0M26.8 -2.7h0M19.4 .3h0M31.6 4.7h0M12.8 17h0M10.6 20.2h0M23.8 -7h0M25.4 1h0M1.9 -21.5h0M12.7 -31.1h0M13.6 -27.3h0M20.3 -9.9h0M20 3h0M25 -3.4h0M22.6 15.6h0M12.9 25.2h0M8.1 26h0M24 -19.9h0M28.8 4.7h0M7.7 -17.8h0M26.2 9.6h0M4.9 35.5h0M2.2 3.1h0M14.7 -9.7h0M18.4 8.4h0M14.2 27.8h0M27.7 2.6h0M13.4 -5.8h0M14.9 -5.2h0M27.6 -6.6h0M9 -9.9h0M7.4 -7.8h0M17 -4.7h0" stroke="#185d8c" stroke-width="2.6"/><path d="M-34.5 -1.4h0M-23.6 -16.8h0M-18.2 25.8h0M-5.2 7.4h0M-17.5 18.3h0M-22 -9.7h0M-11.6 32.8h0M-8.5 -2.4h0M-16.3 23.5h0M-33.4 10.4h0M-21.5 10.7h0M-13.9 28.2h0M-26 -24h0M-16 -6.4h0M-14.9 -27.1h0M-15.1 .4h0M-34.8 6.3h0M-25.2 -20.7h0M-13.5 24.6h0M-6.5 13.9h0M-23.7 21.3h0M-20.7 -11.6h0M-26 16.7h0M-29.7 -8.8h0M-20.9 -27.5h0M-21.8 -4.6h0M-15.1 -4.7h0M-23 12.4h0M-30.1 -15.8h0M-15.6 2.7h0M-30 -2.7h0M-27.5 16.6h0M-24.3 20.6h0M-19.9 16.4h0M-32.1 -13.1h0M-34 -7.3h0M-18.7 24.8h0M-27.9 17.5h0M-29.8 0h0M-20 -4.8h0M-19.8 -11.6h0M-8.1 19.9h0M-9.2 -29.6h0M-13 26.9h0M-24.4 9.2h0M-11.7 -.5h0M-26 -21.5h0M-27.9 9.2h0M-16 -12.5h0M-21.4 -2.2h0M-26.9 -2.3h0M-12.7 31.6h0M-27.1 -19.2h0M-18 20.3h0M-30.2 6.7h0M-24.2 17.2h0M-14.6 30.9h0M-32.6 -10.1h0M-17.7 -10.6h0M-17.3 -9.6h0M-34.4 3.7h0M-4.7 17.2h0M-25.7 6.8h0M-33.9 -3h0M-22.8 1.5h0M-12.4 30.6h0M-23.1 15.8h0M-17.7 -13.4h0M-15.5 3h0M-14.1 9.8h0M-8.5 25.4h0M-26.9 -17h0M-23.5 5.1h0M-30.7 -13.2h0M-15.8 -15.7h0M-12.9 28.6h0M-28.9 -2.7h0M-29.5 1.7h0M-21 -29.2h0M-16.5 -26h0M-26.3 -23.8h0M-8.1 -31.5h0M-25.8 -10.3h0M-22.3 23.7h0M-24.1 23.6h0M-18.3 -1.6h0M-27.4 -6h0M-25 8.4h0M-16.7 -5.7h0M-26.1 9.3h0M-19.5 1.4h0M-22.4 26.6h0M-17.2 -9h0M-23.3 -8.6h0M-12 26h0M-19.7 28.6h0M-30.3 16.5h0M-23.3 9.4h0M-26.4 -9.1h0M-30.5 -15.2h0M-25.5 -3.3h0M-26.2 -8.5h0M-24 15.3h0M-12.7 -5.7h0M-12.7 18.9h0M-26.5 12.4h0M-25.1 7.1h0M-31 14.7h0M-33.2 -6.8h0M-30.2 -20.9h0M-9.3 -10.5h0M-32.3 -.9h0M-28.7 10.8h0M-18.9 -19.7h0M-27.5 10.4h0M-18.2 20.7h0M-21 -24.5h0M-6.2 -21.7h0M-21.6 -18.1h0M-25.1 22.7h0M-15.7 3.5h0M-25.2 2.4h0M-25.1 -21.7h0M-21.1 14.2h0M-18.1 13h0M-20.5 0h0M-14.4 -8.2h0M-17.4 25.6h0M-34.5 8.2h0M-32 -11.8h0" stroke="#16674b" stroke-width="3.2"/><path d="M-25 -23.9h0M30.2 -4.3h0M-29.9 2h0M-10.7 -14.6h0M3.1 19.7h0M17.7 -6.3h0M-11.3 25.9h0M6.4 18.8h0M17.9 -6.3h0M-2.4 8.8h0M-27.6 20.9h0M8.1 -13.5h0M-12.4 -3.2h0M-.1 13.6h0M-17.3 -5.1h0M35.1 2.5h0M18.3 -19.1h0M31.4 16h0M-5 -34h0M1.1 -21h0M1.8 -19.7h0M-22.4 -8.3h0M-10.7 16h0M-30.8 16.2h0M1.7 27.1h0M22.3 26.7h0M33.8 -7.5h0M-33.1 13.1h0M32.8 3.8h0M5.1 -11.4h0M-10 -2.5h0M-29.5 17.9h0M8.5 11h0M-16.4 27.3h0M-12.2 -11.7h0M-8 -34.2h0M-15.4 19.1h0M30.9 2.4h0M-9.1 19.5h0M10.7 31.1h0M1.2 34.1h0M-26.1 -18.6h0M21 23.6h0M-22.1 22.3h0M13.7 -13.3h0M-25.2 -16.2h0M33.7 2.6h0M24.7 -9.1h0M20.6 12.9h0M-10.3 -20.6h0M.2 18.5h0M-33.2 1.5h0M14.3 -31.9h0M-28.5 -8.8h0M-8.5 -18.1h0M30.4 2.6h0M17 -26.3h0M1.2 20.9h0M-23.6 4.7h0M.4 35.6h0" stroke="#081d2c" stroke-width="2.8"/><path d="M-26.8 -16.5h0M-25.6 -10.9h0M-20.5 4.1h0M-14.5 23.6h0M-18.2 -25.8h0M-33.9 3.5h0M-18.9 8h0M-8.7 -14.2h0M-25.5 -10.9h0M-26.5 4.5h0M-26.1 -12.1h0M-7.2 -.3h0M-12.1 -15.5h0M-18.6 21h0M-28.5 -22.6h0M-10.9 -28.3h0M-5 14h0M-26.6 -1.6h0M-29.8 14.9h0M-30.8 -.3h0M-23.1 25.5h0M-22.8 -11.5h0M-23.4 19.5h0M-11.1 4.1h0M-18 20.2h0M-22.8 -4.7h0M-29.2 -7.1h0M-13.3 -20h0M-12.1 3.3h0M-26.9 13.3h0M-21.5 21h0M-33.6 .4h0M-11.4 -15.1h0M-23.9 10.9h0M-18.1 16.9h0M-10.2 .4h0M-2.7 -15h0M-26.4 19.6h0M-28.4 4.2h0M-22.2 -28.2h0M-29.4 15.5h0M-19.1 7h0M-30.4 14.1h0M-27.5 -1.9h0M-32.4 8.7h0M-24.9 -18.4h0M-9.6 -9h0M-17.9 3.6h0M-19.8 -29.3h0M-10.1 -29.6h0M-15.5 -24.5h0M-26.5 -6.6h0M-14.9 -28.9h0M-28.7 -5.8h0M-19.7 -20.1h0M-30.6 16.4h0M-30 -.1h0M-23.6 4h0M-27.8 -13.8h0M-29.9 -21.1h0" stroke="#238046" stroke-width="2.6"/><path d="M-15.7 -24h0M-28.5 20.3h0M-18.5 21.9h0M-30.8 -11.2h0M10.9 17.7h0M-8.7 5.1h0M-14.5 -30.9h0M7.2 3.8h0M.8 -23.7h0M-3 -11h0M21.8 -15.7h0M-6.9 -1.2h0M-9.2 -25.2h0M11.1 -7.7h0M10.6 -26.2h0M-23.2 -26.4h0M6.7 -10.5h0M-15.3 -22.1h0M25.7 -15.8h0M5.7 11.2h0M-28.7 -4h0M-17.5 29.2h0M-10.7 -28.7h0M20.2 -2.7h0M-26.4 -6.9h0M-17 19.1h0M-31.9 -6h0M18.3 28.9h0M-28.1 5.4h0M24 25.1h0M23.2 -11h0M12.2 -1.4h0M14.5 4.7h0M8.2 -19.7h0M10.9 .6h0M-13.1 14.5h0M-12 .1h0M15.5 19.4h0M-17.2 -1.9h0M8.6 26.6h0M9.1 9.9h0M23.3 -.1h0M32.6 -.9h0M6.8 15.6h0M25 1.9h0M1.2 -36.1h0M27.7 2.7h0M-27.3 12.8h0M-.4 16h0M24.3 -16.3h0M10 32.1h0M1.5 11.8h0M16.5 17.6h0M15.6 -22h0M-2.5 -36.1h0M12.7 -7.4h0M-20.8 -23.7h0M20.6 -12h0M-11.8 -4.6h0M-25.1 14.4h0M2.3 22.9h0M-15.3 27.2h0M4.4 -6.5h0M10.8 -16.5h0M4.5 -22.7h0M-5.1 22.8h0M-18.6 6.3h0M-26.5 -25.9h0M5.1 -12.8h0M-16.8 -11h0" stroke="#1f8080" stroke-width="2.6"/></g>
<g transform="translate(185.1 532.2)"><path d="M37.1 0L37.2 3.7L36 7.2L36.9 11.2L36.2 15L33.8 18.1L32.3 21.6L29 23.8L26.7 26.7L23.8 28.9L21.1 31.5L17.7 33.2L14.7 35.5L10.8 35.5L7.2 36.1L3.5 35.5L0 34.9L-3.4 34.7L-7 35.4L-10.6 35L-14.4 34.9L-18.3 34.3L-20.7 31.1L-23.4 28.5L-26.3 26.3L-28.7 23.6L-31.3 20.9L-32.7 17.5L-35.2 14.6L-34.4 10.4L-36.1 7.2L-37.4 3.7L-35.4 0L-36.3 -3.6L-37.2 -7.4L-35.3 -10.7L-34.5 -14.3L-33.8 -18.1L-30.7 -20.5L-29.8 -24.4L-26.4 -26.4L-23.9 -29.2L-20.1 -30.1L-17.3 -32.4L-14.9 -35.9L-11.2 -36.8L-7.7 -38.8L-3.8 -38.9L0 -37.5L3.7 -37.7L7.3 -36.8L10.8 -35.6L13.7 -33.2L17.5 -32.8L20.3 -30.3L22.1 -26.9L24.2 -24.2L27.6 -22.7L30.4 -20.3L32 -17.1L34.5 -14.3L36.7 -11.1L38.2 -7.6L37.4 -3.7Z" fill="#104f27"/><path d="M22.2 31.4L23.3 34.3L24.9 33.4M-37.3 -3L-42.5 -5.3L-43.7 -4M38.5 -4.4L41 -6L41.2 -7.8M-21.4 -31.4L-25.5 -32.8L-26.9 -31.7M35.5 16.6L40.7 15.1L42 14M-15.8 -35.5L-18.1 -38.6L-16.6 -39.6M-14.7 -36.2L-12.4 -40.2L-14 -41M27.5 27.3L29.1 33.6L30.7 32.9M24.8 -26L24.7 -31.5L26.5 -31.5M24.1 -26.7L25.8 -30.5L24.6 -31.7M11.4 36.3L13 41.3L11.4 42.1M9.6 36.6L10.4 41.7L8.7 42.1M-3.6 36.2L-1.9 39.4L-.2 40M28 26.8L32.8 28.3L34 27M10.7 -36.1L14.5 -39.4L16.3 -39.1M22.4 31.2L28.8 32.7L30.5 32.1M35.7 -14L39.2 -12.4L39.4 -14.2M38.5 -1.5L43.6 1.3L44.5 2.8M-27.6 -26.2L-31.9 -29L-31.7 -30.8M-16.1 -35.4L-19.3 -39.5L-21.1 -39.1M17.1 34.4L17.7 40.5L16.3 41.5M-35.6 -15.8L-40.1 -17.6L-40.7 -19.3M-12.2 -37.3L-16.2 -40.5L-14.5 -41.2M-37.3 -.1L-42.6 -2.5L-43.7 -3.9M-7.7 36L-8.9 38.6L-10.7 38.2M-36.2 -13.9L-41 -16.5L-41.8 -14.9M-10 -38L-15 -41.2L-14 -42.7M37.8 6.7L41.9 6.3L42.4 8M-30.4 -23.6L-32.5 -27L-34.2 -26.5M24.9 29.4L30.8 29.9L32.6 29.5" stroke="#187734" stroke-width="1.3" stroke-linejoin="round"/><path d="M39.6 -14.4h0M-36.6 20.8h0M22.4 -30.2h0M-2.3 37.9h0M-26 -31.8h0M40.4 10.4h0M22.3 -30.5h0M26.7 -29.3h0M-22.8 -36h0M-38.6 11.3h0M-5.1 37.5h0M-31.6 -25.5h0M-37.3 13.7h0M-23.5 33.2h0M17.3 37h0M-20.6 36.5h0M-4 -42.1h0M-23.9 33.6h0M-10.2 -40.8h0M-41.4 -10h0M36.8 17.7h0M-.7 39.2h0M10.5 40.7h0M-37.7 -17.4h0M36 17.7h0M19.6 38.1h0M-28.3 31.8h0M-40.3 4.6h0M-10.1 -42.7h0M-36.8 18.8h0M-31.8 -25.2h0M40.6 7.1h0M4.2 39.8h0M-36.9 -15.3h0M23.5 -29.5h0M40 5.4h0M-15.8 38h0M39.9 -4.5h0M-14 39.8h0M10.6 -38.1h0M-15.5 38.7h0M-1.2 38.2h0M1.3 40.3h0M-20.7 -35.1h0M20.9 34.7h0M-4.2 -39.6h0M-34.6 -22.9h0M12.9 39h0M-26.3 -33.2h0M19.6 -35.3h0M-24.5 -32h0M-38.3 15h0M-4 38.8h0M-30.5 28.2h0M-36.2 21.5h0M40.6 14.2h0" stroke="#25913f" stroke-width="2.6"/><path d="M-1.9 6.6h0M-9.6 -3.4h0M9.5 -37h0M-21.8 -7.9h0M-17.1 -12.8h0M-7.1 18.9h0M11 26.1h0M11.1 -22.1h0M8.5 29.9h0M12.4 -25.3h0M31.3 24.4h0M-28.5 8.8h0M-.5 17.3h0M-18.6 34.4h0M-32.2 -3.4h0M0 19.2h0M11.5 28.6h0M29.1 16.1h0M2.6 26.1h0M-7.5 7.9h0M-20.9 1.9h0M-6.4 22.4h0M3.5 -6.3h0M-22.2 -8.9h0M6.1 35.7h0M32.9 -10.7h0M-17.5 -2.9h0M-17.4 19.2h0M-12.4 11h0M-6.8 -36.3h0M2.2 11.5h0M-21.6 .8h0M-17 6h0M7.7 -12.5h0M29.8 25.2h0M7 22.4h0M-7.3 16.5h0M23.7 -22h0M20.5 -8.9h0M-24 2.3h0M16 -14.8h0M-25.2 -6.6h0M-17.3 -6.3h0M-1.5 -23.4h0M31.2 18.7h0M-33.2 .5h0M-16.5 -16.5h0M-20.4 -12.4h0M-14.1 -13.9h0M-8.4 6.2h0M-5.3 -37.5h0M-1.7 15.8h0M16.5 -21.6h0M-34.2 17.7h0M-27.3 9.8h0M24.8 -12h0M23.8 -12.8h0M33.3 17.3h0M-16.9 -21.1h0M-6.1 -27.9h0" stroke="#0b321b" stroke-width="4.2"/><path d="M-10.5 31.7h0M38.7 .6h0M23.8 -21.4h0M-23 -26.2h0M-3.5 -31.7h0M-19.8 17.8h0M-5.8 10.1h0M20.4 12.6h0M-4.9 -26.5h0M3.6 -.5h0M19.4 19.3h0M-17.8 -30.3h0M32.4 17.8h0M35.8 .5h0M-4.8 -1.9h0M9.3 -36.4h0M-6.9 28.2h0M21.9 -14.8h0M-7.7 15.9h0M-5.7 21h0M-5.9 -6.6h0M-17 15.8h0M.5 21.5h0M-3.9 -39.2h0M-3.6 -1.6h0M14.1 29.9h0M37.2 -4.6h0M8 7.3h0M1.5 24.4h0M14.6 31.5h0M25.6 17.3h0M12.2 .5h0M5.6 -6.6h0M13.5 -13.4h0M19.3 -14.3h0M5.9 31.7h0M33.6 -8.8h0M28.4 6.4h0M-1.8 -18.8h0M13.7 9h0M-19.2 14.6h0M-20.5 -1.2h0M-16.3 -12.3h0M-14.7 -32.6h0M-14 -27h0M-3.2 16.3h0M19.9 -25.9h0M-25.9 8h0M24 -16.8h0M-6.7 -4.9h0M31 -18h0M17.6 -3.7h0M21.4 -11.4h0M-12.3 2.1h0M1.8 33h0M15.5 -13.9h0M28.5 10h0M-3.9 -21.2h0M-9.2 3.8h0M-20.9 -13.4h0M-4.6 29.7h0M9.2 -11.9h0M-15.8 -14.4h0M-6.6 20.5h0M-6.5 22.9h0M5 8.9h0M-29.8 -20.9h0M12.1 -7.6h0M-28.8 -19.6h0M34.9 -10.5h0M1.9 -35.6h0M6.8 -33.9h0M12.4 .1h0M-1.1 8.6h0M33.2 7h0M-10 18.8h0M8 -15.6h0M-15.6 -14.9h0M-23.5 -27.3h0M-25.3 -2.7h0M32.6 9.2h0M2.7 22.8h0M2.4 29.4h0M3 8h0M8.5 -1.4h0M26.4 26h0M11.1 -4.4h0M2.5 -14.1h0M3.9 30.5h0M36.3 10.3h0M14.1 -33.5h0M-25.9 10.1h0M6.7 -32.9h0M-14.2 5.3h0M-17.6 3h0M-17.8 19.2h0M32 -7h0M-27.4 -4h0M20.1 19.5h0M-3 -13.9h0M9.9 -29.8h0M24.4 25.3h0M-19.9 -11.9h0M20.3 -8.9h0M-4.9 12h0M13.1 15.7h0M18.5 7.1h0M-16.6 -1.4h0M17 28.5h0M31.7 .4h0M10.1 -22.8h0M3.7 25h0M-13.4 33.2h0M1.5 -20.6h0M17 -33.8h0M18.6 27.3h0M35.9 -3.4h0M-7.8 25.5h0M-9.9 -22.2h0M3.8 -25.6h0M-.8 15.8h0M-15.1 35.3h0M5.1 -9.2h0M20.4 25h0M-27 2.8h0M-6.2 -8.8h0M-31.9 -12.7h0M-16.3 1.7h0M5.6 -25.9h0M7.9 13h0M16.5 -21.2h0M30.6 .5h0M18.8 -30.1h0M28.9 -4.1h0M-8.3 -32.9h0M3.6 -2.3h0M-27.1 18.6h0M-1.5 29.9h0M11.2 -9.4h0M-17.2 8h0M33.7 14.8h0M1.5 13.7h0M21.1 18.1h0M21.3 -22.5h0M3.1 -35.6h0M-8.5 -38h0M7.7 -29.8h0M38 1.8h0M35.5 3h0M-5 13.1h0M12.5 27.9h0M29 19.4h0M-34.7 4.4h0M-14.3 -28.5h0M3.1 -23.4h0M28.4 -9.5h0M-26.4 -13.9h0M18.6 -28.4h0M-15.7 21.2h0M-27.6 24.3h0M37.8 -.3h0M20.8 -22.1h0M4.8 -23h0M25.4 -7.8h0M14.3 19.8h0M-32.8 11.2h0M36.4 .3h0M-20.4 33.5h0M3.8 6.8h0M4.9 -19.9h0M16.8 -11.5h0M14.6 34.5h0M.4 32.9h0M4.6 30h0M3.8 -24.9h0M-7 -34.6h0M-.3 -15.3h0M8.3 6.3h0M2.4 30.5h0M2.3 7.4h0M-11.8 11.5h0M-16.1 .2h0M23.4 15.3h0M-31.2 12h0M-5.7 15.9h0M-33 -13.6h0M21 -6.2h0M-28.8 -2.3h0M25.9 21.8h0M21.9 9.1h0M15.7 2.6h0M11.3 -35.8h0M-13.8 30.7h0M-3.7 30h0M-12 -31.8h0M14.2 33.6h0M28.2 -10.6h0M-31.8 21.5h0M-22.3 27.5h0M-31.5 -19h0" stroke="#187734" stroke-width="4.2"/><path d="M-3.9 2.7h0M-27.7 19.6h0M2.4 -28.3h0M6.3 29.7h0M8.3 -27.6h0M-22 -.1h0M-15.1 4.1h0M-12.7 -5.2h0M32.4 -14.9h0M23.7 7h0M28.3 21.2h0M-7.2 28.1h0M-.3 -14.4h0M1.9 -.6h0M-32.5 -5.4h0M-16.6 -33.4h0M.5 26h0M-18.4 -28.8h0M-25.1 -20.7h0M19.5 14.3h0M13.9 -12.7h0M25.5 -1.3h0M18.8 -8.7h0M-30.7 19.2h0M-8.6 3.1h0M-19.7 -12h0M-13.5 19.3h0M16.8 -31.3h0M16 -21.2h0M7.2 -31.5h0M-20.3 -8.2h0M-13.8 27.5h0M20.1 -24.8h0M16.4 -5.7h0M9.4 27.2h0M31.8 -1.7h0M14.4 12.1h0M-1.6 30.9h0M-19 27.2h0M-8.1 -12.4h0M-29.5 -22.2h0M20.8 19.5h0M-13.3 -33.7h0M16.4 2.6h0M-18.2 4.8h0M9.8 -1h0M17.1 16.6h0M2.2 -4.3h0M-12.9 -33.6h0M-14.6 -14.5h0M23.3 -17.6h0M12.4 -29.2h0M20.8 -13.7h0M-2.4 21.9h0M13 25.5h0M-7.7 16h0M29.9 -2.3h0M-35.3 -6.9h0M7.6 -22.6h0M-18.3 -16.7h0M22.1 -7.2h0M-9.9 27.7h0M-21.2 31.1h0M23.9 15.7h0M-7.2 10.2h0M-2.3 24.8h0M15.5 33.6h0M33 7.2h0M36.8 -5h0M21 -15.3h0M9.6 -9.1h0M-2.4 -28.6h0M-19.2 30.8h0M-6.2 -23.8h0M17.2 -6.2h0M36.2 -8.1h0M-30.8 -18.2h0M-19.7 -3h0M10.3 .9h0M8.4 26.1h0M-19.8 -6.9h0M-11.5 -13.1h0M-31.7 -13.8h0M27.9 24.8h0M35.3 -1.6h0M4.7 -29.3h0M18.3 -5.5h0M-15.8 11.3h0M24.5 -24.4h0M3 17.6h0M11 -17.3h0M-5.8 -9.7h0M-6.4 26.7h0M19.9 12.4h0M-35.6 8.3h0M-2.9 28.2h0M12.5 13.6h0M-21.8 -19.1h0M-32.7 -9.4h0M33.3 7.9h0M-14.7 30.3h0M-19.8 4.7h0M-6.3 22.1h0M-7.6 6.1h0M19.7 -18.3h0M-20.1 32.2h0M25.2 4.1h0M26 -4.1h0M-15.2 -30.6h0M-6.6 -5.9h0M8 26.3h0M-15.4 -14.4h0M-11.6 -5.9h0M-22.1 7.2h0M-7.9 -19.3h0M27.9 10.5h0M4.2 36.3h0M-1.5 -29.8h0M-15.7 19.4h0M6.9 33h0M-19.2 7.4h0M-6.9 12.4h0M-8.9 12.3h0M-26.4 -26h0M8.8 8.9h0M-13.6 24.6h0M26 -12.9h0M7.4 -10.5h0M-32 13.1h0M14.1 -12.5h0M-21 -16.2h0M19.2 5.5h0M-25.1 6.3h0M2.9 -3h0M-1.6 -30.2h0M33.8 -15.4h0M12.2 11.5h0M-11.8 34.1h0M10.1 -34h0M-17.9 31.4h0M22.1 -9.3h0M-13 3.1h0M2 8h0M37.4 -5.8h0M-25.5 9.1h0M-28.7 -1.5h0M-4.7 16.1h0M-4.7 17.6h0M-15.9 10.2h0M28.6 23.4h0M20.5 -4h0M0 -18.2h0M-16.4 12.4h0M7.1 -8.5h0M-27.4 2.5h0M3.4 -3.3h0M6.6 16h0M31.6 18.5h0M-10.2 34.3h0M-.1 -18.5h0M-12 11.4h0M28.6 2.5h0M3.8 22.9h0M8 7.5h0M14.2 -.8h0M-12.2 -18.9h0M-12.1 32.8h0M10.6 9.2h0M-10.7 16.1h0M-10.5 -9.2h0M-13.6 -12.7h0M32.8 -16.9h0M-30.4 -.2h0M19.6 24.6h0M34.5 -4.1h0M-36.6 5.8h0M28 -18h0M-7.9 23.4h0M-30.6 2.6h0M15.7 -27h0" stroke="#25913f" stroke-width="3.8"/><path d="M25.2 13.5h0M-31.7 -4h0M6.5 8.1h0M17.2 23.9h0M6.2 -35.2h0M-5.6 19.9h0M6.2 -32.8h0M-2.7 16.9h0M11 -6.1h0M-23.4 -28.1h0M35.5 2h0M-17.9 -20.7h0M-11.2 28h0M-10.7 21.3h0M6.7 11.3h0M9.5 -15.5h0M35.2 1.5h0M9.6 -35.6h0M26 11.6h0M-33.7 13.7h0M-2 -12h0M-37.4 4.1h0M10.9 27h0M-21.3 4.6h0M-3.9 -28h0M17.7 -27h0M33.9 -7.4h0M-36.2 7.8h0M-5.6 -37.8h0M31.9 -1.6h0M-6.1 9.1h0M36 4.6h0M-14.6 18h0M-25 14.7h0M6.4 -26.5h0M17.2 6.8h0M18.9 -5.3h0M-11.1 33.5h0M-19.3 -21.1h0M-29.9 -2.4h0M-.8 -1.2h0M-13.7 11.3h0M-4.2 -15.9h0M22.8 -25.5h0M-35.4 -12.8h0M-33.5 9.9h0M-32.7 12h0M5.4 -24.3h0M-13.6 8.9h0M-35.7 -1.5h0" stroke="#0b321b" stroke-width="3.0"/><path d="M-21.1 -1.8h0M-1.7 -22.2h0M7.1 -4.9h0M-2.2 -20.1h0M11.7 -5.2h0M-7.5 1.1h0M25.7 -20.8h0M14.7 -11.9h0M26.6 -16.6h0M17.6 17.6h0M-16.7 32.2h0M.6 -14.8h0M2.8 -21.9h0M23.7 4.6h0M-12.8 -5.3h0M-.9 0h0M-13 -4.6h0M-8.9 14.4h0M12.5 -22.3h0M30.6 -4.6h0M-33.3 -6.8h0M31.9 11.7h0M-23.9 21.4h0M26.5 15.7h0M1.3 34.2h0M3.6 -26.8h0M20.4 8.8h0M12 27.9h0M20.1 19h0M-.8 2.5h0M19.9 26.2h0M27.6 17.9h0M-3.6 19.6h0M31.1 -5.9h0M24.2 -.4h0M-24.9 1.1h0M-.2 4.8h0M-9 -9h0M7.9 11.2h0M1.3 34.1h0M-15.9 -8.6h0M-2.3 14h0M7.5 2.5h0M27.9 -5.1h0M-19.7 -11.8h0M3.1 18.6h0M4 -3.9h0M-12.5 28.7h0M-23.5 -16.5h0M-6.3 -31.8h0M12.7 -5.7h0M4 16.7h0M19 -8.9h0M-21.5 18.4h0M18.9 29.2h0M-8.1 17.8h0M13.3 -7.4h0M32.7 -6.3h0M9.7 8.3h0M-13.8 27.2h0M19.1 19.7h0M-6.1 19.4h0M-1.3 3h0M-2.7 -5.8h0M.1 31.7h0M-24.7 24.6h0M22.6 22.1h0M13.9 .1h0M-27.5 7.7h0M-8.1 -8.2h0M32.6 4.3h0M11.4 -4.5h0M3.8 16.5h0M.6 -2.5h0M-6.3 26.2h0M-2.7 15.5h0M-14.1 -28h0M-14.7 16.5h0M-23 19.2h0M-4.8 -6.1h0M13.8 32.7h0M8.3 -19.5h0M28.2 -6.4h0M-6.1 .4h0M18.6 26h0M-6.2 24.1h0M-18.7 7.1h0M.7 28.6h0M7.7 29.6h0M11.3 -24.1h0M29.1 -19h0M-13.1 .2h0M-4.1 -16.6h0M25 -4.4h0M-1.4 17.7h0M25.9 -20.7h0M-.6 -20.9h0M23.6 21.3h0M2.1 -7.3h0M-11.9 -12.6h0M-20.5 17.5h0M4.1 -27.4h0M-34.8 6.8h0M28.4 5h0M-6.4 -35.5h0M-20.4 27.4h0M-13 23.7h0M-23 -11.3h0M-29.1 -7.9h0M2.3 -32.8h0M11.4 -2.4h0M-31.6 6.9h0M11.8 -30.5h0M35.1 -7.1h0M30.2 21h0M-15.8 29.5h0M-20.6 -1h0M-13 -18.2h0M-17.5 -9.9h0M11.9 1.4h0M28.2 12.9h0M13.9 -19h0M10.4 -8.8h0M9.3 21.5h0M28.2 -2.1h0M5.3 20.6h0M-29.4 -13.3h0M7.4 20.7h0M-9.7 30.6h0M18.1 20.7h0M-7.8 -30.7h0M10.1 -4.9h0M-8.8 -6.1h0M17.9 -21.8h0M-8.3 16.5h0M35.3 8.7h0M7.1 -22h0M-31.2 5.1h0M-1.3 -3.1h0M-15.1 11.9h0M-4.6 20.7h0M16.5 30.5h0M-10.4 23.8h0M-13.5 -3.6h0M-13.4 -22.8h0M-5.8 3.5h0M-3.1 -27.5h0M3.4 -6.8h0M16.1 -4.4h0M1.3 21.5h0M-10 -2.8h0M5.1 1.1h0M-7.5 13h0M30 8.2h0M-27.1 3.9h0M-9.1 29.2h0M-4.6 -23h0M27.2 16.9h0M-22.8 2.5h0M-8.5 -14.8h0" stroke="#34ab4a" stroke-width="3.3"/><path d="M16.5 4.7h0M1.1 -10.2h0M1.1 -19.5h0M10.1 22h0M-19.7 -24.3h0M.1 29.1h0M16.2 10.2h0M-1 5.2h0M20.8 -.4h0M-14.5 14.5h0M1.3 -10.2h0M-18.9 4.4h0M-28.1 .2h0M-.5 -1h0M.1 29.1h0M-1.4 -13.1h0M21.2 13.7h0M-3.6 -1.4h0M-11.2 13h0M-22.5 14.1h0M.2 23.8h0M15 25.7h0M20.3 15h0M20.9 -15.4h0M-8.8 22.1h0M-5.9 27.1h0M-3 -1.3h0M-12.5 -23.7h0M.6 29.8h0M-8.1 10.7h0M5.1 -6h0M12.5 -13.6h0M7.2 -4.2h0M-.2 -28.5h0M-1.9 8h0M-2.3 -10.2h0M6.8 -15.4h0M7.8 9.1h0M-6.1 -25.1h0M2.5 2h0M-1.5 -18.7h0M3.4 -9.2h0M-20.1 -.3h0M5.1 -27.4h0M21.3 5.3h0M-1.2 12h0M27.9 -13.3h0M9.4 30.4h0M8.6 -2.6h0M23 -1.5h0M16.9 -16.2h0M-21.3 14.7h0M-30.5 -7.7h0M9 16.2h0M13.7 11.6h0M-3.5 -33.2h0M-17.7 -4.3h0M2.1 9.4h0M18 .6h0M16.4 28.4h0M17 7.5h0M16.6 -3.2h0M13 -23.3h0M13.7 28.4h0M10 28.8h0M-5.1 -22.8h0M-28 -.8h0M-12.1 29.2h0M-20.1 11.3h0M-.1 6.6h0M-3.1 -3.9h0M-14.5 22.9h0M16.5 -4.3h0M-24.8 -18.1h0M12.6 1.1h0M-13.2 22.1h0M0 26.5h0M-6.6 7.6h0M-11.2 22.4h0M23 5.2h0M-28.8 -13.5h0M19.9 9.1h0M3.4 1.4h0M-19 -2.9h0M-2.7 24.3h0M3.3 26.4h0M-13.9 10.7h0M2.1 19.7h0M14.1 -11.6h0M3 7h0M-14.4 19.2h0M4.2 -3.5h0M-11.8 -3.8h0M.5 -12.6h0M19.2 8.2h0M.2 -2.3h0M.4 25.6h0M-30.8 -8h0M-14.5 27h0M8.6 8.1h0M9.1 -11.7h0M13.6 .8h0M-23.7 -7.5h0M-21.1 -12.1h0M13.4 28.5h0M12 7.1h0M0 -4.6h0M14.7 -2.2h0M-20.1 -17.3h0M-27.6 -2.3h0" stroke="#46bd59" stroke-width="3.0"/><path d="M10.7 -15.5h0M-31 -17.3h0M3.9 -19.8h0M14.5 34.1h0M2.9 -17.4h0M22.1 -10h0M1.6 -9.3h0M-15.1 -2.6h0M-1 10.7h0M9.8 33h0M-.4 8.7h0M13.2 21.6h0M1.9 -2.1h0M-11.2 -5.1h0M-1 18h0M10.5 -4.9h0M-19.9 22h0M-12.8 -15.1h0M15.6 -23h0M-23.7 -18.2h0M-10.7 33.7h0M-14.8 31.2h0M-15.9 -8.9h0M33.7 -15.3h0M34.5 17h0M9.8 -28.7h0M-14.6 -27.9h0M-3.2 18.9h0M32.7 -4.9h0M7.6 -19h0M35.8 3.1h0M.8 -11.2h0M3.2 -23.7h0M23.5 -9.8h0M-34.7 -1.2h0M18.9 -6.4h0M-2.5 -2.1h0M-4.3 -16.3h0M5.8 20.7h0M-29.9 -13.4h0M-1.9 -4.7h0M.5 13.9h0M22.1 12.6h0M-2.1 35.4h0M-31.4 20.1h0M-9 17.4h0M-17.5 33.4h0M-28.4 11.3h0M-2.7 34.3h0M-31.5 7.9h0M.8 -3.9h0M34.3 3.9h0M-20.7 -4.8h0M-26.8 -14.8h0M-13.9 15.2h0" stroke="#0b321b" stroke-width="2.6"/><path d="M9.5 16.9h0M-11.8 13.4h0M6.7 -15.5h0M-4.3 -27.7h0M23.9 -6.3h0M0 -4h0M-16.6 -17.5h0M-19.6 -9h0M-23.9 -5.6h0M14.3 -2.3h0M16 -12.6h0M14.3 15.3h0M25.5 13.9h0M-13.8 16h0M-6.1 -2.3h0M-4.4 1.6h0M18.8 4.9h0M-17.2 -5.1h0M-7.9 -3.3h0M-8.5 6.8h0M8 -13.7h0M-6.4 14.7h0M-8.7 -11.6h0M-26.1 10.7h0M12.4 -11.1h0M-22.5 -3.7h0M20.4 21.2h0M-6.4 16.4h0M-8.4 6.6h0M-2.8 -2.1h0M-18.3 14.2h0M8.5 5.8h0M.7 21.9h0M-21.6 -18h0M-.1 .2h0M1.3 -4.5h0M3.8 2.4h0M.7 9.9h0M-7.5 -17.1h0M-7.9 -14.5h0M-20.6 -8.3h0M-14.8 5.1h0M-1.7 .5h0M13.8 -13.7h0M-19.3 -12h0M-8.4 16.6h0M-23 -6.4h0M17 -21.1h0M7.2 -6.5h0M10.1 -.3h0M-15.9 17.3h0M-3.3 7.5h0M5 6h0M-5.9 -8h0M5.6 3.2h0M18.7 .9h0M3 -3.4h0M5 13.8h0M-6.5 2h0M-7.4 -6.8h0" stroke="#55c785" stroke-width="2.6"/></g>
<g transform="translate(304.4 529.0)"><path d="M33.8 0L33.5 3.3L31.1 6.2L31.4 9.5L29.3 12.1L28.9 15.5L26.4 17.7L25.3 20.8L22.1 22.1L19.7 24.1L18 26.9L15 28L11.8 28.4L9.1 29.9L6 30.3L3.2 32.1L0 31.7L-3.2 32.4L-6.2 31.3L-9.4 31.1L-12.7 30.6L-16.2 30.3L-18.8 28.2L-21.3 26L-23.4 23.4L-25.5 20.9L-27.6 18.4L-28.6 15.3L-29.6 12.3L-31.1 9.4L-32 6.4L-32.6 3.2L-32.1 0L-32 -3.2L-31.6 -6.3L-31.3 -9.5L-30.2 -12.5L-28.7 -15.4L-26.9 -18L-25.6 -21L-22.7 -22.7L-20.5 -24.9L-17.3 -25.8L-14.5 -27.1L-12.3 -29.8L-9.3 -30.6L-6.4 -32.2L-3.3 -33.1L0 -32.4L3.2 -32.8L6.4 -32.3L9 -29.6L12.2 -29.5L14.5 -27.2L18 -26.9L19.9 -24.2L22.9 -22.9L25.3 -20.8L27.3 -18.2L28.6 -15.3L30.6 -12.7L31.5 -9.6L32.3 -6.4L32.9 -3.2Z" fill="#10123a"/><path d="M26.6 19.3L28.7 22.3L28.2 24M34.2 -1.2L37.8 -2.6L38.9 -1.1M25.7 -20.8L29.7 -21.3L31.3 -20.4M22.7 -23.9L26.5 -26.8L25.4 -28.2M-30.8 11.2L-36.2 13L-36.5 14.8M32.9 -9.4L35.2 -11.4L36.7 -10.5M-33 2.4L-38.4 5.5L-38.5 7.3M15.8 -28.2L21.8 -31.4L23.5 -30.9M-19.9 -25.5L-20.1 -30.2L-19.5 -32M-23.9 -22.4L-26.6 -26.4L-25.6 -28M11.6 -30L12.7 -33.1L14.5 -32.8" stroke="#171a50" stroke-width="1.3" stroke-linejoin="round"/><path d="M22.2 24.9h0M34.9 -.5h0M25.9 23.3h0M-29.3 20h0M-34.5 2.7h0M-12.6 -32.9h0M15.7 29.7h0M30.6 15.8h0M29.6 -18.2h0M-21.2 -26h0M30.6 -17.4h0M34.9 5h0M-33.7 -3.3h0M-32.6 10.3h0M-25.5 27.3h0M35.5 -8.2h0M34.4 -11.5h0M-31.9 -13.1h0M-24.8 -24.6h0M19.6 28.4h0M14.7 29.1h0M.6 -35.9h0M28.3 18.3h0M31 -18.1h0M35.1 .2h0M29.1 18.6h0M15.1 29.9h0M-3.3 33.9h0M-7.9 32.6h0M-5.6 34.3h0M22.4 -26.6h0M-33.2 11.2h0M10.6 30.7h0M.4 34.5h0" stroke="#1f1e5e" stroke-width="2.6"/><path d="M-27.8 2.2h0M-8.7 -1h0M-29.4 10.5h0M-10 -25.9h0M-25.1 10.6h0M11.5 21.3h0M-3.8 -7h0M31.8 2.4h0M15.4 -12h0M5.1 22.1h0M-19.7 -19.4h0M14.4 20.5h0M6.3 -17.9h0M.6 20.8h0M-20.7 .5h0M-2.6 16.6h0M-20.4 24.9h0M4.1 -22.6h0M-8.5 2h0M-9.1 16.1h0M-18.6 18h0M24.4 -14.5h0M6.1 12.2h0M-13.6 -26.1h0M-5.9 -29.3h0M13.9 -28.8h0M5.6 -.4h0M-6.6 1.4h0M2.6 -8.4h0M8.2 -4.1h0M-30.7 -12.5h0M-27 .5h0M-12.3 -12.7h0M-20 14.2h0M22 18.7h0M-14.7 -15.9h0M19.1 -3.4h0M4.7 -12.8h0M21.1 22.5h0M-20.9 -3.1h0M24.8 -5.5h0M-.2 10h0M-3.8 -9.5h0M-18 -7.7h0M2.3 6.5h0M-21.2 -9.9h0M18 6.3h0M-3.5 -.5h0M-31.5 5h0M-20.8 -2.7h0M17.5 5h0M-7.6 -9.1h0M13.6 1.3h0M-10.3 -14.4h0M15.8 -17.3h0M-15.6 30.5h0M-3.8 25.8h0M22.7 16.1h0M16.2 -21.3h0M-.5 -22h0M-9.1 1h0M-6.6 -22.3h0M26.7 0h0M26.4 -4.6h0M-3.8 -7.2h0M-32.8 7h0M-24.6 -15.9h0M-16.7 21h0M14.5 22.1h0M22.3 24.1h0M4.9 8.6h0M-8.2 -14.7h0M-16.1 -13h0M19.8 11.3h0M9.3 7.5h0M-8.2 -1.7h0M10.8 8.1h0M7 -15.4h0M-5.4 -33.6h0M-23.2 10.7h0M16.2 -9.2h0M-27.1 -13.2h0M11.6 -8.7h0M-12.5 -22.1h0M-19.3 1.8h0M28.9 12.5h0M12.9 -24.8h0M8 6.4h0M12 26.8h0M-8.9 1h0" stroke="#0a0b26" stroke-width="4.2"/><path d="M-21.1 -10h0M-16.9 -18.5h0M4 -4.7h0M-6.7 12.8h0M-4.9 -23.1h0M13.5 18h0M11.8 -20.7h0M13 -1.9h0M23 6.5h0M7.6 -4.1h0M5.9 -31.3h0M.1 -33.7h0M13.9 -4.9h0M-1 28.3h0M-8.7 -4.5h0M4 23.2h0M8.2 14.5h0M15 24.7h0M-30.3 9.3h0M-17.3 6.4h0M10.1 -8.3h0M8.1 31.3h0M-3.2 16.3h0M28.4 3.2h0M23 -6.8h0M-19.4 15.1h0M-23.7 4.1h0M17 17.6h0M6.3 1.9h0M33.1 3.8h0M-3.6 27h0M-14.7 5.9h0M3.6 5.3h0M21.8 13h0M-29.9 10h0M-14.1 -19.7h0M-14.1 4.6h0M-1.9 7.6h0M-15.9 20.4h0M10.3 23.5h0M17.1 22.2h0M27.2 8.8h0M-.7 -13.9h0M25.3 -19.6h0M13.8 7.4h0M28.2 -2h0M16.5 -2.9h0M-16.1 28.2h0M-14.7 16h0M19.1 -23.9h0M15.7 -6h0M21.8 -15.3h0M7.1 23.6h0M20.5 -19.6h0M6.6 27h0M7.3 14.7h0M12.3 .2h0M1.9 8.6h0M4.4 -18.2h0M-28.8 9.6h0M-19.5 7.2h0M-25.2 -6.4h0M-6.9 4.9h0M5.3 20.6h0M21.3 21.6h0M-25.7 9.2h0M-20.3 19.1h0M-6.6 22.3h0M22.1 -6.9h0M-13 -9.9h0M-21.1 15.4h0M4 27.1h0M-19.8 6.6h0M19 -21.6h0M-16.4 5.2h0M15.1 -20.7h0M14 -17.2h0M22.1 1.9h0M5.1 30h0M-7.1 9h0M3 13.2h0M-28 -11.3h0M6.6 -21.3h0M-6.7 11.7h0M22.8 -3.3h0M31.2 8.1h0M-8 16.5h0M14.9 19.2h0M3.3 .8h0M-3.7 -34.1h0M1.9 6.5h0M-12.6 2.2h0M-3.1 3.8h0M30.2 -4h0M-11.4 9.5h0M14.5 -8.4h0M3.9 31.9h0M-2.5 1.4h0M-4.4 -28.2h0M-29.8 -11.6h0M-4.4 2.7h0M-7.7 4.4h0M8.9 27.7h0M12 4.1h0M-2.6 18.3h0M-22.8 22.1h0M-8.2 -6.7h0M22.8 1.2h0M1.1 -26.2h0M-22.4 -11.3h0M24.1 -8.3h0M-30.8 7h0M-14.4 -16.1h0M-2.4 -26h0M18.4 4.5h0M3.1 19.5h0M-8 8.7h0M-18.8 -16.5h0M-10 -31.3h0M-20.9 3.6h0M22.8 -.3h0M.7 -26.7h0M-6.1 -27.6h0M12.9 26h0M-5.2 29.7h0M27.2 0h0M-11 -16.7h0M-28.4 -13.2h0M-25.6 -7h0M-5.6 -.5h0M19.8 25.4h0M-13.7 8.6h0M-9.8 14.6h0M-1.1 18.3h0M18.1 -5.1h0M-28.3 11.6h0M6.8 10h0M-9.9 5h0M28.1 12h0M-27.6 3.3h0M-4.2 26.3h0M8.5 12.1h0M14.4 -22h0M-21.2 9.4h0M6.2 19.2h0M.3 -33.4h0M-20 17.7h0M-9.3 4.4h0M-13.6 11.3h0M-24.8 -6h0M9.6 -1.4h0M27.7 -1h0M.4 -16.4h0M12.9 17.9h0M25.1 -7.5h0M-13.9 -27.4h0M3 -17.4h0M5.9 -1.6h0M-1.2 -13.9h0M-4.6 -2.1h0M-15.7 3.2h0M28 -16.5h0M-32.8 -5.6h0M10.5 -15.6h0M-8.5 -12h0M-17.1 4.4h0M12.7 20h0M-21.1 7.7h0M-18.3 -11.8h0M-26.2 7.5h0M12.7 3.6h0M5.6 -25.7h0M-18.1 20h0M8.9 18.4h0M-16.4 20.1h0M9.9 -21.4h0M12.8 -7.9h0M15.5 -8.2h0M9.6 27.9h0M-21.7 5.9h0" stroke="#171a50" stroke-width="3.8"/><path d="M-10.1 -8.7h0M2 24.1h0M-.2 12.8h0M19.5 21.7h0M-1.7 7.3h0M-28.1 12.7h0M-15.2 -23.9h0M3 -20.8h0M16.6 -4.5h0M2.4 -2.2h0M-7.5 21.8h0M32 3.6h0M29 8.7h0M15.7 -4.5h0M20.9 -4.2h0M21.8 -3.2h0M.5 21h0M-3.3 17.4h0M22.6 -2.8h0M-22.1 5.1h0M17.7 -6.9h0M-23.9 -3h0M5.8 2h0M4.3 -30.8h0M-10.7 -20.6h0M-18.9 24.7h0M16.9 24.6h0M26.5 8h0M-13.5 18.7h0M-30.9 10h0M6.6 23.3h0M-3.4 27.1h0M23.4 8h0M-14.3 -26.7h0M4.4 15.2h0M4.8 15.5h0M28 13.5h0M.8 23.8h0M12.4 -7.6h0M5.3 4.4h0M-21 -13.3h0M17.2 13.9h0M-3.2 -12.7h0M34.2 -5.8h0M10.1 4.2h0M-1 -5.8h0M-27.2 14h0M-25.7 .7h0M25 7.2h0M27.5 3.8h0M-15.8 -18.5h0M-29.9 9.1h0M-18.4 6h0M-25.7 -9.4h0M29.7 -2.1h0M27.3 13.7h0M-30.6 9.1h0M-14.2 18h0M-16.8 29.1h0M-4.4 -30.3h0M9.8 27.3h0M22.9 15.5h0M-10.2 10.2h0M28.8 -7h0M5.2 -1.3h0M-9.3 27.1h0M-21.7 -8.4h0M-9.4 -7.8h0M-.7 31.4h0M-8.6 -8.9h0M-32.1 -4.7h0M-13.7 -18.8h0M-22.6 -17.7h0M29 -9.3h0M-1.6 13.6h0M1.9 -4.8h0M-7.3 27.1h0M23.1 18.3h0M28.8 -16h0M8.1 20.8h0M11.3 -26.4h0M27.1 7.7h0M23.7 7.1h0M-14.8 -1.3h0M12.8 -20.8h0M4.4 -31.8h0M4.2 15h0M15.1 -12.9h0M19.6 12.1h0M21 24.3h0M-5.7 -22h0M-25.8 17.9h0M3.4 -13.8h0M-19.6 24.8h0M25.8 -9.7h0M27.2 11.5h0M-9.4 11.3h0M7.5 -32.1h0M9.3 22.7h0M-20.8 -21.5h0M-29.1 17h0M1.9 27.1h0M33.9 -4.7h0M11.5 -15.6h0M4.8 18.5h0M19.2 8.4h0M7.1 24.8h0M6.9 -24.1h0M5.7 -12.6h0M18.1 25.5h0M29.3 8.3h0M-25.2 14.5h0M17.1 4.1h0M-9.6 29.5h0M31.2 -7.7h0M2.7 17.9h0M-11.9 28.8h0M12.4 26.5h0M-22.4 -12.4h0M25.8 4.9h0M-5.4 -13.9h0M26.4 8h0M-3.7 -22.9h0M-.4 9.9h0M-27.1 11.6h0M-18.1 16.5h0M24 -22.3h0M-25.4 -11.1h0M20.5 8.3h0M-19.2 -3.7h0" stroke="#1f1e5e" stroke-width="3.2"/><path d="M-18 2.3h0M13.8 12.3h0M.3 -7.6h0M9.3 -5.3h0M-16.5 -26.9h0M23.2 23.5h0M-11.7 -23.2h0M-19.7 2.8h0M4.8 4h0M19.1 -21.5h0M10.7 -24.3h0M9.6 -10.2h0M-.3 -16.5h0M-30.2 -5h0M14.8 3.5h0M21.7 6h0M-.5 -22.1h0M-8.8 5.6h0M15.4 -5.4h0M-19.2 19h0M-20.6 -12.7h0M-10.5 -20.6h0M33.7 -3.8h0M-8.7 8.8h0M6.2 -10.2h0M24.7 21.1h0M-22.9 1.2h0M7.4 -11h0M-6 -25.9h0M19.2 16.2h0M-9.3 13.6h0M-.8 -12.5h0M-21.7 12.2h0M-12.4 -15.8h0M-14.7 29h0M-3.8 6.9h0M19.6 15.8h0M-19.7 -10.2h0M-30.2 12h0M-13.8 -16.3h0M10.7 17.6h0M21 -21h0M-24.2 9.9h0M-32.2 -.5h0M25.7 .8h0M-15 -26h0M15.9 -12h0M21.6 -15h0M-31.8 10.1h0M22.9 17h0M9.4 1.6h0M11.2 -7.3h0M-1.9 -31.6h0M-5.9 -9.3h0M14.1 -25.6h0M-15.6 -25.9h0M29.5 -16.8h0M23.3 7.7h0M-14.3 19.7h0M-17.2 23h0" stroke="#0a0b26" stroke-width="2.8"/><path d="M4.4 -10.9h0M30 -6.3h0M.3 -1.7h0M4.9 1.4h0M1.3 -2.3h0M-15.6 -3h0M-17.5 -10.7h0M-11.9 -12.8h0M8.1 -21.6h0M15.5 -2.8h0M-4.6 -16.3h0M10 -12.2h0M-17.9 8h0M23.1 1.8h0M2.2 6.6h0M-16.1 -5.9h0M26.9 2h0M11.6 -20.9h0M3 9.2h0M9 9.1h0M-4.9 -7.7h0M-4.7 11h0M-.9 -9.2h0M22.8 13.1h0M1.6 -12.4h0M1.6 18h0M-1 24.4h0M9.7 -8.4h0M16.6 13.1h0M17.5 10.3h0M7.7 18.3h0M15.2 -7.7h0M-4.3 12.6h0M-2.5 2.7h0M-16.9 -8.5h0M-.4 4.2h0M.8 -.9h0M-4.9 -4.4h0M-21.9 14.8h0M-23.3 9.4h0M-.1 10.2h0M11.1 23h0M24.2 -.3h0M-3.3 9h0M-18 -2.6h0M2 -19.9h0M27 3.9h0M-1.4 23.1h0M-21.9 -8.4h0M-5 -.8h0M18.7 7.8h0M-2.9 -4.9h0M-10.5 -8.5h0M1.8 16.1h0M20.1 3.6h0M10.1 -12.9h0M2.3 -28.8h0M-4.7 13h0M6.1 -7.8h0M10.2 -4.1h0M15.7 -4.1h0M9.8 3.4h0M16 4.1h0M4.6 5.3h0M5.9 16.7h0M-2.4 -26.7h0M-2.2 23.8h0M.8 4.8h0M-15.7 9.6h0M-17.2 16h0M-2.9 25.8h0M-5.7 -5.7h0M-10.5 -23.7h0M16.6 19h0M-20.5 5.1h0M-12.5 -14.5h0M18.4 7.1h0M8.2 .6h0M13.9 21.5h0M.6 26.5h0M-1.6 24.1h0M-10.5 -12.2h0M-10.3 15.2h0M-21.4 -15.7h0M25.4 -4.8h0M-9.2 -8.3h0M12.3 17.4h0M23.6 14.3h0M21.5 -5.2h0M1.9 7.3h0M-9.5 27.5h0M-4.1 -18h0M19.4 -17.8h0M15.1 24.2h0M-22.5 10.3h0M-9.6 -28.2h0M-1.4 0h0M-19 -20.1h0M9.2 26.4h0M16.9 -20.2h0" stroke="#30205e" stroke-width="2.6"/><path d="M12.4 -9.2h0M-6 19.4h0M3.3 -.2h0M24.2 -2.1h0M22.8 -9.9h0M-5.7 4.4h0M26 6h0M3.7 -2.9h0M22.7 7.7h0M-2.2 -2.9h0M-11.4 1h0M6.8 11.1h0M-17.9 -11.7h0M-23.2 -6.3h0M5.9 15.5h0M-16.8 -6.7h0M-2.9 -1.8h0M20.1 -6.5h0M-7.2 -18h0M13.5 5.7h0M16.5 -5.7h0M8 21.4h0M.1 -3.8h0M9.6 6.8h0M14.9 7.4h0M-6.6 -4h0M-7.1 -9.6h0M-15.6 5h0M6.5 -19.2h0M-16.9 -6.2h0M.4 -24.6h0M22.9 .1h0M-7.5 7.8h0M6.5 -9.2h0M-14.4 1.8h0M19.7 -12.7h0M6 23.4h0M15 -15.1h0M-2.6 -4.6h0M10.9 -11h0M15.9 -.1h0M-5.2 -.5h0M-13.1 2.2h0M.1 1.6h0M18.9 -3.1h0M-4.5 2.7h0M-11.7 -16.5h0M22 9h0M5.4 -21.8h0M23.1 2.4h0M-25.6 -7h0M-24.5 -11.2h0M-24.4 6.4h0M14.7 2.3h0M7.2 -19.7h0M9.3 -4.5h0M-22.6 6.8h0M-5.2 5.7h0M25.4 7.1h0M-3.1 21.1h0M-12 5.4h0M26.7 4.7h0M-5.8 -24.6h0M-3.2 22h0M-23.1 10.8h0M-2.3 19.7h0M-10.4 -9.6h0M-13.9 -12.9h0M13.5 .9h0M15.1 -18.9h0" stroke="#5c2870" stroke-width="1.6"/><path d="M8.3 -31.7h0M-6.9 -13.1h0M-11.3 -15.1h0M-12.2 -30.1h0M-24.7 -12.9h0M-.3 -28.6h0M-21.7 4.9h0M-3.3 -9.6h0M-8 -26.5h0M-27.9 -15.9h0M-24.7 -5.9h0M-2.4 -29h0M-10.6 -20h0M9.3 -27.6h0M-28.8 -11.9h0M-14.8 -13.4h0M-11 -9.7h0M9.3 -27h0M6.6 -28.6h0M-23.8 -16h0M-1.4 -33.8h0M-29.1 -15.8h0M-23.4 -15.3h0M-6 -20.8h0M-6 -26h0M-31.4 2.8h0M-23.6 4.5h0M-.1 -29.8h0M-10.2 -27.7h0M-26.3 -6.4h0M-19.4 5.6h0M-24 -6.2h0M.7 -28.9h0M-13.5 -16.2h0M-15.8 -11h0M-2.1 -14.6h0M-19.7 -16.9h0M-24.8 4.9h0M8.4 -23.9h0M-15.6 -24.5h0M-29 .8h0M-25.9 -15h0M-31.8 -4.9h0M-21 -11.3h0M-14.9 -22.1h0M-9.8 -12h0M-11.1 -19.3h0M-5.8 -8.7h0M-16.8 -16.3h0M-24.9 -13.4h0M-14.2 -7.7h0M-26.9 -16.1h0M-14.4 -15.3h0M-23.3 -23.8h0M-17.5 -24.8h0M-24.5 -8h0M-8.6 -30.4h0M-6.6 -28.1h0M-25.9 4.8h0M-30.4 -12.4h0M-20.8 -19.5h0M-30.2 7.9h0M-21.8 -15.9h0M-6.6 -28.5h0M8.4 -23.2h0M-20.6 -19.7h0M-32.8 3.3h0M4.5 -30.8h0M-30.5 -11.5h0M-29.5 -5h0M-26.8 -19.3h0M-9.3 -29h0M-30.8 -10.2h0M-27.9 -15.5h0M6.9 -31.1h0M-21.8 -7.1h0M-30.7 -10h0M-27.3 -9.9h0M-18.6 -20.2h0M13.1 -26.4h0M-30.8 4.6h0M-12.8 -22.5h0M-1.1 -29.3h0M-4.7 -20.4h0M-13 -25.2h0M3.7 -30.7h0M-16.3 -18.9h0M-11.3 -24.9h0M-8.3 -18.7h0M-29 1.9h0" stroke="#15347a" stroke-width="3.0"/><path d="M18.7 -26.4h0M-13 -15.9h0M-10.3 -27.8h0M-14.7 -27.3h0M-20.8 -3.3h0M-23.2 -6.4h0M-12.3 -30.7h0M-22.5 -12.9h0M-32.4 -4.2h0M-27.1 3.2h0M-23.9 -14.2h0M-11.7 -25.7h0M-23.8 -10.5h0M-11.2 -21.8h0M-18.6 -6.5h0M7.3 -22.1h0M-21.2 -24.4h0M-21.8 -16.1h0M-24.7 -15.7h0M-18.2 -18.8h0M-3 -33.9h0M7.8 -21h0M-24.4 -19h0M-30.5 -1h0M-21.1 -25.1h0M-.9 -23.7h0M-24.7 -1.9h0M4.8 -32.1h0M-2 -29h0M5.8 -18h0M-22.9 -2.3h0M15.6 -20.6h0M-16.4 -21h0M-14.6 -19.4h0M7.4 -18.3h0" stroke="#1f6488" stroke-width="2.4"/><path d="M-18.5 -12.6h0M10.8 -22.8h0M-6.8 -31.2h0M-27.6 3.6h0M13.2 -26.7h0M4.1 -30.5h0M-16.1 -27.9h0M-14.4 -13h0M-15.7 -26.1h0M-20.6 -16.8h0" stroke="#2cb494" stroke-width="2.0"/></g>
<g transform="translate(416.2 523.1)"><path d="M33.8 0L33.6 3.3L32.4 6.5L31.2 9.5L30.7 12.7L29.6 15.8L27.9 18.6L26.7 21.9L24.5 24.5L21.8 26.5L19.1 28.6L16.9 31.6L13.4 32.4L10.1 33.3L7 35.1L3.4 34.7L0 35.4L-3.4 35L-6.7 33.9L-10.1 33.3L-14 33.8L-16.5 30.8L-19.5 29.2L-22.5 27.4L-24.5 24.5L-25.7 21.1L-28.5 19.1L-31 16.6L-31.5 13L-34.3 10.4L-34.1 6.8L-34.8 3.4L-35.6 0L-35.6 -3.5L-34.7 -6.9L-33.7 -10.2L-33.3 -13.8L-29.9 -16L-27.8 -18.6L-26 -21.3L-24 -24L-21.4 -26.1L-19.1 -28.6L-16 -30L-13.3 -32.1L-10 -32.9L-6.9 -34.9L-3.5 -35.7L0 -35.2L3.5 -35.6L7 -35.3L10.2 -33.5L13.6 -32.7L16.9 -31.5L20.4 -30.6L22.2 -27L25.4 -25.4L26.9 -22L29.4 -19.7L32.3 -17.3L33.7 -13.9L34 -10.3L34.2 -6.8L33.6 -3.3Z" fill="#121036"/><path d="M6.5 35.4L4.3 39.7L2.7 40.6M29 -21.8L30.4 -25.9L30 -27.7M-9.4 35L-11.3 38.3L-13 38.7M-35.5 -4.1L-39.9 -8.3L-40.7 -9.9M-3 35.5L-4.6 39L-3.2 40.1M34 -2.8L39.8 -2.6L40.7 -1.1M-31.2 -16.8L-34.9 -17.2L-34.2 -18.8M-31.3 -16.6L-34.9 -15.5L-36 -14.1M19.8 29.9L20.9 35.4L20.3 37.1M17.2 -32.3L19.7 -35.7L19.1 -37.4" stroke="#19164c" stroke-width="1.3" stroke-linejoin="round"/><path d="M-37.3 -3.4h0M9.7 37.1h0M36.4 -8.4h0M-11.4 35.8h0M-22 -28h0M-34.8 -12.5h0M-34.8 14.9h0M14.6 -35.7h0M17 -35.4h0M21.6 29.9h0M30 -24.1h0M30.3 21h0M1.9 -36.4h0M-36.7 8.8h0M29.5 21.5h0M9.9 -36.3h0M10.6 35.5h0M-36.6 10.3h0M33.7 12.5h0M-35.2 -11.8h0M32.8 18h0M29.6 -24.2h0M-30.4 20.6h0M-31.9 -17.5h0M7 37.6h0M33 -19.5h0M-10.4 36.2h0M9.7 35.7h0M29.8 -23.3h0M23.8 27.9h0M35.6 -7.8h0M-19.8 -31.5h0" stroke="#221c5a" stroke-width="2.6"/><path d="M-10.4 -7.9h0M-14.8 26h0M5.7 -15.3h0M18.6 9.8h0M-29.2 -2.4h0M6 15.1h0M21.8 -13.9h0M23.3 12.7h0M19.3 -27h0M12.3 24.1h0M11.9 17.8h0M15.1 -2.6h0M-28.2 2.9h0M.4 -32.6h0M26.1 12h0M-20.5 3.7h0M10.1 3.9h0M25.9 19.1h0M24.3 11.4h0M7.4 -17.4h0M-2 18.8h0M-7.6 -12h0M-33.1 13.2h0M-19.7 .9h0M6 -31.6h0M12.1 17.2h0M-11.1 -33.4h0M-15.7 33.4h0M16.3 -15.5h0M9.1 -22.8h0M8.4 -35h0M4.6 23.9h0M-17.4 31.8h0M-35.3 7.4h0M-29.4 -6.2h0M9.1 -7.6h0M-4.5 2.4h0M6.2 4h0M25.6 .1h0M-4.7 -21.1h0M20.6 -17.7h0M-3.4 -.9h0M-14.6 19.3h0M12.1 -25.3h0M28.2 -10.8h0M-11.8 -32.1h0M20.5 -11h0M-25.3 -14.7h0M7.9 -9.2h0M-29.8 -5.8h0M-2.8 9h0M-23.8 14.2h0M-17.3 17.2h0M-2.6 11.8h0M-27.6 -21.5h0M-18.8 -18.5h0M6.6 3.2h0M25.9 -25.7h0M-7.4 28h0M17.9 24.9h0M13.8 7.7h0M23 6.9h0M-16.5 -12.3h0M-3.8 23.4h0M15.3 31.8h0M-8.8 23.1h0M-14.8 23.8h0M3 5.2h0M-17.9 28.2h0M-13.4 -23.1h0M27.1 22h0M20.2 -6.2h0M-21.4 22h0M27.1 6.4h0M-17.8 -1.5h0M-31 8.5h0M-.6 19.6h0M16.7 .9h0M10 24.2h0M-21.2 -7.1h0M-14.1 -13.1h0M-27.9 -13.2h0M-13.3 -17.2h0M-17.3 16.8h0M-29.3 -15.9h0M-12 -25.6h0M-29.7 .8h0M7.2 17.8h0M-24.3 6.3h0M5.8 26.2h0" stroke="#0b0a24" stroke-width="4.2"/><path d="M33.5 -11.8h0M3.2 -9.2h0M-4.4 -4.4h0M3.1 -1.4h0M-2.5 -14.5h0M-11.9 .6h0M17.3 -11.9h0M-2.5 2.3h0M18 -25.3h0M28.6 -9.1h0M-34.6 -6h0M20.7 -26.5h0M15 -.1h0M30.4 -7.6h0M9.4 -1.5h0M.3 -4.2h0M-2 -3.5h0M-8.6 4.4h0M-14.3 -13.7h0M.4 -21.7h0M15.6 27.9h0M23.1 -5.7h0M.5 -25.9h0M-11.2 -17.2h0M-27.8 1.1h0M-12.8 -29.6h0M31.1 -5.3h0M19.5 13.2h0M9.5 -32.8h0M3.8 -29.8h0M29.4 16.2h0M9.3 24h0M24.5 13.7h0M-2.4 30.8h0M-22.3 18h0M-4.8 19h0M-19.1 12.8h0M25.6 -2.7h0M-18.1 12.8h0M29 16.8h0M1.7 -23h0M22 20.3h0M4.4 9.1h0M32.7 8.4h0M18.8 5.7h0M18.4 27.7h0M-26.4 -1.5h0M5.5 2.3h0M-34.8 -8.2h0M22.2 19.2h0M-21.3 2.3h0M28.7 16.8h0M23.4 8h0M7.9 -9.5h0M-29.1 12.8h0M26.6 4.2h0M23.1 -24.9h0M-5.5 -16h0M-1.5 -10.4h0M2.8 14.5h0M19.9 -5.3h0M28.6 21.7h0M10 21.5h0M-13.4 .2h0M20.4 -26.6h0M24.3 -1.5h0M-22.9 23.8h0M18.9 -22.5h0M25.6 -3.5h0M22.6 -3.2h0M31.8 -12.7h0M-13.5 8.9h0M-6 -30.7h0M-10.8 18.9h0M-11.2 -17.7h0M2.4 4.2h0M-14.7 21.6h0M-34.8 1.6h0M13.8 -15h0M-7.4 -16.1h0M4 -16.9h0M-26 -18.6h0M-27.9 -12.1h0M18.6 29.1h0M-24.4 -10.9h0M-21.4 4.8h0M-4.8 -10h0M-12.6 -12.4h0M-18.6 20.5h0M-23.1 -10.8h0M3.2 -24.2h0M-6.4 -36.1h0M-10.6 -6.4h0M-30 -2.4h0M-28 -1.3h0M29.6 7.5h0M-22 10.2h0M-15.7 16.9h0M24.5 -11.4h0M-1.3 2.6h0M17.7 19.9h0M1.3 18.3h0M.7 25.5h0M-23.5 0h0M4.7 -19.2h0M32.9 2.6h0M-13.6 -3.9h0M32.9 -2.7h0M-15.3 5.3h0M23 -9.7h0M15.4 29.2h0M23.7 -12.5h0M-15.4 32.8h0M18.2 -5.4h0M-20.9 13.4h0M27.9 -17.8h0M-11.9 -25.1h0M11.9 -.3h0M-10.1 16.1h0M9.3 -20.5h0M-15.3 -14.4h0M2.1 -7.9h0M18.1 -20.6h0M.5 .8h0M-31.5 2.9h0M-4.1 -8.1h0M7.9 -12.1h0M30.1 -15.1h0M24.1 15.6h0M17 -5.1h0M8.8 -22.3h0M6.9 -24.3h0M7.1 -17.8h0M22 -17.7h0M-19 -7.3h0M-9 -12.4h0M26.9 11h0M-18 -.8h0M-28.4 19.5h0M-.8 -14.8h0M8.6 .6h0M10.4 -33h0M28.5 10.8h0M18.6 .5h0M-5.7 30.4h0M-8 -6.9h0M19.8 1.7h0M9.1 -20.9h0M-27.8 -16.5h0M-.1 -3.9h0M-35.7 5.9h0M-29.5 -2.5h0M27.4 17.7h0M10.8 -11.9h0M4.5 -14.8h0M20.6 17.8h0M-17.9 -23.9h0M15.7 4.5h0M1.8 -.1h0M13.2 -28h0M27.7 -4h0M25.1 5.8h0M-21.2 17.4h0M-8.4 19.3h0M15.1 -12.2h0M-11.3 25.4h0M-1.8 15.4h0M-21.9 -14.2h0M-27.3 -.7h0M-1.5 -15.7h0M4.3 10.2h0M-10.3 10.2h0M-2.5 27.1h0M-1.4 -9.7h0M.3 -4.5h0M-12.6 24.9h0M33.6 5.4h0M13.4 -23.4h0M10.3 -23.2h0M28.5 -15.5h0" stroke="#19164c" stroke-width="3.8"/><path d="M-26.2 20.8h0M-9.1 27.8h0M-24.8 -5.1h0M-23.7 7h0M3.6 -32.6h0M-11.4 8.9h0M1.1 -11.2h0M28.8 14.9h0M-12.7 -24.1h0M-18 -11.7h0M8.3 18.3h0M19.6 -8.2h0M8.8 11h0M15.1 -4.3h0M-15.4 23.8h0M-3.7 27.2h0M13.4 -17.6h0M29.6 -19.8h0M14.2 -18.1h0M-3.6 24.5h0M-31.5 -16.5h0M26.6 -15.1h0M-29.2 -1.6h0M-17.3 -16.7h0M-16.7 12.5h0M-33 11.2h0M-25.1 -20.2h0M-26.9 2.6h0M-20.6 23.3h0M19.5 -14.7h0M-8.1 5.4h0M17 13.3h0M31.6 -6.3h0M-10.3 8.3h0M8.9 29.6h0M12.4 26.1h0M-28.6 9.3h0M14.7 31.5h0M6.9 -13.9h0M-24.8 12.7h0M21.9 19.7h0M.6 23.2h0M29.1 1.9h0M.3 21.3h0M22.2 6.2h0M-24 -2.9h0M-27.1 20.8h0M-22.3 19.3h0M4.9 29.5h0M-4.2 -9.1h0M9.9 -.7h0M-8.1 33h0M-32 -5h0M-13 12.9h0M17.8 -21.1h0M-1.4 31.7h0M-6.2 -30.9h0M28.8 19h0M-18.7 .3h0M14.3 -29.9h0M15.4 32.9h0M-6.2 -17.8h0M20.3 -10.8h0M-15.8 -7.8h0M3.7 -19.1h0M17.5 -18h0M-6.3 28.1h0M3.4 -10.7h0M16.6 9.2h0M-22.8 -5.7h0M-5.3 29.6h0M8.3 -12.8h0M-10.7 32.2h0M-32.3 -12.3h0M-20.2 -7.4h0M-24.2 -18.6h0M-1.5 -23.9h0M-24.7 7.6h0M-12.4 -33.5h0M6.1 18.3h0M-8.7 26.9h0M-20.6 -26.5h0M-16.1 32.4h0M15.3 -29h0M-20.7 21.2h0M.9 29.5h0M31.8 -.5h0M-2.9 22.2h0M28.2 -20.8h0M-6.4 15.9h0M30.7 1.3h0M.6 13.5h0M27.6 22.2h0M-19 19.6h0M.7 24.4h0M-15.6 6.7h0M21 -9.1h0M-27.7 -19.6h0M31.5 7.5h0M-25.5 10.4h0M2.3 4.8h0M-11.5 6.8h0M2.2 29h0M34.6 -10h0M17.3 -21.3h0M-33.5 -10.5h0M11.6 -17.5h0M-27.1 -10.5h0M8.9 -8.1h0M-4.7 31.7h0M-6.4 3.7h0M12 30.4h0M-8.9 27.8h0M20.1 -15.6h0M16.2 18h0M16.2 21.2h0M-19.8 -27.5h0M-18 29.3h0M-17 -2.3h0M-.2 3.6h0M26.4 2.6h0M1.6 23.1h0M-1.6 23.7h0M-33.9 -6.3h0M30.7 13h0M1.1 -5.7h0M13.1 -21.5h0M-1.7 31.7h0M26.2 -18.8h0M-26.4 10.6h0" stroke="#221c5a" stroke-width="3.2"/><path d="M11.2 -34h0M-30.3 -9.5h0M-12.7 20.3h0M5.7 5.4h0M13.5 1.6h0M-4.4 -14.6h0M-3.9 -30.7h0M-26.4 9.1h0M27.2 -17.7h0M-3.2 28.1h0M-10.4 20.6h0M-31.6 -1.2h0M-20.7 -20.1h0M12.2 -5.9h0M19.5 -.2h0M-18.7 -27.3h0M-9.3 6.8h0M15.8 -1.9h0M-11.9 16h0M4.9 -12.3h0M-28.6 -7.5h0M-20 17.2h0M-8.5 16.9h0M-10.2 14h0M-2.9 -24.7h0M-31.4 -3.4h0M-12.6 2.8h0M-19.4 -.9h0M-3.7 -29.1h0M-6.2 -24.1h0M-21 13.8h0M-24.2 -2.5h0M-3.6 5.4h0M9.1 35.7h0M-19.2 -29.1h0M-.4 -18.1h0M-18.2 -3.7h0M28.4 10.5h0M-3.4 32h0M-3.5 15.1h0M-6.4 1.8h0M-29 -5.4h0M22.3 21.1h0M18.1 -6.8h0M-18.7 22h0M-20.3 -9.7h0M17 19.1h0M.4 -27.4h0M-4.9 -10.8h0M2 -12.2h0M28.1 -6.7h0M24.4 19.2h0M-13.3 29.6h0M17.2 6.2h0M-9.9 25.2h0M3.6 13.3h0M7.5 -34.7h0M7.5 -29.5h0M-4 -9.4h0M2.6 25.4h0" stroke="#0b0a24" stroke-width="2.8"/><path d="M-5.7 15.8h0M29.4 12.4h0M-2.3 3.8h0M19.8 25.6h0M12.8 -4.8h0M-9.2 -1.7h0M-13.2 -27.8h0M10.1 -13.4h0M-4 8.3h0M15.2 10.5h0M26.8 -8.9h0M-9.9 -31.7h0M-1 6.1h0M-21.8 -14.3h0M-8.6 8.3h0M-.6 -11.8h0M21.9 -19.5h0M23.9 -8h0M30.7 15h0M12.2 -4.2h0M-6.7 -31h0M17.4 15.7h0M16.2 12.3h0M-9.9 1.7h0M27.2 15.2h0M-15.7 -2.2h0M20.5 26.2h0M-20.7 19.4h0M19.3 -19.9h0M-12.6 -29.4h0M-1.2 29.9h0M-26.5 18.7h0M10.9 33.5h0M-31.3 -1.5h0M14 -20.9h0M-26.6 15.1h0M-17.4 -16.8h0M-24.3 7.2h0M27.9 3.5h0M10.4 3.2h0M25.1 24.3h0M25.6 -26.1h0M-15.6 -20.4h0M16.6 .3h0M15.7 24.9h0M18.2 -7.8h0M-17.1 26.6h0M-24 8.4h0M10.4 -20.2h0M-13 -29.8h0M-12.8 -21.5h0M-18.1 -21.2h0M-16 -23.7h0M-24.9 14.6h0M8.9 -25.8h0M2.5 2.4h0M-.9 -25.3h0M-14 12.8h0M30.3 -7.5h0M-26.5 4.2h0M-15.5 -17.4h0M10.2 16.2h0M-13.1 7.8h0M16.9 15.6h0M-4 10.2h0M-11 18.5h0M21.3 -4.6h0M-23.4 -19.6h0M21.9 -20h0M16.7 28.1h0M-26.8 -13.6h0M-18.8 -18.8h0M-22.7 -18.5h0M11.2 16.1h0M-24.9 2.1h0M-7.9 33.3h0M-17.5 -30.6h0M-28.1 16h0M.6 -19.9h0M6.6 -35.2h0M28 5.4h0M29.5 -19h0M-21.7 -11.9h0M32 -7.5h0M6.4 -3.5h0M-4.7 28h0M-13.6 8.3h0M-4.6 -2.1h0M-27.9 14.7h0M9 -7.4h0M11.2 -29.5h0M-3 -28.3h0M-21.6 -11h0M2 -19.1h0M25.2 -6.9h0M-3.3 8.4h0M-.9 -35.5h0M-18.3 20.9h0M-9.8 -34.9h0M25.9 -4h0M-10.4 1.5h0M16.4 -1.3h0M.5 -9h0M5.1 4h0M29.1 8.5h0M-4.9 -26.3h0M16.1 12h0M6.2 -4.4h0M-25 -4.3h0M-20.6 -3.4h0" stroke="#33205c" stroke-width="2.6"/><path d="M6.2 2h0M5.3 -5.5h0M-3.8 9.4h0M-30.7 2h0M16.4 -13.7h0M-3.4 10.3h0M-9.5 -22.9h0M-8.2 -22.8h0M3.9 -22.7h0M21.6 20.8h0M19.5 15.4h0M26.4 -18.2h0M-.7 -35h0M6.2 4.2h0M-13.9 13.9h0M7.8 5.8h0M12.3 15.8h0M9.5 -14.5h0M21.1 11.1h0M1 18.5h0M14.5 24.7h0M-25.6 -19.8h0M-11 16.5h0M-2.8 -31.1h0M-2 33.1h0M-12.9 -3.1h0M-2.5 -31.9h0M-16.4 -14.9h0M-35.9 1.9h0M14.1 24.3h0M-29.9 .1h0M-1.9 -16.1h0M2.3 -34.9h0M13.2 -24.9h0M-27 -4.3h0M13.5 -13.8h0M-1.3 10.2h0M25.2 -10.6h0M-25.5 13.3h0M-3.4 -12.9h0M2 -32.7h0M18.3 -20.1h0M-24.5 18.4h0M-6.9 -28.4h0M-9.9 -3.3h0M26.2 -15.1h0M9.2 -21h0M23.7 -14.9h0M1.4 -16.8h0M-12.5 -6.1h0M-7.2 -34.1h0M24.9 17.8h0M-13.5 -9.9h0M16 -15.1h0M11.1 -20.8h0M30.6 -17.2h0M-16.5 -26.5h0M-13.6 11.1h0M-11.1 16.5h0M27.3 8.5h0M27.9 19.8h0M-29.2 12h0M8.6 -34.3h0M13.9 4.3h0M-13.5 17.1h0M-20.5 -23.9h0M-6.6 8.5h0M9.1 4.5h0M-26.4 -5.5h0M-1.4 .4h0M22.3 22.6h0M17.4 20.3h0M15.3 -7.1h0M-8.9 -26.9h0M9.7 9.9h0M.9 10.9h0M26 -23.6h0M12.1 33.8h0M18.8 17.1h0M-.1 -22.1h0" stroke="#642870" stroke-width="1.6"/><path d="M-28.9 -16.8h0M-27.7 3h0M-4.5 -32.4h0M-.6 -27.1h0M-28.9 3h0M6.9 -30.3h0M-16 -29.2h0M-4.2 -31.2h0M-21.2 -3h0M-21.2 -2h0M-30.2 -18.4h0M-22.4 -3.7h0M-15 -19.6h0M-11.4 -2.4h0M-8.7 -16.5h0M2.3 -33.2h0M-15.4 -9.3h0M-10.3 -29.9h0M-16.8 -24.7h0M-27.6 -3.9h0M5.2 -34.8h0M-18.3 -15.8h0M-4.3 -35.9h0M-25.3 -12.7h0M-30.4 -11.5h0M-7.4 -31.4h0M-12.1 -34.5h0M7.8 -33.4h0M-13 -32.8h0M-7.7 -20.2h0M-22.9 -19.9h0M-16.9 -30.7h0M-27.6 -17.6h0M-34.7 -.8h0M-33.3 8.7h0M-13.1 -2.5h0M-3.6 -24.4h0M-19.7 -7h0M-23.5 -22.5h0M-28.2 1.8h0M7.9 -22h0M-6.9 -28.4h0M-7.4 -28.3h0M-26.3 -20.7h0M-26.7 -20.1h0M-11.7 -10.4h0M-15.9 -22.5h0M-23.1 -19.3h0M-12.6 -24.6h0M-15.4 -13.5h0" stroke="#172e70" stroke-width="2.8"/></g>
</g>
<g filter="url(#bl)" stroke-linecap="round" fill="none">
<rect x="486" y="320" width="363.0" height="271.7" fill="none" stroke="none"/>
<g transform="translate(549.4 428.9)"><path d="M39.9 0L39.7 3.9L40 8L36.9 11.2L37 15.3L34.9 18.7L33.5 22.4L30.9 25.3L29.1 29.1L25.5 31.1L22.7 33.9L18.9 35.4L16.4 39.6L12.3 40.5L8.3 41.9L4.3 43.3L0 42.4L-4.2 42.6L-7.8 39L-11.9 39.2L-15.2 36.7L-19.1 35.7L-22.8 34.1L-26.2 31.9L-27.8 27.8L-31.3 25.7L-32.4 21.6L-34.5 18.4L-36.2 15L-38.3 11.6L-38.8 7.7L-41.5 4.1L-40.1 0L-40.7 -4L-39.3 -7.8L-37.4 -11.3L-36.6 -15.2L-35.5 -19L-34.6 -23.1L-31.6 -26L-29.6 -29.6L-26.7 -32.5L-23 -34.5L-18.7 -35L-15.3 -36.9L-11.6 -38.4L-7.8 -39.2L-4 -40.2L0 -42.1L3.9 -39.6L7.8 -39.4L12.1 -39.8L15.5 -37.5L19.6 -36.6L23.9 -35.8L27.4 -33.4L29.3 -29.3L31.1 -25.5L34.1 -22.8L35 -18.7L36.2 -15L37.3 -11.3L38.6 -7.7L39.3 -3.9Z" fill="#4e3210"/><path d="M14 -39.9L15.1 -45L16.8 -44.5M-17.3 -37L-17.2 -40.1L-19 -40.1M-30.6 27.2L-34 30L-35.5 28.9M-2.3 -41.7L1.1 -45.8L2.7 -46.7M1.2 43.6L5.7 48.8L7.1 49.9M-3.9 42.6L.1 47.9L1.8 48.6M-24.2 -33.8L-26.2 -36.5L-25.5 -38.2M-27.5 -31.9L-29.6 -36.3L-31.4 -36.2M30.5 -29.6L32.3 -32.4L33.6 -31.1M-16.2 37.2L-15 41.4L-13.6 42.5M-37.5 16.3L-43 13.9L-43.7 12.2M24 34.2L23 39.3L21.9 40.7M-22.8 -34.6L-28.5 -36.5L-27.8 -38.1M-3 -41.6L-7.3 -44.9L-9.1 -45M-35.4 20.2L-38.3 21.5L-38.6 23.3M-16.5 -37.4L-19.1 -40.3L-20.9 -40.1M-28.5 29.5L-32.4 30.2L-33.7 28.9M-.8 -41.8L-.9 -45.9L.8 -46.5M-6.6 -40.9L-10.2 -42.9L-12 -43M-15.7 37.4L-13.1 41.6L-14.8 41.9M9.6 42.6L13.1 46.9L11.3 47.3M-41.3 6L-43.5 9.1L-44 10.8M18.1 38.3L18.4 44.1L20.2 44.1M-38 -15L-41.1 -19.6L-40.5 -21.4M12.5 41.4L17.4 43.7L15.8 44.6M10.2 -40.8L13.2 -43.9L15 -44.2M-40.7 -4.8L-46.2 -7.9L-46.5 -9.7M19.3 -38.3L22.1 -41.9L23.9 -41.8M23.2 -36.4L29.3 -37.3L28.3 -38.8M21.3 -37.4L25.8 -39.9L27.6 -40M-41 -3.4L-44.2 -7.4L-44.5 -9.2M-40.9 -3.9L-44.2 -1.5L-44.4 -3.3M17.4 -38.9L15.3 -42.8L14.3 -44.3M-38.9 -11.9L-43.3 -14.4L-43.8 -12.7" stroke="#8a5416" stroke-width="1.3" stroke-linejoin="round"/><path d="M4.3 -44.7h0M14.4 45.9h0M1.5 -46.6h0M38.2 -17.3h0M35.9 -28.7h0M-37 22h0M-41.1 -16.7h0M22.8 38.8h0M40.8 -13.5h0M-36.4 27.7h0M45.6 -4.1h0M42.9 13.2h0M13.8 43.5h0M32.2 -29.3h0M29.3 32.5h0M11.6 44.5h0M-6.6 -44.7h0M25 38.8h0M38.7 -20.1h0M22.1 39.3h0M-8.5 -42.3h0M-35.2 -29.9h0M3.6 45.3h0M6.3 -44.7h0M-40.8 16.5h0M9.9 -45.6h0M-37.4 25h0M45.5 .9h0M44.6 9h0M44.4 -1.3h0M35.1 -29.3h0M40.4 18.6h0M44.9 -.2h0M9.1 45.7h0M31.7 -35.4h0M10.8 47.2h0M-21.9 35.3h0M39.7 -17.4h0M-2.2 -43.2h0M-43.7 -12.8h0M27.5 38.1h0M-33.9 -32.1h0M-16.2 -42.1h0M15.5 44h0M4 45.1h0M-17.5 41.9h0M40 -15.6h0M-32.9 -29.5h0M-11.3 43.6h0M-10 44.7h0M20.7 -40.9h0M-35.1 23.8h0M7.3 48.1h0M-2.8 44.1h0M-3.6 -46h0M29.5 -37.3h0M27.4 35.4h0M-40.9 16.5h0M-12.7 -43.1h0M-12.6 -44.3h0" stroke="#b46e1a" stroke-width="2.6"/><path d="M37.8 9.4h0M35.2 22.1h0M-11.3 5.8h0M15.5 12.7h0M-22.7 32.5h0M-1.9 -8.3h0M24 .7h0M-3.3 -28.3h0M28.6 9.4h0M29.7 19.8h0M17.6 31.2h0M14.6 38.1h0M-7.3 35.7h0M-32.3 -15.1h0M20.6 22.2h0M-7.6 19.1h0M25.4 12h0M-16.8 -18h0M12.3 19.6h0M1.7 -36.1h0M7.8 2.2h0M38.8 12h0M-7 17.5h0M1.9 1.9h0M9.1 40.3h0M1.9 -31.7h0M4.4 2.4h0M20.6 -12.5h0M-26.9 -13.9h0M15 4.8h0M1 27.9h0M6.5 -19.7h0M17.6 -15.3h0M9.1 -10.6h0M-31.5 23.1h0M41.6 1h0M7.7 -34.5h0M-16.2 17.1h0M5.6 5.1h0M18.5 21.8h0M28.8 -28.2h0M1.2 -6.3h0M4.1 31.7h0M37.8 -3.5h0M29.1 7.2h0M-30.3 -5.8h0M-19.3 -9.2h0M-7.5 .9h0M-37.8 6.8h0M-26.9 -30.2h0M25.2 13.3h0M-4.9 32.3h0M7.6 -36.6h0M23.1 -33.8h0M-10.8 21.1h0M-34.6 2.3h0M-12 -24.6h0M-29.3 15.3h0M9.6 21.9h0M-13.7 -34.5h0" stroke="#2e1c08" stroke-width="4.2"/><path d="M-5.8 30.5h0M-18.9 .5h0M30.1 29.1h0M-32.9 -16.2h0M-5.8 -38.5h0M-27.4 14.8h0M-35.1 -9.2h0M-4.4 22.5h0M19.4 -1.1h0M-36.5 1h0M27.1 -2.7h0M9.9 22.3h0M29.1 -8h0M7.4 -30.3h0M-.2 9.2h0M-25.6 23.6h0M-38.5 -9h0M6 -26h0M-9.4 -40.7h0M16.6 8.4h0M37.5 4.4h0M14.2 -11.3h0M23.9 -9.7h0M-36.4 8.2h0M-33.7 24.3h0M16.6 -24.4h0M22.6 -.7h0M-33.1 2.9h0M36.3 -5.7h0M14.8 -33.9h0M26.9 24.2h0M-14.2 -9.7h0M-40.5 -3.3h0M39.6 3.7h0M16.9 -19.4h0M31.9 1.5h0M20.8 -26.6h0M1.9 20.9h0M32.7 -22.3h0M8.4 -7.3h0M-34.9 -17.5h0M-19 10h0M29.7 -10.5h0M27.7 14.6h0M27.1 -13.1h0M28.8 3.4h0M35.7 6h0M6.2 -28.8h0M28.3 6.7h0M-7.1 4.7h0M2.1 -5.4h0M9.5 -11.1h0M11.7 -9.1h0M-3 2.1h0M5.5 14.6h0M-31.7 24.5h0M-4.6 -9.9h0M-8.8 -19.4h0M-14.9 -27.8h0M27.3 -16.8h0M13.6 -14.6h0M-3.4 -25.6h0M4.8 25.1h0M7.9 23.8h0M9.1 -32.5h0M8.8 20.5h0M9.9 -40.4h0M-13.4 -27h0M27.5 -24.1h0M.8 26.8h0M12.3 -23.2h0M-23.8 -3.4h0M19.2 -13.2h0M18.2 6.5h0M35.2 19.4h0M27.8 -2.7h0M31.2 -4.4h0M-14.3 30.1h0M18.4 -7h0M14.9 8.6h0M27.1 7.5h0M27.6 -4.5h0M29.8 15.5h0M33.7 23.4h0M-24.6 -12.9h0M-1 -42.6h0M-7.1 -12.8h0M-11 35.2h0M-31.4 -10.1h0M-7.3 -30.6h0M-14.4 -23h0M21.1 -5.7h0M28.4 -12.7h0M1.1 -12.6h0M10.7 2.4h0M12.2 -32.5h0M25 26.8h0M-14.7 -25h0M3 36.1h0M-7.2 7.3h0M-7.9 26.7h0M20 9.1h0M10.5 8.9h0M-.6 42.5h0M31.2 -9h0M35 -15h0M-20.2 11.8h0M9.5 10.7h0M13 -12.5h0M-37.9 -11.4h0M-16.2 26h0M7.1 25.2h0M-5.1 -10.7h0M-24 17.8h0M-20.9 6.2h0M30.1 7.4h0M8.2 28.6h0M-27.3 21h0M-19.8 25.9h0M-33.2 19.5h0M22.1 -25.5h0M15.3 -22.1h0M15.7 14.9h0M21.8 -30.7h0M-36.1 -5.9h0M11.3 30.8h0M31.9 -5.1h0M-.2 32.7h0M-27.5 21.3h0M35.1 -7.6h0M31.4 4.7h0M6.7 -40.2h0M2 -28.1h0M11.1 -.7h0M40.5 -2.9h0M19.6 -7.8h0M2.3 -24.9h0M19.2 -13.1h0M.7 -16.7h0M.5 42h0M2.2 11h0M-19.2 -27.8h0M31 17.2h0M15.5 13.4h0M-21.8 -19.9h0M21.4 -16h0M15.9 28.7h0M-20.2 28.1h0M-34.9 -1.2h0M-6.6 15h0M-4.4 37.8h0M-21.6 -15.9h0M-6.3 35.6h0M38.6 12.3h0M22.1 -11.5h0M14 -29.6h0M-34.2 -2.2h0M7.2 39.7h0M-28.7 16.3h0M20.9 -11.9h0M13.1 -33.2h0M26.6 -15.8h0M18.8 8.9h0M-31.5 -18.2h0M-15 30.2h0M-20.6 -16h0M13 -29.5h0M3.2 27.7h0M17.2 27.4h0M3.5 30.8h0M22 -7.1h0M3.6 -14.6h0M4.3 -10.5h0M25.4 15.1h0M30 16.1h0M8.3 -30.6h0M-2 -23.5h0M-25.1 -21.4h0M-17.6 -20.4h0M8.7 -32.7h0M5.2 -5.7h0M-19.6 -18.2h0M11.3 -10.5h0M-8.1 24h0M-40.9 9.7h0M21.8 -34.2h0M-26.9 12.5h0M9.6 10.1h0M-12.6 -5.2h0M-30 4.3h0M33.6 16.6h0M-8.2 2.5h0M-29.9 11h0M15.9 -15.1h0M34.2 7.6h0M2.9 -6.8h0M-6.5 40h0M17.8 -7.2h0M-20.8 -26.4h0M-13.1 -9.6h0" stroke="#8a5416" stroke-width="4.2"/><path d="M18.7 25h0M-12 -34.9h0M32.4 -25h0M-18.5 -32.1h0M27 1.1h0M19.5 -12.4h0M20.2 16h0M-4.9 -28.6h0M-33.5 -10.9h0M-38.6 -2.6h0M33.7 9.6h0M-10 3.4h0M10.4 6h0M-17.1 -11.4h0M1.4 20.9h0M-20.5 21.1h0M13.8 -28.4h0M-25.2 -28.6h0M-29.2 2h0M-29.4 13.3h0M-6.1 -8.8h0M-11.8 -29.6h0M-22.3 15.9h0M-15.7 -33.2h0M-10.7 -24.5h0M-32 6.9h0M-20.1 -24.5h0M18.4 -.6h0M-17.9 9.5h0M-21.6 16.7h0M1.1 -16h0M33.9 -6.5h0M13.1 3.2h0M-20 9.5h0M14.4 19.5h0M-18.3 -34.3h0M-27.7 6h0M-.7 37.6h0M4.4 -36.3h0M-14 21h0M19.7 7.5h0M20.2 14.5h0M-7.9 -35.1h0M32.6 16.7h0M22.1 -31.3h0M-30.2 -1.2h0M-13 8h0M17.1 -37.4h0M-19.1 24.6h0M3.3 -17.9h0M-14.3 -15h0M16 14.1h0M-15.4 33.5h0M19.8 24.1h0M-5.1 31.4h0M11.5 14.7h0M6.5 39.7h0M-12.4 -31.1h0M-.4 -13.3h0M19.2 -24.2h0M3 16.7h0M32.6 -14.4h0M3.2 -10.9h0M4.1 -7.8h0M.3 -4h0M-24.3 -28.1h0M5.2 29h0M-2.7 -2.2h0M.9 40.8h0M4.1 -4h0M14.9 20.4h0M3.1 10.5h0M6.5 25.5h0M-3.7 -10h0M-4.1 20.7h0M-36 -.4h0M36.3 12.9h0M-24.5 24.1h0M-.2 19.6h0M-13.8 -32.5h0M-16.8 -35.6h0M-2.7 -10h0M27.3 9.7h0M-29.2 24.3h0M-24.6 -26.1h0M-6.2 -38.9h0M5 -25.2h0M22.9 -28.5h0M-5.8 31.3h0M23.6 -28h0M-24.2 4.1h0M-27 -17h0M-16.1 7.2h0M12.1 -1.5h0M4.5 -31.9h0M-16.2 -36.2h0M34.6 -16.8h0M25.3 -34.3h0M2.9 17.6h0M-17.4 -25.9h0M21.4 28.8h0M-3.7 -25.2h0M-33 10.8h0M-24.7 7.3h0M24.2 29.7h0M-38.1 -.9h0M.3 -1.1h0M14.3 -12.9h0M27 15.8h0M-7.5 39.3h0M20.7 15h0M20.3 14.9h0M-2.4 -33.5h0M-12.5 23.8h0M38.6 -9.7h0M-23.5 -1.4h0M2.6 1.3h0M4.1 29.3h0M28.4 14.8h0M33.4 -14.8h0M-37.3 -14.6h0M28.5 27.4h0M.3 -39.6h0M-17.6 -35.8h0M29.7 16h0M-27.9 28.2h0M20.2 1h0M-12.5 24.8h0M-33.1 -14.2h0M3.9 -20.6h0M-22.5 -17.4h0M-28.4 -1.9h0M14.6 -33.6h0M5.9 13.9h0M-35 -12.9h0M7 -2.4h0M27.1 -27.3h0M-8.9 -26.7h0M-13.9 10.2h0M-34.3 -1.2h0M-11.4 36.4h0M-24.5 -30.5h0M-11.5 38.6h0M-34 -9.7h0M24.1 2.7h0M-3.7 14.2h0M-17.4 .2h0M33.6 8.2h0M-4.7 -25.1h0M37.1 -1h0M9.8 -29.5h0M-15.4 14.6h0M9.2 14.3h0M31.3 6.3h0M9.2 1.3h0M-5.4 -17.4h0M-16.9 20.8h0M.5 22.9h0M24.8 -14.3h0M-12.2 -33h0M-6.3 -26.1h0M-10 37.2h0M22.8 26.2h0M-21.9 8.7h0M32.7 5h0M17.1 -20.1h0M-6.5 -10.8h0M2.9 4.7h0M-15.6 36.9h0M-6.1 13.7h0M-33 -25.5h0M37 5.9h0M18.8 -17.4h0M10.8 27.3h0M40 -5h0M2.5 -5.1h0M6 15.9h0M2.8 43h0M-27.9 21.5h0M-4.3 -7.5h0" stroke="#b46e1a" stroke-width="3.8"/><path d="M10.1 39.8h0M3.6 -17.2h0M8.5 -17.5h0M16.5 34.1h0M-1.3 .2h0M21.3 -4.3h0M-.6 10.5h0M17.8 -12.8h0M27.8 31.2h0M15.1 26.2h0M12.5 -19.6h0M8.2 -6h0M-3.5 5h0M-30.2 -6.7h0M19 38h0M-14 11.7h0M-6 -26h0M4.7 39.1h0M18.5 -9.3h0M-15.6 29h0M12.9 -38.2h0M15.9 .7h0M7.7 -3.1h0M35.5 15.3h0M-26.9 24.6h0M-34.8 -1.4h0M37.9 -6.4h0M.3 -8.8h0M10.4 42.5h0M-21.1 6.4h0M1 41.8h0M3.5 40.1h0M23.8 -16.7h0M24.9 -10.5h0M14.9 7.9h0M-22.9 23.2h0M-29.2 -25.2h0M25.3 1.3h0M-1.7 38.5h0M.2 -14.7h0M20.6 -8.4h0M25.7 25.7h0M17.6 -11.1h0M1.1 -10.8h0M10.6 6.3h0M-17.4 37h0M-12 -2.8h0M-26.2 25.9h0M28.1 -1.1h0M33.3 -15h0" stroke="#2e1c08" stroke-width="3.0"/><path d="M-5.1 20.6h0M17.1 -9.1h0M-8.6 18.8h0M-18.1 -27.4h0M-12.8 22.3h0M-8.2 17.9h0M13.1 -7.2h0M-25 -.9h0M-8 -33h0M15.6 -31.4h0M9.5 31.8h0M1.1 -12.9h0M28.1 -11.2h0M33.4 9.7h0M26.6 -18h0M8 38.6h0M-19.1 25.5h0M17.7 -21.9h0M-7.5 -15.2h0M-2.9 16.7h0M-10.5 -3.7h0M6.5 8.9h0M16.7 21.6h0M-11.6 -21h0M3 21h0M24.5 13.8h0M-4.8 6.7h0M31.8 -2.3h0M11.9 18.9h0M16.8 -34.8h0M19.9 -1.9h0M-1.7 -8.7h0M-23.9 -6.9h0M24.1 7h0M15.4 21.1h0M.3 9.9h0M-3.8 27h0M-16.9 21.2h0M-5.9 -5h0M-3.8 -18.3h0M-30.4 4.5h0M24.4 -4.8h0M8.9 20.8h0M-13.2 3.5h0M25.1 -19h0M-6 -22.3h0M3.7 -34.8h0M27.9 -27.3h0M-27.1 5.9h0M1.8 -18.6h0M12.2 4.6h0M-16.4 -9.1h0M28.5 9h0M5.4 -10.9h0M-15.9 20.8h0M21.3 11.3h0M-13.7 5.9h0M-18.9 14.2h0M22.7 22.8h0M7.3 -23.5h0M15.3 8.2h0M-9 16.6h0M16.4 23.6h0M-9.1 -26.5h0M16 12.6h0M34 -4.3h0M-28.5 -22.2h0M17.5 31.8h0M1.1 -19.4h0M-30.1 -10.6h0M-26.6 -.2h0M-7.6 -10.5h0M-15 8.4h0M10.8 -34.6h0M-15.4 10.9h0M-12.9 -31.8h0M-20.8 -30.5h0M-.5 -5.9h0M-2.5 13h0M19.1 -4.5h0M22.7 -33h0M-1 -38.9h0M-11.8 18.6h0M-30 14.9h0M21.2 21.6h0M8 -32.9h0M19.3 1.5h0M-20.6 -11.3h0M8.3 32h0M30.2 -5.6h0M-22.2 14.1h0M-37.7 8.3h0M4.7 32.6h0M7.8 -2.2h0M36 1.9h0M-14.1 16.3h0M10.2 36.6h0M-19.1 7.7h0M14.2 33.5h0M.8 11.3h0M13.4 37.3h0M-35.3 14.5h0M23.5 -4.1h0M16.4 -14.7h0M8.1 34.3h0M-31.7 18.9h0M8.4 -29.1h0M-21.1 -11.5h0M-1.2 27.7h0M-32.1 20.1h0M-10.9 30.1h0M16.2 -8.8h0M36.1 2.5h0M-15.8 1.1h0M1.9 -4h0M-14.5 -18.7h0M15.3 -.7h0M4.2 -2.6h0M-35.9 -9.6h0M-5.7 37h0M-7.4 2.8h0M-1.2 -4.6h0M8 13.2h0M-31.8 10.1h0M-34.8 -2.2h0M-16.3 -4.3h0M10.7 23.9h0M-13.2 16.5h0M29.6 16.6h0M24.3 -4.2h0M-.9 3.5h0M12.8 35.9h0M-1.1 22h0M7.1 -31.3h0M15.6 21.1h0M16 7.2h0M8.3 19.4h0M-13.6 -27.9h0M-25.7 -6.9h0M-3.1 -27.1h0M28.7 -10.7h0M-16.9 27.6h0M13.3 -1.8h0M25.2 .6h0M25.6 20.1h0M16.6 1.5h0M18.4 32.7h0M-33.6 8.5h0M-1.4 -22.1h0M-21.6 17.2h0M-.3 3.5h0M-24.9 -23.1h0M13.8 31.6h0M-7.4 13.3h0M-27.7 13.1h0M26.4 -30.7h0M-24.5 10.7h0M14.8 -25.3h0M36 8.3h0M-3.1 27.8h0" stroke="#dc8a1e" stroke-width="3.3"/><path d="M21 6.5h0M7.9 -2.5h0M16.6 -10.7h0M-13.7 -6.1h0M-19.7 9.9h0M3.2 9.3h0M-23 1.6h0M30.6 -11.1h0M22.4 -6.2h0M-22.3 -21.2h0M21 -3.1h0M-31.3 -8.8h0M11.2 22.5h0M30.1 -16.9h0M-14 11.8h0M-17.8 3.8h0M4 34.2h0M-21.6 9.4h0M21.2 -8.9h0M29.9 18.3h0M7.4 -9.9h0M19.1 28.6h0M4.2 6.5h0M-6.5 -31.4h0M13.9 -17.8h0M-30.5 7.5h0M7.2 10.3h0M17.4 -30.6h0M-11.6 -20.3h0M31.3 3.1h0M16.6 17.8h0M.9 -5.3h0M16.4 -6.1h0M26.3 10.3h0M23.2 -14.1h0M2.7 -2.2h0M-3.7 19.7h0M-20.8 -11.2h0M5.3 16.9h0M-11.5 -13.9h0M18.6 18.9h0M-12.6 2.8h0M-.4 -20.5h0M-18.6 -3.6h0M-11.3 2.7h0M26.2 5.5h0M11.5 34.3h0M8.4 -4.8h0M-24.4 -.2h0M-8 19.5h0M23.6 9.2h0M5.4 .3h0M22.3 8.4h0M-20.4 21.8h0M-.2 31h0M-7.3 -10.1h0M-13.2 -12.9h0M28.3 1.3h0M-22.5 -3.1h0M-.6 -8h0M-8.3 9.6h0M7 .8h0M-10.9 -1.9h0M24.3 14.9h0M-17.2 -25.3h0M17.4 16h0M-8.4 21.3h0M6.5 27.7h0M16.4 10.6h0M12.5 28.6h0M-17.2 6.6h0M-15.3 10.8h0M14.2 4.1h0M-23.9 17.7h0M20.5 23.5h0M-13.6 31.3h0M-17.3 19.1h0M-28.9 -10h0M-30.5 9.6h0M-7.9 -31.7h0M21.3 7.8h0M-1.2 12.5h0M-10.5 3.8h0M1.2 -4.5h0M1 -.2h0M-12.5 20.4h0M-3.1 -19h0M20.3 -1.3h0M26.8 -15.4h0M-3.9 -21.3h0M-13.2 -20.9h0M-28 9.3h0M15.6 -12.4h0M-11.3 -3.3h0M25.5 -.5h0M-5.5 -34.7h0M28 -13.3h0M3 -23.7h0M6.4 26.2h0M-14.6 -6h0M-3.3 7h0M12 10.8h0M7.5 9.3h0M33.6 -4h0M-18.8 26.7h0M-14.1 28h0M-10.6 22.1h0M-28.8 2.1h0M-5.7 -19.3h0M2.4 20.3h0" stroke="#e0a424" stroke-width="3.0"/><path d="M31.9 -1.9h0M30.3 22.3h0M32.7 -9.3h0M16.2 16.1h0M36.6 15.4h0M18.6 4.4h0M20.1 -11.7h0M32.8 -18.8h0M34.6 -1.6h0M19.4 24.1h0M39.6 -5.3h0M34.3 16.8h0M28 -32h0M28.1 -9.6h0M18 28.2h0M33.2 -.5h0M39.8 2.1h0M32.2 2.1h0M26.1 6.2h0M26.1 -28.3h0M31.6 .4h0M33.3 -25h0M25.4 -34.5h0M35.2 10.5h0M31.5 -23.2h0M32.2 -16.9h0M17 -21.7h0M17.4 -1.9h0M14.5 37.4h0M35.9 -1.1h0M31.4 12.9h0M25.6 .3h0M40.1 1h0M27.3 23.9h0M31.1 9.4h0M30 -18h0M33.7 15.7h0M35.8 7h0M31.2 6.4h0M35.4 7.2h0M7.3 31.6h0M29.3 27.8h0M16.5 -27.8h0M19.7 36h0M29.6 7.4h0M15.6 -19.3h0M37.8 -12.2h0M15 34.7h0M29.5 2.4h0M30.6 9.8h0M34 -24.2h0M28.1 -9.5h0M37.5 2.3h0M25.9 31.9h0M21 -2.1h0M18.1 -20.8h0M18.5 5.4h0M34.8 22h0M21.4 7.1h0M30.1 -19h0M33 5.4h0M31.4 -14h0M32 -4.2h0M28.5 29h0M31.8 -27.8h0M22 -6.3h0M20.6 32.7h0M18.3 13.3h0M32.7 -6.2h0M33.2 .2h0M28.9 -23.2h0M21.8 -3.5h0M32.6 -23.6h0M12.9 -31.8h0M31.1 -2h0M30.8 -16.7h0M26.9 27h0M24.8 -28.3h0M12.9 33.8h0M32.3 5.8h0" stroke="#90a82a" stroke-width="3.2"/><path d="M-18 -9.1h0M11.9 1.2h0M-13.3 -21.7h0M-24 -8.3h0M26.7 -3.2h0M13.3 -7.5h0M-31.7 10.6h0M-13.9 -2.7h0M9.3 18.2h0M12.2 8.4h0M5.2 13.5h0M-6.3 -24.1h0M4 .7h0M9.5 3.8h0M-8 -3.9h0M21.8 10.9h0M-12.8 21.9h0M-9.4 5.4h0M-31.6 -3.6h0M28.4 17.1h0M.1 27.7h0M-8.2 15.5h0M24.9 -13.4h0M7.8 10.9h0M-3.1 -19.7h0M-9 -14.8h0M9.2 8.6h0M8.3 19.3h0M-.3 -15.6h0M5.3 27.8h0M-27.6 -6.1h0M-4.3 3.2h0M7.7 -2.4h0M11.2 33.2h0M-.4 23.4h0M-6 -6.1h0M5.6 -13.9h0M27.7 17.3h0M20.7 4.7h0M22.8 11.8h0M3 -3.9h0M-16 16.4h0M-18.4 3.4h0M14 10h0M16 -27.2h0" stroke="#dc5c1a" stroke-width="2.6"/><path d="M26.3 28.6h0M18.7 16.2h0M11.5 -8.4h0M-37.6 7.1h0M1 32.2h0M-2.2 -10.9h0M-9.3 -35.9h0M-24.7 27.6h0M37.9 -5.4h0M32.5 -4.9h0M2.9 -20.8h0M-18.3 -36.2h0M34.9 -21.5h0M-27.7 6.7h0M-12.8 -31.7h0M-11 -22.1h0M-11.6 -18.6h0M-2.4 -20.1h0M4 -40.6h0M-37.8 13.6h0M36.6 -4.2h0M-33.9 -2.2h0M-29.9 22h0M30.5 -13h0M-11.6 -16.1h0M31.5 -7.6h0M31.8 22.8h0M32.3 -3.5h0M12.2 31.3h0M9.6 .4h0M16.7 -31.4h0M-8 -23.3h0M22.7 28.2h0M36.5 -16.7h0M-9.8 7.4h0M33 9.6h0M-29.5 29h0M-38.9 9.8h0M-35.8 -15h0M-22.9 -8.5h0M36.7 9.5h0M.1 32.4h0M16.9 35.1h0M-1.9 -5.3h0M7.5 12.5h0M23.1 .6h0M27.3 -30.4h0M5.2 42.7h0M18.9 11h0M6.6 14.2h0M11.8 33.8h0M4.7 -3.9h0M-8.3 8.6h0M-7 28.7h0M23.2 9.6h0" stroke="#2e1c08" stroke-width="2.6"/><path d="M8.7 15h0M2.6 14.8h0M-20.5 15.7h0M-25.3 -17h0M-13.9 14.3h0M28.6 -8.1h0M-.5 -12h0M-21.2 -5.2h0M-26 2.3h0M-20.1 -4.5h0M12.7 18.4h0M2.5 .8h0M-16.3 8.7h0M-3.9 16.6h0M-4.6 -20.6h0M-20.8 -7.8h0M17.7 -26.2h0M15.6 -20.3h0M23 -17.4h0M-9.3 -2.6h0M9 -23.1h0M-17.9 18.2h0M.4 .5h0M3.1 21.8h0M-29.4 3.1h0M-3.5 -16.1h0M-18.7 16h0M11.1 4.2h0M-16.6 4.2h0M9.8 2.6h0M6 -16h0M-6.1 11.7h0M-11.1 -21.4h0M-8.5 -.1h0M-2.1 2.9h0M27.6 -2.4h0M.2 28.8h0M2.4 -10.8h0M-4 -16h0M8.9 29.4h0M-22.7 3.1h0M5.5 -17.5h0M-1.8 -14.7h0M-1.9 4.2h0M-12.4 -16.5h0M12.1 18.1h0M-14.1 -21.7h0M-9.3 11h0M-14.4 -1.1h0M-28.3 -8.5h0M3 31.2h0M-4 -23.8h0M4.6 -13.2h0M15.3 -20.9h0M23.6 -16.7h0M29 -6.7h0M-28.5 9.6h0M2.9 11.9h0M-19 -2.9h0M-8.3 -15.3h0" stroke="#e8c830" stroke-width="2.6"/></g>
<g transform="translate(673.5 422.7)"><path d="M39.6 0L39.3 3.9L39.5 7.9L38.4 11.7L34.4 14.2L33 17.6L31.4 21L30.2 24.8L27.7 27.7L25.2 30.7L22.2 33.2L18.5 34.7L15.5 37.4L11.6 38.2L7.6 38.4L4.1 41.4L0 40.9L-3.9 39.7L-7.6 38.4L-11.8 38.8L-14.6 35.2L-18.2 34.1L-21.4 32L-25.2 30.7L-27.8 27.8L-31.2 25.6L-33.5 22.4L-34.8 18.6L-37.7 15.6L-37.7 11.4L-37.9 7.5L-39.8 3.9L-39 0L-39.3 -3.9L-39.5 -7.9L-38 -11.5L-36.7 -15.2L-34.6 -18.5L-33.7 -22.5L-29.9 -24.6L-27.5 -27.5L-24.8 -30.2L-22 -32.9L-17.7 -33.2L-14.4 -34.9L-10.9 -36.1L-7.5 -37.9L-3.8 -38.7L0 -39.8L3.9 -39.4L7.8 -39.3L11.9 -39.3L15.3 -37L19.3 -36L22.1 -33L26.2 -32L29.4 -29.4L31.5 -25.9L34.7 -23.2L36.3 -19.4L37 -15.3L38.6 -11.7L38 -7.6L40.5 -4Z" fill="#5c4010"/><path d="M-29 -28.4L-33.6 -28.2L-35 -27M24.4 32.1L25.9 35.1L27.5 34.3M-38.6 -12.9L-41.5 -13L-43 -12.1M38.5 -12.4L42.7 -11.3L43.8 -9.9M-37.8 16.1L-40 20.5L-41 19M-38.9 11.8L-43 10.3L-43.8 11.8M-35.4 -19.3L-36.7 -22.9L-38.4 -22.3M-36.4 -17.4L-42.7 -17.9L-43.5 -16.3M-39.8 -9.5L-43.2 -9.6L-44.5 -8.3M-39 11.3L-42.8 13.5L-42.5 15.3M40.9 -.4L44 3.7L45.2 2.3M5.1 40.9L4.9 46.7L3.4 47.7M5.3 40.9L8.8 45.2L7.1 45.9M32.1 21.6L37.5 22.2L37.8 23.9M12.6 -39.7L18.3 -43.4L20.1 -43.7M19 -37L18 -41.8L19.7 -42.2M-16.9 35.9L-22.3 39.7L-23.9 38.9M24.6 32L24 36.1L23.5 37.9M-32.3 26.1L-35.8 30.7L-37.5 30M34.1 18.3L36.9 19.3L36.4 21.1M-40.6 -6.1L-46.2 -3.7L-46.2 -5.5M-35.3 -19.4L-41 -19.7L-40.2 -21.4M-40.9 -2.8L-45.9 -3.9L-46.7 -5.5M-18.1 35.3L-22.2 36.5L-23.7 35.5M-24 -32.3L-24.9 -38.1L-26.6 -37.7M2.8 41.2L1.7 45.8L3.5 45.8M-2 41.4L1 46.3L-.8 46.4M-33.2 -23L-34.3 -27.9L-36 -27.4M-8.1 40.1L-7.2 45.9L-9 46.1M-7.8 40.2L-10.2 43.4L-11.8 44.2M7.4 -40.6L8.5 -44.3L10 -45.2M-.5 -39.9L-1.3 -43.2L0 -44.4M-17.7 35.5L-23.6 38.5L-22.3 39.8M24.1 32.5L26 35.6L27.7 35.1" stroke="#a46c18" stroke-width="1.3" stroke-linejoin="round"/><path d="M-31.8 -31.9h0M-28.6 33.2h0M38.6 -25.2h0M-41.1 -14.4h0M-2.1 -42.4h0M-31.8 -30.2h0M17 -43.3h0M-41.9 .9h0M38.6 -23.8h0M-20.6 -35.8h0M26.2 -38.4h0M-40.3 11.5h0M39.5 16.1h0M-3.4 43.1h0M-12.6 -39h0M19.2 40.8h0M37.2 -20.1h0M-34.5 29h0M36.9 -24.5h0M31.7 29.7h0M-37.6 -18.9h0M-14.3 -40.1h0M35.7 22.1h0M37.3 -28.6h0M-39.9 -20.6h0M-31.3 -30h0M41.7 -17.7h0M20 -37.7h0M-42.6 12.2h0M-1.9 -41.3h0M39.8 -17h0M45.4 -5.6h0M-44.3 6.2h0M19.6 41.3h0M35.7 19.5h0M43.5 -13.4h0M-27.2 34.7h0M12.6 42.4h0M5.3 -43.2h0M-12.7 -40.9h0M-36.1 -27.7h0M16.2 42.2h0M-4.1 -41.2h0M41.3 -20.6h0M-4.5 -39.8h0M10.2 -45.1h0M27.6 -37.4h0M-46 .5h0M-42.4 18.2h0M35.7 22.2h0M3.7 -43.7h0M-10.9 42.2h0M44.9 -3.5h0M-7.7 -42.6h0M25.1 32.8h0M-42.5 -16.5h0M26.5 35.6h0M18.7 -41.8h0M43 -1.8h0M-22.9 34.5h0" stroke="#d0901c" stroke-width="2.6"/><path d="M-29.2 -11.6h0M-38.5 6.1h0M-38.5 -2.6h0M11.9 -38.8h0M36.5 -20.8h0M-3.3 26.1h0M20.4 -32h0M-40.1 -6.2h0M14.1 5.7h0M-39.4 -3.5h0M14.3 -32.6h0M34.8 15.4h0M21.6 11.3h0M15.7 17.5h0M20.7 32.6h0M8.4 40.2h0M12.7 -32.1h0M-32.9 -20.5h0M-30.4 7.1h0M-30.3 -12.9h0M15.8 -10.5h0M-30.8 13.9h0M10.6 30.3h0M31.6 -6h0M-18.8 -24.2h0M-4.8 12.5h0M-2.2 16.7h0M7.6 -37.2h0M-38.3 13.3h0M-19.9 33.4h0M-21.9 -24.1h0M17.3 -18.1h0M-16.4 32.2h0M22.7 10.3h0M-13.2 25.1h0M.5 -24.3h0M-9.6 -26.3h0M-19.3 -.5h0M28.9 -5.1h0M17.2 -34h0M-29 18.5h0M-9 14.1h0M22.9 4.9h0M17.8 -10.8h0M-10 -22.2h0M24.8 -27.4h0M7.3 4.7h0M-23.9 30h0M.2 2.8h0M33.6 -9.6h0M7.4 32.4h0M6.4 2.6h0M28.3 -14.5h0M20.4 19.3h0M-12.6 -19.4h0M14.2 -35.3h0M-24 -6.7h0M38.3 -12.3h0M23.9 -6.5h0M19.7 22.2h0" stroke="#36240a" stroke-width="4.2"/><path d="M7.6 25.4h0M-2 28.5h0M18.4 -2.4h0M28.2 13.7h0M11.4 -31.7h0M-6.3 31.1h0M4 21.2h0M-11.8 32.9h0M-6 28.5h0M-21.1 -.6h0M-8.3 17.4h0M-16.6 15.7h0M.8 -20.1h0M38 13.1h0M-2.6 40.5h0M-37.1 -1.5h0M-6.9 -20.6h0M-26.8 -22.3h0M3.8 7h0M-10.3 -19.4h0M-11.4 -24.6h0M3.9 -14.4h0M3.3 -13.7h0M-3.7 -1h0M-21.9 32.5h0M-26.4 21.6h0M-28.1 -4h0M7.8 -40h0M8.6 37.4h0M-30.4 -19.2h0M-26.4 -11.8h0M31.7 14.1h0M23.8 -17.4h0M11.3 -18.2h0M-13.7 -3.2h0M-4.2 24.2h0M12 23.3h0M17.3 1.1h0M-5.9 2.5h0M14.8 24h0M15.6 20.7h0M-3.6 1.6h0M33.1 -24.9h0M-39.9 10.1h0M15.1 14.2h0M-24 22.6h0M3.1 7.7h0M40.8 6.8h0M-20 28.9h0M17.5 13.9h0M31.4 -5.1h0M24.5 -23.3h0M-2.4 15h0M25.8 18.6h0M-24.1 -6.4h0M-.3 18.5h0M23.9 5.6h0M-32.9 11.8h0M-3.6 21.4h0M23.4 -28.2h0M3.6 14h0M25.4 24.8h0M-24.9 -28.2h0M-13.9 14.5h0M-19.3 16.2h0M-16.6 33.9h0M26.4 15.6h0M-34.1 1.5h0M-15.9 14.2h0M12.5 38.7h0M19 -11.7h0M-17 -17.6h0M-17 -32.7h0M-7.6 -23.4h0M-20.2 35.1h0M-4.3 10h0M7.5 -19.9h0M4.3 40h0M-12.1 32.9h0M-28.7 8.1h0M16 -11.2h0M-24.5 19.1h0M-13.9 -19.2h0M8.7 3.7h0M-13.7 10.8h0M30.5 -25.8h0M7.8 -31.8h0M31.1 -20.2h0M-41.3 -5.8h0M24.8 29.6h0M-30.5 21.6h0M-5.2 34h0M18.3 -22.2h0M33.5 18.4h0M-33.2 25.1h0M-9.8 -20h0M-20.3 -12.6h0M-25.3 -10.8h0M2.9 -2.1h0M2.2 19.3h0M10.5 19.9h0M-33 -22.6h0M5.6 31h0M9.5 -1.6h0M17.6 -24.6h0M-39.2 -11.7h0M-4.8 -14.2h0M.2 -28.4h0M36.6 6.2h0M-21.5 -18h0M15 -2.4h0M-12.1 -36.7h0M38.4 -.9h0M-6 36.9h0M21.6 34.3h0M16.1 4.3h0M16 -13.9h0M.7 17.4h0M3.1 12.6h0M8.6 2h0M22.6 29.5h0M-8.6 -24.6h0M-1.8 41.8h0M-24.7 -7.7h0M-21.5 -13.8h0M-38.1 -3.4h0M-10.4 2.7h0M-24.7 -24.4h0M-23.4 18.3h0M-27.2 -10.7h0M21.7 20.3h0M-32.9 18.3h0M2.5 22.6h0M-7.5 -24.3h0M-25 17.3h0M31 -3h0M9 -27.5h0M-3 -4.7h0M-11 -34.2h0M-9.7 -1.6h0M-24.7 21.5h0M20.9 -26.2h0M26.2 24.5h0M8.8 32.8h0M-19 7.2h0M11.5 -16.2h0M-18.8 -25.6h0M-2.9 -28.2h0M10.8 -5h0M-24.8 27.6h0M-18 21.2h0M-20.9 3.4h0M-38.1 2h0M-2.8 37.2h0M-9.2 -33.3h0M-15.4 .1h0M-4 -23.6h0M6.8 -1.3h0M-8.7 15.4h0M-3.1 -8.1h0M39 -7.4h0M15.3 33.6h0M5.9 -10.7h0M5.9 -34.4h0M23.2 -1.3h0M-4 15.3h0M-34.4 2.6h0M9 7.7h0M-11.5 -29.2h0M23.6 -28.5h0M-20.6 32.8h0M2.7 0h0M-3.6 37.2h0M-3.2 -21.2h0M-3.5 -5.6h0M32 -18.3h0M5.4 -35.8h0M.1 40.3h0M-25 -23h0M-3 -36.2h0M15.6 7.2h0M12.7 -31.6h0M-25 16h0M-35.7 9h0M-28.8 -3.6h0M-10.8 -32.9h0M-9.1 1.2h0M-29.5 -26.9h0M-28.9 -15.7h0M13.5 38.9h0M26.3 -21.9h0M6 36.3h0M-30 -12.6h0M-20.3 30.6h0M18.6 -6.6h0M26.7 -4.1h0M-19.3 26.4h0M-7.7 33h0M.5 30.2h0M-32.5 17.7h0" stroke="#a46c18" stroke-width="4.2"/><path d="M28.6 -12.3h0M-11.8 -12.2h0M-2.2 -8.7h0M26.3 -30.3h0M-39 -5.3h0M-30.5 19.6h0M-9.7 26.7h0M10.2 37.1h0M11.1 -19.6h0M-25.4 -30.3h0M-23.5 .1h0M22.8 -7.1h0M-.1 -28.3h0M-8.5 21.9h0M-19.6 -3.1h0M-25 -14.5h0M21.5 -7.5h0M-29.5 -19.4h0M-22.1 -32.5h0M-6 23.7h0M-16.6 19.8h0M-6.9 -29.4h0M-25.3 -23.6h0M-7.2 -6.5h0M-29.6 15.1h0M-4.3 27.8h0M-7.2 1.5h0M19.7 -13.5h0M-20.2 -11.7h0M-3.6 38.2h0M17 1.1h0M18.1 -36.4h0M5 -2.7h0M22 26.7h0M-1.4 -10.6h0M2 -4.7h0M21.9 -17.6h0M-7.2 18.3h0M23.9 -2.2h0M-19.3 -27.2h0M-17.6 -15.7h0M-30 25.4h0M-27.2 9.9h0M-31.9 -5.1h0M22.2 3.5h0M-23.4 24.7h0M-25.9 26.9h0M10.8 27.2h0M30.4 20h0M7.2 -31.1h0M-5 14.6h0M-6.7 -27.8h0M.4 -29h0M19.6 -35.1h0M-2.8 22.8h0M16.3 20.6h0M39.6 -4.6h0M13.1 32.5h0M-34 5.7h0M-11.6 -22.7h0M-30.2 17.2h0M-20.2 -27.6h0M-12.7 -31.1h0M-2.7 23.4h0M-28.9 6h0M-20.3 -2.9h0M36.6 4.3h0M17.4 33.7h0M-.2 -15.3h0M13.4 -25h0M25.7 15.1h0M-15.7 -22h0M-10.9 -31.1h0M23.9 -9.5h0M22.8 -30h0M7 -1.1h0M-15 -32.6h0M3.3 38.7h0M-1.3 -37.6h0M-23.9 11.2h0M19.2 26.6h0M-36.2 8.6h0M12 4.3h0M-12.8 -35.5h0M-20.2 .9h0M31.5 20.4h0M17.2 17.1h0M-2.9 32.2h0M17.3 -29.9h0M-23.8 -2.3h0M-10.2 -15.3h0M-7.9 7.6h0M24.4 -25.6h0M31 -10.8h0M-9.3 21.6h0M-29 15.6h0M8.8 -26.9h0M32.9 2.6h0M-18.6 -26.2h0M34.4 5.2h0M-18.4 27h0M-8.1 13.9h0M-30.6 -14.4h0M12.5 17.4h0M.3 -22.5h0M-24 -6.3h0M22.6 25.5h0M-20 -5.2h0M-6 -37.2h0M-32.2 3.6h0M19.1 15.4h0M16.6 -2h0M10.1 -21.6h0M35.4 4.2h0M24.5 30.3h0M-31.3 -10.8h0M28.4 21.9h0M-.5 -14.8h0M-12.8 8.9h0M11.5 12.1h0M-11.3 -12.8h0M-30 -20h0M-28.2 14h0M23.9 -30.2h0M-13.6 -20.8h0M-37.5 10.6h0M25 -30.4h0M21.9 -30.2h0M29.9 -12.3h0M-16.4 -13.8h0M15 21.3h0M-5.3 -9.3h0M13.2 -33.1h0M-6 16.5h0M10.3 16.4h0M19 7.9h0M23.3 -3.5h0M8 14.7h0M-15.3 -10.8h0M-12.5 11.5h0M-14.9 -33.3h0M.6 3.8h0M-35.7 13.9h0M-9 -35h0M10.7 -23.6h0M25.5 11.4h0M6.9 -16.3h0M35.1 7.7h0M40.4 1.4h0M-3 27h0M17.7 36.2h0M-34.5 1.9h0M9.9 2.5h0M-11.2 -5.1h0M31.6 7.3h0M14.7 4.2h0M29 10.1h0M-9.3 -5.4h0M-3.3 -5.3h0M11.3 32h0M28.5 18.5h0M23.7 -28.2h0M3.1 40.8h0M25.3 -1.6h0M-22.8 19.1h0M6 -15.4h0M15.7 11.4h0M13.9 7.1h0M19 .6h0M2 30.8h0M-16.9 19.1h0M-23.2 -5.9h0M15.5 -8.7h0M24.9 12.7h0M33.9 -17.7h0M10.5 30.5h0M-8.1 -19.5h0M-34.8 -10.1h0M24.1 19.3h0M-15.1 35h0" stroke="#d0901c" stroke-width="3.8"/><path d="M-10.1 -36.3h0M24.9 -22.8h0M-3.4 14.7h0M-19.8 21.8h0M-29.2 -22.8h0M10.4 26.5h0M10 -19.9h0M0 -23.2h0M7.7 14.3h0M-.9 -29.1h0M-2.5 -2.1h0M1.7 -33.2h0M-17.4 -10.4h0M17.4 6.1h0M13 -6.4h0M35.5 -1.1h0M36.1 -19.4h0M26.8 27.5h0M-36.3 -17.6h0M16.3 26.7h0M-25.4 13.9h0M7.4 37.6h0M-5.1 -13.1h0M11.1 20.2h0M-23.3 20.3h0M-4 -28.4h0M-1.2 36.3h0M-9 30.3h0M32.2 1.7h0M14.4 -37.1h0M22.4 1.2h0M-36.5 3.5h0M-6 -26.3h0M-9.3 -17.5h0M3.1 20.9h0M-37.4 -13.2h0M29.8 13.7h0M-20.7 26.7h0M-23.1 4.7h0M24.7 16.5h0M11.4 24.1h0M28.7 21.9h0M3.3 37.3h0M19.6 20.2h0M-33.4 2.5h0M4.3 23h0M10.3 4.2h0M10.2 28.9h0M2.3 29.5h0M-4.1 36.7h0" stroke="#36240a" stroke-width="3.0"/><path d="M13.2 -12.7h0M4.6 -31.5h0M25.8 -19.2h0M-25.3 -16.5h0M10.7 -1.8h0M-21 -7h0M17.2 7.9h0M-3 17.5h0M5.2 20.5h0M17.4 24.5h0M-7.3 -33.1h0M6.1 -33.1h0M0 17.1h0M2.9 22h0M-29.2 -15.9h0M-20.6 -19.8h0M-8.4 -28.3h0M18.8 10.7h0M-15.5 7.3h0M16 -16.8h0M-28 -14.5h0M-7.5 -34.3h0M-15.5 19.5h0M11.2 -23.5h0M5.1 31.6h0M14 -27h0M12.5 15h0M-7.3 .3h0M-13.8 14.2h0M4.4 23h0M19.1 17.5h0M-19.9 -27.4h0M1 2.3h0M-15.8 28.5h0M-27.3 27.5h0M-21.3 23.9h0M11.3 -24.8h0M20.4 -18.8h0M11.3 -12.5h0M19.7 -23.2h0M18.2 -34.5h0M-25.6 17.1h0M1.3 -5.1h0M8.6 4.8h0M-18.8 -10.2h0M-.5 -27.7h0M5.9 -1.1h0M25 9.6h0M1.8 -24h0M-9 22.5h0M35.6 .7h0M-33.7 -3.1h0M27.1 15h0M-8.5 28h0M13.3 -33.4h0M-13.9 -23.3h0M25.4 -14.2h0M-10.9 34.8h0M-17 2.9h0M3.1 5h0M-8.4 24.1h0M-18.4 26.1h0M-24 7.5h0M6.9 -17.5h0M-18.2 -31.6h0M12.9 4.5h0M30.5 4.4h0M11.2 -21.2h0M16.8 18.7h0M15.5 9h0M-2.9 4.3h0M-29.1 6.5h0M12.5 -17.6h0M-37.9 -8.6h0M19.8 1.3h0M-18 -26h0M-7.7 -16.1h0M-8.5 -27.2h0M-10.5 6.1h0M-5.4 5.3h0M9.2 -9.6h0M-31.5 .5h0M-26.2 -17.9h0M-26.1 10.4h0M-12.8 20.2h0M17.4 18.8h0M-28.9 3.3h0M9.7 18.1h0M13.2 9.1h0M29.3 -23.6h0M-10.1 -19h0M10.5 36.3h0M-22 -28.6h0M10.8 35.7h0M9.7 -4.9h0M-27.6 -.1h0M-26.5 9.3h0M-18.9 -9.5h0M-2 -15.9h0M1.9 -12.3h0M13.1 -29.7h0M-13.6 27.9h0M15.3 -30.8h0M13.2 1.1h0M8.4 -20.4h0M1.3 28.9h0M30.4 -20.8h0M-2.5 1.6h0M2.1 -.8h0M-15.7 9.6h0M1.9 23.3h0M7.9 -9.7h0M-29.7 18.4h0M-4.2 -17.5h0M21.6 2.3h0M-27.9 -24.9h0M-9.1 31.7h0M-13.6 -8.8h0M-36 8.1h0M35.1 -13.2h0M-25.6 -10.6h0M-26.4 19.1h0M-32.5 5h0M-28.3 -2.6h0M-11.6 -18.6h0M-17.2 28.5h0M2.7 37.4h0M-17.8 14.4h0M3.8 -6.7h0M23.1 14.8h0M37.2 7.5h0M16.8 -19.7h0M12.9 1h0M-15.6 26.5h0M31.9 15.2h0M31.9 3h0M29.2 -11.8h0M18.7 19.4h0M36.4 4.4h0M19.1 -21.6h0M25 28.2h0M11.7 36.1h0M34.7 -3.7h0M16.2 -30.9h0M-2.9 -25.2h0M-25.4 -21.9h0M5.3 11h0M7.4 -26.5h0M25.2 2.5h0M-2.8 16.2h0M-12.6 -23h0M1.5 2.5h0M-20 -11.2h0M11.4 -36.2h0M1.2 -30.4h0M9.9 21.5h0M-3.1 -21.8h0M-11.7 7.2h0M-10.5 17.1h0M24.8 -23.2h0" stroke="#eea020" stroke-width="3.3"/><path d="M-25 8.5h0M20.1 -8h0M-17.2 -6.6h0M17.1 9.4h0M-21 -23.6h0M-7.9 10.7h0M-7.7 23.7h0M20.1 -8.8h0M12.8 -30h0M-34.7 -3.1h0M-10.3 -5.3h0M-3.4 25.4h0M4.8 27.3h0M4.1 -.2h0M34.9 -1h0M20.2 21.1h0M1.5 3.5h0M6.9 2.3h0M18 -14.4h0M-1.7 -32.8h0M4.4 29h0M-3.7 15.2h0M3.2 -13.6h0M18.3 4.8h0M13.7 -15.5h0M-8.1 29.2h0M28.3 -19h0M-.2 -15.1h0M-6.1 -16.4h0M13.1 7h0M-7.8 6h0M-16.3 -10.3h0M5 13.9h0M-10 -19.7h0M-19.3 -28.1h0M29.5 -11h0M7.9 -3.7h0M8.9 -34.3h0M26.6 5.1h0M-.2 -30.9h0M24.7 5.8h0M-17.4 18.8h0M14.5 21.1h0M-10.4 -9.2h0M-17.7 -20.4h0M-29.6 -10.4h0M9.7 -11h0M21.4 -4.5h0M13.3 -8.6h0M22.9 -7.5h0M-29.3 10.2h0M7.7 -14.2h0M17.7 4.1h0M-14.5 4.2h0M13.2 7.2h0M16.8 -19h0M33.9 -5h0M-1.8 11.9h0M30 15h0M9.4 -26.1h0M-30.8 12.5h0M-4.5 -23.9h0M-25.3 17.1h0M-29 -6.6h0M-8.4 20h0M-14 24.4h0M-27.1 16.9h0M-25.5 -19h0M22.7 -17.6h0M7.9 -12.9h0M-24.1 -12.3h0M-20.2 -17.9h0M-16.1 24.1h0M-20.1 14.4h0M-25.3 -11.9h0M-.6 -20.2h0M-29.4 12.7h0M-2.9 14.5h0M24.8 -11.2h0M23.1 16.3h0M5.7 32.3h0M17.6 17.3h0M-30.4 -6.2h0M33.6 -10.4h0M-15.9 -10.6h0M3.5 -25.6h0M-22.2 -22.7h0M-4.9 -33.1h0M4.9 5.3h0M-28.1 -16.7h0M30 4.9h0M-3.7 7.7h0M-20.6 14.2h0M17.1 -22.4h0M-7.9 -1h0M15.6 -4.4h0M-11.9 18.8h0M-15.6 1.1h0M-4.2 .3h0M29.6 -5h0M0 4.1h0M-16.5 13.5h0M-32.1 -6.6h0M-5.7 -27.2h0M4.1 24.3h0M-2.4 -.9h0M-1.4 -13.2h0M27.9 0h0M8.6 32.4h0M17.4 15.1h0" stroke="#e8c02a" stroke-width="3.0"/><path d="M-21.2 -8.1h0M-31.1 -8.5h0M18 -21.4h0M-21.5 6.8h0M-36.4 -9h0M35.7 -3.3h0M17.7 27h0M29 6.2h0M-3.3 5.8h0M19.4 -4.4h0M-18.4 -12.5h0M-33.7 12.9h0M5.8 -15h0M21.5 3.9h0M-33.4 2.5h0M-6 -16h0M11.4 -33.1h0M28.3 8.4h0M25.7 -22.2h0M-4.3 30.8h0M-31.1 5.5h0M-6.1 -33.6h0M21.4 -33.1h0M-12.8 -11h0M-22.6 -5h0M-12.4 6h0M-21 3.3h0M-31.8 22.6h0M-33.2 -.6h0M-15.5 -9.7h0M16.3 4.4h0M27.2 -19.9h0M-7.7 -20.4h0M8.7 9.3h0M-9 -17.6h0M-31.3 8h0M6.8 5.5h0M8.7 25.6h0M-19.8 28.3h0M-15 -35.1h0M-29 -3.9h0M36.2 -12.7h0M.5 12.2h0M-14 32.5h0M7.8 -11.8h0M-37.7 3.1h0M-33.9 -17.7h0M-27.5 8.3h0M-24.4 -10.5h0M2.5 40.1h0M35.9 -13.1h0M30.8 8.3h0M22.1 16.1h0M-24.8 -13.8h0M-33.6 -.5h0M-8.1 -25h0M-10.1 34.4h0M-28.7 -17.5h0M8.1 27.7h0M-22.9 -21.1h0M15.1 8.7h0M-7.4 20.7h0M19.2 1.2h0M-26.4 -25.4h0M6.4 17.4h0M-9.9 -19.8h0M-32.3 17.7h0M32.2 4.7h0M-27 -19.3h0M-2 -30.6h0" stroke="#a4c030" stroke-width="3.0"/><path d="M-9.5 -19.5h0M-26.6 13.4h0M-7.4 -5h0M-8.5 26.4h0M-8.7 13.4h0M-1.5 -31.8h0M20.3 9.3h0M-4.8 7.8h0M8.6 -.8h0M-16.1 7.7h0M-10.4 -12.9h0M26 17.2h0M-5.4 -19.5h0M-33.2 -5.7h0M-.9 -25h0M3 1.8h0M-28.2 .7h0M-17 2h0M-22.1 -16.5h0M-25.9 -8.6h0M-5.4 15.6h0M8.1 17.8h0M31.2 .3h0M-12.3 -24.5h0M-14 -6.8h0M-17.2 -8.5h0M-19.4 22.2h0M9.3 22.5h0M-30 -2.8h0M-11.8 25.6h0M4.2 .9h0M26.8 3.1h0M11.4 2.9h0M9 -22.6h0M-10.9 -9.9h0M-26.7 -14.9h0M3.5 17.9h0M-2.2 20.6h0M2.8 -12.2h0M-16.8 -2.3h0M20.6 -7.9h0M-13.7 14.4h0M-10.5 -15.9h0M-15.8 26h0M-1.7 12.8h0" stroke="#e4661c" stroke-width="2.6"/><path d="M14.7 -39.4h0M10.7 5.1h0M20.4 32.8h0M-38.5 16.5h0M17.5 25.2h0M-25.5 -26h0M-23.1 10.3h0M-20.2 13h0M-35.5 -18.9h0M-9.4 -3.2h0M-10.5 21.6h0M-4.7 19.6h0M28.5 11.4h0M34.6 11.3h0M-18.3 31h0M-39.7 3.8h0M14.3 -20.6h0M9.1 -25.9h0M38.1 -1.2h0M-32.4 24.8h0M-2.9 16.9h0M-.4 -13.2h0M-26.9 10.8h0M-8.4 -35.5h0M21 16h0M-6.9 -32.1h0M36.2 14.8h0M8.5 35h0M-34 -12.6h0M-.3 40.5h0M.4 -30.6h0M4.4 -20.4h0M-32.4 22.2h0M39 .6h0M12.1 33.4h0M-11.8 -21.9h0M-32.6 -21.3h0M-25.6 -28.7h0M-7.9 25.3h0M35 -19.5h0M-7.8 6.3h0M-7.4 -38.2h0M1.2 33.9h0M-31.5 -21h0M-1.2 6.7h0M2.4 -17.5h0M-15.4 .8h0M-30.4 -23.6h0M-17.3 14.7h0M7.1 23.3h0M-29.1 26h0M16.4 4.3h0M25.3 -5.6h0M28.5 -11.3h0M13 9h0" stroke="#36240a" stroke-width="2.6"/><path d="M5.2 19.7h0M1.8 4.2h0M21.9 10.9h0M14.3 27h0M5.3 -1.5h0M-12.3 18.9h0M-2.8 18.1h0M-2.5 5.6h0M-6 3.8h0M7.3 -4h0M-10.6 -6.5h0M-21 -16.1h0M1.3 -3.3h0M20.9 -24.8h0M24.7 8.2h0M-3 1.4h0M14.4 20.2h0M10.6 11h0M9.4 -6.4h0M9.7 3.2h0M-7.5 -10.2h0M-17.1 -4.9h0M2.6 -20.8h0M-1.4 -1.9h0M27.4 6.9h0M25.1 3.2h0M23.8 -6.8h0M21 16.4h0M-24.7 11.3h0M7.9 -7.9h0M-22 15.6h0M5.5 -13.7h0M-10.7 4.3h0M-10.5 -10.4h0M-1.8 -10.5h0M4.7 27.1h0M-12.4 26h0M7.3 2.6h0M-23.4 19.2h0M15.9 -1.5h0M4.2 18.9h0M2.8 13.5h0M3.8 -29.4h0M17.4 -.5h0M6.6 13h0M20.6 11.3h0M-10.1 -7.6h0M-19.8 5.7h0M-2.1 -17h0M3.5 -6.8h0M-8.5 -7.5h0M15 -27.2h0M-10.1 26h0M-17.7 7.3h0M-19.2 5.6h0M6.4 1.5h0M12.4 16.9h0M-17.8 17h0M-20 10h0M17.9 -21.5h0" stroke="#ecdc3a" stroke-width="2.6"/></g>
<g transform="translate(791.0 421.3)"><path d="M33.7 0L33.7 3.3L34.3 6.8L31.8 9.6L31.1 12.9L29.6 15.8L28.4 19L26.9 22L24.3 24.3L22.1 26.9L19 28.4L16.2 30.4L13.5 32.5L10.3 34L7.3 36.8L3.6 36.8L0 36.2L-3.6 36.4L-6.8 34L-9.7 31.9L-13.2 31.8L-16.5 30.8L-19.3 28.9L-21.4 26.1L-23.3 23.3L-26.7 21.9L-28.3 18.9L-30.1 16.1L-32.1 13.3L-32.4 9.8L-34.6 6.9L-33.9 3.3L-34.9 0L-34.5 -3.4L-34 -6.8L-33.2 -10.1L-32.8 -13.6L-31.3 -16.7L-29.5 -19.7L-26.9 -22.1L-25.9 -25.9L-22.7 -27.7L-18.8 -28.2L-16.7 -31.3L-13.5 -32.5L-9.8 -32.4L-6.8 -34.1L-3.4 -34.4L0 -35.8L3.4 -34.9L6.6 -33.3L10.3 -33.9L13.4 -32.4L17.1 -32.1L19.5 -29.2L22.9 -27.9L24.9 -24.9L27.1 -22.3L29.1 -19.5L30 -16L31.7 -13.1L33.1 -10L34.1 -6.8L34.3 -3.4Z" fill="#3a190b"/><path d="M-32 -15.8L-37.8 -14.6L-37.5 -16.3M-5 35.9L-7.9 38.1L-6.3 38.8M-27.2 -24.5L-31.3 -26.2L-32.6 -25M-31.4 14.8L-37 15L-36.5 16.7M19.6 -31.1L18.2 -35.1L20 -34.7M-24.2 24.9L-24.4 30.5L-24.1 32.3M-5.2 35.8L-4 40.1L-5.8 40.2M-23.4 25.8L-28.7 27.5L-28.6 29.2M1.4 37.4L-2.6 41.4L-1 42.1M-3.4 -35.3L-.6 -38.2L-2.2 -39M10.8 -34.1L12 -39.6L13.8 -40M-27.4 -24.2L-30.8 -24.5L-30.4 -26.3M-1.8 36.9L.9 39.6L2.4 40.6M31.6 14.8L35.7 13.2L35 14.9M32.3 12.6L37.5 10.9L38.7 9.6M18.2 -31.8L21.1 -34.9L22.9 -34.6M-17.9 29.8L-22.3 32.7L-23.9 32" stroke="#562610" stroke-width="1.3" stroke-linejoin="round"/><path d="M-10.8 34.5h0M-12.5 33.4h0M11.9 -34.8h0M16 34.5h0M35.8 -11h0M12.1 37.3h0M31.8 -17.9h0M31.2 19.7h0M-36.5 -10.3h0M-12.6 -34.1h0M23.2 28.1h0M-25.6 27.4h0M36.1 -3h0M-38.5 2.3h0M13.3 35.5h0M-26.1 25.8h0M-16.5 -33.7h0M33.6 -16.4h0M-17.3 30.9h0M-36.2 4.7h0M7.9 37.6h0M-20.2 30.9h0M34.5 -12.5h0M8.7 38h0M21.2 32.3h0M-31.6 -23.8h0M26.4 -26.5h0M-16.3 -34.1h0M-24.1 29.1h0M14.9 35.1h0M3.1 -38.5h0M33.4 15.1h0M25.3 29.4h0M16.5 -33.5h0M9.1 -36.2h0M36.2 -5.5h0M29.3 -22.5h0M-35.1 11.7h0M32 -17.9h0M10 -37.2h0" stroke="#7d3a16" stroke-width="2.6"/><path d="M21.1 -5.2h0M8.2 -21.3h0M-8.7 29.6h0M28.3 .1h0M13.3 -14.3h0M-12.5 -28.6h0M21.3 27.1h0M-20.3 9.6h0M29.9 -4h0M3 34h0M10.4 -10.5h0M.6 -31.4h0M-4.9 33.3h0M20.2 -17h0M25.5 -10.9h0M-15.9 5.5h0M-21.5 23.9h0M-27.4 -16.8h0M-15.8 21.4h0M-8.7 6.6h0M3.6 4.5h0M-9.1 -13.6h0M-7.6 16.7h0M26.2 22.5h0M-4.6 -34.8h0M7.1 .2h0M-16.5 -21h0M-17.8 -22.6h0M11.4 13.6h0M7.4 32.1h0M1.8 -6.5h0M-21.9 26.2h0M-6.5 16.4h0M7 33.4h0M15.8 24.2h0M3.4 3.5h0M-28.5 8.9h0M-25 8.7h0M20.4 26.4h0M.1 21.4h0M25 6.3h0M-10.1 -4.1h0M13.2 12.9h0M-7.7 -4.7h0M-16 18.9h0M14.9 18.6h0M16.9 25.3h0M8.1 29.8h0M7.1 -26.1h0M-22.1 14.8h0M18.5 7.7h0M4.1 -.7h0M-3 14h0M19.1 .2h0M23.3 9.1h0M-21.3 14.3h0M-18 15.7h0M11.3 7.5h0M28.2 .5h0M-19.4 -19.9h0M4.8 -11.2h0M-15 -21.9h0M-24.2 10.7h0M18.1 19.8h0M-10.1 -25.4h0M5.3 3.8h0M26.3 3.7h0M16.3 -14.7h0M-20.9 16.8h0M19.5 -26.9h0M15.1 23.7h0M-31.9 -15.9h0M-16.7 -8.3h0M2.1 -32.8h0M23.4 -1h0M-2.3 -10.2h0M24.1 -6.5h0M-13.2 21.7h0M21.8 27.4h0M14.9 19.1h0M-8.3 -8.7h0M-19.7 -16.1h0M10.9 1h0M-.2 -18.9h0M8.1 14.5h0M1.7 -13h0M8.5 26h0M29.6 2.5h0M20.9 -28h0M22.5 4.7h0" stroke="#220e07" stroke-width="4.2"/><path d="M-18.9 -.4h0M12.2 -12.5h0M26.4 -15.6h0M-4.1 8.6h0M12.3 33.8h0M11.7 22.1h0M-7.1 -35.1h0M-5.3 2.8h0M-2.4 -34.1h0M19.9 -3.3h0M.9 -32.9h0M-24 -5.1h0M6.9 -33.7h0M11.1 25.4h0M-7 -2.3h0M-2 -1.8h0M-22.8 23.7h0M25.6 -7.1h0M-31.7 -16.9h0M-24.5 -4h0M-22.8 2.2h0M32.8 13.1h0M-17.9 -11.5h0M-25.8 -24.4h0M-26.4 -11.5h0M8.1 13.4h0M.8 -25h0M12.6 -10.2h0M25.1 8.9h0M-2.7 28.7h0M-16.6 -20h0M18.9 -21.4h0M20 -11.6h0M-20.7 -1.5h0M22.9 -27.4h0M10.1 9h0M-2.6 11.7h0M-27.8 -19.7h0M6.9 -25.8h0M-21.8 24.9h0M-24.6 10.5h0M8 -23.7h0M-11.1 30.6h0M15.2 13.9h0M25.8 -14h0M1.8 -14.1h0M5.3 -34.9h0M-30.7 9.3h0M-.4 -20.8h0M8.7 -29.6h0M-19.3 -1.2h0M-15 4.5h0M10.9 -26.2h0M8.4 12.3h0M13 -10.8h0M33.8 1.2h0M.3 0h0M9.7 -16.3h0M-33.2 -8.2h0M-21.7 5.4h0M-21.4 9.1h0M.9 14.7h0M-7.3 30.1h0M18.1 5.8h0M-13.9 -23.5h0M27.1 9h0M.4 -5.9h0M29.1 -5.3h0M25.2 10.2h0M-5.3 .2h0M16.9 -2.6h0M8.3 29.7h0M-.8 11.9h0M16.6 26.3h0M-9.5 -16.4h0M-13.3 -30.4h0M12.6 20.7h0M11.9 20.1h0M2.2 -28.6h0M29.6 12h0M5.7 -27h0M-23.1 -25.7h0M-2 13.8h0M.3 -6.6h0M16.6 -19h0M18.7 -9.1h0M-18 -8.8h0M25.3 -2.2h0M-9.9 34.5h0M21.6 -.1h0M-23.4 -6.9h0M-33 -12.7h0M-18.3 16.2h0M16.6 30.2h0M-13.4 18h0M31.3 -12h0M23.2 -6.2h0M-9.9 16.6h0M8.2 -13.5h0M6.4 -27.1h0M12.8 -31.4h0M-30.2 -18.6h0M17.6 -10.1h0M23.3 13.2h0M7.6 31.1h0M22.6 -13h0M-20.1 3.3h0M-17 -17.6h0M26.4 -13.2h0M26.6 20.2h0M-18.6 21.3h0M-14.3 10.6h0M6.6 -22.5h0M-19.8 24.6h0M10.6 23.6h0M-8.8 1.4h0M-20.9 28.6h0M21.1 -5h0M11 8h0M-.7 -26.5h0M-30.2 -17.6h0M-2.7 -22.6h0M-22.8 -22.8h0M10.5 -23.1h0M18.7 2h0M14 4.3h0M12 -24.2h0M-13.8 7.7h0M1 -19h0M-31.2 -18.5h0M3.1 3.2h0M-27 -1.1h0M-6.5 -9.6h0M1.3 11.7h0M19.8 15.9h0M.4 -32.5h0M10.9 -.7h0M23.1 18.4h0M-31.8 -10.4h0M6.1 22.8h0M15.5 -10.9h0M-5 8.4h0M-10.9 24.4h0M-21.6 3.1h0M-17.4 19.8h0M17 -3h0M-2.8 -36h0M-12.2 9.5h0M-23.1 25h0M23.5 -4.1h0M-24.4 6.2h0M15.6 31.7h0M-6.3 -25.5h0M-23.4 12.1h0M-17.6 13.8h0M-13.8 12.7h0M14 -18.2h0M19.1 26.3h0M-16.4 -13h0M19.8 19h0M-.7 14.8h0M-7.9 -33.7h0M-14.3 -4.7h0M-8.2 -14.5h0M11.9 9.6h0M-32.4 -8.2h0M-28.8 6.2h0M-20.7 11.1h0M-33.5 -1h0M20.3 9.3h0M5.9 1.4h0M27.2 23.1h0M-17.9 2.7h0M-7.3 -13.6h0M-21.5 4.6h0M-33.1 5.3h0M-31.9 .6h0M27.7 15.6h0M11.2 7.5h0M8.9 9h0" stroke="#562610" stroke-width="3.8"/><path d="M9.6 -33.8h0M15.6 33.3h0M-16.7 7.8h0M18.9 -21.5h0M25.4 8.2h0M-18.7 -22.2h0M-17.8 -3.5h0M16 -19.8h0M-9.7 25.5h0M11.7 -23.8h0M-3.4 -22h0M-6.8 -2.8h0M.9 -18.7h0M10.6 -18.8h0M1.3 -5.5h0M-31.5 3.5h0M7.7 -32.6h0M-10 -3.6h0M34 -5h0M23.7 22.2h0M-8.7 5.2h0M-29.8 4.8h0M6.5 -35.6h0M25.3 8.3h0M-.4 -28.9h0M-13.1 -9.1h0M-8.8 -2.1h0M-21.2 6.7h0M-3 -24.5h0M31.3 .7h0M-26.3 5.8h0M3.2 -20.1h0M-6.6 -17.9h0M-12.1 -23.1h0M-24.4 -23.7h0M-23.5 -21.4h0M9.1 -33.5h0M-22.8 15.1h0M-22.7 -2.9h0M-30.7 -16.7h0M11 27.1h0M31.3 11.1h0M-23.4 -23h0M6.3 -9.3h0M-20.3 21.1h0M-30.8 -16.8h0M5.1 -31.8h0M10.1 -34.7h0M-8.1 19.2h0M-17.2 20.9h0M-17.7 13.4h0M-1.5 -16.1h0M27.4 -13.9h0M-20.1 -.3h0M-16.6 18.8h0M-29.4 -10.4h0M-7.6 -24.6h0M-5 -32.8h0M.3 -18h0M18.2 25.9h0M-4.1 -.7h0M20.3 -19h0M-11.1 1.8h0M24 20h0M-16.8 31.1h0M-6.2 -25.3h0M19.7 -28h0M16.7 -21.9h0M-9.4 -27.9h0M-4.7 -16.8h0M-1.9 12.3h0M-6.7 3.9h0M-25.4 19.4h0M15.8 19.6h0M-30.7 -4.7h0M12.8 -29h0M16.5 -28.7h0M-3.7 -10.8h0M-22.9 -13.5h0M20.7 27h0M24.7 -16h0M5.9 2.7h0M12.4 -33.1h0M-22.5 14.1h0M6.1 5.3h0M12.6 -7.6h0M-17.1 -29.4h0M-2.5 -3.2h0M-5.2 5h0M25.3 -19.3h0M14.5 2.8h0M-27.4 16.2h0M14.5 -24.2h0M10.3 19.9h0M9.9 -6.6h0M-7.2 -24.1h0M25.3 -7.5h0M12.5 34.5h0M-7.6 -.7h0M18.3 12.7h0M17.9 .3h0M12.2 29h0M20.9 -23.2h0M21.1 -30h0M12.4 -24.4h0M-32.4 4.9h0M11.8 13.9h0M-5.4 -33h0M12.6 -6h0M20.1 27.5h0M9 4.2h0M-.6 -3h0M18.9 3.3h0M10.8 -13.6h0M-1.1 -1h0M-19.5 19.6h0M27.5 7.6h0M-14.1 -27.3h0M-3.9 -20.6h0M8.5 -35h0M15 -11.6h0M-6.5 -6.4h0M-.7 24.8h0M6 3.7h0M18 -28h0M-4.7 -.6h0M-21.4 -.5h0M-7.8 -22.2h0M-12.2 -28.5h0M-30.3 -16h0M25.2 -22.9h0M13.8 -31h0M-12.2 -22.1h0M-1 30.4h0M8.4 -24.6h0M6.6 -29.4h0M-21.5 22.4h0M1.8 -15.1h0M13 9.3h0M-12.2 8.2h0M2 -14h0M10.6 -4.5h0M-21 -12h0M-30.2 13.1h0M.6 9.7h0M-10 -32.7h0M25.7 17.1h0M5.4 38h0M-28.3 -20.5h0M-1.3 -30.2h0" stroke="#7d3a16" stroke-width="3.2"/><path d="M23.5 -8.4h0M16.7 -18.1h0M17.5 7.1h0M-32.2 13.3h0M11.2 24.1h0M3.5 10.9h0M-19.8 11.6h0M-19.3 23h0M-4.8 8.2h0M28.1 -21h0M-14.5 -17.5h0M14.6 -7.7h0M11.8 4.9h0M-19.7 23.9h0M9.2 -12.5h0M22 -20.1h0M-.5 9h0M2.6 10.1h0M29.1 -3.8h0M-24.2 25.3h0M28.3 7h0M-5.1 -6.5h0M1.1 -14.5h0M-29.7 -20.2h0M9 17.4h0M31.9 -4.9h0M-12.6 19.4h0M11.2 17.3h0M-25.9 -.2h0M-16.3 16.2h0M.4 20.2h0M.3 -4.7h0M-22 -2.9h0M17.1 -26.8h0M4.7 -6.6h0M-.8 -22.8h0M22.8 9.4h0M-15.6 21.8h0M-28.4 17.5h0M-3.7 27.2h0M14.8 -31.8h0M16.6 -16.6h0M-1.9 26.1h0M9.7 27.7h0M-12.8 -9.8h0M26.4 -17.6h0M-7.6 15.2h0M-29.7 -11.2h0M-17.1 23.6h0M18 -29.7h0M-11.4 14.7h0M-4.3 -8.1h0M1.1 -30.5h0M25.5 .1h0M12.5 29.2h0M15.1 2.6h0M26.6 -6.6h0M14.3 -21.4h0M-3 1.2h0M-2.7 29.6h0" stroke="#220e07" stroke-width="2.8"/><path d="M-9.3 -13.3h0M-8.3 -1.8h0M-14.6 -2.8h0M-1.7 -27.5h0M-14.2 25.5h0M11.5 33.7h0M13.8 -17.3h0M27.8 -4.9h0M3.7 21.2h0M-26 5.1h0M-32.7 .4h0M30.3 5.6h0M-.3 15.5h0M-7.4 13.4h0M-.8 3.6h0M10.7 -2.9h0M-31.7 12.3h0M10.5 -17.4h0M15.4 6.6h0M-4.4 28.8h0M-17.7 3.6h0M12.5 33.1h0M-10.7 -31.9h0M-31.5 -9.6h0M-1.5 -.5h0M2.1 36.1h0M.4 -8.4h0M-6.2 -26.1h0M27 16.2h0M27.5 -14.4h0M-4.3 -5.7h0M31.1 10.6h0M-1.4 1.2h0M21.9 -13.7h0M-13.2 3.6h0M15.6 16.7h0M31.4 14.2h0M-34 -9.3h0M-14.6 -13.9h0M-10.8 -33.2h0M28.2 2.6h0M22.7 -.6h0M-21.5 21.7h0M18.9 7.9h0M-14.6 25.9h0M26.5 -19.1h0M19.4 -7.2h0M22.9 -10.7h0M-33.7 10.8h0M27.4 -15.8h0M-11.9 -19.2h0M14.1 -10.8h0M18.8 8h0M-13.4 -22.5h0M15.7 -13h0M29.1 -3.9h0M18 -16.8h0M-27.8 -13.3h0M-6 32.7h0M-5.2 -28.2h0M.6 .3h0M-8.7 -13.2h0M34.2 -1.3h0M20.5 -14.5h0M-25.4 -8.8h0M23.2 -9.5h0M11.4 7.1h0M2.4 10.3h0M-16.6 28.3h0M-24.1 -12.5h0M20.4 11.3h0M15.2 4.1h0M-20.4 -19.6h0M3.3 -21.4h0M.7 4.1h0M-10.4 -13.3h0M-14 -32.4h0M-28.6 9.1h0M-2.4 17.4h0M17.4 -19.7h0M-26.6 -15.1h0M14.6 -11.9h0M-26.9 -17.3h0M27.7 -3.5h0M-6.7 7.5h0M-13.2 -2.2h0M-2.4 19.2h0M-21.9 -2h0M-14.4 -7.9h0M-12 -31.1h0" stroke="#a54b1f" stroke-width="2.4"/><path d="M16.1 21.2h0M-8.3 -15.1h0M-27.1 -9.6h0M10.4 8.1h0M12.6 1.8h0M3.2 -4.9h0M-7.8 10.4h0M8.9 -22.2h0M-6 -20.1h0M-14.6 5.5h0M15 18.4h0M2.7 -1.7h0M-17.6 -13.4h0M7.8 10.8h0M17.7 -3.8h0M23.9 -6.3h0M-2.9 28.9h0M2.2 19.2h0M27.6 5.9h0M-9.2 -2.2h0M-12.8 -2.7h0M27.4 3.7h0M-19.4 6.6h0M.3 -28.6h0M-7 -5.9h0M-.8 29.6h0M-6 -9h0M-4.6 6.7h0M-24.8 7.3h0M-11.2 24h0M-15.4 -8h0M-27 8h0M.8 -17h0M6.6 -21.8h0M12.2 15.2h0" stroke="#bb6824" stroke-width="2.2"/><path d="M-10.9 -3.1h0M-7.6 -23.2h0M-22.6 -12.6h0M-19 -23.7h0M-15.6 -10.1h0M-23.8 25.6h0M-13.3 18.3h0M-22.5 22.5h0M-25.5 5.9h0M-21.1 -3.3h0M-17.4 15.3h0M-9.6 9.3h0M-28.7 19.5h0M-15.3 -30.5h0M-18.2 -25.5h0M-29.8 3.2h0M-27 21.7h0M-26.3 14.2h0M-16.1 2.9h0M-32.6 -.9h0M-25.9 -20.6h0M-15.3 -15.7h0M-20.2 24.3h0M-19 -30.1h0M-26.2 7.5h0M-19.5 2.4h0M-20.3 -10.4h0M-19.7 -20.1h0M-14.5 -.4h0M-28.9 16.4h0M-33.1 -.3h0M-26.9 -16.3h0M-15.3 18.3h0M-10.7 -7.8h0M-26.2 13.4h0M-10.8 25.5h0M-19.9 -20.8h0M-26.6 -18.2h0M-34.7 2.2h0M-27.2 -18.4h0M-32.4 -16.4h0M-26.7 7.7h0M-33.1 4.3h0M-14.9 28.2h0M-35.1 -1.4h0M-25 -17.8h0M-18.7 26.7h0M-7 9.8h0M-18.8 19.7h0M-24 -10.7h0M-11.8 33.2h0M-11.3 -3.2h0M-17.2 24.8h0M-33.9 10.5h0M-23.4 11.7h0M-14.3 29.1h0M-26.5 -24.5h0M-15.7 .2h0M-18.7 -7.5h0M-15.4 -28.1h0M-18.1 .5h0M-35.3 6.4h0M-26.1 -21.5h0M-14.2 25.9h0M-7.8 16.5h0M-24.4 21.9h0M-22.8 -12.7h0M-26.9 17.2h0M-30.8 -9.2h0M-21.3 -28.1h0M-24.1 -5.1h0M-17.9 -5.6h0M-24.6 13.3h0M-30.8 -16.2h0M-18.6 3.2h0M-31.3 -2.8h0M-28.3 17h0M-25 21.2h0M-21.4 17.6h0M-32.6 -13.3h0M-34.4 -7.4h0M-19.4 25.7h0M-28.5 17.8h0M-31.2 0h0M-22.5 -5.4h0M-22 -12.8h0M-9 22.2h0M-9.5 -30.7h0M-13.6 28h0M-26.2 9.9h0M-14.8 -.6h0M-26.8 -22.2h0M-29.3 9.6h0M-18.2 -14.3h0M-23.9 -2.4h0M-28.7 -2.4h0M-12.9 32.1h0M-28 -19.8h0M-19.2 21.6h0M-31.4 7h0M-25.2 18h0M-14.8 31.4h0M-33.2 -10.3h0M-20.1 -12h0M-16.7 -18.2h0M-19.8 -11h0M-35 3.8h0M-5.5 20h0M-27.5 7.3h0M-34.6 -3h0" stroke="#405824" stroke-width="3.0"/><path d="M-25.3 1.7h0M-12.7 31.3h0M-24.4 16.7h0M-19.8 -15h0M-18.4 3.6h0M-16.4 11.4h0M-9.1 27.1h0M-28 -17.6h0M-25.7 5.6h0M-18.8 .5h0M-31.4 -13.5h0M-17.7 -17.5h0M-13.3 29.5h0M-30.4 -2.9h0M-31 1.8h0M-21.2 -29.6h0M-17.2 -27.1h0M-26.8 -24.2h0M-8.3 -32.4h0M-27.4 -10.9h0M-22.9 24.3h0M-24.5 24h0M-21.1 -1.8h0M-29 -6.3h0M-21.9 15.5h0M-26.8 9h0M-19.4 -6.6h0M-27.7 9.9h0" stroke="#657328" stroke-width="2.4"/></g>
<g transform="translate(555.1 531.2)"><path d="M37.1 0L37.2 3.7L36 7.2L36.9 11.2L36.2 15L33.8 18.1L32.3 21.6L29 23.8L26.7 26.7L23.8 28.9L21.1 31.5L17.7 33.2L14.7 35.5L10.8 35.5L7.2 36.1L3.5 35.5L0 34.9L-3.4 34.7L-7 35.4L-10.6 35L-14.4 34.9L-18.3 34.3L-20.7 31.1L-23.4 28.5L-26.3 26.3L-28.7 23.6L-31.3 20.9L-32.7 17.5L-35.2 14.6L-34.4 10.4L-36.1 7.2L-37.4 3.7L-35.4 0L-36.3 -3.6L-37.2 -7.4L-35.3 -10.7L-34.5 -14.3L-33.8 -18.1L-30.7 -20.5L-29.8 -24.4L-26.4 -26.4L-23.9 -29.2L-20.1 -30.1L-17.3 -32.4L-14.9 -35.9L-11.2 -36.8L-7.7 -38.8L-3.8 -38.9L0 -37.5L3.7 -37.7L7.3 -36.8L10.8 -35.6L13.7 -33.2L17.5 -32.8L20.3 -30.3L22.1 -26.9L24.2 -24.2L27.6 -22.7L30.4 -20.3L32 -17.1L34.5 -14.3L36.7 -11.1L38.2 -7.6L37.4 -3.7Z" fill="#423810"/><path d="M22.2 31.4L23.3 34.3L24.9 33.4M-37.3 -3L-42.5 -5.3L-43.7 -4M38.5 -4.4L41 -6L41.2 -7.8M-21.4 -31.4L-25.5 -32.8L-26.9 -31.7M35.5 16.6L40.7 15.1L42 14M-15.8 -35.5L-18.1 -38.6L-16.6 -39.6M-14.7 -36.2L-12.4 -40.2L-14 -41M27.5 27.3L29.1 33.6L30.7 32.9M24.8 -26L24.7 -31.5L26.5 -31.5M24.1 -26.7L25.8 -30.5L24.6 -31.7M11.4 36.3L13 41.3L11.4 42.1M9.6 36.6L10.4 41.7L8.7 42.1M-3.6 36.2L-1.9 39.4L-.2 40M28 26.8L32.8 28.3L34 27M10.7 -36.1L14.5 -39.4L16.3 -39.1M22.4 31.2L28.8 32.7L30.5 32.1M35.7 -14L39.2 -12.4L39.4 -14.2M38.5 -1.5L43.6 1.3L44.5 2.8M-27.6 -26.2L-31.9 -29L-31.7 -30.8M-16.1 -35.4L-19.3 -39.5L-21.1 -39.1M17.1 34.4L17.7 40.5L16.3 41.5M-35.6 -15.8L-40.1 -17.6L-40.7 -19.3M-12.2 -37.3L-16.2 -40.5L-14.5 -41.2M-37.3 -.1L-42.6 -2.5L-43.7 -3.9M-7.7 36L-8.9 38.6L-10.7 38.2M-36.2 -13.9L-41 -16.5L-41.8 -14.9M-10 -38L-15 -41.2L-14 -42.7M37.8 6.7L41.9 6.3L42.4 8M-30.4 -23.6L-32.5 -27L-34.2 -26.5M24.9 29.4L30.8 29.9L32.6 29.5" stroke="#766418" stroke-width="1.3" stroke-linejoin="round"/><path d="M39.6 -14.4h0M-36.6 20.8h0M22.4 -30.2h0M-2.3 37.9h0M-26 -31.8h0M40.4 10.4h0M22.3 -30.5h0M26.7 -29.3h0M-22.8 -36h0M-38.6 11.3h0M-5.1 37.5h0M-31.6 -25.5h0M-37.3 13.7h0M-23.5 33.2h0M17.3 37h0M-20.6 36.5h0M-4 -42.1h0M-23.9 33.6h0M-10.2 -40.8h0M-41.4 -10h0M36.8 17.7h0M-.7 39.2h0M10.5 40.7h0M-37.7 -17.4h0M36 17.7h0M19.6 38.1h0M-28.3 31.8h0M-40.3 4.6h0M-10.1 -42.7h0M-36.8 18.8h0M-31.8 -25.2h0M40.6 7.1h0M4.2 39.8h0M-36.9 -15.3h0M23.5 -29.5h0M40 5.4h0M-15.8 38h0M39.9 -4.5h0M-14 39.8h0M10.6 -38.1h0M-15.5 38.7h0M-1.2 38.2h0M1.3 40.3h0M-20.7 -35.1h0M20.9 34.7h0M-4.2 -39.6h0M-34.6 -22.9h0M12.9 39h0M-26.3 -33.2h0M19.6 -35.3h0M-24.5 -32h0M-38.3 15h0M-4 38.8h0M-30.5 28.2h0M-36.2 21.5h0M40.6 14.2h0" stroke="#a0861c" stroke-width="2.6"/><path d="M-1.9 6.6h0M-9.6 -3.4h0M9.5 -37h0M-21.8 -7.9h0M-17.1 -12.8h0M-7.1 18.9h0M11 26.1h0M11.1 -22.1h0M8.5 29.9h0M12.4 -25.3h0M31.3 24.4h0M-28.5 8.8h0M-.5 17.3h0M-18.6 34.4h0M-32.2 -3.4h0M0 19.2h0M11.5 28.6h0M29.1 16.1h0M2.6 26.1h0M-7.5 7.9h0M-20.9 1.9h0M-6.4 22.4h0M3.5 -6.3h0M-22.2 -8.9h0M6.1 35.7h0M32.9 -10.7h0M-17.5 -2.9h0M-17.4 19.2h0M-12.4 11h0M-6.8 -36.3h0M2.2 11.5h0M-21.6 .8h0M-17 6h0M7.7 -12.5h0M29.8 25.2h0M7 22.4h0M-7.3 16.5h0M23.7 -22h0M20.5 -8.9h0M-24 2.3h0M16 -14.8h0M-25.2 -6.6h0M-17.3 -6.3h0M-1.5 -23.4h0M31.2 18.7h0M-33.2 .5h0M-16.5 -16.5h0M-20.4 -12.4h0M-14.1 -13.9h0M-8.4 6.2h0M-5.3 -37.5h0M-1.7 15.8h0M16.5 -21.6h0M-34.2 17.7h0M-27.3 9.8h0M24.8 -12h0M23.8 -12.8h0M33.3 17.3h0M-16.9 -21.1h0M-6.1 -27.9h0" stroke="#261e08" stroke-width="4.2"/><path d="M-10.5 31.7h0M38.7 .6h0M23.8 -21.4h0M-23 -26.2h0M-3.5 -31.7h0M-19.8 17.8h0M-5.8 10.1h0M20.4 12.6h0M-4.9 -26.5h0M3.6 -.5h0M19.4 19.3h0M-17.8 -30.3h0M32.4 17.8h0M35.8 .5h0M-4.8 -1.9h0M9.3 -36.4h0M-6.9 28.2h0M21.9 -14.8h0M-7.7 15.9h0M-5.7 21h0M-5.9 -6.6h0M-17 15.8h0M.5 21.5h0M-3.9 -39.2h0M-3.6 -1.6h0M14.1 29.9h0M37.2 -4.6h0M8 7.3h0M1.5 24.4h0M14.6 31.5h0M25.6 17.3h0M12.2 .5h0M5.6 -6.6h0M13.5 -13.4h0M19.3 -14.3h0M5.9 31.7h0M33.6 -8.8h0M28.4 6.4h0M-1.8 -18.8h0M13.7 9h0M-19.2 14.6h0M-20.5 -1.2h0M-16.3 -12.3h0M-14.7 -32.6h0M-14 -27h0M-3.2 16.3h0M19.9 -25.9h0M-25.9 8h0M24 -16.8h0M-6.7 -4.9h0M31 -18h0M17.6 -3.7h0M21.4 -11.4h0M-12.3 2.1h0M1.8 33h0M15.5 -13.9h0M28.5 10h0M-3.9 -21.2h0M-9.2 3.8h0M-20.9 -13.4h0M-4.6 29.7h0M9.2 -11.9h0M-15.8 -14.4h0M-6.6 20.5h0M-6.5 22.9h0M5 8.9h0M-29.8 -20.9h0M12.1 -7.6h0M-28.8 -19.6h0M34.9 -10.5h0M1.9 -35.6h0M6.8 -33.9h0M12.4 .1h0M-1.1 8.6h0M33.2 7h0M-10 18.8h0M8 -15.6h0M-15.6 -14.9h0M-23.5 -27.3h0M-25.3 -2.7h0M32.6 9.2h0M2.7 22.8h0M2.4 29.4h0M3 8h0M8.5 -1.4h0M26.4 26h0M11.1 -4.4h0M2.5 -14.1h0M3.9 30.5h0M36.3 10.3h0M14.1 -33.5h0M-25.9 10.1h0M6.7 -32.9h0M-14.2 5.3h0M-17.6 3h0M-17.8 19.2h0M32 -7h0M-27.4 -4h0M20.1 19.5h0M-3 -13.9h0M9.9 -29.8h0M24.4 25.3h0M-19.9 -11.9h0M20.3 -8.9h0M-4.9 12h0M13.1 15.7h0M18.5 7.1h0M-16.6 -1.4h0M17 28.5h0M31.7 .4h0M10.1 -22.8h0M3.7 25h0M-13.4 33.2h0M1.5 -20.6h0M17 -33.8h0M18.6 27.3h0M35.9 -3.4h0M-7.8 25.5h0M-9.9 -22.2h0M3.8 -25.6h0M-.8 15.8h0M-15.1 35.3h0M5.1 -9.2h0M20.4 25h0M-27 2.8h0M-6.2 -8.8h0M-31.9 -12.7h0M-16.3 1.7h0M5.6 -25.9h0M7.9 13h0M16.5 -21.2h0M30.6 .5h0M18.8 -30.1h0M28.9 -4.1h0M-8.3 -32.9h0M3.6 -2.3h0M-27.1 18.6h0M-1.5 29.9h0M11.2 -9.4h0M-17.2 8h0M33.7 14.8h0M1.5 13.7h0M21.1 18.1h0M21.3 -22.5h0M3.1 -35.6h0M-8.5 -38h0M7.7 -29.8h0M38 1.8h0M35.5 3h0M-5 13.1h0M12.5 27.9h0M29 19.4h0M-34.7 4.4h0M-14.3 -28.5h0M3.1 -23.4h0M28.4 -9.5h0M-26.4 -13.9h0M18.6 -28.4h0M-15.7 21.2h0M-27.6 24.3h0M37.8 -.3h0M20.8 -22.1h0M4.8 -23h0M25.4 -7.8h0M14.3 19.8h0M-32.8 11.2h0M36.4 .3h0M-20.4 33.5h0M3.8 6.8h0M4.9 -19.9h0M16.8 -11.5h0M14.6 34.5h0M.4 32.9h0M4.6 30h0M3.8 -24.9h0M-7 -34.6h0M-.3 -15.3h0M8.3 6.3h0M2.4 30.5h0M2.3 7.4h0M-11.8 11.5h0M-16.1 .2h0M23.4 15.3h0M-31.2 12h0M-5.7 15.9h0M-33 -13.6h0M21 -6.2h0M-28.8 -2.3h0M25.9 21.8h0M21.9 9.1h0M15.7 2.6h0M11.3 -35.8h0M-13.8 30.7h0M-3.7 30h0M-12 -31.8h0M14.2 33.6h0M28.2 -10.6h0M-31.8 21.5h0M-22.3 27.5h0M-31.5 -19h0" stroke="#766418" stroke-width="4.2"/><path d="M-3.9 2.7h0M-27.7 19.6h0M2.4 -28.3h0M6.3 29.7h0M8.3 -27.6h0M-22 -.1h0M-15.1 4.1h0M-12.7 -5.2h0M32.4 -14.9h0M23.7 7h0M28.3 21.2h0M-7.2 28.1h0M-.3 -14.4h0M1.9 -.6h0M-32.5 -5.4h0M-16.6 -33.4h0M.5 26h0M-18.4 -28.8h0M-25.1 -20.7h0M19.5 14.3h0M13.9 -12.7h0M25.5 -1.3h0M18.8 -8.7h0M-30.7 19.2h0M-8.6 3.1h0M-19.7 -12h0M-13.5 19.3h0M16.8 -31.3h0M16 -21.2h0M7.2 -31.5h0M-20.3 -8.2h0M-13.8 27.5h0M20.1 -24.8h0M16.4 -5.7h0M9.4 27.2h0M31.8 -1.7h0M14.4 12.1h0M-1.6 30.9h0M-19 27.2h0M-8.1 -12.4h0M-29.5 -22.2h0M20.8 19.5h0M-13.3 -33.7h0M16.4 2.6h0M-18.2 4.8h0M9.8 -1h0M17.1 16.6h0M2.2 -4.3h0M-12.9 -33.6h0M-14.6 -14.5h0M23.3 -17.6h0M12.4 -29.2h0M20.8 -13.7h0M-2.4 21.9h0M13 25.5h0M-7.7 16h0M29.9 -2.3h0M-35.3 -6.9h0M7.6 -22.6h0M-18.3 -16.7h0M22.1 -7.2h0M-9.9 27.7h0M-21.2 31.1h0M23.9 15.7h0M-7.2 10.2h0M-2.3 24.8h0M15.5 33.6h0M33 7.2h0M36.8 -5h0M21 -15.3h0M9.6 -9.1h0M-2.4 -28.6h0M-19.2 30.8h0M-6.2 -23.8h0M17.2 -6.2h0M36.2 -8.1h0M-30.8 -18.2h0M-19.7 -3h0M10.3 .9h0M8.4 26.1h0M-19.8 -6.9h0M-11.5 -13.1h0M-31.7 -13.8h0M27.9 24.8h0M35.3 -1.6h0M4.7 -29.3h0M18.3 -5.5h0M-15.8 11.3h0M24.5 -24.4h0M3 17.6h0M11 -17.3h0M-5.8 -9.7h0M-6.4 26.7h0M19.9 12.4h0M-35.6 8.3h0M-2.9 28.2h0M12.5 13.6h0M-21.8 -19.1h0M-32.7 -9.4h0M33.3 7.9h0M-14.7 30.3h0M-19.8 4.7h0M-6.3 22.1h0M-7.6 6.1h0M19.7 -18.3h0M-20.1 32.2h0M25.2 4.1h0M26 -4.1h0M-15.2 -30.6h0M-6.6 -5.9h0M8 26.3h0M-15.4 -14.4h0M-11.6 -5.9h0M-22.1 7.2h0M-7.9 -19.3h0M27.9 10.5h0M4.2 36.3h0M-1.5 -29.8h0M-15.7 19.4h0M6.9 33h0M-19.2 7.4h0M-6.9 12.4h0M-8.9 12.3h0M-26.4 -26h0M8.8 8.9h0M-13.6 24.6h0M26 -12.9h0M7.4 -10.5h0M-32 13.1h0M14.1 -12.5h0M-21 -16.2h0M19.2 5.5h0M-25.1 6.3h0M2.9 -3h0M-1.6 -30.2h0M33.8 -15.4h0M12.2 11.5h0M-11.8 34.1h0M10.1 -34h0M-17.9 31.4h0M22.1 -9.3h0M-13 3.1h0M2 8h0M37.4 -5.8h0M-25.5 9.1h0M-28.7 -1.5h0M-4.7 16.1h0M-4.7 17.6h0M-15.9 10.2h0M28.6 23.4h0M20.5 -4h0M0 -18.2h0M-16.4 12.4h0M7.1 -8.5h0M-27.4 2.5h0M3.4 -3.3h0M6.6 16h0M31.6 18.5h0M-10.2 34.3h0M-.1 -18.5h0M-12 11.4h0M28.6 2.5h0M3.8 22.9h0M8 7.5h0M14.2 -.8h0M-12.2 -18.9h0M-12.1 32.8h0M10.6 9.2h0M-10.7 16.1h0M-10.5 -9.2h0M-13.6 -12.7h0M32.8 -16.9h0M-30.4 -.2h0M19.6 24.6h0M34.5 -4.1h0M-36.6 5.8h0M28 -18h0M-7.9 23.4h0M-30.6 2.6h0M15.7 -27h0" stroke="#a0861c" stroke-width="3.8"/><path d="M25.2 13.5h0M-31.7 -4h0M6.5 8.1h0M17.2 23.9h0M6.2 -35.2h0M-5.6 19.9h0M6.2 -32.8h0M-2.7 16.9h0M11 -6.1h0M-23.4 -28.1h0M35.5 2h0M-17.9 -20.7h0M-11.2 28h0M-10.7 21.3h0M6.7 11.3h0M9.5 -15.5h0M35.2 1.5h0M9.6 -35.6h0M26 11.6h0M-33.7 13.7h0M-2 -12h0M-37.4 4.1h0M10.9 27h0M-21.3 4.6h0M-3.9 -28h0M17.7 -27h0M33.9 -7.4h0M-36.2 7.8h0M-5.6 -37.8h0M31.9 -1.6h0M-6.1 9.1h0M36 4.6h0M-14.6 18h0M-25 14.7h0M6.4 -26.5h0M17.2 6.8h0M18.9 -5.3h0M-11.1 33.5h0M-19.3 -21.1h0M-29.9 -2.4h0M-.8 -1.2h0M-13.7 11.3h0M-4.2 -15.9h0M22.8 -25.5h0M-35.4 -12.8h0M-33.5 9.9h0M-32.7 12h0M5.4 -24.3h0M-13.6 8.9h0M-35.7 -1.5h0" stroke="#261e08" stroke-width="3.0"/><path d="M-21.1 -1.8h0M-1.7 -22.2h0M7.1 -4.9h0M-2.2 -20.1h0M11.7 -5.2h0M-7.5 1.1h0M25.7 -20.8h0M14.7 -11.9h0M26.6 -16.6h0M17.6 17.6h0M-16.7 32.2h0M.6 -14.8h0M2.8 -21.9h0M23.7 4.6h0M-12.8 -5.3h0M-.9 0h0M-13 -4.6h0M-8.9 14.4h0M12.5 -22.3h0M30.6 -4.6h0M-33.3 -6.8h0M31.9 11.7h0M-23.9 21.4h0M26.5 15.7h0M1.3 34.2h0M3.6 -26.8h0M20.4 8.8h0M12 27.9h0M20.1 19h0M-.8 2.5h0M19.9 26.2h0M27.6 17.9h0M-3.6 19.6h0M31.1 -5.9h0M24.2 -.4h0M-24.9 1.1h0M-.2 4.8h0M-9 -9h0M7.9 11.2h0M1.3 34.1h0M-15.9 -8.6h0M-2.3 14h0M7.5 2.5h0M27.9 -5.1h0M-19.7 -11.8h0M3.1 18.6h0M4 -3.9h0M-12.5 28.7h0M-23.5 -16.5h0M-6.3 -31.8h0M12.7 -5.7h0M4 16.7h0M19 -8.9h0M-21.5 18.4h0M18.9 29.2h0M-8.1 17.8h0M13.3 -7.4h0M32.7 -6.3h0M9.7 8.3h0M-13.8 27.2h0M19.1 19.7h0M-6.1 19.4h0M-1.3 3h0M-2.7 -5.8h0M.1 31.7h0M-24.7 24.6h0M22.6 22.1h0M13.9 .1h0M-27.5 7.7h0M-8.1 -8.2h0M32.6 4.3h0M11.4 -4.5h0M3.8 16.5h0M.6 -2.5h0M-6.3 26.2h0M-2.7 15.5h0M-14.1 -28h0M-14.7 16.5h0M-23 19.2h0M-4.8 -6.1h0M13.8 32.7h0M8.3 -19.5h0M28.2 -6.4h0M-6.1 .4h0M18.6 26h0M-6.2 24.1h0M-18.7 7.1h0M.7 28.6h0M7.7 29.6h0M11.3 -24.1h0M29.1 -19h0M-13.1 .2h0M-4.1 -16.6h0M25 -4.4h0M-1.4 17.7h0M25.9 -20.7h0M-.6 -20.9h0M23.6 21.3h0M2.1 -7.3h0M-11.9 -12.6h0M-20.5 17.5h0M4.1 -27.4h0M-34.8 6.8h0M28.4 5h0M-6.4 -35.5h0M-20.4 27.4h0M-13 23.7h0M-23 -11.3h0M-29.1 -7.9h0M2.3 -32.8h0M11.4 -2.4h0M-31.6 6.9h0M11.8 -30.5h0M35.1 -7.1h0M30.2 21h0M-15.8 29.5h0M-20.6 -1h0M-13 -18.2h0M-17.5 -9.9h0M11.9 1.4h0M28.2 12.9h0M13.9 -19h0M10.4 -8.8h0M9.3 21.5h0M28.2 -2.1h0M5.3 20.6h0M-29.4 -13.3h0M7.4 20.7h0M-9.7 30.6h0M18.1 20.7h0M-7.8 -30.7h0M10.1 -4.9h0M-8.8 -6.1h0M17.9 -21.8h0M-8.3 16.5h0M35.3 8.7h0M7.1 -22h0M-31.2 5.1h0M-1.3 -3.1h0M-15.1 11.9h0M-4.6 20.7h0M16.5 30.5h0M-10.4 23.8h0M-13.5 -3.6h0M-13.4 -22.8h0M-5.8 3.5h0M-3.1 -27.5h0M3.4 -6.8h0M16.1 -4.4h0M1.3 21.5h0M-10 -2.8h0M5.1 1.1h0M-7.5 13h0M30 8.2h0M-27.1 3.9h0M-9.1 29.2h0M-4.6 -23h0M27.2 16.9h0M-22.8 2.5h0M-8.5 -14.8h0" stroke="#c4a622" stroke-width="3.3"/><path d="M16.5 4.7h0M1.1 -10.2h0M1.1 -19.5h0M10.1 22h0M-19.7 -24.3h0M.1 29.1h0M16.2 10.2h0M-1 5.2h0M20.8 -.4h0M-14.5 14.5h0M1.3 -10.2h0M-18.9 4.4h0M-28.1 .2h0M-.5 -1h0M.1 29.1h0M-1.4 -13.1h0M21.2 13.7h0M-3.6 -1.4h0M-11.2 13h0M-22.5 14.1h0M.2 23.8h0M15 25.7h0M20.3 15h0M20.9 -15.4h0M-8.8 22.1h0M-5.9 27.1h0M-3 -1.3h0M-12.5 -23.7h0M.6 29.8h0M-8.1 10.7h0M5.1 -6h0M12.5 -13.6h0M7.2 -4.2h0M-.2 -28.5h0M-1.9 8h0M-2.3 -10.2h0M6.8 -15.4h0M7.8 9.1h0M-6.1 -25.1h0M2.5 2h0M-1.5 -18.7h0M3.4 -9.2h0M-20.1 -.3h0M5.1 -27.4h0M21.3 5.3h0M-1.2 12h0M27.9 -13.3h0M9.4 30.4h0M8.6 -2.6h0M23 -1.5h0M16.9 -16.2h0M-21.3 14.7h0M-30.5 -7.7h0M9 16.2h0M13.7 11.6h0M-3.5 -33.2h0M-17.7 -4.3h0M2.1 9.4h0M18 .6h0M16.4 28.4h0M17 7.5h0M16.6 -3.2h0M13 -23.3h0M13.7 28.4h0M10 28.8h0M-5.1 -22.8h0M-28 -.8h0M-12.1 29.2h0M-20.1 11.3h0M-.1 6.6h0M-3.1 -3.9h0M-14.5 22.9h0M16.5 -4.3h0M-24.8 -18.1h0M12.6 1.1h0M-13.2 22.1h0M0 26.5h0M-6.6 7.6h0M-11.2 22.4h0M23 5.2h0M-28.8 -13.5h0M19.9 9.1h0M3.4 1.4h0M-19 -2.9h0M-2.7 24.3h0M3.3 26.4h0M-13.9 10.7h0M2.1 19.7h0M14.1 -11.6h0M3 7h0M-14.4 19.2h0M4.2 -3.5h0M-11.8 -3.8h0M.5 -12.6h0M19.2 8.2h0M.2 -2.3h0M.4 25.6h0M-30.8 -8h0M-14.5 27h0M8.6 8.1h0M9.1 -11.7h0M13.6 .8h0M-23.7 -7.5h0M-21.1 -12.1h0M13.4 28.5h0M12 7.1h0M0 -4.6h0M14.7 -2.2h0M-20.1 -17.3h0M-27.6 -2.3h0" stroke="#dc8c20" stroke-width="3.0"/><path d="M12.3 -17.8h0M-31.7 -17.7h0M4.4 -22.5h0M14.6 34.5h0M3.4 -20.3h0M24.3 -11h0M2.1 -12.3h0M-18.2 -3.2h0M-1.3 13.8h0M10.1 33.8h0M-.5 11.6h0M14.4 23.6h0M3.2 -3.5h0M-14.1 -6.4h0M-1.1 20.8h0M13.4 -6.2h0M-21 23.3h0M-14.6 -17.3h0M16.6 -24.4h0M-25.1 -19.3h0M-10.9 34.2h0M-15.2 32h0M-18.6 -10.4h0M34 -15.5h0M34.8 17.1h0M10.3 -30.1h0M-15.3 -29.2h0M-3.6 21.6h0M33.9 -5.1h0M8.6 -21.5h0M36.4 3.2h0M1.1 -14.4h0M3.5 -26.1h0M25.6 -10.7h0M-35.4 -1.2h0M21.6 -7.3h0M-4.2 -3.4h0M-5.2 -19.4h0M6.5 23.3h0M-31.1 -14h0M-2.9 -7.1h0M.6 17h0M24.2 13.8h0M-2.1 35.7h0M-31.6 20.3h0M-10.4 20h0M-17.6 33.7h0M-29.7 11.8h0M-2.7 34.9h0M-32.6 8.2h0M1.2 -6.1h0M35.2 4h0M-23.3 -5.4h0M-28.2 -15.6h0M-15.8 17.3h0M14.7 26.3h0M-19 21.5h0M10.8 -25.2h0M-5.8 -37.7h0M34 -9h0M-.1 -11.4h0M-23.7 -24.9h0M-29.4 -13.6h0M-33.8 -7.9h0M25 -4.1h0M23.9 -18.8h0M21.6 23.2h0M34.2 18.7h0M-20.8 24.1h0M-14.5 -5.4h0M-11.8 4.4h0M29.3 7.6h0M-27.5 -8.1h0M-16.9 -7h0M-16.4 13.1h0M13.3 -22.7h0M-10.8 24.5h0M-15.1 -20.1h0M-34.9 14.4h0M19.9 -17.9h0" stroke="#82902a" stroke-width="3.2"/><path d="M-24.4 -4h0M21.8 22.6h0M-7.1 18.2h0M-9.6 7.6h0M-3.5 -2.6h0M-19.9 15.4h0M9.8 6.8h0M.8 23.8h0M-23.2 -19.2h0M-.1 .3h0M1.6 -5.5h0M4.7 2.9h0M.9 11.4h0M-8.3 -19h0M-8.8 -16.2h0M-22.5 -9h0M-16.5 5.7h0M-2.2 .6h0M15.1 -15h0M-21 -13.1h0M-9.3 18.3h0M-24.9 -6.9h0M18.2 -22.5h0M8.3 -7.5h0M11.7 -.4h0M-17.2 18.8h0M-3.9 8.9h0M5.9 7.1h0" stroke="#d05a1a" stroke-width="2.2"/><path d="M-10.1 -13.6h0M10.6 6.1h0M27.5 1.3h0M6 -6.9h0M7.7 21.5h0M-12 3.7h0M-12.5 -11.5h0M-13.7 -17h0M-25.2 -.2h0M-4.2 -29.2h0M1.6 4.9h0M34.9 -15.5h0M-30.2 19.4h0M-2.1 .7h0M-15.2 -22.9h0M12.3 1.9h0M3.4 23.8h0M-30.1 -5.6h0M17.9 -15.3h0M30 8.7h0M11.3 22h0M-30.9 20.3h0M-5.5 -11.6h0M21.5 9.7h0M-13.6 -30.7h0M3.4 16.7h0M-18.1 29.4h0M-20.4 1h0M14.4 18.3h0M-24.4 29.9h0M36.8 -2.5h0M-25 -15.3h0M34.9 -4.6h0M-23.2 -20.1h0M23 -12.7h0M15.2 -12.9h0M-2.4 13.1h0M24.8 7.7h0M7 7h0M22.5 9.1h0M-19.2 19.6h0M7.8 -27.3h0M-1.7 -6.9h0M10.1 5.8h0M19 -24.3h0M-10.8 -11.6h0M-16.7 -4.9h0M-23.4 27.3h0M8.2 -6.1h0M-13.2 19.3h0M-1.1 .3h0M26.6 8.5h0M14.8 23.1h0M-9 -28.2h0M-35.5 -14h0" stroke="#261e08" stroke-width="2.6"/><path d="M8.4 3.7h0M.5 19.2h0M12.3 6.8h0M22 -2.6h0M-3.4 -.1h0M-22.2 14.6h0M4.1 9.5h0M-3.4 11h0M-1.7 -8.5h0M-4.1 .7h0M23.3 -12.7h0M23.5 -12h0M-15.4 9h0M-3.7 -12.7h0M-.5 -13.1h0M-1.9 -2.5h0M1.5 .7h0M-9.1 13.4h0M6.5 21h0M-.5 2.8h0M27.5 -9.7h0M19.2 -3.6h0M-10.2 8.5h0M10.8 -11.2h0M18.9 20.2h0M-4 3.1h0M11.7 20.8h0M-.5 3.1h0M14.8 1.4h0M-12.8 -18.7h0M8.6 -2.5h0M3.8 -25.1h0M-22.5 4.3h0M8.8 26.5h0M7.2 -1.5h0M-20.6 -15.9h0M17.9 -14h0M-21 -2.9h0M23.5 -15.6h0M-14.3 16.5h0M20.8 -17.5h0M6.7 .6h0M-17.8 -.9h0M7.4 22.6h0M6 18.5h0M-1.6 2h0M-.7 6.3h0M4.3 -7.8h0M20.4 12.2h0M-9.3 5.5h0M-22.6 -19.1h0M1.5 -4.2h0M9.9 3.6h0M-8.3 -12.7h0M4.5 -4.1h0M3.9 5.4h0M1.8 -28.9h0M13.8 9.1h0M13.6 9.3h0M26.8 10.6h0" stroke="#e0d034" stroke-width="2.6"/></g>
<g transform="translate(674.4 528.0)"><path d="M33.8 0L33.5 3.3L31.1 6.2L31.4 9.5L29.3 12.1L28.9 15.5L26.4 17.7L25.3 20.8L22.1 22.1L19.7 24.1L18 26.9L15 28L11.8 28.4L9.1 29.9L6 30.3L3.2 32.1L0 31.7L-3.2 32.4L-6.2 31.3L-9.4 31.1L-12.7 30.6L-16.2 30.3L-18.8 28.2L-21.3 26L-23.4 23.4L-25.5 20.9L-27.6 18.4L-28.6 15.3L-29.6 12.3L-31.1 9.4L-32 6.4L-32.6 3.2L-32.1 0L-32 -3.2L-31.6 -6.3L-31.3 -9.5L-30.2 -12.5L-28.7 -15.4L-26.9 -18L-25.6 -21L-22.7 -22.7L-20.5 -24.9L-17.3 -25.8L-14.5 -27.1L-12.3 -29.8L-9.3 -30.6L-6.4 -32.2L-3.3 -33.1L0 -32.4L3.2 -32.8L6.4 -32.3L9 -29.6L12.2 -29.5L14.5 -27.2L18 -26.9L19.9 -24.2L22.9 -22.9L25.3 -20.8L27.3 -18.2L28.6 -15.3L30.6 -12.7L31.5 -9.6L32.3 -6.4L32.9 -3.2Z" fill="#180704"/><path d="M26.6 19.3L28.7 22.3L28.2 24M34.2 -1.2L37.8 -2.6L38.9 -1.1M25.7 -20.8L29.7 -21.3L31.3 -20.4M22.7 -23.9L26.5 -26.8L25.4 -28.2M-30.8 11.2L-36.2 13L-36.5 14.8M32.9 -9.4L35.2 -11.4L36.7 -10.5M-33 2.4L-38.4 5.5L-38.5 7.3M15.8 -28.2L21.8 -31.4L23.5 -30.9M-19.9 -25.5L-20.1 -30.2L-19.5 -32M-23.9 -22.4L-26.6 -26.4L-25.6 -28M11.6 -30L12.7 -33.1L14.5 -32.8" stroke="#4a140b" stroke-width="1.3" stroke-linejoin="round"/><path d="M22.2 24.9h0M34.9 -.5h0M25.9 23.3h0M-29.3 20h0M-34.5 2.7h0M-12.6 -32.9h0M15.7 29.7h0M30.6 15.8h0M29.6 -18.2h0M-21.2 -26h0M30.6 -17.4h0M34.9 5h0M-33.7 -3.3h0M-32.6 10.3h0M-25.5 27.3h0M35.5 -8.2h0M34.4 -11.5h0M-31.9 -13.1h0M-24.8 -24.6h0M19.6 28.4h0M14.7 29.1h0M.6 -35.9h0M28.3 18.3h0M31 -18.1h0M35.1 .2h0M29.1 18.6h0M15.1 29.9h0M-3.3 33.9h0M-7.9 32.6h0M-5.6 34.3h0M22.4 -26.6h0M-33.2 11.2h0M10.6 30.7h0M.4 34.5h0" stroke="#4a140b" stroke-width="2.6"/><path d="M-21.6 1.8h0M-5.4 -.6h0M-23.5 8.4h0M-7.8 -20.2h0M-19.4 8.2h0M8.7 16.3h0M-2.3 -4.2h0M25.4 1.9h0M11.2 -8.7h0M3.8 16.6h0M-15.3 -15.1h0M11 15.7h0M4.6 -13h0M.4 15.3h0M-15.2 .3h0M-1.9 11.7h0M-16.1 19.8h0M3.1 -17h0M-5.3 1.2h0M-6.5 11.5h0M-14.1 13.6h0M19 -11.3h0M4.1 8.3h0M-10.7 -20.7h0M-4.7 -23.1h0M11.2 -23.1h0M3.2 -.2h0M-3.9 .8h0M1.6 -5.2h0M5.1 -2.6h0M-24.8 -10.1h0M-20.9 .4h0M-8.7 -9h0M-15.1 10.7h0M17.2 14.7h0M-10.9 -11.8h0M13.7 -2.4h0M3.2 -8.7h0M16.8 17.9h0M-15.4 -2.3h0M18.8 -4.2h0M-.1 6.3h0M-2.4 -6.1h0M-13.1 -5.6h0M1.4 3.9h0M-16 -7.4h0M13 4.6h0M-1.8 -.2h0M-25.2 4h0M-15.3 -2h0M12.5 3.6h0M-5 -6h0M9.2 .9h0M-7.3 -10.3h0M11.9 -13h0M-12.6 24.6h0M-2.9 19.8h0M17.7 12.6h0M12.5 -16.5h0M-.3 -16.3h0M-5.7 .6h0M-5 -16.7h0M20.5 0h0M20.2 -3.5h0M-2.3 -4.4h0M-26.5 5.7h0M-19.4 -12.5h0M-12.8 16h0M11.2 17.1h0M17.9 19.4h0M3.1 5.5h0M-5.8 -10.4h0M-11.8 -9.5h0M14.8 8.5h0M6.1 4.9h0M-5 -1.1h0M7.3 5.5h0M5 -10.9h0M-4.3 -27.1h0M-17.8 8.2h0M11.6 -6.6h0M-21.5 -10.4h0M7.9 -6h0M-9.6 -17h0M-13.9 1.3h0M23.1 10h0M10.1 -19.4h0M5.1 4.1h0M9.5 21.2h0M-5.5 .6h0" stroke="#0f0403" stroke-width="4.2"/><path d="M-21.1 -10h0M-16.9 -18.5h0M4 -4.7h0M-6.7 12.8h0M-4.9 -23.1h0M13.5 18h0M11.8 -20.7h0M13 -1.9h0M23 6.5h0M7.6 -4.1h0M5.9 -31.3h0M.1 -33.7h0M13.9 -4.9h0M-1 28.3h0M-8.7 -4.5h0M4 23.2h0M8.2 14.5h0M15 24.7h0M-30.3 9.3h0M-17.3 6.4h0M10.1 -8.3h0M8.1 31.3h0M-3.2 16.3h0M28.4 3.2h0M23 -6.8h0M-19.4 15.1h0M-23.7 4.1h0M17 17.6h0M6.3 1.9h0M33.1 3.8h0M-3.6 27h0M-14.7 5.9h0M3.6 5.3h0M21.8 13h0M-29.9 10h0M-14.1 -19.7h0M-14.1 4.6h0M-1.9 7.6h0M-15.9 20.4h0M10.3 23.5h0M17.1 22.2h0M27.2 8.8h0M-.7 -13.9h0M25.3 -19.6h0M13.8 7.4h0M28.2 -2h0M16.5 -2.9h0M-16.1 28.2h0M-14.7 16h0M19.1 -23.9h0M15.7 -6h0M21.8 -15.3h0M7.1 23.6h0M20.5 -19.6h0M6.6 27h0M7.3 14.7h0M12.3 .2h0M1.9 8.6h0M4.4 -18.2h0M-28.8 9.6h0M-19.5 7.2h0M-25.2 -6.4h0M-6.9 4.9h0M5.3 20.6h0M21.3 21.6h0M-25.7 9.2h0M-20.3 19.1h0M-6.6 22.3h0M22.1 -6.9h0M-13 -9.9h0M-21.1 15.4h0M4 27.1h0M-19.8 6.6h0M19 -21.6h0M-16.4 5.2h0M15.1 -20.7h0M14 -17.2h0M22.1 1.9h0M5.1 30h0M-7.1 9h0M3 13.2h0M-28 -11.3h0M6.6 -21.3h0M-6.7 11.7h0M22.8 -3.3h0M31.2 8.1h0M-8 16.5h0M14.9 19.2h0M3.3 .8h0M-3.7 -34.1h0M1.9 6.5h0M-12.6 2.2h0M-3.1 3.8h0M30.2 -4h0M-11.4 9.5h0M14.5 -8.4h0M3.9 31.9h0M-2.5 1.4h0M-4.4 -28.2h0M-29.8 -11.6h0M-4.4 2.7h0M-7.7 4.4h0M8.9 27.7h0M12 4.1h0M-2.6 18.3h0M-22.8 22.1h0M-8.2 -6.7h0M22.8 1.2h0M1.1 -26.2h0M-22.4 -11.3h0M24.1 -8.3h0M-30.8 7h0M-14.4 -16.1h0M-2.4 -26h0M18.4 4.5h0M3.1 19.5h0M-8 8.7h0M-18.8 -16.5h0M-10 -31.3h0M-20.9 3.6h0M22.8 -.3h0M.7 -26.7h0M-6.1 -27.6h0M12.9 26h0M-5.2 29.7h0M27.2 0h0M-11 -16.7h0M-28.4 -13.2h0M-25.6 -7h0M-5.6 -.5h0M19.8 25.4h0M-13.7 8.6h0M-9.8 14.6h0M-1.1 18.3h0M18.1 -5.1h0M-28.3 11.6h0M6.8 10h0M-9.9 5h0M28.1 12h0M-27.6 3.3h0M-4.2 26.3h0M8.5 12.1h0M14.4 -22h0M-21.2 9.4h0M6.2 19.2h0M.3 -33.4h0M-20 17.7h0M-9.3 4.4h0M-13.6 11.3h0M-24.8 -6h0M9.6 -1.4h0M27.7 -1h0M.4 -16.4h0M12.9 17.9h0M25.1 -7.5h0M-13.9 -27.4h0M3 -17.4h0M5.9 -1.6h0M-1.2 -13.9h0M-4.6 -2.1h0M-15.7 3.2h0M28 -16.5h0M-32.8 -5.6h0M10.5 -15.6h0M-8.5 -12h0M-17.1 4.4h0M12.7 20h0M-21.1 7.7h0M-18.3 -11.8h0M-26.2 7.5h0" stroke="#330c07" stroke-width="3.4"/><path d="M5.6 -26.1h0M10.1 -21.9h0M-15.3 -24h0M3.2 -21.6h0M23.3 -2.9h0M4.3 -30.7h0M-10.9 -21.1h0M-14.3 -26.6h0M13.3 -8.2h0M-3.5 -13.8h0M-1.2 -6.9h0M-16.2 -18.9h0M-4.4 -30.3h0M29 -7.1h0M-10.3 -8.6h0M-9.4 -9.7h0M-22.7 -17.8h0M29.1 -9.3h0M28.6 -15.9h0M11.3 -26.5h0M13.1 -21.2h0M4.3 -31.7h0M-5.8 -22.7h0M7.4 -31.8h0M-20.8 -21.5h0M12.1 -16.3h0M7 -24.5h0M-22.8 -12.6h0M-5.8 -14.9h0M-3.8 -23.6h0M23.8 -22.1h0M-25.6 -11.2h0M.4 -8.7h0M-16.4 -26.7h0M-11.9 -23.6h0M19.2 -21.6h0M10.8 -24.6h0M10.4 -11h0M-.3 -17.6h0M-.5 -22.8h0M16.5 -5.7h0M-21.1 -13h0M-10.7 -21.1h0M6.7 -11.1h0M-6.1 -26.3h0M-.9 -13.7h0M-12.9 -16.4h0M-14.3 -16.8h0M21.1 -21h0M-15 -26h0M21.9 -15.2h0M12.2 -7.9h0M-1.9 -31.5h0M14.1 -25.7h0M-15.6 -25.9h0M-21.4 -13.1h0M-15.1 -16.2h0M9.6 -25.5h0M-5.9 -20.9h0M13.1 -16h0M-20.5 -7.5h0M13.6 -24.5h0M-7.3 -11.5h0M2.2 -17.2h0M13.4 -11.6h0M19.6 -9.9h0M-7.9 -7.2h0M2.5 -24.5h0M-25.9 -9.9h0M-14.2 -11.5h0M13.1 -16.7h0M2.6 -32.4h0M9 -11.4h0M14.7 -6h0M-2.8 -30.7h0M-8.8 -8.8h0M-12.1 -27.3h0M-15.5 -18h0M-13.6 -15.8h0M-24.6 -18h0M29.7 -5.6h0M-5.2 -22.7h0M22.3 -20.5h0M-10.7 -31.4h0M-21.6 -22.8h0M19.4 -23.2h0M17.5 -13h0M28.7 -12.4h0M-23.2 -15.2h0M26.5 -8.6h0M-9.6 -23.9h0M22.8 -7.8h0M-10.7 -14.3h0M8.6 -25.1h0M-22.9 -8.4h0M.5 -31.1h0M9.9 -14.1h0M19.6 -19.6h0M-4.8 -8.5h0M15.4 -15.5h0M-15.4 -21.7h0M6.9 -27.9h0M-31.4 -8.6h0M-30 -13.8h0M9.4 -25.6h0M-7.3 -30.8h0M-15 -13.9h0M-18.6 -17.3h0M19.1 -23.8h0M8.2 -31.3h0M-6.2 -11.7h0M-10.5 -13.9h0M-12 -29.7h0M23.4 -13.4h0M-23.9 -12.5h0M20.4 -23.8h0M-.3 -27.7h0M10.5 -2.9h0M-2.8 -8.2h0M-7.8 -25.6h0M15.4 -26h0M-27.4 -15.7h0M12.1 -15.6h0M29.7 -12.9h0M-2.4 -28.1h0M-10 -18.9h0M9.1 -26.9h0M7.7 -23.9h0M-13.7 -12.4h0M12.5 -29.3h0" stroke="#59150c" stroke-width="2.8"/><path d="M-15.1 3.8h0M-10.9 -9.6h0M-21.9 25h0M-18.4 29.5h0M-25.5 5.3h0M-23.6 -15.9h0M-24.1 18.2h0M-28.8 -15.6h0M-23.2 -15.1h0M-6 -20.6h0M-24.1 8.1h0M-17.9 10.9h0M-31.1 2.7h0M-23.3 4.5h0M-26 -6.3h0M-15.1 12.7h0M-19.2 5.5h0M-23.8 -6.1h0M-30.1 3.9h0M-16.9 4.6h0M-17.4 26.6h0M-13.3 -16.1h0M-7.6 25.7h0M-19.5 -16.7h0M-24.5 4.8h0M-18.8 28.5h0M-15.5 -24.2h0M-28.7 .8h0M-25.3 16.4h0M-26.2 18.5h0M-25.6 -14.8h0M-15.4 14.5h0M-31.4 -4.8h0M-20.8 -11.2h0M-14.7 -21.9h0M-9.7 -11.9h0M-16.7 -16.2h0M-24.6 -13.3h0M-14.1 -7.7h0M-26.6 -15.9h0M-23.1 -23.6h0M-17.3 -24.6h0M-26.7 18.3h0M-24.2 -8h0M-9.8 12.6h0M-21 2h0M-26.1 21.8h0M-19.9 8.8h0M-25.7 4.8h0M-30.6 7.6h0M-30.1 -12.3h0M-20.6 -19.3h0M-29.9 7.8h0M-24.9 4.5h0M-21.6 -15.7h0M-21.2 26.4h0M-20.4 -19.5h0M-32.5 3.3h0M-30.2 -11.4h0M-29.2 -4.9h0" stroke="#50130a" stroke-width="2.6"/><path d="M-26.5 -19.1h0M-9.1 -28.3h0M-30.4 -10.1h0M-27.4 -15.3h0M6.8 -30.6h0M-20.6 -6.7h0M-17.9 -19.5h0M26.1 -19h0M17.7 -20.5h0M10.6 -26.1h0M6.7 -25.7h0M-1.9 -25h0M12.8 -25.7h0M-12.3 -21.6h0M5.2 -16.2h0M-1.1 -28.4h0M-4.4 -19h0M16.4 -8.8h0M-12.6 -24.5h0M3.6 -30.1h0M-15.6 -18h0M28.3 -12.2h0M-11 -24.1h0M-7.8 -17.5h0M18.5 -26h0M-12.1 -14.9h0M26.1 -5.9h0M-10.1 -27.2h0M-14.4 -26.8h0M14.4 -22.2h0M-22 -6.1h0M-12.1 -30.4h0M9.7 -17h0M10.4 -10h0M-11.3 -24.9h0M-10.7 -20.8h0M6.9 -21h0M-20.9 -24h0M5.1 -31.9h0M-21 -15.6h0M9.5 -22.3h0M-24.1 -15.3h0M16.1 -17.1h0M-17.5 -18h0M7.2 -22.7h0M-3 -33.5h0M6.8 -17.1h0M9.7 -25h0M7.3 -19.9h0M-20.8 -24.8h0M12.4 -11.5h0M29.9 -2.4h0M-.9 -22.4h0M22.4 -19h0M4.7 -31.6h0M-1.9 -28.1h0M9.6 -23.1h0M5.4 -16.6h0M9.2 -20.6h0M22.2 -12.3h0M15 -19.7h0M-15.8 -20.3h0M-13.9 -18.5h0M6.9 -17h0M9.9 -20.9h0M20.1 -20.1h0M-6.6 -30.3h0M28.1 -16.8h0M12.7 -25.7h0M4 -29.4h0M23.6 -23.4h0M-15.8 -27.4h0M-12.2 -11h0M-15.2 -25.3h0M-19.1 -15.6h0M5 -17.1h0M-22.1 -21.7h0M-9.7 -20.7h0M21.5 -16.9h0M-7.8 -30h0M-25.8 -13h0M-13.2 -12h0M33.5 -2.7h0M-18.6 -17.4h0M21 -15.1h0M-19.2 -24.5h0M4.7 -9.9h0M10.2 -4.3h0M-12.5 -25.6h0M10.1 -8.8h0M-17.3 -13.5h0M-11.7 -19.2h0M-14.9 -16.8h0M22.1 -7.2h0M-17.3 -24.7h0M-24.2 -15.9h0M3.9 -10.4h0M1.3 -23.1h0M4.9 -12.8h0M9 -25.4h0M-5.2 -25.1h0M7.3 -24.2h0M15.4 -14.9h0M-28.9 -11.3h0M16.3 -17.7h0M-26.5 -17.5h0M22.3 -17.7h0M22 -15.1h0M-27.7 -6.4h0M.3 -31.1h0M-4.3 -14.3h0M25.6 -13.9h0M9.8 -27.5h0M21.9 -24h0M-24.4 -9.8h0M-9.5 -31.7h0M16.3 -23.8h0M25 -12.7h0M2.9 -19.2h0M-16.3 -26.9h0M-18.5 -17.3h0M-3 -19.9h0M-14.6 -19.3h0M-.6 -22.4h0M-25.7 -8.1h0M5.9 -11.5h0M-22.2 -22.9h0M-3.4 -20.7h0M1.1 -21.4h0M24.6 -20.3h0" stroke="#9a2a15" stroke-width="1.8"/><path d="M19.6 6.4h0M-6.5 6.2h0M5.6 27.4h0M-12.2 1.6h0M-27.1 16.6h0M28.9 10.2h0M11.3 -.2h0M10.6 14.3h0M15.8 20.6h0M20.5 -2.4h0M-26 2.8h0M31.1 -5.3h0M-29.4 -1.5h0M-13 -21.3h0M-21.7 3.6h0M-20.1 -9.9h0M7.4 19.4h0M7.1 20.1h0M2.4 23.5h0M-5.9 -20.9h0M31 9.2h0M5 0h0M4.4 31.6h0M-7.3 -4.7h0M-19.9 -8.7h0M-27.2 9.3h0M2.7 -33.6h0M4.2 2.7h0M-18.2 -6.1h0M4.5 24.5h0M17.4 22.2h0M-14.4 -24.3h0M8.4 -17.9h0M26.3 11.7h0M6.3 3.6h0M-32.2 -6.1h0M-2.9 -32.2h0M-2.6 -8.8h0M-1.7 17.2h0M3.9 9.6h0M22 18.4h0M16.4 -24.5h0M-24.3 22.3h0M-12.8 -18h0M7 7.6h0M-4 27.3h0M24 -14.3h0M-25.2 2.8h0M12 10.2h0M1.2 -1.1h0M33.4 4.8h0M-16.4 25.5h0M-6.1 8.5h0M16.8 -28.3h0M25.1 -12.1h0M-6.5 -12.9h0M-.8 -17.1h0M14.1 -17.5h0M14.8 12.5h0M-28.1 10.8h0M-8.2 29.9h0M-26.3 -15.7h0M-3.8 3.7h0M-11 -5.1h0M3.6 8h0M-12.3 -27.8h0M18.6 23.2h0M-19.7 -20.5h0M28.5 -15.8h0M-7 24.3h0M-14.8 3.5h0M-5.7 22.4h0M-20.4 -12.5h0M18.8 -20.8h0M-5.1 -2.5h0M17.7 8.4h0M12 -6.7h0M16.7 13.8h0M25.3 -8.4h0M15.8 9.9h0M-8.8 3.8h0M-24.5 -21.5h0M5.3 8.6h0M17.2 .3h0M-.2 31.7h0M14.1 27.2h0M14.4 -14.3h0M19.8 14.5h0M3.7 8.3h0M-24.9 16.3h0M-3.4 12.6h0M-29.1 -10.8h0M-13.7 -10.9h0M-22.7 22.4h0M-18.9 27.1h0M-26.6 5.6h0M-8 20.3h0M26.7 1.4h0M4.8 9h0M.5 27.7h0M22.2 -7.3h0M10.2 -4.9h0M-12.3 -2.6h0M-15.2 12h0M-21.5 27.7h0M33.3 -1.8h0M-19.3 14.8h0M3.6 29.8h0M-16.6 25.2h0M14.1 -6.6h0" stroke="#791c0e" stroke-width="1.5"/><path d="M-15.3 -.8h0M11.5 -13.3h0M-14.4 -15.8h0M21.6 -19.1h0M-8.4 -29.5h0M20.3 -19.6h0M3 -19.2h0M-25.8 -13.5h0" stroke="#b08c23" stroke-width="2.2"/><path d="M1.7 -4.9h0M28.8 8h0M-24 -18.6h0M12.9 -5.4h0M-11.6 -22.8h0M-4.7 21.8h0M15.4 -.8h0M7.6 6.1h0M1.3 8.4h0M.6 27.2h0" stroke="#b75d24" stroke-width="2.0"/></g>
<g transform="translate(786.2 522.1)"><path d="M33.8 0L33.6 3.3L32.4 6.5L31.2 9.5L30.7 12.7L29.6 15.8L27.9 18.6L26.7 21.9L24.5 24.5L21.8 26.5L19.1 28.6L16.9 31.6L13.4 32.4L10.1 33.3L7 35.1L3.4 34.7L0 35.4L-3.4 35L-6.7 33.9L-10.1 33.3L-14 33.8L-16.5 30.8L-19.5 29.2L-22.5 27.4L-24.5 24.5L-25.7 21.1L-28.5 19.1L-31 16.6L-31.5 13L-34.3 10.4L-34.1 6.8L-34.8 3.4L-35.6 0L-35.6 -3.5L-34.7 -6.9L-33.7 -10.2L-33.3 -13.8L-29.9 -16L-27.8 -18.6L-26 -21.3L-24 -24L-21.4 -26.1L-19.1 -28.6L-16 -30L-13.3 -32.1L-10 -32.9L-6.9 -34.9L-3.5 -35.7L0 -35.2L3.5 -35.6L7 -35.3L10.2 -33.5L13.6 -32.7L16.9 -31.5L20.4 -30.6L22.2 -27L25.4 -25.4L26.9 -22L29.4 -19.7L32.3 -17.3L33.7 -13.9L34 -10.3L34.2 -6.8L33.6 -3.3Z" fill="#0a0403"/><path d="M6.5 35.4L4.3 39.7L2.7 40.6M29 -21.8L30.4 -25.9L30 -27.7M-9.4 35L-11.3 38.3L-13 38.7M-35.5 -4.1L-39.9 -8.3L-40.7 -9.9M-3 35.5L-4.6 39L-3.2 40.1M34 -2.8L39.8 -2.6L40.7 -1.1M-31.2 -16.8L-34.9 -17.2L-34.2 -18.8M-31.3 -16.6L-34.9 -15.5L-36 -14.1M19.8 29.9L20.9 35.4L20.3 37.1M17.2 -32.3L19.7 -35.7L19.1 -37.4" stroke="#220806" stroke-width="1.3" stroke-linejoin="round"/><path d="M-37.3 -3.4h0M9.7 37.1h0M36.4 -8.4h0M-11.4 35.8h0M-22 -28h0M-34.8 -12.5h0M-34.8 14.9h0M14.6 -35.7h0M17 -35.4h0M21.6 29.9h0M30 -24.1h0M30.3 21h0M1.9 -36.4h0M-36.7 8.8h0M29.5 21.5h0M9.9 -36.3h0M10.6 35.5h0M-36.6 10.3h0M33.7 12.5h0M-35.2 -11.8h0M32.8 18h0M29.6 -24.2h0M-30.4 20.6h0M-31.9 -17.5h0M7 37.6h0M33 -19.5h0M-10.4 36.2h0M9.7 35.7h0M29.8 -23.3h0M23.8 27.9h0M35.6 -7.8h0M-19.8 -31.5h0" stroke="#220806" stroke-width="2.6"/><path d="M-10.4 -7.9h0M-14.8 26h0M5.7 -15.3h0M18.6 9.8h0M-29.2 -2.4h0M6 15.1h0M21.8 -13.9h0M23.3 12.7h0M19.3 -27h0M12.3 24.1h0M11.9 17.8h0M15.1 -2.6h0M-28.2 2.9h0M.4 -32.6h0M26.1 12h0M-20.5 3.7h0M10.1 3.9h0M25.9 19.1h0M24.3 11.4h0M7.4 -17.4h0M-2 18.8h0M-7.6 -12h0M-33.1 13.2h0M-19.7 .9h0M6 -31.6h0M12.1 17.2h0M-11.1 -33.4h0M-15.7 33.4h0M16.3 -15.5h0M9.1 -22.8h0M8.4 -35h0M4.6 23.9h0M-17.4 31.8h0M-35.3 7.4h0M-29.4 -6.2h0M9.1 -7.6h0M-4.5 2.4h0M6.2 4h0M25.6 .1h0M-4.7 -21.1h0M20.6 -17.7h0M-3.4 -.9h0M-14.6 19.3h0M12.1 -25.3h0M28.2 -10.8h0M-11.8 -32.1h0M20.5 -11h0M-25.3 -14.7h0M7.9 -9.2h0M-29.8 -5.8h0M-2.8 9h0M-23.8 14.2h0M-17.3 17.2h0M-2.6 11.8h0M-27.6 -21.5h0M-18.8 -18.5h0M6.6 3.2h0M25.9 -25.7h0M-7.4 28h0M17.9 24.9h0M13.8 7.7h0M23 6.9h0M-16.5 -12.3h0M-3.8 23.4h0M15.3 31.8h0M-8.8 23.1h0M-14.8 23.8h0M3 5.2h0M-17.9 28.2h0M-13.4 -23.1h0M27.1 22h0M20.2 -6.2h0M-21.4 22h0M27.1 6.4h0M-17.8 -1.5h0M-31 8.5h0M-.6 19.6h0M16.7 .9h0M10 24.2h0M-21.2 -7.1h0M-14.1 -13.1h0M-27.9 -13.2h0M-13.3 -17.2h0M-17.3 16.8h0M-29.3 -15.9h0M-12 -25.6h0M-29.7 .8h0M7.2 17.8h0M-24.3 6.3h0M5.8 26.2h0M33.5 -11.8h0M3.2 -9.2h0M-4.4 -4.4h0M3.1 -1.4h0M-2.5 -14.5h0M-11.9 .6h0M17.3 -11.9h0M-2.5 2.3h0M18 -25.3h0M28.6 -9.1h0M-34.6 -6h0M20.7 -26.5h0M15 -.1h0M30.4 -7.6h0M9.4 -1.5h0M.3 -4.2h0M-2 -3.5h0M-8.6 4.4h0M-14.3 -13.7h0M.4 -21.7h0" stroke="#150505" stroke-width="3.2"/><path d="M.6 -26.5h0M-11.7 -18h0M-12.8 -29.6h0M9.5 -32.7h0M3.8 -30h0M1.8 -23.9h0M-26.9 -1.5h0M-34.5 -8.2h0M-22.3 2.4h0M-1.7 -11.7h0M-6 -30.8h0M-34.6 1.6h0M-26 -18.6h0M-28.1 -12.2h0M-24.9 -11.2h0M-13.3 -13.1h0M-23.7 -11.1h0M-6.3 -35.7h0M-30.3 -2.4h0M-12.1 -25.5h0M-15.9 -15h0M-31.6 3h0M-4.6 -9.2h0M9.1 -23.1h0M7.5 -18.8h0M-19.9 -7.6h0M10.3 -32.9h0M-27.8 -16.5h0M-29.8 -2.5h0M-18 -24h0M-22.4 -14.5h0M-27.8 -.7h0M-1.6 -10.9h0M3.6 -32.6h0M-13 -24.5h0M-18.7 -12.2h0M-31.3 -16.3h0M-29.5 -1.6h0M-17.7 -17.2h0M-32.8 11.2h0M-25 -20.1h0M-24.8 -3h0M-32 -5h0M-6.2 -31.1h0M-19.8 .4h0M-23.6 -5.9h0M-32.2 -12.3h0M-24.3 -18.7h0M-1.5 -24.6h0M-12.3 -33.2h0M-20.5 -26.3h0M15.3 -29.1h0M-27.5 -19.5h0M-33.3 -10.5h0M-27.5 -10.6h0M-19.7 -27.3h0M-33.8 -6.3h0M11.1 -33.7h0M-30.5 -9.5h0M-3.9 -30.9h0M-31.7 -1.2h0M-20.9 -20.3h0M-18.6 -27.2h0M-29 -7.6h0M-3 -25.4h0M-31.6 -3.4h0M-3.8 -29.4h0M-6.4 -24.8h0M-19 -28.9h0M-.4 -19.3h0M-19.3 -4h0M-29.3 -5.5h0M-21.1 -10h0M.4 -27.9h0M2.2 -13.5h0M7.4 -34.4h0M7.6 -29.7h0M-13.2 -28h0M-9.9 -31.7h0M-22.3 -14.6h0M-6.7 -31.1h0M-16.9 -2.4h0M-12.7 -29.4h0M-31.5 -1.5h0M-17.9 -17.2h0M-16 -20.8h0M-13 -29.8h0M-13.1 -22h0M-18.3 -21.4h0M-16.2 -23.9h0" stroke="#330b06" stroke-width="2.6"/><path d="M-1 -25.9h0M-27.1 4.3h0M-16 -18h0M-23.4 -19.7h0M-27 -13.7h0M-19.1 -19.1h0M-22.8 -18.6h0M-17.4 -30.3h0M.6 -20.9h0M6.6 -34.9h0M-22.3 -12.2h0M-3.1 -28.7h0M-22.2 -11.3h0M-.9 -35.3h0M-9.7 -34.6h0M-5 -26.9h0M-30.9 2h0M-9.7 -23.6h0M-8.5 -23.6h0M-.7 -34.8h0M-25.6 -19.8h0M-2.9 -31.3h0M-2.5 -32h0M-17 -15.5h0M-30.2 .1h0M-2 -17.3h0M2.3 -34.7h0M13.4 -25.3h0M-27.5 -4.4h0M2 -32.7h0M-6.9 -28.8h0M1.5 -18h0M-7.1 -34h0M-16.5 -26.5h0M8.5 -34.1h0M-20.5 -23.9h0M-26.9 -5.6h0M-9.1 -27.3h0M-28.3 -16.4h0M-26.5 2.8h0M-4.4 -31.6h0M-.6 -25.9h0M-27.8 2.9h0M6.7 -29.3h0M-15.7 -28.7h0M-4.1 -30.3h0M-19.6 -2.8h0M-29.8 -18.2h0M-7.9 -15.1h0M2.3 -32.5h0M-14 -8.5h0M-10 -29.1h0M-16.3 -23.9h0M-26.4 -3.7h0M5.1 -34.3h0M-17.3 -14.9h0M-4.3 -35.5h0M-24.3 -12.2h0M-29.7 -11.2h0M-7.2 -30.6h0M-11.9 -34.1h0M7.7 -32.8h0M-12.8 -32.4h0M-7.1 -18.8h0M-22.2 -19.4h0M-16.7 -30.3h0M-27.1 -17.2h0M-34.1 -.8h0M-32.7 8.5h0M-3.4 -23h0M-18.2 -6.5h0M-23.1 -22.1h0M-27 1.7h0M7.4 -20.5h0M-6.7 -27.3h0M-7.1 -27.3h0M-25.9 -20.3h0M-26.2 -19.7h0M-10.5 -9.3h0M-15.2 -21.6h0M-22.5 -18.8h0M-12 -23.5h0M-11.5 -31.3h0M-15.9 -9.7h0M-1.1 -25h0M-17.8 -4.8h0M-5.6 -24.2h0M-34.6 -10.3h0M-25.6 -3.4h0M2.5 -32.5h0M-22.4 -24.9h0M-2.8 -36h0M-20 -28.3h0M-4.1 -25.8h0M-21.4 -9.4h0M-8 -8.1h0M-32.4 -14.2h0M-23.1 -15.9h0M4.8 -28.3h0M-4.4 -35.7h0M10.5 -34.5h0M-24.7 -11.9h0M-11.7 -29.2h0M-8.2 -14.8h0M-13.3 -31h0M-20.8 -15.5h0M-21.6 -18.2h0M-31 1.9h0M-17.6 -13.5h0M-32 -12.3h0" stroke="#751c0d" stroke-width="1.4"/><path d="M9.2 -14.9h0M-1 -25h0M-2.7 -35.1h0M1.6 -17.6h0M2.8 23.9h0M-2.1 26.2h0M-5.4 -32.7h0M19 26.7h0M-33.8 -1.5h0M-24.2 12.3h0M19.8 16.6h0M18.2 19.5h0M15.7 -26.8h0M8.1 27.3h0M27.3 -10.1h0M8.4 19.9h0M15.9 -6.4h0M2.4 4.7h0M-12.9 10.1h0M.8 -17.7h0M21.4 -7.3h0M-16 15.9h0M6.6 19h0M-27.9 -5h0M14 -8.3h0M.8 8.7h0M30.1 11.6h0M17.9 10.3h0M5.2 4.8h0M-22.5 4.6h0M-4.7 .1h0M9.7 -10.3h0M-25 .8h0M3.9 18.1h0M20.7 .6h0M22.4 -5.5h0M-.6 29.1h0M13.4 -30.5h0M16.9 -26.7h0M-3.9 14.9h0M-15.4 -25h0M20.2 -15.9h0M10.3 .8h0M-6.5 -23.8h0M8.6 18.6h0M-2.2 -24.4h0M-24.1 14.6h0M-3.6 29.9h0M10.8 -25.8h0M-21.5 -2.9h0M18.8 -24.3h0M3.1 33.8h0M33.2 7.9h0M.6 -8.4h0M-30.8 6.9h0M-13.1 19.4h0M-19.1 -14h0M11.1 23.1h0M-23.8 -22.1h0M8.6 -30.8h0M-28.8 7.3h0M12.5 -12.5h0M-1.8 36.3h0M8.3 35.1h0M-14.7 21.5h0M3.4 -15.9h0M12.8 19.4h0M16.9 -11.9h0M29 -3.6h0M27.2 -7.3h0M28.4 -16.3h0M-24.4 -17.9h0M-.6 17.6h0M-9.4 -19.2h0M30.6 18.2h0M-21.5 -10.3h0M7.3 -30h0M12.3 24.3h0M20.5 9.7h0M-17.5 25.7h0M-20.3 23h0M-25.9 14.6h0M14.9 -19.5h0M-15 -21.3h0M19.4 21.3h0M26.5 -11h0M11.4 35.1h0M-30.5 16.1h0M12.3 13.7h0M6.5 1.9h0M-22.7 -4.7h0M10.5 -16h0M-9.8 -11.5h0M-8.9 27.6h0M7.8 28.2h0M-3.4 -7.5h0M-26.3 2.6h0M10.4 8.5h0M-8.8 -20.4h0M13.7 24.1h0M20.7 -3.9h0M-20.4 -25.9h0M19.2 -18.7h0M20.5 9.4h0M-10.6 10.2h0M-6.3 26.2h0M-4.5 -7.4h0M12.5 -20.3h0M8.8 29.5h0M-20.2 -24.5h0M19.6 10.9h0M28.5 5.4h0M-2.4 -24.2h0M20.8 -4.5h0M-3.8 8.4h0M17.6 16.1h0M-16.3 -22h0M11.1 -.2h0M29 8.7h0M-19.6 30.4h0M-17.8 -18h0M-12.2 10.1h0M12.1 4.1h0M-2.5 31.4h0M-17.3 -19.2h0M-30.1 -18.4h0M7.7 -11.4h0M20.6 -16.5h0M6.1 19.6h0M-3.9 -31.4h0" stroke="#4f1208" stroke-width="1.1"/><path d="M14 -10.8h0M-6 -20.6h0M23 -23h0M-22.4 -19.5h0M-27.8 -1.7h0M5.6 -23.2h0M-15.8 -23.3h0M22.9 -7.9h0M-9 -26h0M14.2 -4.7h0" stroke="#954419" stroke-width="1.7"/></g>
</g>
<text class="sans" x="2.8" y="32.1" font-size="42">A</text>
<text class="sans" x="1007.6" y="31.6" font-size="42">B</text>
<text class="sans" x="3.3" y="207" font-size="34">Fv/Fm</text>
<text class="sans" x="870.5" y="207" font-size="34">ΦPS(<tspan font-family='"Liberation Serif", serif' font-weight="bold" font-size="35">II</tspan>)</text>
<text class="sans" x="3.6" y="470" font-size="34" font-style="italic">Y(NO)</text>
<text class="sans" x="871" y="470" font-size="34" font-style="italic">Y(NPQ)</text>
<rect x="309.4" y="672" width="389" height="5" fill="#0a0a0a"/>
<rect x="414.7" y="634" width="5.1" height="80.6" fill="#0a0a0a"/>
<rect x="550.8" y="633.5" width="5.1" height="80.2" fill="#0a0a0a"/>
<text class="tbl" x="332.5" y="659.2">Col-0</text>
<text class="tbl" x="437.6" y="659.2">Col-0-N</text>
<text class="tbl" x="571.2" y="659.2">Col-0-C</text>
<text class="tbl" x="332.5" y="700.6"><tspan font-style="italic">atg5-1</tspan></text>
<text class="tbl" x="445.6" y="700.6"><tspan font-style="italic">atg5-1</tspan>-N</text>
<text class="tbl" x="571.2" y="700.6"><tspan font-style="italic">atg5-1</tspan>-C</text>
<rect x="1046.5" y="41.5" width="956" height="549.5" fill="#fff" stroke="#e2e2e2" stroke-width="1.2"/>
<text class="ylab" x="1098.8" y="478.5">0</text>
<text class="ylab" x="1098.8" y="413.1">0.2</text>
<text class="ylab" x="1098.8" y="347.7">0.4</text>
<text class="ylab" x="1098.8" y="282.3">0.6</text>
<text class="ylab" x="1098.8" y="216.9">0.8</text>
<text class="ylab" x="1098.8" y="151.5">1</text>
<text class="ylab" x="1098.8" y="86.1">1.2</text>
<rect x="1133.9" y="225.1" width="15" height="244.4" fill="#5a96cd"/>
<rect x="1152.8" y="225.1" width="15" height="244.4" fill="#e47936"/>
<rect x="1171.7" y="412.9" width="15" height="56.6" fill="#a6a6a6"/>
<rect x="1190.6" y="269.6" width="15" height="199.9" fill="#f3b81f"/>
<rect x="1241.6" y="222.9" width="15" height="246.6" fill="#5a96cd"/>
<rect x="1260.5" y="222.9" width="15" height="246.6" fill="#e47936"/>
<rect x="1279.4" y="413.3" width="15" height="56.2" fill="#a6a6a6"/>
<rect x="1298.3" y="266.1" width="15" height="203.4" fill="#f3b81f"/>
<rect x="1457.0" y="226.4" width="15" height="243.1" fill="#5a96cd"/>
<rect x="1475.9" y="226.4" width="15" height="243.1" fill="#e47936"/>
<rect x="1494.8" y="424.8" width="15" height="44.7" fill="#a6a6a6"/>
<rect x="1513.7" y="262.4" width="15" height="207.1" fill="#f3b81f"/>
<rect x="1564.7" y="268.8" width="15" height="200.7" fill="#5a96cd"/>
<rect x="1583.6" y="268.8" width="15" height="200.7" fill="#e47936"/>
<rect x="1602.5" y="446.0" width="15" height="23.5" fill="#a6a6a6"/>
<rect x="1621.4" y="197.3" width="15" height="272.2" fill="#f3b81f"/>
<rect x="1780.1" y="230.7" width="15" height="238.8" fill="#5a96cd"/>
<rect x="1799.0" y="230.7" width="15" height="238.8" fill="#e47936"/>
<rect x="1817.9" y="421.0" width="15" height="48.5" fill="#a6a6a6"/>
<rect x="1836.8" y="245.1" width="15" height="224.4" fill="#f3b81f"/>
<rect x="1887.8" y="294.0" width="15" height="175.5" fill="#5a96cd"/>
<rect x="1906.7" y="294.0" width="15" height="175.5" fill="#e47936"/>
<rect x="1944.5" y="159.8" width="15" height="309.7" fill="#f3b81f"/>
<path class="eb" d="M1141.4 223.1V226.5M1136.4 223.1h10M1136.4 226.5h10M1160.3 223.1V226.5M1155.3 223.1h10M1155.3 226.5h10M1179.2 406.0V419.3M1174.2 406.0h10M1174.2 419.3h10M1198.1 261.5V277.5M1193.1 261.5h10M1193.1 277.5h10M1249.1 222.4V223.4M1244.1 222.4h10M1244.1 223.4h10M1268.0 222.4V223.4M1263.0 222.4h10M1263.0 223.4h10M1286.9 405.7V420.2M1281.9 405.7h10M1281.9 420.2h10M1305.8 264.3V268.1M1300.8 264.3h10M1300.8 268.1h10M1464.5 225.1V227.6M1459.5 225.1h10M1459.5 227.6h10M1483.4 225.1V227.6M1478.4 225.1h10M1478.4 227.6h10M1502.3 421.6V427.9M1497.3 421.6h10M1497.3 427.9h10M1521.2 257.8V266.8M1516.2 257.8h10M1516.2 266.8h10M1572.2 266.0V271.1M1567.2 266.0h10M1567.2 271.1h10M1591.1 266.0V271.1M1586.1 266.0h10M1586.1 271.1h10M1610.0 441.2V450.0M1605.0 441.2h10M1605.0 450.0h10M1628.9 190.7V202.9M1623.9 190.7h10M1623.9 202.9h10M1787.6 229.1V232.1M1782.6 229.1h10M1782.6 232.1h10M1806.5 229.1V232.1M1801.5 229.1h10M1801.5 232.1h10M1825.4 410.6V431.6M1820.4 410.6h10M1820.4 431.6h10M1844.3 235.6V254.0M1839.3 235.6h10M1839.3 254.0h10M1895.3 280.7V307.5M1890.3 280.7h10M1890.3 307.5h10M1914.2 278.0V310.1M1909.2 278.0h10M1909.2 310.1h10M1928.1 469.0h10M1952.0 145.5V174.0M1947.0 145.5h10M1947.0 174.0h10"/>
<text class="song" x="1141.4" y="215.3" fill="#1f5eac">a</text>
<text class="song" x="1160.3" y="215.3" fill="#d64c20">a</text>
<text class="song" x="1179.2" y="399.6" fill="#6c6c6c">a</text>
<text class="song" x="1198.1" y="254.3" fill="#f0b125">a</text>
<text class="song" x="1249.1" y="217.3" fill="#1f5eac">a</text>
<text class="song" x="1268.0" y="217.3" fill="#d64c20">a</text>
<text class="song" x="1286.9" y="401.7" fill="#6c6c6c">a</text>
<text class="song" x="1305.8" y="257.7" fill="#f0b125">a</text>
<text class="song" x="1464.5" y="219.0" fill="#1f5eac">a</text>
<text class="song" x="1483.4" y="219.0" fill="#d64c20">a</text>
<text class="song" x="1502.3" y="416.3" fill="#6c6c6c">a</text>
<text class="song" x="1521.2" y="252.7" fill="#f0b125">a</text>
<text class="song" x="1572.2" y="258.4" fill="#1f5eac">b</text>
<text class="song" x="1591.1" y="258.4" fill="#d64c20">b</text>
<text class="song" x="1610.0" y="432.8" fill="#6c6c6c">b</text>
<text class="song" x="1628.9" y="183.5" fill="#f0b125">b</text>
<text class="song" x="1787.6" y="222.5" fill="#1f5eac">a</text>
<text class="song" x="1806.5" y="222.5" fill="#d64c20">a</text>
<text class="song" x="1825.4" y="405.5" fill="#6c6c6c">a</text>
<text class="song" x="1844.3" y="230.1" fill="#f0b125">a</text>
<text class="song" x="1895.3" y="270.7" fill="#1f5eac">b</text>
<text class="song" x="1914.2" y="270.7" fill="#d64c20">b</text>
<text class="song" x="1933.1" y="461.6" fill="#6c6c6c">c</text>
<text class="song" x="1952.0" y="137.9" fill="#f0b125">c</text>
<text class="xlab" x="1169.4" y="511">Col-0</text>
<text class="xlab" x="1277.1" y="511"><tspan font-style="italic">atg5-1</tspan></text>
<text class="xlab" x="1492.5" y="511">Col-0-N</text>
<text class="xlab" x="1600.2" y="511"><tspan font-style="italic">atg5-1</tspan>-N</text>
<text class="xlab" x="1815.7" y="511">Col-0-C</text>
<text class="xlab" x="1923.3" y="511"><tspan font-style="italic">atg5-1</tspan>-C</text>
<path d="M1116.6 52.5V469.5H1978" fill="none" stroke="#1a1a1a" stroke-width="1.3"/>
<rect x="1316.2" y="543.4" width="16.2" height="16.2" fill="#5a96cd"/>
<text class="leg" x="1334.0" y="559.6">Fv/Fm</text>
<rect x="1405.8" y="543.4" width="16.2" height="16.2" fill="#e47936"/>
<text class="leg" x="1430.3" y="559.6">ΦPS(II)</text>
<rect x="1518.3" y="543.4" width="16.2" height="16.2" fill="#a6a6a6"/>
<text class="leg" x="1543.3" y="559.6">Y(NPQ)</text>
<rect x="1636.5" y="543.4" width="16.2" height="16.2" fill="#f3b81f"/>
<text class="leg" x="1663.4" y="559.6">Y(NO)</text>
</svg></body></html>
